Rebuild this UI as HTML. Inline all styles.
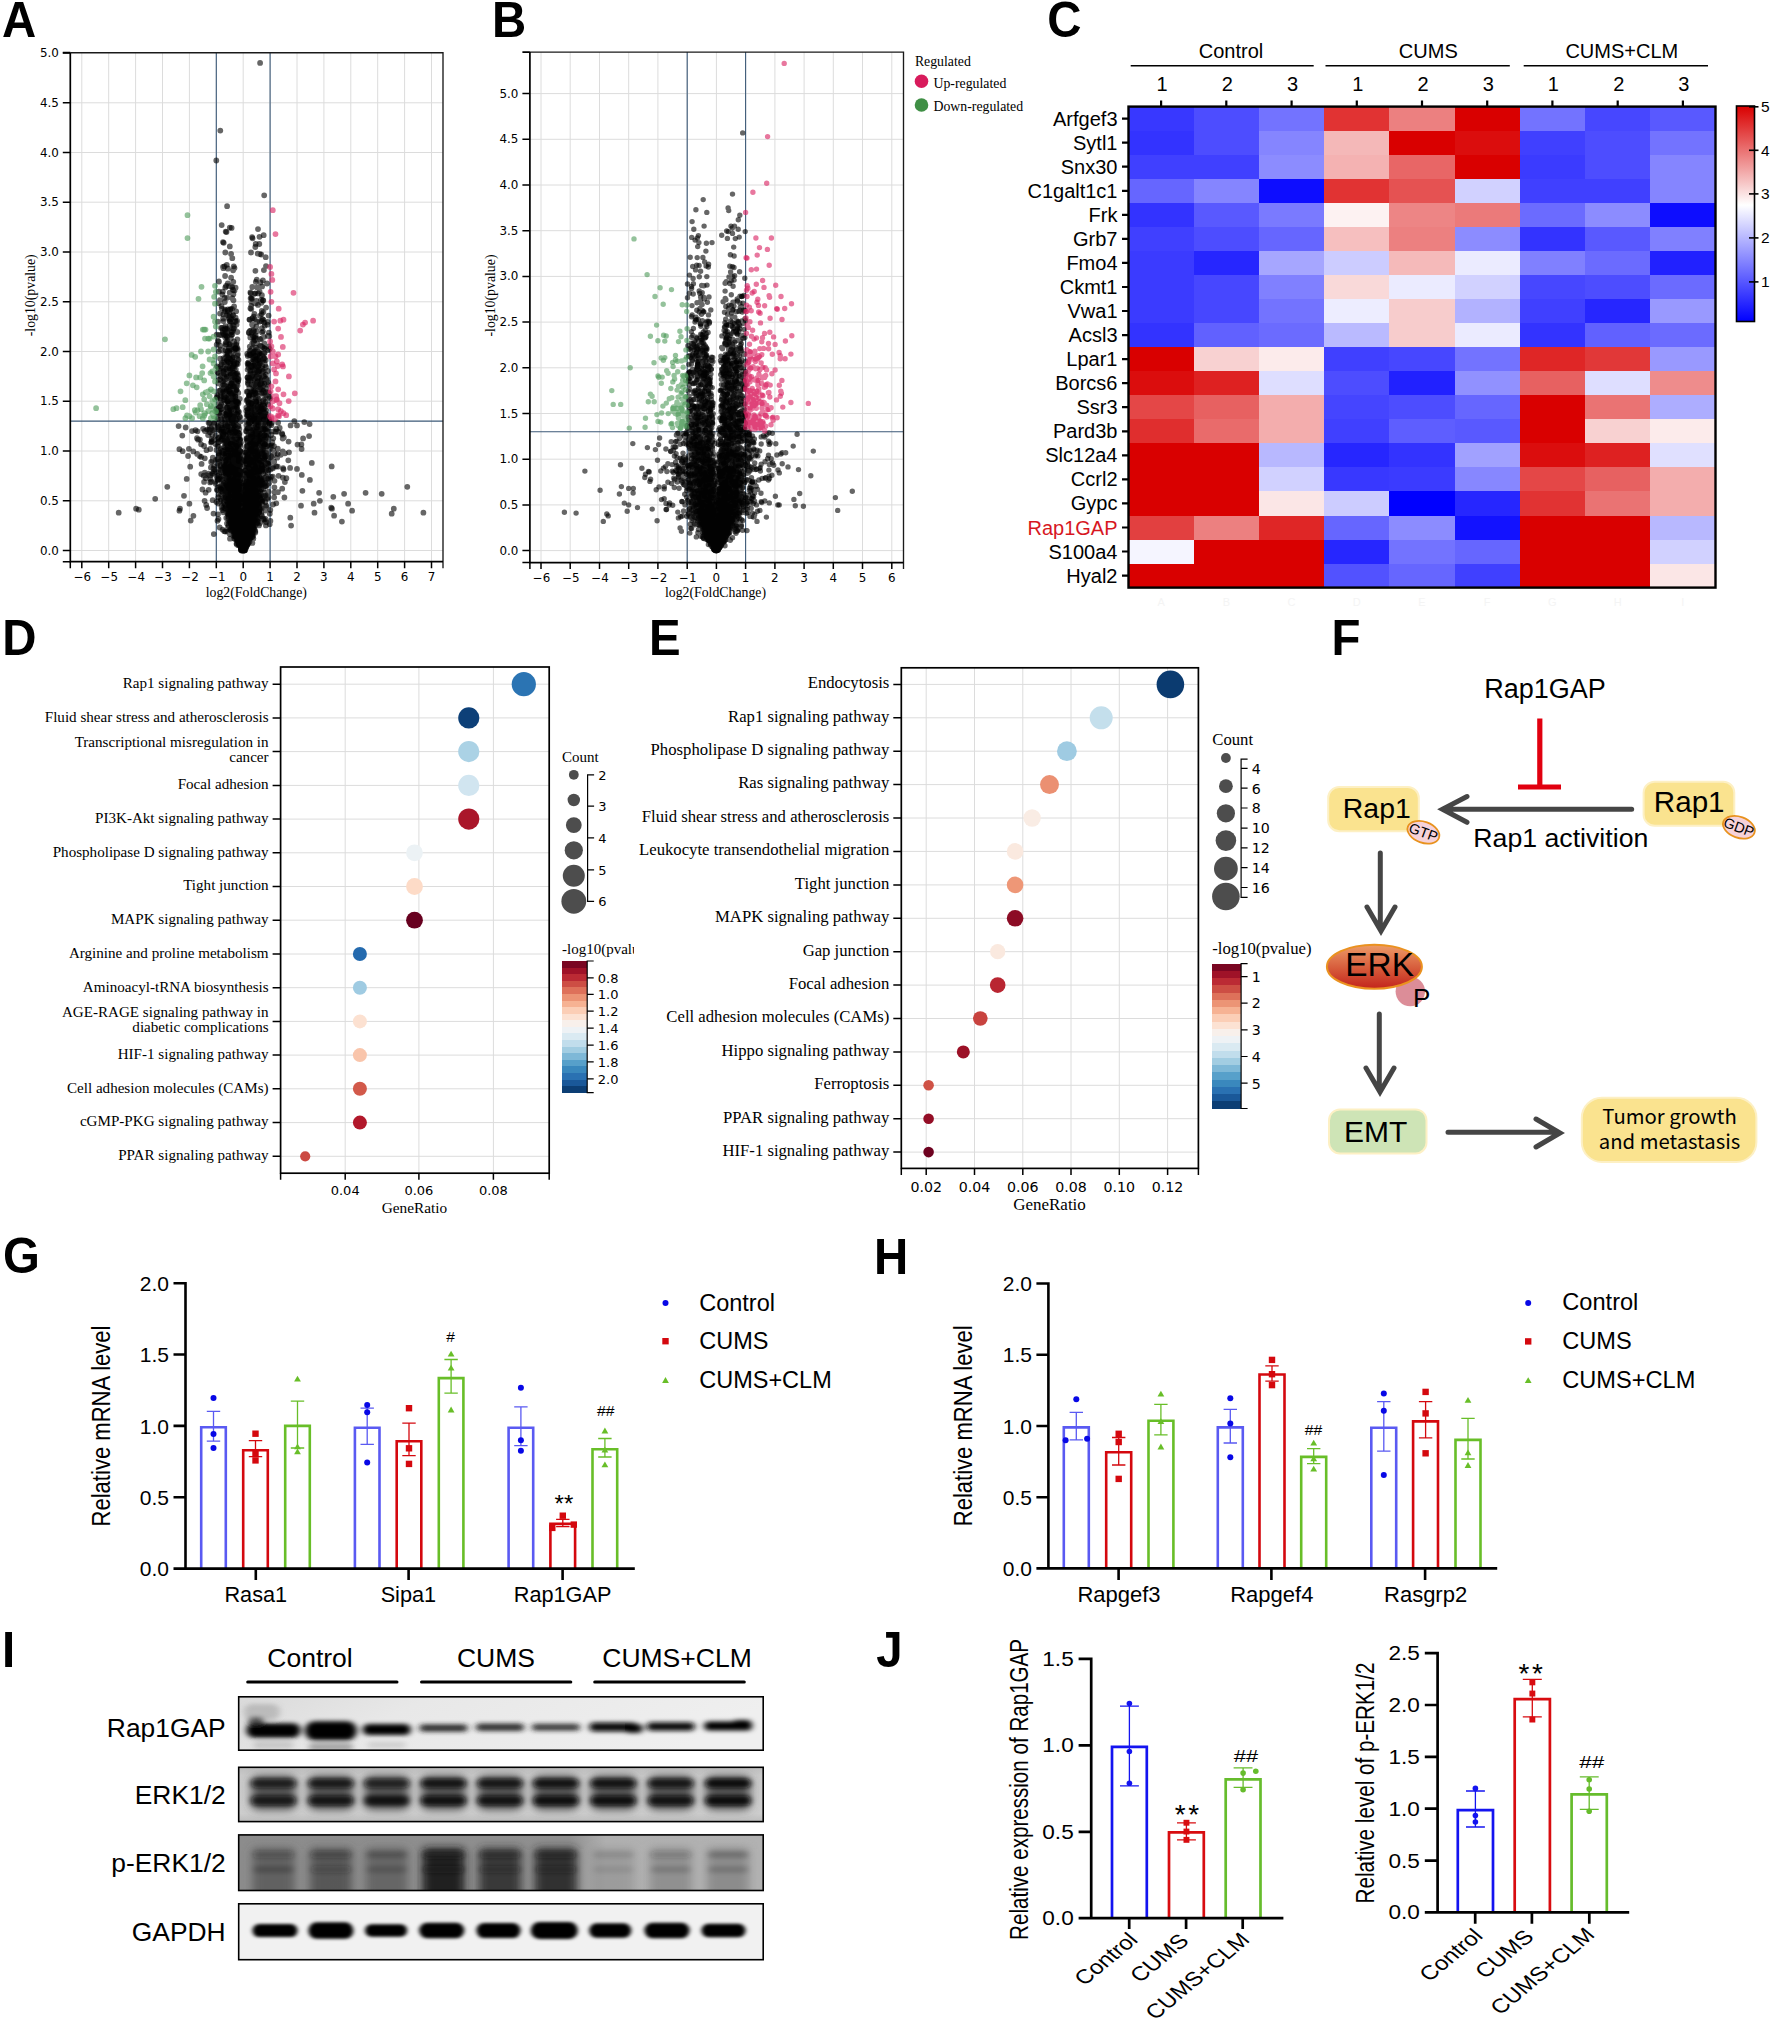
<!DOCTYPE html>
<html lang="en"><head><meta charset="utf-8"><title>Figure</title><style>html,body{margin:0;padding:0;background:#fff}svg{display:block}text{white-space:pre}.s{font-family:'Liberation Sans',Arial,sans-serif}.t{font-family:'Liberation Serif','Times New Roman',serif}.d{font-family:'DejaVu Sans','Liberation Sans',sans-serif}.y{font-family:'Noto Sans CJK SC','DejaVu Sans',sans-serif}</style></head><body>
<svg width="1772" height="2024" viewBox="0 0 1772 2024">
<rect width="1772" height="2024" fill="#fff"/>
<path d="M81.8 52.7V561.7M108.7 52.7V561.7M135.6 52.7V561.7M162.5 52.7V561.7M189.4 52.7V561.7M216.3 52.7V561.7M243.2 52.7V561.7M270.1 52.7V561.7M297 52.7V561.7M323.9 52.7V561.7M350.8 52.7V561.7M377.7 52.7V561.7M404.6 52.7V561.7M431.5 52.7V561.7M70.3 550.5H443M70.3 500.8H443M70.3 451H443M70.3 401.2H443M70.3 351.5H443M70.3 301.8H443M70.3 252H443M70.3 202.2H443M70.3 152.5H443M70.3 102.8H443" stroke="#dcdcdc" stroke-width="1" fill="none"/>
<path d="M216.3 52.7V561.7M270.1 52.7V561.7M70.3 421.1H443" stroke="#3d5a78" stroke-width="1.1" fill="none"/>
<path d="M261.6 415.3h0M244.5 547.6h0M234.2 525.6h0M224.6 422.6h0M232.9 513.6h0M182.3 435.6h0M234.9 527.4h0M232.2 514.5h0M252.5 406.7h0M261.7 381.8h0M249.9 427.5h0M253.6 336.8h0M245.5 536.9h0M246.4 438.9h0M234.4 531.2h0M232.6 473.3h0M219.9 465.5h0M236.1 476.1h0M246.4 522.6h0M248.4 501.8h0M244.4 545.7h0M223.5 378.5h0M237.3 527.2h0M250.5 503h0M262.9 455.2h0M232 489.2h0M239.2 477.2h0M234 403.8h0M249.6 487.1h0M238.5 538.6h0M235.6 529h0M227.1 412.5h0M261.4 371.8h0M266.1 382.5h0M259 483h0M252.5 507.9h0M243 550.4h0M249.8 515.9h0M248.2 452.3h0M247.4 536h0M236.7 527.5h0M247.6 517.3h0M232.3 502.6h0M247.7 531.3h0M234.6 527.9h0M247.3 471.6h0M237.7 484.5h0M245.1 542.3h0M226.1 342.2h0M278.1 431.7h0M229.8 246.4h0M232 499.5h0M254.8 523.1h0M229.6 321.3h0M234.5 381.6h0M238.5 531.5h0M240.5 533.9h0M231 500h0M237.6 385.6h0M228.2 515.5h0M250.5 516.5h0M252.1 367.2h0M243 545.9h0M251 447h0M255.7 523.4h0M249.9 490h0M218.6 341.7h0M258.7 433.6h0M224.6 493.6h0M243.4 550h0M266.4 379.7h0M233.8 528.7h0M211.8 426.9h0M250.6 495h0M264.6 428.2h0M227.9 268.7h0M246.1 540.2h0M241.2 535.3h0M238.6 433.5h0M245.5 525.4h0M237.4 355.5h0M236.4 432.4h0M252.6 374.9h0M221.4 466.2h0M241.7 533.4h0M229.1 410.9h0M245.4 527.8h0M251 463.5h0M240.6 532.4h0M232.2 298.2h0M250.6 351.2h0M250.4 441.9h0M246.1 451.6h0M244.7 486.9h0M244.2 523.6h0M246.4 543.2h0M237.3 521.6h0M255.3 415.2h0M251.5 336.7h0M235.9 493.7h0M267 283.5h0M243 548.9h0M232.9 515.5h0M243.5 549.4h0M264.4 458.3h0M246.4 540.6h0M236.2 445.9h0M263.5 390.8h0M247.1 537.4h0M266.4 436.1h0M241.5 531.5h0M236.8 363.1h0M248.9 532h0M251.1 437h0M238.2 491.8h0M251 533.8h0M236.1 508.2h0M234.7 482.7h0M259.2 402.5h0M252.1 469.5h0M244.6 541.5h0M254.9 510.9h0M234.3 344.1h0M252.3 411h0M254.5 505.2h0M248.1 492.7h0M239.6 494.6h0M282.4 434.7h0M197.2 453.9h0M242.9 549.7h0M242.7 548.1h0M232.9 491.3h0M244.2 547.7h0M236.2 507.1h0M240.1 522.3h0M261.2 420.4h0M240.9 540.6h0M253 509.9h0M241.4 535.1h0M237.4 508.5h0M240.1 501.1h0M245.1 540.5h0M236 524.1h0M227.4 463.2h0M239.1 542.3h0M251.9 353.7h0M233.3 403.2h0M234.9 506.3h0M230.8 523.4h0M252.8 484.8h0M393.8 508.7h0M219 453.4h0M225.1 329.2h0M238 531h0M263.4 473.4h0M219.3 334.9h0M238.1 439.2h0M249.7 490.9h0M236.8 407.9h0M221.9 426.3h0M248.7 528.9h0M255.9 469.8h0M265 495.9h0M240.6 543h0M231.4 419.1h0M247.2 501.4h0M244.9 537.2h0M252.9 514.3h0M248 531.5h0M256.5 300.9h0M240.9 530.3h0M236.8 454h0M241.9 548.9h0M252.5 471.4h0M231.1 254h0M241 549.4h0M243.9 547.3h0M263.9 423h0M254.5 366.9h0M253.3 508.6h0M219.7 527.5h0M227.1 297.8h0M238 514.8h0M233.4 525.5h0M227.5 490.7h0M262.3 455.4h0M219.8 486.6h0M246.2 497.8h0M242.1 548.5h0M246.6 529.9h0M218 479.2h0M263.1 449.8h0M242.2 543.1h0M227.7 450h0M250.6 498.8h0M262.9 450.5h0M239.5 439.6h0M234.5 526.3h0M257.3 407.5h0M262.2 408.7h0M248.7 498.9h0M264.9 468h0M243 547.7h0M240.1 522.1h0M221.5 363.1h0M241.5 502h0M252.9 531.2h0M276.3 466.3h0M245.6 490.2h0M232.7 471.4h0M237.2 529h0M242.8 534.8h0M228.4 516.7h0M246.2 509.1h0M235.8 532.8h0M250.8 517.3h0M242.5 538.6h0M248.1 472.8h0M259.1 458.6h0M257.2 427.8h0M232.4 381.9h0M257.4 459.9h0M243.8 520.1h0M250.5 533h0M242.6 542.2h0M220.1 366.3h0M236.8 539.7h0M254 303h0M251 515.9h0M242.8 533.3h0M253.6 523.2h0M244.2 528.5h0M232.5 502.6h0M244.7 543.4h0M232.2 521.9h0M234.7 350h0M253.8 508.3h0M244.5 517h0M252.5 427.7h0M235.9 531.5h0M252.7 532.7h0M250.5 515.8h0M178.6 426.1h0M253.1 524.6h0M239.9 540.2h0M259.7 475.1h0M238.9 515.7h0M220.1 406.4h0M240 515.5h0M240.3 539.9h0M237.5 398.7h0M248 537.2h0M245.4 542.2h0M251.6 534h0M259.9 452.8h0M236.5 389.5h0M241.1 542.1h0M247.5 541.4h0M205.6 492.7h0M302.4 490.8h0M235.8 514.9h0M232.8 357.6h0M241.5 541.9h0M240.2 480.2h0M260.3 370.7h0M234.4 452.7h0M245.9 530.7h0M254.5 496h0M243.7 543.3h0M243.2 537h0M243.7 547.6h0M246.6 530.5h0M241.3 542.5h0M278.1 422.7h0M254.4 512.6h0M231.4 477.8h0M238.8 519.3h0M249.7 465h0M243.4 549.2h0M224.1 380.8h0M251.2 475.5h0M246.2 545.1h0M271.7 445.3h0M244.6 528.3h0M230 479.8h0M257.8 479.9h0M243.5 549.6h0M242.5 549.6h0M246.2 543.4h0M253.5 472.3h0M239.4 458.6h0M236.2 495.9h0M245.8 538.5h0M242.1 547.1h0M249.3 461.2h0M246 539.4h0M235.6 528.2h0M240.1 545.4h0M221.7 507.8h0M235.2 405.8h0M243.3 530.7h0M255.2 392.7h0M239.4 540h0M243.9 543.6h0M244.7 505.7h0M248.7 490.2h0M242.8 531h0M236.9 487.4h0M238.5 532.3h0M234.2 483.7h0M244.5 546.2h0M232.8 505.6h0M257.8 352.4h0M240.2 497.9h0M236.6 517h0M251.2 301.5h0M252.1 503.1h0M248.2 527h0M251.4 527.8h0M218.4 383.4h0M249.3 531.9h0M235.2 418h0M255.1 441.4h0M232.6 367.4h0M265.6 465.3h0M251.5 508h0M247.5 523.5h0M233.2 493.2h0M256 427.7h0M246.2 543.7h0M228.9 414.5h0M248.4 506.6h0M246 540h0M233.3 517h0M246.1 493.6h0M237.1 522.2h0M238.4 516.2h0M247.8 542.2h0M246.3 446.6h0M257.4 513h0M244.7 544.5h0M233.3 502.6h0M234.4 413.4h0M231.8 485.2h0M244.8 531.9h0M226.5 232.1h0M252.7 498.4h0M229.5 521.8h0M226 455.5h0M244.5 514.8h0M261.6 314.1h0M247.4 469.6h0M230.3 346.4h0M252.2 460.9h0M248.6 503.3h0M231.2 504.3h0M255.4 432.3h0M216.6 427.3h0M238.5 456.3h0M236.5 399.6h0M242.5 537.2h0M246.2 536.8h0M243.5 545.5h0M221.8 386.2h0M232 515.8h0M245.9 528.3h0M254.8 491.4h0M256 509h0M251.9 512.2h0M232.3 526.9h0M240.6 527h0M243.9 544.3h0M252.7 472.4h0M241.2 545.9h0M138.8 509.7h0M241.2 518.1h0M234 491h0M234.9 507.7h0M228.6 466.2h0M255 481.8h0M245.3 546.8h0M256.1 448.5h0M246.9 537.7h0M251.3 451.6h0M352.1 510.7h0M253.3 506.8h0M250.7 459.7h0M255.8 444.5h0M239.9 532.5h0M247.8 527h0M240.9 544.3h0M238.9 490.3h0M242.1 547.3h0M248.4 539h0M241.5 547.3h0M233.5 468.5h0M253.3 465.4h0M230 470.1h0M241 545.1h0M248.7 526.2h0M236.9 537.4h0M245.4 470.6h0M254.2 371.5h0M246.7 535.9h0M256.4 505h0M248.1 380.5h0M231.3 451.2h0M235.6 518.6h0M230.4 414.9h0M248.7 496.3h0M219.6 463.8h0M256.6 522.9h0M242.3 542.7h0M247.2 515.8h0M243.1 547.3h0M237.9 400.8h0M253.5 522.2h0M227.1 401.1h0M341.9 521.6h0M240.3 539.1h0M249.6 478.8h0M224.1 391.5h0M245.3 507h0M238 528.5h0M240.6 540.7h0M231.5 466.8h0M220.8 374h0M243.7 550.3h0M250.9 525.6h0M238.7 520.1h0M238.6 522.3h0M222.2 436h0M240.3 540.7h0M251.2 524.7h0M218.4 373.3h0M248.8 505.6h0M235.4 534.4h0M239.3 520.3h0M230.1 512.1h0M225.2 309.7h0M272.8 476.6h0M212.9 431.2h0M252.6 518h0M235.6 529.6h0M264.3 444.1h0M219.4 412.6h0M231.4 473.5h0M255.1 466.2h0M241.4 526.5h0M246.8 535.1h0M234.7 498.4h0M226.5 500.9h0M234.4 520.2h0M226.5 385.8h0M251.8 477.8h0M227 398.9h0M263.8 370.7h0M212.4 473.4h0M244.3 540h0M254.3 525.4h0M244.6 528.4h0M290.1 467.9h0M241.1 545.3h0M246.7 536.3h0M230.6 373h0M235 522.7h0M228.6 465.4h0M246.2 504.5h0M331.7 466.4h0M239.8 536.9h0M235.3 502.6h0M223.3 314.5h0M237.8 534.4h0M274.5 480.8h0M244.1 548.5h0M246 539.5h0M232.6 475h0M228.9 484.7h0M250.1 509.1h0M262.3 516.9h0M245.8 536.9h0M223.6 485.3h0M235.5 484h0M242.5 550.2h0M236.9 480h0M240.8 542.1h0M247 545.4h0M225.4 496.5h0M244.7 516.2h0M255.6 455.2h0M234.3 515.8h0M244.6 485.4h0M231.6 528.6h0M251.2 529.4h0M247.1 540.6h0M249.3 529.5h0M254.6 467.7h0M264.4 348.3h0M259.3 359.4h0M234.1 431.6h0M245.4 532.9h0M248.3 501.3h0M236.1 526h0M244 548.4h0M247.5 512.8h0M232.4 506.4h0M255 435.8h0M240.4 528.3h0M260.1 414.6h0M238.1 535.6h0M260.1 339.2h0M234.4 518.9h0M244.1 549.4h0M248 520.9h0M257.7 253.6h0M249.3 488.8h0M234 421.3h0M229.5 484.9h0M243.2 538.5h0M231.3 420.1h0M240.7 527.7h0M250.9 512.6h0M255.3 409.7h0M212.3 434.9h0M243.7 548.4h0M247.3 467.9h0M241.8 547.3h0M237.4 347.9h0M244.5 542h0M251.2 491.6h0M248.5 538.8h0M242.7 544.5h0M230 483.8h0M251.7 515.2h0M235.8 526.3h0M259.3 508.1h0M222.7 492.2h0M244.4 533.6h0M239.2 501.7h0M238.8 518.7h0M240.5 498.2h0M232.7 393.1h0M235.9 512.9h0M243.5 549.9h0M240.3 543.6h0M255.4 467.6h0M261.4 496.1h0M226.2 460.9h0M226.5 486.1h0M241.4 471.6h0M252.9 520.4h0M251.6 300.8h0M236.6 324.5h0M249.4 518.9h0M242.8 548.7h0M223 429.5h0M249.7 450.5h0M247.6 520.6h0M244.6 546h0M250.4 515.5h0M233.8 393.9h0M254 440.2h0M250.2 534.2h0M235.6 504.4h0M245.5 506.9h0M228.2 489.4h0M301 505.7h0M229.4 383h0M244.2 545.7h0M256.3 425.1h0M268.1 478.7h0M240.1 540h0M255.6 487.1h0M243.4 538h0M246.6 541.9h0M242.9 543h0M245.1 537.5h0M257.3 395.3h0M244.4 518.9h0M242.1 544.8h0M250.6 298.3h0M240.5 517.5h0M236.4 380.6h0M234.8 508h0M223.6 428.8h0M232.3 258.2h0M244.7 536.7h0M254 451.4h0M264.5 520.3h0M239 411.8h0M241.7 519.3h0M252.1 489.7h0M233.2 342.8h0M274.4 487.3h0M218.3 437.9h0M230 502.2h0M253.9 514.3h0M265.4 501.9h0M243.7 538.4h0M250.9 466h0M241.4 545.6h0M238.7 495.3h0M244.9 536.5h0M237.7 483h0M237.4 524.4h0M232.4 469.1h0M239 533.1h0M224.7 469h0M245.2 496.7h0M242.8 542.1h0M246.8 391.7h0M234.3 513.8h0M240.8 492h0M257.2 502.7h0M235.7 454.5h0M254.2 481.6h0M244.8 529h0M255.2 499.8h0M230.6 480.2h0M224.8 302h0M240.5 530.6h0M244.5 545.5h0M246.9 518.1h0M227.8 465.1h0M244.1 542.4h0M238.1 485.7h0M234.9 495.1h0M238.2 511h0M242 548.2h0M240.1 471h0M254.7 446.9h0M237.9 522h0M247 522.7h0M236 520.1h0M239.1 532.2h0M238.1 541.2h0M244.9 546.5h0M251.1 476.1h0M246.3 537.9h0M239.2 534.9h0M240.2 530.6h0M243.5 535.2h0M245.5 532.1h0M227.6 315h0M238.1 517.2h0M225.5 488.3h0M254.2 474h0M260.1 422.6h0M223.8 396.1h0M243.5 540.1h0M257.9 511.3h0M236.3 499.2h0M255.6 427.4h0M241.3 542.1h0M257.2 440.3h0M235.8 486.6h0M239.4 474.4h0M241 546h0M242 525.8h0M245.2 531.6h0M232.9 476.6h0M262.3 452.2h0M235.2 521.1h0M218.8 351.3h0M221.6 505.4h0M252.3 449.3h0M242.3 544.1h0M258.7 500h0M242.6 522.3h0M251.8 429.4h0M232.2 475.1h0M246.6 536.9h0M244.1 542.1h0M247 472.2h0M253.9 365.5h0M234.9 382.1h0M242.9 544.7h0M237.4 373.5h0M228.4 379.9h0M267.4 384.7h0M233.2 503.7h0M262.5 483.1h0M239.1 532h0M230.6 517.7h0M236 529.3h0M240.9 537.3h0M246.1 448.4h0M219.2 461.6h0M229.1 506h0M239.7 503.7h0M247 459.7h0M241.8 544.4h0M223.2 362.4h0M274.2 431.4h0M250 508.4h0M251.7 517.3h0M230.7 361.5h0M225.5 335.3h0M254.7 445.3h0M246.3 508.2h0M236.7 538h0M249.6 443.9h0M243.4 538.5h0M226.7 423.6h0M235.6 447.6h0M246 542.5h0M259.4 510.5h0M244.1 540.8h0M238.7 541.4h0M232.9 386.2h0M231.6 482.1h0M248.6 364.1h0M243 544.8h0M249.2 492h0M237.6 474.3h0M233.1 529.1h0M236.7 470.1h0M234.4 531.9h0M245 544.4h0M248.9 530.6h0M244.9 532.4h0M247.8 486.3h0M223.6 434h0M247.7 428.3h0M234.1 341.4h0M247.5 457.3h0M245.8 532.6h0M245.1 541.7h0M241.2 521h0M240.9 495.4h0M253.3 394.8h0M242.7 549.7h0M250.7 366.5h0M225.4 453.5h0M240.3 529.6h0M255.9 458.9h0M237.1 488.9h0M257.9 467.8h0M226.4 489.2h0M242.5 549h0M259.3 352.2h0M241.6 546.5h0M242.4 545.2h0M259 525.4h0M259.5 416.7h0M236 526.7h0M228.4 393.7h0M262.2 468.7h0M249.4 319.6h0M228.1 426.8h0M256.7 504.6h0M257.7 512h0M252.4 524.9h0M261.6 379.9h0M247.4 539.8h0M249.5 525.9h0M252.5 519.4h0M239.8 398.8h0M239.4 470.7h0M255.2 512.3h0M240.5 527.9h0M240.8 545h0M239.1 511.9h0M260 470.2h0M224.9 456.2h0M242 495.3h0M254.2 515.2h0M253.5 462.9h0M243 546.7h0M250.6 495.3h0M263.5 409.5h0M252.7 463.5h0M245.3 545.9h0M248.2 535.3h0M235.2 516.7h0M234.3 449.3h0M240.9 532.6h0M259.6 434h0M248.4 437.1h0M241.9 534.9h0M265.9 438.1h0M241.3 541.1h0M233.1 481.5h0M230.4 510.2h0M230.3 349.2h0M236.9 523.5h0M266.5 467.7h0M241.6 541h0M249.3 498.7h0M237.8 478.1h0M233.1 477h0M258.1 508.3h0M245.6 533h0M250 506.2h0M246.1 544.4h0M235.2 495.4h0M245.4 538.5h0M261.9 461.1h0M261.4 484.4h0M242.5 532.4h0M251.8 451.4h0M241.5 501.3h0M252.8 525.7h0M234.6 382h0M264.3 439.2h0M246.5 539h0M240.2 497.6h0M229.5 403.7h0M227.8 460.7h0M226.1 473.5h0M228.3 498.3h0M230.8 454.9h0M251 470.7h0M258 492.2h0M230.4 503h0M234.4 487h0M246.2 510.7h0M217.1 397.8h0M223.7 429.8h0M237.8 514.7h0M239 542.6h0M248.8 523.9h0M258.3 400.7h0M237.1 320.9h0M231.4 423.3h0M237.7 501.7h0M238 537.7h0M255 453.5h0M254.2 439.4h0M242.9 548.7h0M242.1 546.9h0M256.8 499.4h0M236.4 537.8h0M243.8 545.3h0M260.4 479.3h0M240.2 542.8h0M249 540.1h0M261.6 515.2h0M240.6 526h0M257.7 398.6h0M244.1 550.4h0M247.7 526.5h0M231.3 508.9h0M252 531h0M238.7 461.1h0M238.9 544.2h0M245.5 545.5h0M247.4 529.1h0M243.5 549.1h0M231.6 497.5h0M229 463.8h0M235 516.8h0M259.6 498.2h0M239.2 542.3h0M228 494h0M245.8 532.9h0M236 502.4h0M249.9 520.3h0M251.1 524.1h0M254.1 483.1h0M242.7 548.7h0M243.4 538.1h0M248.7 513.9h0M257.9 465.6h0M240.6 515.1h0M236.2 420.2h0M243.3 547.7h0M250.3 516.1h0M254.9 402.1h0M254.9 514.8h0M303.1 438.4h0M283.1 468.2h0M255.3 479.9h0M258.1 419.4h0M238.6 523.9h0M257.9 496.9h0M243.2 547.7h0M232.9 491.3h0M256.7 506.7h0M247.6 521.6h0M237.6 519.7h0M244.4 545.8h0M229.8 407.3h0M262.1 500.1h0M241.1 534.9h0M255.3 372.1h0M238.4 525.1h0M261.7 393.8h0M301.6 449h0M247.3 531.3h0M258.2 439.6h0M253.9 479.9h0M250.3 523h0M247.5 452h0M247.7 531.2h0M244.2 527h0M246.2 540.4h0M241.8 548.7h0M240.1 535.3h0M234 490.5h0M234.6 513.4h0M258.7 369.5h0M254 461.2h0M243.2 546.4h0M238.8 536.7h0M236.8 521.9h0M237.2 531.6h0M229.9 490.8h0M247 502.8h0M230.5 443.9h0M231.6 450.1h0M262.6 499.3h0M234 342.2h0M233.9 325h0M230.9 483.9h0M239.2 476.2h0M259.2 441.4h0M245.5 514.5h0M244.2 548.9h0M230.9 513.4h0M216.3 160.5h0M227.9 268.5h0M268 463.3h0M245.8 522.3h0M248.2 533.1h0M251.7 444.6h0M244.1 550.4h0M252.5 359.2h0M239 451.2h0M251.1 419.5h0M246.6 505.6h0M250.5 336.3h0M257.1 406.6h0M241.7 528.3h0M255.9 463.1h0M255 480.1h0M232.5 513.9h0M242.3 545h0M242.3 546.9h0M257.9 360.2h0M235 535.9h0M182.6 451.2h0M238.2 509.3h0M233.8 524.2h0M234.4 413.4h0M261 484.6h0M235.7 485.2h0M228.7 404h0M243.9 550.2h0M235.7 531.1h0M234 530.2h0M238.7 533.7h0M238.2 532.7h0M247.8 519.2h0M266.2 421h0M244.2 536.1h0M249.8 518h0M258.2 495.8h0M257 359.3h0M248.5 506.3h0M232.4 371.5h0M236.8 471.1h0M233.1 315.4h0M258.2 404.6h0M234.4 382.1h0M247.8 541.8h0M247.7 538.9h0M247.8 455.4h0M277.7 454.1h0M260.1 384.5h0M235.5 525h0M264 445.2h0M242.5 549.5h0M228.3 361.9h0M235.6 519.3h0M263.4 375.5h0M266.9 430.8h0M239.5 486.1h0M252.7 498.7h0M240.7 547h0M250.7 510.8h0M239.7 510.9h0M229.2 474.4h0M245.1 544h0M226.2 464.9h0M265.3 486.1h0M226.7 387.8h0M254.8 520.7h0M224.6 331.7h0M247.7 530.5h0M236.4 534h0M238.6 498.5h0M207.2 429.6h0M233.7 521.7h0M256 496.6h0M248.7 482.4h0M243.8 538.7h0M234.2 504.8h0M250.1 530h0M251.2 525h0M224 400.3h0M235.3 502.6h0M243.2 547h0M269.7 431.4h0M234.1 406.7h0M245.9 543.4h0M243.2 549h0M238.9 544.4h0M243.2 535.9h0M233.5 346.7h0M214.1 423.6h0M257.8 460.1h0M247.9 539.6h0M229.5 432.7h0M243.3 549.6h0M256.5 473.1h0M226.1 285.9h0M228.4 458.2h0M230.3 529.7h0M259.2 461.9h0M233.8 519.1h0M251 377.9h0M232.7 444.6h0M236.3 496.3h0M253 510.8h0M249.1 396.9h0M251.1 402.9h0M247 510.7h0M250 502.8h0M250.3 536.1h0M252.7 407.9h0M244.6 546.7h0M407.3 486.8h0M239.8 490.1h0M222.8 491.5h0M250.3 337.5h0M240.4 536.6h0M238.8 458h0M246.8 541.6h0M235.2 521.8h0M247.2 353.9h0M240.4 518.5h0M249.7 528.8h0M238.6 528.1h0M254.3 504.7h0M241.8 547.7h0M234.6 520.1h0M229.5 503.9h0M255.7 429.1h0M238.5 454.6h0M244.5 526.7h0M253.7 420.7h0M226.7 470.9h0M237.4 518.8h0M251.8 504h0M238.8 533.6h0M241.1 536.9h0M252.9 506.6h0M244.8 541.7h0M239.8 540.4h0M242.4 545.2h0M266 367.1h0M257.9 454.1h0M185.7 427.5h0M237.5 525.6h0M240.7 536.9h0M237.9 539.9h0M236.4 535.6h0M240 526.3h0M239.6 535.4h0M238.2 447.5h0M241.3 512.9h0M246.1 494.9h0M238.3 534.2h0M243.5 546.7h0M238.2 521.5h0M234.8 425.8h0M241 514.8h0M230.3 309.1h0M239.1 532.9h0M245.2 539.6h0M233.4 516.8h0M240.7 515h0M250.1 512.2h0M244 545.7h0M236.9 473.3h0M246.4 531.6h0M250.4 504.3h0M255.1 351.1h0M239.9 539.7h0M249.5 530.4h0M246.5 529.4h0M245.7 526.5h0M223.7 371.3h0M255.4 491.3h0M232.2 287.1h0M240.7 510.8h0M244.8 508.4h0M247.4 399.8h0M244.4 546.7h0M246.3 493.9h0M252.5 445.2h0M260.1 356.6h0M220.8 425.1h0M235.7 529.6h0M190.7 520.6h0M238 503.2h0M251.9 392.6h0M252.5 466.6h0M245.4 461.3h0M256.3 470.9h0M253.6 475.4h0M199.6 456.1h0M239.4 540.4h0M241.3 490.7h0M246.3 533.1h0M243.7 549.2h0M245.7 530.5h0M233.5 300.3h0M238.6 518.3h0M249.1 375h0M240.4 451.2h0M246.3 537.5h0M254.7 462.6h0M227.6 472.3h0M236.9 515.2h0M243.9 542.5h0M180 508.7h0M247.8 534.7h0M256 510.5h0M250 418.2h0M244.8 492.5h0M228.8 348h0M247.4 524.3h0M263.3 300.5h0M224.4 376.8h0M238.6 501.3h0M236.4 530.7h0M251 530.9h0M246 539.5h0M247.5 528.1h0M241.7 545.2h0M224.9 457.4h0M234.7 363.9h0M247.2 509.9h0M255.9 303.3h0M234.2 487.4h0M251.6 410.5h0M247.7 412.4h0M255.8 498.4h0M218 514.3h0M253.4 479.8h0M289 452.3h0M223.9 371.6h0M219.4 452.3h0M249.7 475.2h0M236.4 503.8h0M245.4 511.7h0M235.7 484.8h0M266.1 416.2h0M243 544.1h0M238.1 506.3h0M211.2 462h0M241.1 530.8h0M264.3 322.6h0M248.7 518.8h0M245.6 542h0M242 543.8h0M247.2 513.8h0M239.5 538.6h0M244.4 543.9h0M237.2 470h0M247.8 497.4h0M242.9 550.4h0M259.7 254.1h0M247.2 452.8h0M258.8 504.9h0M236.5 482.5h0M245.5 515.8h0M249.4 460.5h0M251.2 532.2h0M238.3 534.8h0M250.1 506.2h0M246.9 498.9h0M256 491.4h0M233.1 508.5h0M240.5 539.7h0M238.4 518.6h0M244.5 549.6h0M224.3 531.2h0M242.8 537h0M238.6 540h0M238.5 540h0M229.8 381.9h0M266.4 522.2h0M235.4 488.5h0M254.7 490.6h0M253 480.2h0M235.9 499.3h0M233.3 506.7h0M259 471.4h0M226.6 490.9h0M237.9 519.9h0M241 528.2h0M231.3 509.9h0" stroke="#000" stroke-opacity="0.6" stroke-width="5.8" stroke-linecap="round" fill="none"/>
<path d="M241.1 532.7h0M242.3 548.7h0M243.1 529h0M230.2 358.9h0M249.3 526.7h0M241.6 541.2h0M229.4 474h0M233.7 522.8h0M269.7 462.6h0M237.8 533.6h0M228 509.1h0M229.4 344.2h0M254.4 426.8h0M271 477h0M238.2 523.5h0M241.6 538.6h0M248.1 516.7h0M231.3 463.8h0M237.4 526.2h0M252.6 512.9h0M244.5 537h0M236.8 425.5h0M219.2 474.1h0M232.6 524.2h0M227.9 333.7h0M243.7 549.9h0M252.4 491.9h0M237.6 537.6h0M245.2 545.3h0M253.4 512.3h0M224.5 416.6h0M253.1 451.8h0M268.2 451.4h0M333.3 496.8h0M210.4 478.8h0M240.5 521.6h0M232.6 484.4h0M250.3 491.7h0M244 545.7h0M240 537.8h0M221.1 397.4h0M229.3 391.1h0M241.4 511.7h0M232.2 453.4h0M220.1 390.7h0M251 252.5h0M229.2 386.9h0M254.7 519.4h0M246.2 515.8h0M245.5 541h0M234.6 514.4h0M255.6 499.3h0M245 535.2h0M240.1 516.6h0M252.2 514.9h0M270.3 510h0M239.9 513.3h0M241 537.6h0M238.2 541h0M241 540.1h0M242.9 546.3h0M283.8 437.4h0M248.2 517.3h0M246.8 517.3h0M237.4 481.3h0M250.1 476.6h0M241.3 549h0M242.1 545.8h0M234.6 417h0M231.5 524.8h0M241.2 536.7h0M243.1 549.5h0M262.3 355.9h0M230.8 498.6h0M239.3 517.9h0M250.8 501.4h0M262.5 319.1h0M260.1 62.9h0M219.8 440.4h0M242.3 541.2h0M232.8 490.8h0M228.1 507.9h0M229.7 461.5h0M238.7 541.4h0M251.8 530.4h0M227.7 492h0M256.9 374.5h0M252.8 325.2h0M262.4 365.8h0M248 428.4h0M237.9 531.3h0M240.3 539.8h0M242.5 541.8h0M238.3 508.1h0M235.5 528.5h0M263.5 423.5h0M250.2 532.2h0M250.4 533.1h0M228.3 474.4h0M240.8 542.1h0M256.7 279.7h0M245.1 494h0M248.3 537h0M248 530.8h0M215.3 481.8h0M231.7 422.8h0M202.4 489.5h0M247.7 480.1h0M259.3 446.6h0M235.9 432.2h0M265.9 416.4h0M240 545.9h0M235.4 518.7h0M257.1 407h0M236.2 311.3h0M232.3 417.2h0M240.7 532.7h0M240.9 523.3h0M241.7 536.1h0M237.2 512.5h0M232.3 416.6h0M235.2 510.3h0M234 445.9h0M228.9 471.5h0M233.8 487.4h0M235.1 526.7h0M243.7 543.8h0M246.8 517.5h0M261.5 376.8h0M242.5 546.2h0M234.4 506.5h0M247.5 509.8h0M247 488.5h0M243.7 535.4h0M241.1 540.3h0M235.9 387.1h0M234.2 363.8h0M244.6 545.4h0M240.6 537.4h0M254 357.6h0M235.5 460.3h0M231.5 515.8h0M254.3 508.7h0M231.6 227.9h0M235.7 527h0M251.1 532.4h0M243.1 547.9h0M265.5 471.1h0M247.8 536h0M244 547h0M241 546.1h0M248.6 528.8h0M243.1 548.8h0M239.1 545h0M224.5 385.5h0M264.3 343.5h0M249.8 417.9h0M238.4 516.2h0M251.2 525.2h0M239.8 493.6h0M247 495.2h0M267.9 335.9h0M241.4 533.6h0M237.1 533.2h0M245 539h0M240.8 535.5h0M236.1 518.1h0M243.4 550.4h0M235.7 534.6h0M258.4 434h0M260.4 437.2h0M233.6 372.9h0M236.8 508.7h0M234.6 469.3h0M248.9 454.2h0M258.9 431.7h0M252.4 443.7h0M241.6 541.3h0M237.8 527.6h0M239.1 507.8h0M255.9 493.2h0M243.6 546.9h0M245.3 531.5h0M236 449.3h0M243.6 549.1h0M239.1 517.7h0M233.4 474.1h0M241 519.3h0M246 527.5h0M238 531h0M240.5 497.3h0M243.3 549.5h0M237.1 501.7h0M231 405.1h0M253.1 428.9h0M241.9 539.5h0M244.9 548.2h0M239.3 542.6h0M245.8 531h0M248.3 523.5h0M301.4 444.4h0M249.7 512.6h0M243.7 547.9h0M224.4 266.4h0M240.8 526.9h0M219 429.7h0M236.1 519.4h0M235.5 497.7h0M254.9 508.1h0M253.9 492h0M232.6 406.8h0M240.7 515.2h0M245.5 526h0M262.6 465.3h0M247 415.8h0M264.7 435.2h0M225.4 489.4h0M237.9 503.5h0M251.9 366.4h0M237.7 382h0M244.4 546h0M233.7 473.4h0M243.4 546.6h0M237.1 459.8h0M253.2 528h0M246.9 534.4h0M244 521.6h0M245.6 520.4h0M248.2 522.4h0M250.5 477.8h0M244.2 543.9h0M238.3 532.7h0M258.5 503.5h0M229.4 477.4h0M240.8 544.1h0M258.8 358h0M247.3 520h0M231.4 501.4h0M230.7 492.7h0M233.5 523.8h0M260.1 360.9h0M240.1 517.5h0M222.3 457.9h0M233.5 518.6h0M229.2 459.2h0M235 525.5h0M282.9 477.7h0M264.1 469.9h0M227.3 408.8h0M257.9 469.1h0M243.3 549.5h0M256 347.7h0M222.5 452h0M232.1 508h0M244 526.9h0M217.2 489.6h0M227.2 337.1h0M218 321.7h0M234.4 538.7h0M245.3 538.2h0M248.5 509.5h0M255.7 479.4h0M258.5 443.1h0M248.1 474h0M244.5 549.1h0M261.8 425.8h0M233.8 529.7h0M245 547.5h0M233.9 479.5h0M223.3 449h0M257.5 464.5h0M247.3 540.4h0M240.7 533.1h0M252.2 489.7h0M231.2 468.5h0M242.4 548.2h0M250.9 535.9h0M236.1 512.7h0M227.1 356.2h0M262.3 436.8h0M248.4 454.8h0M238.6 496.6h0M252.1 492.2h0M261.4 428.8h0M246.9 534.6h0M274.2 461.7h0M234.8 490.7h0M237.6 526h0M221.1 494.3h0M235.5 530.5h0M219.2 469.2h0M254.2 518.6h0M235.2 486h0M253.5 352.9h0M254.6 496.5h0M252.4 518.9h0M244.3 543.5h0M252.6 318.3h0M248 531.5h0M241.1 541.5h0M237.8 538h0M239.8 543.9h0M223.7 483.2h0M238.5 543.7h0M249.9 515.5h0M240.4 518.7h0M231.1 511.6h0M241.3 545.9h0M242.5 528.1h0M239.7 505.2h0M235.2 391.9h0M263.2 359.9h0M248.9 528.7h0M225.8 332.3h0M266.8 458.6h0M234.7 517.2h0M245 538.9h0M239.4 514.5h0M245.9 540.2h0M240.7 523.5h0M260.9 417h0M253.3 477.3h0M257.9 474.2h0M229.5 497.4h0M269.3 336.2h0M243 547.7h0M242.9 545.9h0M246.2 525.3h0M239 542.8h0M245.5 531.1h0M256.8 452.3h0M240.1 539.7h0M232.8 482.3h0M222.5 479.4h0M228.7 442.5h0M250.2 525.3h0M247.2 474.5h0M240.4 529.2h0M226.6 455h0M245.9 486h0M231.1 491h0M242.5 549.5h0M264.3 451h0M271.1 456.1h0M253.8 485.9h0M255 500.5h0M237.4 514.9h0M234.7 497h0M237.8 466.6h0M231.4 489.1h0M229.5 410.9h0M244.3 534.2h0M250.1 533.5h0M226.4 315.6h0M269.9 449.1h0M246.5 520.7h0M254.1 461.8h0M249.9 482.9h0M236.1 521.7h0M237 526.3h0M266.2 410.3h0M242.4 548.1h0M248.1 529.4h0M247.2 521.7h0M254.5 478.3h0M246.7 502.3h0M248.5 531.8h0M247.5 460.6h0M230.7 510.8h0M234.3 473.8h0M249 536.6h0M241.7 542.2h0M248.1 531.8h0M227.9 330.1h0M265.2 456.3h0M243.3 526.9h0M270.4 521h0M258.8 475.2h0M225.4 497.8h0M233.7 407.9h0M241.4 524.9h0M246.4 528.2h0M255.3 474.6h0M231.6 436.6h0M224.1 490.4h0M243.4 549.5h0M239.2 537.1h0M226.2 487.4h0M246.2 539.4h0M239.4 538.2h0M248.9 410.4h0M253.4 394.4h0M243.4 535.9h0M241.3 530.9h0M226.7 493.3h0M248.4 465.2h0M260.5 468.9h0M237.3 461.8h0M237 520.3h0M246 461.7h0M251.5 403.5h0M228.3 419.5h0M238.3 498.6h0M231.6 506.5h0M264.4 383.9h0M216.7 476.7h0M239.3 518.5h0M243.4 542.1h0M228.7 367h0M244 549.4h0M240.8 542h0M212.7 500.2h0M233.3 513.7h0M254.2 500h0M236.3 494.9h0M243.9 550.4h0M242 539.8h0M232.8 513.3h0M226.2 464.1h0M242.5 536.5h0M258.8 462.1h0M228.9 414.3h0M288.3 460.3h0M254.9 517.9h0M243 542h0M249.9 532.2h0M234.9 451.2h0M239.2 506.6h0M255.9 505.8h0M246.2 531.4h0M231.5 402.7h0M222.8 439.6h0M263.6 358.5h0M218.2 425.4h0M241.6 487.7h0M229.1 459.4h0M245.2 536.9h0M284.9 482.1h0M233.3 491.3h0M244.2 546.5h0M221 449.2h0M228.2 465.7h0M234.6 424.8h0M224.3 399.2h0M242.6 548h0M254.8 392.9h0M247.8 382.8h0M238.4 451.4h0M238.4 455.2h0M262.2 417.1h0M235.5 523h0M235.8 442h0M234.6 406.8h0M245 542.8h0M270.7 435.4h0M243.9 541.8h0M261.8 481.1h0M227 451.7h0M238.7 506.4h0M243.2 549.7h0M221.9 308.7h0M239.5 433.4h0M251.9 479h0M267.1 468h0M259.2 470.9h0M250.2 529.1h0M247.6 528.6h0M235.6 500.1h0M244.6 542.9h0M254 481.9h0M236.4 456h0M246.6 529.4h0M260.5 461h0M229.6 500.7h0M238.5 505.1h0M233.2 491h0M259.2 472.6h0M238.7 516.4h0M250.2 493h0M242.9 545.7h0M237.8 538.7h0M239.3 514.4h0M230.9 522.9h0M238.4 474.8h0M234.2 507.4h0M249 521h0M248.4 403h0M253.3 516.9h0M245.7 516.9h0M234.7 526.8h0M243.6 544.6h0M238.5 527.6h0M243.4 529.7h0M225.6 507.3h0M230.4 386.8h0M260.3 491.7h0M234.8 504h0M248.2 411.7h0M246.6 532.4h0M251.2 507.2h0M236.2 523.6h0M243.5 545.9h0M259.3 244h0M234.6 441.3h0M231.1 499.3h0M229.9 472h0M263.8 407.6h0M240.7 536.2h0M252 477.8h0M240.9 548.2h0M250.8 497.5h0M240.8 495.7h0M234.4 529.1h0M228.9 403.3h0M249.5 472.1h0M232.8 510.2h0M219.4 413.6h0M259.6 485.5h0M236 533.7h0M250.2 378h0M231.2 528.8h0M264.9 468.5h0M242.5 548.9h0M240.7 531.5h0M238.3 438h0M309.1 436.1h0M238 418.5h0M235.2 497.2h0M247.8 517.5h0M233.6 506h0M241.9 538.1h0M254.2 489.7h0M233.1 290h0M237 493.8h0M242.1 481.8h0M247.1 537.3h0M256.8 429.7h0M249.2 532.9h0M251.8 530.3h0M244 530.2h0M252.7 519.8h0M252.1 324.4h0M245.2 545.3h0M245.1 519h0M282.7 438.6h0M235.5 526.7h0M250 499.9h0M259.6 363.5h0M248.3 534.9h0M231.4 512.4h0M253.1 506.3h0M251.5 447.9h0M233.9 514.9h0M249.8 503.5h0M254.9 378.8h0M244.8 530.5h0M242 550.4h0M240 522.3h0M244.3 509.8h0M247.6 529.2h0M241.7 535.7h0M240.3 522.7h0M235.9 507.1h0M240.2 535.4h0M243.2 536.6h0M297 468.9h0M260.8 418.2h0M240.2 533.7h0M258.8 521.8h0M231.7 446.6h0M241.4 530.1h0M244.1 544.8h0M235.8 531.8h0M243.1 541.1h0M243.2 547h0M220.7 500.6h0M244.8 528h0M304.3 422.1h0M271.3 434.6h0M227.3 513h0M248.5 481.7h0M239.7 509.6h0M230.7 501h0M221.5 485.5h0M232.4 485.8h0M245.7 536.1h0M218.3 442.2h0M232.6 511.7h0M210.9 467.5h0M251.3 526.7h0M249.8 536h0M220 313.6h0M206.5 450.2h0M240.1 525.8h0M246.4 473.1h0M231.8 509.6h0M264.3 376.3h0M238.6 529.3h0M248.9 367.8h0M203.7 475.7h0M240.6 518.5h0M258.8 491.2h0M256.4 468h0M211.1 474.9h0M249.7 533.8h0M240.4 540.3h0M235.1 421.7h0M242.3 526.9h0M248.7 379.2h0M242.8 549.6h0M226.7 435.4h0M246.7 529.9h0M255.2 507h0M256.1 522.6h0M244.2 544.3h0M228.7 415.2h0M241.2 498h0M222.4 510.2h0M244.4 544.4h0M225.1 328.1h0M235.8 471h0M251.4 473.6h0M261.4 495.2h0M249.7 528.1h0M240.2 542.1h0M252.6 519.4h0M215.1 469.5h0M252.4 537.1h0M242.3 546h0M232.2 334.4h0M247.9 409.5h0M238.9 515.8h0M238.3 529.6h0M252.6 507.2h0M238.3 533.6h0M222.6 491.1h0M245.6 499.2h0M251.7 528.1h0M246.1 538.7h0M206.2 504.9h0M234.2 517h0M225.1 358.5h0M238.3 538.3h0M232.2 518.9h0M239.3 506.7h0M250.4 531.3h0M234.2 362h0M236.4 516.1h0M254.6 418.6h0M233 510.7h0M233.6 328.6h0M252.8 515h0M246.3 539h0M236.2 531.6h0M267.7 321.9h0M238.6 435.3h0M224.6 366h0M277.8 466.7h0M228.3 316.3h0M223.6 467.2h0M237.8 451.2h0M268.7 346.3h0M245.3 528.5h0M233.6 484.6h0M234.5 523.8h0M247.1 515.1h0M239.2 486h0M250 490h0M243.1 523.5h0M240.9 532.4h0M244.3 547.4h0M236.4 523h0M269.7 524.2h0M263.1 466.5h0M257.8 456.9h0M253.8 470.1h0M263 416.1h0M232.5 528.4h0M246.7 541h0M221.1 425.2h0M259 475.8h0M246.9 527.3h0M233.7 375.7h0M250.7 484.7h0M257.4 504.6h0M231 515.4h0M247.1 507h0M246.7 542.4h0M230.3 458.2h0M249.5 442.1h0M245.6 508.1h0M240.5 542.8h0M241.6 459.3h0M243.6 546.7h0M227.3 495.5h0M245.1 542.7h0M260.5 387.6h0M256.2 418.8h0M230.6 435.8h0M230.3 476.5h0M246.1 503.4h0M244.2 546.3h0M246.7 504.4h0M263.9 429.5h0M241.1 538.5h0M225.2 457.6h0M233.4 530.9h0M247 518.2h0M232 481.1h0M264.9 483h0M240 487.2h0M252.5 513.7h0M240.9 540.7h0M226.1 369.2h0M251.3 534.3h0M226.1 448.4h0M188.1 456h0M228 430.9h0M241.3 545.4h0M246.4 544.2h0M230.5 318.9h0M235.7 464.2h0M252.6 238.3h0M242.9 546.7h0M250.7 505.4h0M256.1 467.6h0M255.2 448.1h0M242.2 549.3h0M249.2 519.2h0M253.5 519.5h0M239.6 489.5h0M222.6 432.4h0M256.3 508.8h0M236.6 406.6h0M252.8 526.1h0M243.2 550.1h0M228.4 490.7h0M243.3 549.9h0M228.3 481.9h0M276.3 503.3h0M245.4 520.4h0M236.4 496.4h0M233.7 527.8h0M237.1 527.6h0M253.8 498.1h0M240.9 543.5h0M243.5 545h0M237.5 506.9h0M251.9 513.6h0M241.9 536.9h0M254 380.5h0M236.3 513.6h0M234.3 503.6h0M241.6 537.7h0M246.2 532.1h0M265.6 469.1h0M247.1 525h0M231.7 482h0M233.8 439.2h0M237.2 531.5h0M242.1 549h0M242.3 550.3h0M225.6 470.9h0M261.6 429.1h0M229.6 417.9h0M234.8 376.4h0M245.7 535.4h0M231.9 469.1h0M233.3 516.6h0M273 468.3h0M237.2 510.1h0M238.9 497.6h0M251.7 461.4h0M243.3 547.5h0M195.5 430.2h0M257.6 496.7h0M235.8 452.4h0M242.7 550.1h0M231 501.5h0M254.2 494.1h0M247.3 529.2h0M231.3 476h0M229.5 350.4h0M256.6 520.4h0M243.5 548.5h0M259.2 404.4h0M255.9 442.5h0M262.4 501.6h0M252.2 426.7h0M242.8 538h0M256.3 511.1h0M252.2 502.1h0M224.1 412.3h0M249 518h0M241.5 517.3h0M236 451.5h0M258 505.8h0M283.5 469.5h0M242.7 549h0M222.3 431.5h0M236.3 443.5h0M231.6 521.8h0M246.2 545.5h0M256.6 517.5h0M250.9 462.2h0M252.9 434.7h0M254.2 511.4h0M228.8 389.5h0M229.9 504.7h0M241.6 492.1h0M245.3 494.2h0M271.9 422.8h0M231.9 517.7h0M244.7 522.6h0M242.7 499h0M243.5 549.9h0M254.7 484.6h0M227.7 496.7h0M235.5 497.5h0M232.2 515.6h0M264.3 385.9h0M241.9 540.7h0M242.1 547.2h0M235.1 510.5h0M245.5 535.7h0M231.4 509.1h0M243.7 549.8h0M239.1 509.6h0M254.3 427.7h0M247.1 532.4h0M260 509.5h0M218.2 503.5h0M226.3 469.1h0M230.7 498h0M248.4 492.3h0M240.6 542.9h0M257.8 371.4h0M239.7 538.8h0M229 503.9h0M237.4 492h0M260.5 409h0M233.6 476.3h0M222 420.9h0M245.1 544.6h0M268.3 423.3h0M238.4 502.3h0M245.5 540.1h0M230.7 374.6h0M246.8 538.7h0M244.7 541.2h0M220.3 398.6h0M237.7 410.3h0M242.1 539.7h0M241 535.8h0M256.6 474.3h0M227.8 351.3h0M239.4 527.3h0M227.1 407.3h0M227.6 473.6h0M244 539.2h0M260.3 437.6h0M203.1 428.8h0M247.8 507.2h0M242.8 545.3h0M264.3 483.8h0M237.8 432.5h0M255.7 335.3h0M256.2 515.1h0M235.3 348.4h0M249.4 489.5h0M250.6 529.4h0M241.1 538.3h0M245.4 504.3h0M247.7 461.3h0M236.4 508.4h0M240.9 487.9h0M233.7 419.4h0M262.8 439.3h0M258.7 398.6h0M248.2 520.7h0M229 446.7h0M243.3 550.3h0M230.5 508.3h0M253.6 492.2h0M226.1 469h0M236.4 520h0M253.7 318.2h0M239.4 495.7h0M242.5 499.1h0M252.3 514.3h0M240.9 539.5h0M236.1 503.1h0M235.8 538.7h0M235.4 523.5h0M251.9 528.4h0M261.9 295.2h0M264.8 444.5h0M240.4 520h0M236 516.7h0M248.7 534.4h0M257.4 381.5h0M225.5 473.4h0M243.7 548.9h0M246.1 542.4h0M240.6 462.6h0M239.1 514.9h0M240.2 451.1h0M238.2 464.9h0M232.3 514h0M258.6 482.4h0M206.4 475.1h0M259.1 504.8h0M236.5 385h0M228.7 484.4h0M235.2 407h0M257 321.9h0M258.1 456.6h0M245.7 545.6h0M233.4 477.7h0M244.1 547.4h0M251.2 525.5h0M227.4 448.7h0M266.1 459.5h0M251.4 519.8h0M334.1 515.7h0M245.7 535.6h0M237 500.3h0M247.9 490.5h0M253.2 498.9h0M244.7 478.1h0M247.3 414.5h0M218.9 441.6h0M230 510h0M254.8 422.2h0M237 521h0M243.2 534.8h0M239 538.2h0M244.2 526.1h0M231.8 511.2h0M253.6 316.7h0M250.6 373.2h0M241.9 547h0M235.4 457.2h0M236.2 527.2h0M257.6 497.1h0M245.3 530.4h0M231.6 456.2h0M254.8 511.6h0M241.9 539.8h0M269.9 445.8h0M250.1 469.1h0M251.9 437.9h0M248 529.8h0M261.4 462.8h0M259 422.3h0M255.9 386h0M262.1 446.3h0M251.6 510.7h0M244.8 547.4h0M256.7 433.8h0M235.7 463.3h0M246.7 481.4h0M244.5 547.3h0M236.3 514.2h0M238.4 539.2h0M245 521.4h0M234 509.8h0M241.5 526.5h0M246.7 542.8h0M245.2 515.3h0M223.1 318.7h0M249 491.9h0M229.1 462.2h0M244.7 520.4h0M249.2 366.2h0M242.6 532.4h0M225.9 492.1h0M264.2 405.3h0M247.4 530.9h0M239.2 536.2h0M256.4 504.8h0M238 537.2h0M263.1 413.5h0M269 459.5h0M241.8 544.3h0M241.2 546.1h0M244.8 495.7h0M255.5 467.6h0M246.8 545.1h0M237.4 435.6h0M242.4 524.7h0M239.7 540h0M238.4 514.4h0M229.4 437.1h0M233.5 377.7h0M235.3 394.2h0M238.1 496.3h0M223.4 492.5h0M254.4 519.4h0M223.1 389h0M244.3 544h0M254.8 490h0M242.2 535.9h0M244.4 544.3h0M245.6 542.5h0M249.1 531.2h0M239.3 480.6h0M231.4 452.8h0M229.1 318.7h0M231.5 424.5h0M232.9 514.9h0M251.8 376.1h0M243.2 536.8h0M240.3 528.3h0M257.2 516.5h0M238.6 436.9h0M249.8 510.6h0M257.4 464.5h0M230.8 386.2h0M244.7 529.5h0M245.7 545.3h0M218.9 475.3h0M254.5 458h0M250.7 293.3h0M249.3 507.2h0M247.1 542.5h0M204.1 481.9h0M233.8 478.2h0M240.9 532.6h0M255.4 495.7h0M221.7 225.1h0M260.5 439.2h0M248.2 509h0M235.7 528h0M247.6 504.3h0M255.3 496.6h0M246.2 528.7h0M259.4 359.1h0M236.9 504.4h0M255 390.5h0M236.2 403.2h0M235.4 398.3h0M255.7 459.7h0M251.9 416.5h0M251 435.9h0M228.1 487.1h0M260.5 282.5h0M217.5 487.6h0M227.1 504.4h0M245.2 503.6h0M249.4 514.2h0M254.4 337.1h0M236.5 518.7h0M244.5 542.3h0M239.5 544.3h0M231.5 528.1h0M242.2 548.2h0M258.7 429.5h0M228.1 506.4h0M234.4 514.7h0M250.1 528.6h0M240.4 541.7h0M239.4 529.5h0M231.6 476.3h0M249.6 517.2h0M243.3 547.1h0M230.3 493h0M245.1 537.5h0M227.4 512.2h0M249.3 534.6h0M228.1 416.5h0M243.3 549.9h0M246.5 541.7h0M256 506.9h0M259.1 411.3h0M234.6 523.6h0M247.7 524.4h0M238.4 541.5h0M234.9 471.4h0M240.9 520.1h0M247.3 534.4h0M243.1 548.3h0M241.6 547.3h0M248.6 536.6h0M253.7 444.5h0M229.8 500.3h0M227.7 368.2h0M248.1 510.5h0M245.6 528.7h0M222.1 328h0M244.8 541.8h0M230.3 454.4h0M226.2 478.9h0M228.5 432h0M242 545.8h0M256.2 498.5h0M249.3 395.3h0M247 456.5h0M256.9 450.6h0M229.3 417.6h0M242.1 547.8h0M258.4 407.2h0M297 425.4h0M255.8 480.5h0M216.7 344.7h0M211.7 439.1h0M238.2 538.4h0M256.8 504h0M243.7 548h0M248.7 528.8h0M269.1 422.9h0M236.8 445.3h0M256.1 464.1h0M242.7 547h0M247.6 526.4h0M242.1 542.6h0M255.5 505h0M242.8 543h0M239.8 530.4h0M225.8 443.6h0M243 542.4h0M239.3 540.6h0M224.2 362.8h0M235 321.1h0M246.9 441h0M243.3 549.2h0M247.2 494.1h0M220.6 394.2h0M243.9 545.7h0M259.4 523.4h0M241.4 529.5h0M242.4 549h0M253.3 510.4h0M245.3 537.7h0M224 483.4h0M256.1 500.5h0M245.7 466.1h0M248.1 423.6h0M236.9 514.2h0M243.2 540.3h0M239.1 536.2h0M249 405h0M244.7 544.1h0M228.4 474.4h0M257.4 457.8h0M243.8 540.3h0M261.8 479h0M250 448.8h0M229 501.6h0M241.9 544h0M271.6 460.1h0M227.7 309.4h0M250.1 440h0M232 514.7h0M247.1 440.7h0M227.2 438.5h0M235.8 504.1h0M227.8 509.6h0M198.1 439.7h0M239.4 536h0M257.2 453h0M238.7 426.3h0M265.1 419.9h0M232.6 463.2h0M233.9 499.9h0M230.3 490.4h0M251.8 491.6h0M248.8 532.3h0M233.7 429.2h0M250.4 308.3h0M239.7 538.3h0M247 537.3h0M240.2 446.1h0M238.1 533h0M244.1 545.6h0M237.9 524.3h0M255.3 513.9h0M247.5 524.8h0M220.2 379.5h0M266.2 388.7h0M253 515.4h0M222.1 450.3h0M251.1 365.3h0M246.2 545.1h0M230 497.2h0M234.7 425.4h0M235.4 521.9h0M234.3 474.1h0M232.2 381.1h0M265 346h0M251.6 529.2h0M233.7 452h0M229.1 479h0M260.1 355h0M222.2 437.8h0M243.7 545.3h0M231.4 503h0M243.1 538.3h0M251 456.9h0M236.3 527.8h0M265.5 519h0M257.9 383.3h0M244.4 547.8h0M238.2 536h0" stroke="#000" stroke-opacity="0.6" stroke-width="5.8" stroke-linecap="round" fill="none"/>
<path d="M244.1 546.1h0M256.3 502.1h0M244.6 522.4h0M237 532.3h0M227.5 531.6h0M243.3 550.2h0M241.3 527.6h0M240.3 534.2h0M221.4 419.1h0M221 328h0M240.6 518.4h0M235 514.9h0M261.6 338.6h0M282.1 433.5h0M250.5 450.1h0M213.9 471.6h0M261 389.5h0M235.4 348.2h0M224.6 478h0M225.1 508.8h0M257.5 501.5h0M225.7 447.4h0M245 540.8h0M235.6 531.6h0M251.4 527.3h0M243.7 549.8h0M228.7 480.8h0M256.1 470.2h0M271.3 425.2h0M254.8 483.6h0M253.5 516.4h0M236 475.5h0M230.9 455.1h0M246.2 506h0M244.7 550h0M257.7 512.9h0M238.8 542.2h0M246.3 539.9h0M257.7 463.9h0M245.3 545.9h0M249.5 502.7h0M245.9 547.2h0M251.7 494.3h0M261.7 383.5h0M264.1 445.2h0M255.6 488.7h0M242 536.5h0M262.2 450.2h0M233 491.4h0M237.9 522.2h0M236.2 504.7h0M270.4 442.6h0M257.2 496.1h0M249.1 500.9h0M244.5 547.5h0M227.1 489.8h0M248.1 506.2h0M256.9 452h0M242.3 539.1h0M248.5 519.5h0M381.7 493.8h0M243.6 542.3h0M237.6 540.6h0M263.7 436.6h0M227.5 474h0M235.9 509.7h0M272.3 442.2h0M238.5 526.6h0M246.2 544.9h0M245.6 483.4h0M244.1 547.5h0M231.8 467.4h0M226.6 415h0M245.1 543.5h0M245.7 542.5h0M228.3 503.9h0M247.1 541.7h0M250.4 472.1h0M239.6 442.7h0M243.5 542.8h0M228.6 444.3h0M233.9 514.7h0M237.2 468.8h0M250 534.6h0M240.3 528.3h0M251.3 305.8h0M224.5 397.1h0M254.3 505.6h0M252.2 531h0M232 286.1h0M250.2 512.4h0M232.6 508.5h0M249.2 536.6h0M241.5 499.8h0M250.4 527.9h0M249.4 507.7h0M238 465.3h0M250.6 495.7h0M220.1 358.7h0M253.4 513.8h0M224.5 488.3h0M238.8 474h0M253.4 519h0M238 516h0M245.5 542.6h0M241 511.2h0M232.5 465.2h0M246.7 529.1h0M262.8 371.4h0M239.6 524.2h0M251.6 448.5h0M246 532.7h0M240 534.8h0M236.1 463.3h0M231.1 522.4h0M229.8 534.1h0M243.4 549.2h0M249.8 521h0M239.6 462.9h0M234.2 496.3h0M240.6 500h0M238.8 529.9h0M240.9 535.1h0M226.9 376.6h0M255.9 362.7h0M255.7 243.9h0M218.9 446.9h0M246.4 535h0M236 530.3h0M248.9 530.2h0M244.2 546.2h0M261.7 484.4h0M225.3 252.5h0M238.8 502.3h0M254.8 518.1h0M263.1 455.2h0M230.9 485.6h0M251.3 504.6h0M248.8 521.5h0M240.5 536.2h0M242.7 550h0M251.6 332.7h0M238 484.8h0M246 523.2h0M231.6 449.7h0M257.7 471.9h0M221 480.5h0M240.7 543.8h0M248.9 475.5h0M230.4 480.3h0M255.7 401.5h0M233.6 325.9h0M261.7 480.8h0M243.6 541h0M250.4 537.6h0M225.3 423.9h0M224.1 465.6h0M243.4 549.8h0M242.5 529.8h0M260.1 456.6h0M242.4 528.3h0M241.4 547.2h0M245.9 542.4h0M235.5 518.3h0M258.4 387.1h0M240.3 539.5h0M242.9 538.7h0M237.1 535h0M240.3 532.1h0M239.1 533.8h0M246.6 524h0M245.7 529.9h0M260.8 432.2h0M257.2 496.4h0M258.8 509h0M238.7 544.2h0M243.5 527.3h0M246.9 536.1h0M261.7 353.6h0M247.1 533.4h0M247.1 543.9h0M246.2 489.2h0M229.5 368.4h0M263.5 319.9h0M253.4 489.2h0M247.3 537.9h0M260.6 406.4h0M241.9 546.6h0M247.9 398.9h0M244.6 541.2h0M253.7 330.2h0M246.7 504.9h0M246.5 542.3h0M242 545.3h0M241.5 546.2h0M230.4 487.1h0M241.6 547.3h0M244.3 544.3h0M237.9 523.1h0M236 503.5h0M228.5 476.2h0M255.1 355.9h0M234 516.5h0M225.9 483.8h0M232.4 483h0M238.8 532h0M233 315h0M249.6 522.4h0M245.8 545.6h0M254.6 483.7h0M246.6 544.5h0M249.2 524.9h0M238.7 540.7h0M227 328.7h0M253.4 503.1h0M243.1 541.3h0M257.3 481.5h0M250.6 498.5h0M253.8 527.3h0M234.9 470.7h0M224.8 477.4h0M237.8 523.5h0M244 548.9h0M265.8 437.1h0M258.5 498.8h0M234.6 461.9h0M259.9 470.8h0M225.6 407h0M238.9 543.3h0M255.7 450.4h0M233.7 513.2h0M256.8 469.7h0M249.6 369.6h0M263.6 454.6h0M242.1 541.3h0M241.7 545.7h0M136.1 508.7h0M240.9 539.2h0M232.8 493.4h0M242.8 549.7h0M243 541.9h0M251.1 504h0M247.8 464.4h0M230.8 430.1h0M237.3 537.3h0M242.7 549.6h0M245 520h0M257.9 366.6h0M234.1 458h0M244.7 538.2h0M256.8 363.7h0M269.4 421.3h0M231.4 334.9h0M243.4 522.8h0M227 523.5h0M226.4 446.6h0M243 549.6h0M238.2 462.4h0M253.3 482h0M225.5 461.3h0M240.9 543.7h0M251.3 527.2h0M244.4 546.9h0M242.3 539.1h0M252.4 523.9h0M228.3 493.4h0M233 418.6h0M238.1 467h0M260.2 465.3h0M234.6 478.9h0M241.3 546.2h0M227.3 508.8h0M251.9 476.5h0M245.1 521.1h0M209.1 429.9h0M236.8 495h0M246.1 511.2h0M249.1 394.5h0M219.7 345.3h0M218.3 408.2h0M241.7 531h0M253.7 517h0M250.7 534.1h0M244.5 547.5h0M241.5 537.7h0M223.1 462.7h0M228.2 518.7h0M239.6 534.3h0M254 528.4h0M254.7 433.9h0M247.3 534.8h0M244.8 534.6h0M220.4 487.6h0M237 468.4h0M256.5 467h0M252.4 490.9h0M254.7 488.4h0M234.3 511.3h0M232.2 472.4h0M259.6 447h0M259.9 363.5h0M250 500.2h0M252.1 484.5h0M226.6 458.3h0M248 520.3h0M230.3 448.3h0M257.3 476.9h0M232.7 523.9h0M254.2 475.8h0M247.8 525.4h0M240.6 520.9h0M258.5 457.1h0M250 520.2h0M245.5 534.5h0M237.4 521.3h0M245.2 498h0M253.8 401.6h0M226.6 441h0M224.6 465.6h0M248.3 513h0M255.8 484.2h0M242.6 545.6h0M241.1 531.8h0M256.4 515.1h0M228 485.3h0M230.9 497.6h0M245.8 486.5h0M237.3 532.7h0M253.4 522.7h0M231.4 520.6h0M251.6 462.4h0M243.8 547.8h0M240.8 547.1h0M238.9 537h0M234.1 526.9h0M230.7 394.7h0M233.6 489h0M238.3 541h0M256.9 489.5h0M230.3 407.2h0M266.7 456.1h0M256 447.2h0M251.5 531.1h0M240.2 461.3h0M186.7 478.9h0M244.4 503.9h0M255.8 448.9h0M220.2 345.9h0M232.7 430.1h0M254 360.8h0M244.8 545.5h0M246.2 497h0M232.1 414h0M238.8 521.7h0M226.1 391.5h0M250.3 416.1h0M225.2 507.4h0M245.5 547h0M240.2 439.5h0M235.9 522.6h0M248.5 515.5h0M201.1 444.3h0M264 336.8h0M242.8 548h0M246.3 544.2h0M242.3 543.9h0M250.1 474.7h0M225.3 337.5h0M241.7 549.6h0M244.2 542.8h0M232.7 439.5h0M246.6 514.8h0M242.6 545.7h0M254 508.2h0M254.2 456.6h0M241.9 546.9h0M229.4 468.7h0M225.7 497.5h0M239 489.2h0M242.3 532.9h0M251 530.4h0M241.5 541.6h0M259.2 495.8h0M234.6 328.9h0M239.6 536.6h0M219 454.8h0M243.7 546.8h0M232.9 523h0M239.4 501.4h0M253.9 514.6h0M245.8 537.6h0M238.1 539.1h0M251.3 496.9h0M233.9 520.2h0M247.9 536h0M262.1 453.6h0M240.2 544.9h0M288.6 441.6h0M274.6 453.2h0M265.7 510.5h0M249.3 523.6h0M248 523.8h0M268.4 438.4h0M237.2 450.4h0M236.3 466.4h0M249.1 482.4h0M229.9 408h0M251.3 384.3h0M234.3 518.6h0M275.8 431.7h0M249.8 510.6h0M230.2 466.4h0M244.7 545.6h0M249.4 459.2h0M263.7 437.5h0M235 511.6h0M258 496h0M262.7 432.2h0M242.9 550.3h0M242.8 542.8h0M243.3 544.5h0M211.2 481.7h0M238.6 520.2h0M223.3 476.4h0M228.6 495.8h0M247.4 517.5h0M244.4 535.2h0M233.8 527.8h0M239.4 531.2h0M235.3 405.9h0M244.9 516.1h0M233.8 510h0M247.2 530.2h0M257 499.1h0M218.6 494.6h0M244.8 545.7h0M241.8 542.5h0M256.4 440.1h0M245 536.2h0M241.5 516.6h0M238.9 472.7h0M246.6 484.6h0M226 454h0M242.9 543.7h0M250.6 537.8h0M242.7 546.6h0M231.5 415.4h0M237.5 532.2h0M204.8 458.3h0M235 467.5h0M237.8 364h0M247.4 517.5h0M263.7 405h0M266 436.5h0M224.7 470.6h0M233 430.2h0M245.5 544.3h0M237.8 481.1h0M262.1 332.6h0M244.1 511h0M279.7 428h0M229.8 490.7h0M290.3 517.7h0M244.8 498.8h0M240 516h0M225.1 447.4h0M232.9 516.8h0M271.2 443.6h0M240.9 545.7h0M237.8 496h0M252.4 458.2h0M229.9 515h0M250.4 493h0M262 506.3h0M257.2 445.2h0M251.7 484.7h0M251.1 462h0M223.2 436.2h0M247.1 532.1h0M225.5 431.5h0M221.5 306.1h0M242.2 546.6h0M229.6 357.8h0M243.2 549.3h0M220.3 459.2h0M247.5 377.3h0M255.3 338h0M240.4 531.4h0M269.8 513.7h0M255.2 415.1h0M235.7 534.9h0M245.3 536.4h0M231.2 515.4h0M238.8 530.6h0M239.4 487.8h0M233 528.1h0M235.6 287.7h0M241.6 536.5h0M236.7 505.5h0M219.1 420.2h0M236.3 501.8h0M229 286.1h0M224.2 488.7h0M255.3 532.5h0M266.6 392.2h0M225.3 458.4h0M243 550.3h0M247.5 516.1h0M233.7 480.5h0M236.4 401.4h0M228.1 448.8h0M253 500.3h0M245.5 524.9h0M234.1 534.2h0M235.2 480h0M253.3 450.8h0M248 365.6h0M255.6 366.2h0M260.9 500h0M249.3 533h0M230.9 417.7h0M252.7 525.6h0M245.1 522.8h0M249.3 513.7h0M252.5 442.9h0M238 532.6h0M242.8 549.6h0M230.7 368.3h0M237.1 489.6h0M254.3 412.3h0M242.5 541h0M246 530.3h0M262.2 504.5h0M239 523.2h0M227.5 480.2h0M245 548.8h0M263.9 270.1h0M236.9 506.7h0M252.1 370.2h0M247.3 524.9h0M246.1 528h0M238.5 538h0M239.9 520.7h0M240 485h0M263.7 427.7h0M226.8 487.8h0M241.9 545.2h0M259.7 453.4h0M226.7 477.7h0M238.8 515.9h0M247.6 536.3h0M243.8 521.6h0M243.5 522.9h0M229 449.2h0M245 546.9h0M243.8 550.1h0M246.3 505.2h0M250.2 528.8h0M243.3 549.8h0M253.3 513.5h0M247.8 543.7h0M235.7 379h0M220.1 368.7h0M242.6 546.7h0M241.3 528.9h0M255.5 358.7h0M234.1 368.3h0M237.1 413.8h0M228.9 511.8h0M247.2 521.9h0M231.9 420.4h0M240.9 538.6h0M247.5 408.9h0M267.7 472.8h0M247.5 541.8h0M252.6 534.2h0M264.8 522.4h0M242.6 547h0M232.8 469.6h0M251.1 474.3h0M237.2 542.3h0M245.8 528.7h0M240.6 496.7h0M238.5 538.5h0M231.4 411.3h0M250.2 443.8h0M239.2 528.1h0M240 538.7h0M225.1 276h0M249.8 496.3h0M246 541.6h0M235.6 431.7h0M286.4 478.2h0M240.3 539.2h0M249.2 490.1h0M256 506.5h0M246 509.1h0M239.2 541.2h0M242.2 536h0M265 446.6h0M235.8 506.8h0M254.6 386h0M261.1 505h0M222.6 529.6h0M224.2 503.8h0M256.4 475.5h0M232.3 494.9h0M242.2 539.7h0M245 531h0M220.7 469.9h0M254.4 314h0M244.3 544.8h0M264.7 325.7h0M235.7 457.2h0M247.8 356h0M278.6 475.8h0M234.3 525.3h0M254.5 418.1h0M261.7 466.2h0M243.8 541.3h0M218.4 409.6h0M236.6 450.8h0M235.2 502.3h0M238.7 532.8h0M237.3 504.3h0M235.3 396.6h0M258.1 508.5h0M245 535.3h0M227.6 494.2h0M242.3 543.3h0M254.7 500.6h0M235.2 488.3h0M241.3 539.3h0M245.5 543.8h0M242.2 533.5h0M237.4 467.2h0M297.5 444.6h0M226.7 472h0M226.9 400.9h0M246.8 481.6h0M231.5 526h0M252.9 477.1h0M256.4 439.2h0M229.4 352.2h0M242.9 541.1h0M243.5 545.3h0M244.2 550.3h0M243.3 549.6h0M252.2 524.2h0M236.6 487.1h0M230.5 511.4h0M247.4 482.1h0M243.8 546.8h0M248.5 531.3h0M266 506.9h0M244.3 502.4h0M245.8 494.5h0M257.4 453.4h0M233.2 481h0M241.1 543.8h0M243.9 550.2h0M231.7 492.8h0M237.1 521.5h0M241.5 544.8h0M237.4 525.4h0M247.8 513.7h0M241.6 545.8h0M250 516.8h0M254.1 516.7h0M252.5 485.5h0M252.7 401.4h0M236.3 519h0M258.1 293.4h0M247.6 369.6h0M254.2 494.9h0M234.7 514h0M256.6 453.8h0M221.8 460h0M240.2 515.6h0M239.2 536.8h0M243.9 548.2h0M259.3 439.9h0M240 542.5h0M230.1 363.4h0M213 430.1h0M236.1 480h0M256 515.1h0M245.2 541.9h0M241.7 539.8h0M243.5 549.1h0M258.3 505.2h0M259.3 512.2h0M245.8 524.5h0M243.5 544.4h0M266 266.1h0M265.9 392.4h0M243.9 546.5h0M232.4 357h0M235.2 536.2h0M254 523.3h0M247.9 535h0M260.3 447.6h0M246.9 495.5h0M253.9 480.9h0M248.8 482.8h0M217.6 475.6h0M267.4 445.6h0M231.9 308.9h0M220.8 409h0M240.5 519.3h0M252.1 343.7h0M250.5 486.7h0M249.6 522.7h0M239 541.1h0M245.4 523.1h0M250.2 518.1h0M239.8 541.5h0M244.2 539.4h0M255.6 484.1h0M240.7 535.7h0M218 426.2h0M241.8 531.8h0M249.4 515.2h0M237.1 508.1h0M243 541.2h0M230.4 497h0M239.6 525.6h0M233.9 513.3h0M264.7 455.2h0M244.8 529.8h0M232.4 406.6h0M234.8 522.7h0M251.3 420.2h0M240.2 465.1h0M231.7 457.4h0M246.9 531.1h0M242 542.3h0M240.4 525.2h0M257 461.1h0M247.8 537.8h0M242.1 530.4h0M221.3 404.4h0M240.9 451.8h0M249.3 508h0M259.5 481.8h0M242.8 548.1h0M309.9 479.9h0M233.2 452.6h0M231.9 493h0M236.6 526.2h0M232.6 399.9h0M240.7 537.7h0M259.5 408.5h0M245.7 535.7h0M225.9 486h0M238.4 536h0M258.2 460.3h0M253.4 502.1h0M226.5 425.9h0M244.3 548.8h0M252.3 461.7h0M250.4 463.7h0M222.9 291.6h0M259.5 456.5h0M238.2 517.6h0M258.4 431.2h0M244.6 545.2h0M246.9 518.9h0M225.3 426.1h0M251.1 472.1h0M235.8 472.2h0M241.3 539.1h0M246.3 514.3h0M259.4 496.1h0M247.8 391.8h0M238.8 538.6h0M242 543.8h0M244.7 539.9h0M240.9 518.4h0M246.1 463.8h0M246.8 535h0M244.1 534.7h0M208.1 435.1h0M259.1 381.6h0M243.3 547.9h0M217.9 459.2h0M233.7 496.9h0M247.2 492.3h0M246.8 487.7h0M234.3 433.1h0M232.2 525h0M269.5 396.9h0M237 378.3h0M246.7 534.5h0M235.4 535.1h0M291.1 525.6h0M230.6 505.8h0M252 455.3h0M241.7 543.9h0M231.7 503.7h0M257.7 453.2h0M252 507.4h0M253.8 487.6h0M238.9 504.3h0M246.7 462.1h0M259.5 321.7h0M230 440.3h0M259.1 503.6h0M215.7 483.8h0M232.3 503.3h0M242 531.1h0M234.9 534.7h0M242.9 545.9h0M236.8 519h0M237.1 491.5h0M236.3 464.4h0M255.1 504.3h0M261 464.6h0M234 377.2h0M249.5 533.2h0M238.8 536.7h0M243.7 545.9h0M237.2 454.4h0M253.7 473.9h0M217.6 372.3h0M254.9 487.9h0M239.7 544.1h0M237.1 486.4h0M240.6 514.3h0M242.2 547.9h0M238.6 489.7h0M263.7 357.6h0M253.6 391.1h0M243.5 546.6h0M238.3 526.8h0M263.9 353.3h0M221 499.5h0M245.6 541.7h0M313.7 503.7h0M253.4 505.8h0M155.2 498.8h0M258.1 425.2h0M255.2 494.2h0M239.8 510h0M265.4 424.1h0M245.3 470.4h0M243.2 545.7h0M238.6 464.4h0M242.4 539.2h0M238.7 519.3h0M234.7 530.3h0M234.6 527.9h0M260.8 429.9h0M239.7 461.1h0M263.6 419.3h0M245.3 547.3h0M244.9 541.4h0M241.4 519.5h0M250 530.6h0M243.1 549.3h0M251.1 507.2h0M248.9 473.4h0M235.9 527.4h0M229.7 400.5h0M248 526.8h0M242.8 544h0M239.2 528h0M246 527.2h0M227.1 442.5h0M238.7 517.4h0M246.9 503.7h0M244.8 502.5h0M246.4 541.5h0M237.1 491.7h0M234.9 501.4h0M258.2 507.2h0M262.7 468.4h0M231.8 401.8h0M226.1 471.2h0M243.4 536h0M243.3 546.3h0M266.9 428.9h0M246.3 530.5h0M233.1 328.8h0M246.4 407.6h0M262.6 359.4h0M236.1 524.8h0M246.4 544.5h0M248.4 403.9h0M236.9 498.2h0M227.8 498.8h0M244.8 543.6h0M238.4 521.1h0M267.8 371h0M234.8 491.1h0M249.5 499.9h0M260 453.8h0M228.9 473.1h0M225.6 459.6h0M238.5 524.2h0M254 407.5h0M242.4 548.5h0M228.6 438.4h0M241.1 471.3h0M237.6 446.3h0M254.4 511.2h0M236.8 379.6h0M249.8 497.9h0M234 415.8h0M246.4 533.1h0M246.4 540.3h0M249.8 346.6h0M258.1 502.4h0M235.6 533.3h0M248.7 532h0M251.9 517.5h0M282.2 488.7h0M236.3 373.8h0M246.1 431h0M249.2 499.2h0M241.9 544.6h0M234.8 528.3h0M229.6 471.3h0M258.6 499.9h0M234.9 489.9h0M252.7 465.8h0M232.2 510.2h0M254.8 319.1h0M238.2 467.5h0M254.6 362.9h0M236.2 528.7h0M265.9 525.4h0M258.1 454h0M258.7 436.6h0M237.6 504.8h0M248.3 474.3h0M234.7 502.2h0M239.7 533.1h0M319.9 500.8h0M251.6 421.3h0M246.7 522.5h0M262.2 458.4h0M234.2 507h0M231.3 485.7h0M248.1 517.9h0M233.3 528h0M244.4 518.7h0M234.5 523.4h0M258.5 450.8h0M272.8 455.4h0M238.3 536h0M264.7 408.1h0M270.2 457.6h0M215.9 435.7h0M233.3 281.8h0M236.5 492.6h0M247.9 539.3h0M255 479.3h0M261.2 489.4h0M241.8 546.5h0M260 315.8h0M246.9 536.3h0M234.1 490.6h0M241.4 541.5h0M247.7 532.7h0M250.9 519.7h0M241.7 526h0M232.5 326h0M234.8 483.8h0M242.4 549.2h0M234.5 523.3h0M242.9 549.6h0M230.7 389.5h0M247.4 500.1h0M235.2 526.2h0M246.2 520.1h0M211.7 441.2h0M251 534.5h0M221 431.7h0M257.9 381.2h0M250.4 517.1h0M254.4 511.4h0M229.9 504.2h0M248.3 505h0M256.4 447.1h0M238.5 449.3h0M232.6 462.3h0M240.7 546.4h0M249.8 520.9h0M239.3 536.5h0M240.4 537h0M228.7 516.5h0M244.2 539.1h0M239.3 495.4h0M237.6 495.4h0M243.1 540.4h0M223.8 433.9h0M245.5 546.1h0M252.9 458.9h0M257.5 521.7h0M255.5 489.2h0M248.4 364.1h0M231.5 442h0M242.7 540.2h0M233.4 521.8h0M273 450.1h0M250 530.7h0M248 528.4h0M241.8 539.4h0M246.2 537.8h0M254.1 341.1h0M263.7 454.3h0M242.6 547.6h0M236.2 349.1h0M226.9 359.8h0M260.6 508h0M230.5 430h0M237.3 332h0M256.4 490.9h0M256 478.7h0M247.2 534.1h0M239.6 534.1h0M255.2 481.5h0M237.8 457.6h0M245.6 519.5h0M241.9 522.4h0M241 541h0M249.6 534.5h0M231.9 383.1h0M245.2 543.5h0M258.9 471.8h0M274.2 497.3h0M237.7 402.8h0M265.7 360.2h0M218.5 519.1h0M249.6 456.8h0M261.3 464.8h0M239.6 499.2h0M243.1 545.4h0M245 508.4h0M247.7 535h0M237.4 498h0M244.4 548.3h0M239.7 526.4h0M254 440.2h0M246.2 518.2h0M248.8 494h0M247 543.6h0M242.6 548.5h0M236.4 487.5h0M235.6 317.6h0M239.7 535.2h0M252.1 237.1h0M229.7 531.5h0M262.8 469.5h0M237.9 460.8h0M262.7 454.8h0M237.6 505.8h0M242.9 543.8h0M246.8 527.4h0M224.5 336.2h0M251.3 494.8h0M230.1 485h0M241.8 537h0M248.4 525.8h0M240.9 545h0M252.7 513.6h0M258.1 455.1h0M255.8 524.6h0M243.4 535.4h0M246 493.1h0M261.1 409.8h0M246.6 539.5h0M242.1 548.4h0M238.7 505.1h0M241.1 542.1h0M263.6 400.1h0M241.2 545.9h0M243.3 549.2h0M253.4 487h0M234.4 386.5h0M257.7 443.7h0M233.1 500.8h0M256.5 486.9h0M235.6 460h0M240.7 538h0M244.5 545.6h0M252.3 520.9h0M245.6 503.2h0M238 532.7h0M263.4 455.7h0M242.3 545.2h0M253.3 462h0M242 515.7h0M217 429.5h0M229.9 494.4h0M224.8 311.1h0M207.1 508h0M237.3 526.2h0M249.3 423.4h0M258 229.1h0M233.6 536.1h0M228.5 398.3h0M238.6 523.9h0M232.7 525.6h0M254.4 528.4h0M248.8 416.8h0M247.3 531.3h0M222.9 332.7h0M249 491.6h0M255.5 519.4h0M248 543.4h0M246.8 458.2h0M224.8 469.2h0M241.2 546.3h0M234.5 290.4h0M241.9 544.8h0M249.6 523.2h0M231.6 495.9h0M245.6 535.9h0M256.8 382.5h0M240 538.3h0M252.8 448h0M233.1 471.3h0M247.8 514.5h0M244.4 540.3h0M256.5 486h0M226.2 354.3h0M238.1 507.6h0M245.1 544.4h0M252.3 521.3h0M238 517.7h0M224.4 447.2h0M244.6 515.7h0M222 439.5h0M240.2 537.1h0M256.4 326.6h0M253.8 469.9h0M250.2 507.5h0M241 533.1h0M244 547.7h0M251.3 504.4h0M256.6 508.4h0M245.2 526.5h0M236.6 543.5h0M241.3 540.8h0M238 445.7h0M251.3 308.9h0M255.9 431.5h0M237.3 535h0M236.1 442.6h0M245.7 510.5h0M241.6 539.1h0M243.8 539h0M218.6 380h0M239 512.3h0M241.7 547.8h0M237.8 538.7h0M225.2 491.1h0M240.4 475.4h0M252 525.3h0M242.2 545.6h0M235.2 520.8h0M247.1 540.4h0M246.9 541.8h0M250.6 434.7h0M239.8 522.6h0M255 497.3h0M241.2 525h0M252.9 444.8h0M223 381.2h0M246.6 509.8h0M257.9 513.6h0M240.7 534.1h0M249.7 354.3h0M253.2 479.3h0M225.4 471.3h0M241.7 548.2h0M246.8 537.7h0M251.9 298.8h0M231.9 497.4h0M235.5 516.1h0M259.1 412h0M233.3 425.3h0M253.6 500.3h0M243.1 544.3h0M254.7 411.6h0M245.6 452.7h0M217 366.3h0M248 524.7h0M256.9 509.9h0M235.1 526.5h0M266.7 443.2h0M236.3 505.1h0M242.1 548.5h0M231.6 506.5h0M260.5 449.4h0M244.3 542.6h0M262.7 434.4h0M235.9 444.5h0M234.4 490.5h0M262.8 300.3h0M232 286.9h0M241.1 539.2h0" stroke="#000" stroke-opacity="0.6" stroke-width="5.8" stroke-linecap="round" fill="none"/>
<path d="M247 522.6h0M319.1 492.8h0M246 532.7h0M247.6 528.1h0M229.6 473h0M253.8 498.7h0M239.5 457.4h0M243.5 547.3h0M234.4 435.7h0M256.9 485.9h0M231.4 479.5h0M250.3 371h0M232 394.5h0M230 327.8h0M234.3 523.6h0M228.6 463.2h0M222.4 435.3h0M237.4 463.2h0M242.8 541.4h0M222.6 396.6h0M234.3 482.2h0M268.5 470.1h0M255.2 461.3h0M246.8 438h0M268.6 491.6h0M261.5 513.7h0M235.3 503.1h0M249.7 331.1h0M224 483.2h0M262.7 443.1h0M246.4 524.1h0M233.3 393.8h0M233.9 519h0M262.7 368.9h0M223.1 371h0M261.4 415.3h0M239.4 530.1h0M248.2 524.3h0M258 480.1h0M251.5 449.1h0M241.7 549.5h0M254.7 484.5h0M260.9 481.1h0M259 497.7h0M239.5 470.5h0M249.9 489.8h0M251.5 355.1h0M243.6 546.9h0M247 490.7h0M256.5 338.4h0M241 544.7h0M253.5 457.7h0M241 546.4h0M239.7 537.4h0M241.9 546.7h0M230.5 507.8h0M249.5 514.5h0M262.2 456.6h0M240.9 470.9h0M250 531.2h0M245.4 544.4h0M232.1 508.2h0M249.8 525.3h0M255.6 507.2h0M230.7 332.8h0M246.9 428h0M256.4 402.9h0M256.3 424.8h0M266.3 505.6h0M236.4 536.5h0M237.2 474.8h0M234.2 535.5h0M231.7 446h0M244 547.5h0M248.8 527.5h0M197 438.2h0M265.8 480.1h0M243.1 548.6h0M236.6 521.7h0M229.3 508.7h0M237.4 525.5h0M204.1 446h0M239.2 537.6h0M220.9 489h0M250 516.2h0M253.6 485.3h0M232.3 514.9h0M251 432.4h0M294.3 421.1h0M209.8 432.3h0M214.1 466.1h0M252.1 509.3h0M225.5 349.9h0M245.2 489.8h0M245.4 547.1h0M230.2 513.5h0M245.5 534.2h0M242.1 546.8h0M232.3 445.4h0M241.6 499.7h0M243.4 550.2h0M255.2 472.1h0M239.2 500.1h0M252.2 373.8h0M236.3 430.7h0M240 530.9h0M253.3 518.5h0M254.8 518.4h0M247.9 529.2h0M256.9 520.2h0M253.3 524h0M246.8 517.5h0M226.2 483.5h0M237.9 426.1h0M244.2 546h0M226.9 367.7h0M237.7 509.8h0M254 461.5h0M244.1 545.4h0M247 482h0M251.1 421.3h0M214.3 422.7h0M241.8 548.2h0M263.3 443.6h0M248.4 432.9h0M228.2 498.2h0M256.8 366.3h0M233 517.7h0M237.6 536.8h0M237.6 531.6h0M240.5 542.2h0M245 538.2h0M247.2 446.2h0M251.9 491.2h0M234.4 507.5h0M250.9 479.3h0M263.4 312.1h0M245.6 542.3h0M250.8 509.4h0M243 524.5h0M255.3 484.2h0M252.9 464.9h0M225.4 504.9h0M239.2 528.3h0M224 373.4h0M256.5 421.9h0M237.9 354.1h0M233.5 510.4h0M267.7 495.5h0M259.2 383.7h0M237.3 520.5h0M258.3 489.4h0M244.1 549.1h0M243.7 542.7h0M242.4 546.4h0M237.5 478.7h0M256.8 390.3h0M262.8 479h0M241.7 543.6h0M241.7 545.1h0M243.6 546.6h0M248.5 451.7h0M255.9 425.6h0M246.3 535.1h0M217 396.2h0M257.5 488h0M251.4 523h0M246 463.1h0M199.9 439.6h0M248.8 454.9h0M258.1 514.9h0M228.9 474.4h0M244.7 548.2h0M243.3 515.9h0M250.3 537.1h0M250 481h0M253.2 458.2h0M245.3 536.3h0M235.8 451.6h0M252.1 348.4h0M250 526.5h0M259.5 236.8h0M255.1 488.7h0M266.1 307.6h0M243.2 549.1h0M232.5 523.7h0M218.2 497.3h0M247.6 526.2h0M233.6 534.9h0M236.9 529.7h0M231.7 349.2h0M243.5 541.4h0M240.6 509.8h0M247.3 532.7h0M245.1 526.9h0M257.6 366.4h0M256.7 456.2h0M226.8 264.8h0M246.3 519.1h0M265.9 455.2h0M244.7 546.2h0M254.8 512.7h0M248.4 489.3h0M250.5 530.9h0M254.2 488.1h0M228.4 388.3h0M248.8 526.6h0M245 550.2h0M240.2 543.6h0M236.8 496.2h0M238.5 526.8h0M247.8 506.6h0M243.7 547.3h0M265.7 439.9h0M253.8 487.3h0M251.5 450.7h0M231.7 523.7h0M235.2 525h0M235.6 521.7h0M238.6 532.1h0M226.8 506.9h0M231.5 521.4h0M249.7 498.4h0M218.8 303.2h0M251.9 463.8h0M239 503.2h0M246.6 517.1h0M234.1 483.6h0M255.3 416.8h0M227.4 485.6h0M247.4 494.3h0M208.3 473.6h0M243.9 544.8h0M238.3 393h0M259.3 419.5h0M246.7 537.7h0M252.2 436.1h0M248.9 515.3h0M242.9 548.7h0M234.1 437h0M239.5 532.6h0M244.7 525.6h0M229.4 358.3h0M230.3 522.3h0M240.4 421.4h0M246.5 531.7h0M226.7 472.3h0M232.3 399.4h0M249.7 514.8h0M217.6 419h0M232.3 527h0M249.6 515.5h0M245.8 544.5h0M254.3 506.5h0M241.4 533.2h0M249.4 520.6h0M259.5 463h0M245.3 513.8h0M240.1 540.2h0M240.6 528.7h0M260.3 486.3h0M253.7 468.1h0M221 471.9h0M245.9 534h0M253.7 409.7h0M241.5 542.8h0M248.8 525.5h0M242.6 524h0M252 435.6h0M248.6 468h0M242.3 544.8h0M232.3 486.6h0M262.2 500.7h0M235.8 369.3h0M247.2 530.9h0M243.8 548.4h0M227.7 353.7h0M249.8 420.7h0M244.5 515h0M240.6 543.5h0M237.8 524h0M234.1 436.9h0M236.1 364.6h0M239.1 532.7h0M255.1 487.6h0M226.6 331.3h0M228 527h0M232.9 361.8h0M235.1 520.2h0M267 496.4h0M227.7 445.1h0M247.2 536.8h0M246.3 497.8h0M240.5 505.8h0M232.7 376.7h0M258.2 512.4h0M244 536.5h0M217.2 395.1h0M242.4 545.2h0M243.9 540.8h0M179.4 510.7h0M259.3 377.1h0M240 458.5h0M226.9 412.7h0M253.9 508.4h0M242.7 539.1h0M241 543.9h0M250.1 530.2h0M249.3 463.6h0M239 488.1h0M227.8 448h0M236.5 506.2h0M221.4 452.2h0M243.4 549.1h0M251.5 508.6h0M229 506.9h0M235.8 528h0M254.8 384.6h0M204.6 500.8h0M225.9 449.3h0M252.4 530.6h0M248.8 523.2h0M245.2 544.6h0M242.5 536.9h0M230.6 487h0M224.4 483.1h0M236.8 444.2h0M243.7 515h0M257.1 378.5h0M224.8 443.6h0M223.5 502.3h0M230.2 321h0M238.5 528.3h0M262.4 390h0M246.1 420.7h0M250.7 517.5h0M247.4 529h0M209.6 429.2h0M240.5 510.5h0M258.2 369.4h0M242.8 541.3h0M251 517.2h0M246.2 541.8h0M244.4 536.9h0M231.9 489.5h0M243.4 537.2h0M229.1 479.2h0M238.6 505.5h0M250 485.5h0M255.1 506.9h0M247.6 462.3h0M254.3 519.4h0M253.9 529.7h0M230.9 491.4h0M251.6 490.1h0M235.3 463.6h0M252.1 495.4h0M190.2 466.7h0M243.2 547.3h0M244.7 494.9h0M245.8 510.2h0M243 549.6h0M249.5 532.3h0M235.8 507.4h0M253.2 386.5h0M237.5 523.2h0M234.5 508.3h0M241.4 483h0M254.3 478.3h0M245.9 546.4h0M229.9 333.7h0M228.4 488.3h0M238.4 492.1h0M222.1 471.9h0M243.2 536.1h0M233.6 516.7h0M215.5 444h0M250 525.9h0M235.3 524.5h0M244.1 544.3h0M262.9 386.5h0M210.2 475.5h0M221.8 438.8h0M211.1 442.6h0M240.3 525.9h0M245.3 546.5h0M247.2 491.3h0M290.6 425.4h0M225.5 345.5h0M243.7 535.6h0M268.5 497.4h0M245.7 542.8h0M246.9 541h0M244.2 543.4h0M238.8 495.9h0M227.2 440.3h0M235.9 504.2h0M246.5 541.7h0M231.1 277.7h0M244.7 542.9h0M249.2 512.6h0M239.3 533.2h0M240.7 534.7h0M246.4 536.3h0M235.7 481.2h0M242 545.2h0M233 523.2h0M243.6 549.6h0M261.1 409.1h0M243.4 539.6h0M258.6 471.3h0M231.8 494.1h0M238.2 466.6h0M242.1 522.5h0M247.5 486.7h0M229.9 488.8h0M260 497.9h0M243 544.2h0M247.9 537.4h0M228.3 342.7h0M218.5 442h0M245.1 521.5h0M245 544.3h0M240.1 495h0M231.2 527.1h0M232 502.7h0M255.2 293.3h0M247.1 527.5h0M256.3 479.4h0M233.7 524.9h0M235.1 501.4h0M243.8 455.8h0M248.7 510.1h0M232.4 518.1h0M261.1 299.8h0M240.1 530.3h0M250.4 407.6h0M234.3 502.1h0M237.7 536.3h0M255.1 332.2h0M211.1 428.4h0M229.6 314.2h0M236.4 446.2h0M258.1 462.7h0M256.2 521.1h0M243.8 546.3h0M229.8 227.6h0M238.9 521h0M232.1 515.6h0M252.6 445.1h0M227.4 401.7h0M242.4 547.5h0M230.3 493.5h0M226.2 438.8h0M213 457.8h0M252.7 509.5h0M247.6 363.4h0M245.8 517.9h0M261.2 486.2h0M241.4 503.3h0M222.8 330h0M249.4 456.1h0M234.5 268.1h0M244.6 521.9h0M391.7 513.7h0M249.7 380.7h0M237.2 536.3h0M240.4 543.9h0M252.5 533.3h0M248.1 503.4h0M246.9 495.4h0M241.8 541.8h0M210.3 449h0M229.7 414.6h0M255.2 522.4h0M246 539.4h0M249 531.1h0M249.2 408.8h0M240.7 515.4h0M243.3 539.3h0M231 491.8h0M234.7 462.9h0M257 464.7h0M227 466.3h0M227.6 352.8h0M244.1 544.8h0M249.7 495.3h0M230.9 338.5h0M231.2 508.8h0M241.7 546.4h0M242.1 547.8h0M244.2 549.5h0M241.7 521.1h0M259.1 363.9h0M241.4 515.9h0M265.9 435.8h0M260.3 489.9h0M238 437.6h0M227.7 365.6h0M241.7 544.2h0M245.9 535.2h0M244.7 545.7h0M252 527.8h0M241.7 545.4h0M241.9 542.8h0M228.4 498.8h0M261.6 451.7h0M244 541.6h0M255.7 443.9h0M244.7 542.8h0M248.3 455.5h0M246.2 458h0M238 425.6h0M267.9 404.3h0M254.2 503.7h0M241.3 544.5h0M245 536.3h0M232.9 514.1h0M250.4 414.6h0M246 511.6h0M242.6 549.4h0M239.4 518.5h0M257.7 478.3h0M228.3 466.9h0M234.3 459h0M260.7 407h0M238.8 531.4h0M244.1 546.9h0M231.2 478.5h0M236.1 470.2h0M241.8 542.7h0M223.9 450.4h0M237.7 519.6h0M234.8 427.7h0M245.7 535.6h0M246.3 542.9h0M251.9 508.2h0M236.8 427.1h0M223.7 438.1h0M245.4 508.8h0M240 523.2h0M243.9 550.3h0M249.1 395.3h0M246.6 503.7h0M227.4 459.1h0M249.2 532.6h0M255.2 454.2h0M240.4 543.4h0M235.2 472.3h0M261.7 508.5h0M248.7 522.5h0M228.5 358.6h0M249.3 532.3h0M234.3 522.4h0M231.9 476.5h0M242.6 525h0M241.1 520h0M251.7 517.8h0M254.3 464.1h0M266.7 485h0M248.6 537.2h0M243.6 539.7h0M238.1 379.5h0M251 510.6h0M231.4 367.2h0M231.5 383.3h0M244.8 510.2h0M239 511.4h0M231 515.9h0M238.2 478.5h0M227.8 418.1h0M251.4 438.2h0M243.6 511.4h0M240.9 513.3h0M255.4 486.8h0M253 508.3h0M248.2 424.7h0M243.6 548.7h0M245.9 546.8h0M250.8 355.2h0M248.3 384.2h0M245.2 525.9h0M263.4 488.9h0M255.9 374.6h0M241.3 508.2h0M265.4 457.1h0M228.5 409.9h0M249.8 533.6h0M234.5 442.8h0M242.9 528.9h0M242.5 546.9h0M251.1 443.7h0M260.7 484.4h0M246.3 460.1h0M230.6 473.5h0M252.2 432.7h0M242.7 534.8h0M244.2 532.2h0M239.8 508.2h0M248.8 526.5h0M244.3 544h0M248.8 419.7h0M238.4 501.1h0M247.5 505.6h0M245.4 543.1h0M231 467.7h0M234.7 452.8h0M246.8 423.9h0M244.2 547.8h0M235.4 366.4h0M240 530h0M263.4 465.7h0M255 479.8h0M247.2 415h0M240.5 546h0M251.8 524.8h0M257.1 492.6h0M233.4 351.3h0M258.6 441.1h0M244.8 547.5h0M257 331.3h0M253.4 538.5h0M231.4 511.2h0M256.4 515.3h0M235.5 472.8h0M228.6 508h0M208.7 489.8h0M245.9 529.2h0M237 407.2h0M255.6 478.8h0M246.9 539.9h0M263 436.9h0M254 483.3h0M263.3 411.3h0M252.4 542.9h0M244.9 548.9h0M242.9 546.9h0M243 550.2h0M255.4 270.8h0M238.7 453.1h0M227 361.1h0M229.2 462.8h0M245.2 545.3h0M234.2 513.2h0M244.2 544.8h0M218.9 291.7h0M233.7 502.7h0M240.8 526.6h0M249 536.7h0M233.3 495h0M256.6 499.2h0M242.3 550.5h0M248.9 512h0M270 398.6h0M256.6 355.2h0M228.6 502.6h0M236.3 514.1h0M253.4 359.3h0M242.7 544h0M225.4 469h0M251.2 434.3h0M251.7 512.2h0M256.9 471.7h0M242.4 549h0M243.6 536.6h0M236.3 489.4h0M257.3 451.1h0M236.4 344.9h0M248.1 525.2h0M256.1 406.4h0M238.7 501.5h0M246.6 520.1h0M266.6 478.9h0M241.2 543.8h0M314.5 512.7h0M235.7 474.7h0M265 477.8h0M257.9 453.1h0M249.8 429.3h0M252.7 441.1h0M265.4 444.1h0M248.4 453h0M230.2 443.6h0M245.3 544.7h0M244 541.9h0M259.3 439.7h0M251.3 450.6h0M224.7 453.5h0M231.8 495.2h0M234.7 456.6h0M233.1 330.6h0M246.1 474.2h0M227.1 206.2h0M240.5 536.5h0M221.8 409h0M236.6 518.1h0M241.2 541.2h0M235.8 489.7h0M259.6 352.9h0M232.6 512.4h0M249.6 538.4h0M249.6 530.8h0M255.7 373.8h0M252.8 459.3h0M241.3 537.9h0M242.4 550.3h0M251.8 469.1h0M246 516.8h0M255.3 360.6h0M243.7 546.6h0M238.3 498.4h0M263 331.3h0M243.6 549.3h0M252.3 417h0M237.8 539.2h0M232.7 488.9h0M226.1 374.4h0M238.1 516.7h0M251.3 439.6h0M266.9 462.7h0M249.1 536.1h0M242.3 548.8h0M242.9 546.7h0M245 527.6h0M244.6 547.4h0M239.9 528.5h0M265.9 374.6h0M242.7 535.8h0M236.9 537.5h0M253.9 488.8h0M237.6 514.8h0M276.2 429h0M239.9 515.3h0M234.9 536.5h0M254.9 497.9h0M250.8 494.5h0M228.6 499.7h0M243.3 543.4h0M247.4 526.5h0M253.1 500.1h0M242.2 540.9h0M242 492.8h0M226 347h0M242.9 548.2h0M258.4 372.4h0M249.5 351h0M234.5 508.6h0M240.9 531h0M242.5 539.1h0M245.5 499.4h0M227.8 283.3h0M251.1 451.3h0M264.4 438.6h0M227.1 407.4h0M250.7 534.7h0M238 412.3h0M230.6 444.6h0M223 331h0M253.3 440.8h0M239.1 482.4h0M265.7 257.2h0M256.5 507.8h0M232.4 433.6h0M236.1 506.5h0M238.9 537.2h0M238.5 360h0M249 512h0M247.6 543.4h0M248.2 532.2h0M246 477.1h0M240.2 467.3h0M240 417.2h0M241.5 535.2h0M242.9 538.8h0M246 484.5h0M235.2 519.8h0M238.3 538.5h0M260.2 435.5h0M246.8 518.2h0M248.5 524.7h0M249.4 533h0M234.2 529.7h0M258.8 470h0M256.1 522.9h0M238.3 456h0M252.2 375.9h0M251.6 391.5h0M247.5 528h0M233.1 506.2h0M236.4 497h0M245.5 525h0M225.3 287.4h0M246.1 537.4h0M226.6 506.7h0M252.8 521h0M253.7 365.1h0M246.1 526.5h0M246.6 500.7h0M255.4 499.3h0M261.8 469.6h0M227 484.4h0M238 545.2h0M255.8 398.8h0M257.7 522.4h0M254.9 497.5h0M237.7 500.2h0M248.3 501.3h0M228 514.3h0M243.8 549h0M223 391.4h0M260 346.1h0M331.2 507.7h0M249.2 333h0M253.6 524.4h0M232.5 512.5h0M227.6 426.1h0M254.5 471.9h0M255.3 247h0M224.7 462.5h0M230.6 431.1h0M251.9 484.6h0M233.3 363.4h0M248.9 531.9h0M241.5 543.3h0M238 493h0M247.3 513.3h0M239.2 528h0M246.1 547.6h0M230.6 508.6h0M246.4 520h0M229.7 503.9h0M238 375.5h0M247.2 543.9h0M256.3 418h0M240.2 534.8h0M255.2 411.2h0M236.6 391.6h0M244.8 541.6h0M261.8 321h0M217.1 490.1h0M262.4 455.5h0M240.9 549.8h0M252.2 514.8h0M238.1 538.9h0M250.3 504.7h0M250.6 473.1h0M234.8 523.9h0M245 527.5h0M220.8 465h0M237 422.8h0M245.2 543.7h0M241 505.3h0M241.6 542.1h0M239.8 444.3h0M266.8 497.8h0M225.8 435h0M241.4 520.4h0M236.7 539.8h0M255.3 360.4h0M241.9 544.4h0M238.1 479.8h0M234.8 533.3h0M261.5 384h0M221.6 471.6h0M243.8 550.2h0M234.6 375.7h0M235.7 500.4h0M251.7 487.2h0M249.4 530.5h0M237.7 431.9h0M238.4 520.4h0M254.9 340h0M242.8 525.6h0M244.1 547.4h0M265.2 398h0M230.8 507.5h0M209.8 425.5h0M265.3 412.9h0M240.3 533.2h0M230.5 466.1h0M239.5 542.4h0M249.1 478h0M246.7 536.7h0M244 549.8h0M247.8 535.3h0M249.2 540.3h0M242.1 542.9h0M423.4 512.7h0M237.6 517.3h0M264.2 465.2h0M242 542.1h0M261.5 302.8h0M262.5 347.1h0M239.3 465.3h0M255.7 441.7h0M235.7 531.2h0M238.9 485.6h0M235.3 449.1h0M245.6 543.4h0M233 514.8h0M246.4 505.8h0M266.1 452.9h0M260.3 380h0M256.6 491.3h0M213.6 460.1h0M241 526.3h0M226.9 511.8h0M225.6 397.5h0M260.7 469.1h0M251 382.1h0M244.9 547.4h0M258 504.6h0M235 528.3h0M249.5 503.2h0M255.7 460.5h0M239 535.2h0M257.9 517.8h0M240.8 523.7h0M249.2 525.2h0M254.3 508.3h0M248.1 460.3h0M255.9 490.1h0M265.7 428.7h0M241.9 532.4h0M258.1 503.9h0M228.1 505h0M252.1 533.8h0M239 521.7h0M232.9 502.4h0M241.4 544.3h0M252.8 407.9h0M248.7 531.6h0M229.1 318.5h0M251.5 539.2h0M236.2 499.1h0M240.1 541.5h0M264.6 416.9h0M188.9 448.8h0M240.9 541.6h0M224.6 297.9h0M241.7 539.8h0M243.4 550.3h0M244.2 549.2h0M248.3 534.4h0M260.7 516.4h0M242.5 547.3h0M253.1 461h0M252.9 501.7h0M247.7 480h0M258.4 411.8h0M241 539.8h0M249 436.6h0M248.2 457.5h0M249.1 437.8h0M252.5 485.6h0M253.2 496.1h0M259.5 467h0M242.1 533.2h0M231.6 505.6h0M260.2 388.4h0M242.5 536h0M225.7 231.6h0M241.1 546.4h0M233.2 468.4h0M228.3 471.5h0M240.7 543.1h0M232.1 373.6h0M234 461.8h0M249.5 529.4h0M250.9 530.3h0M235.1 482.8h0M260.1 367.6h0M237 527.8h0M245.6 488.9h0M252.7 497.3h0M243.3 532.1h0M250.6 482.5h0M258.7 498.9h0M258.6 378.6h0M242.9 543h0M234 371.1h0M257.3 349.5h0M230.3 488h0M245.7 534.7h0M255.7 438.4h0M260.2 509h0M245.5 534.8h0M242.5 547.6h0M246.3 542.5h0M260.7 480.4h0M238 537.6h0M277.8 448.7h0M239.5 469.2h0M216.4 409h0M239.9 514.2h0M239.5 542h0M244.8 543h0M217.5 520.8h0M236.7 507.6h0M246.7 522.3h0M240.7 544.7h0M240.1 540.9h0M243.6 548h0M264.1 393h0M246.9 543.9h0M251 510.1h0M344.1 493.8h0M252.3 349.1h0M249.2 524.6h0M236.7 544.2h0M256.4 455.3h0M251.9 475.3h0M232.5 449.3h0M240.4 523.4h0M235.9 521.8h0M233.4 512.9h0M235.1 467.8h0M228.5 358.9h0M204.7 472.6h0M256.3 427.3h0M246.1 481.3h0M233.1 270.3h0M268.9 332.6h0M244.3 519.1h0M239.8 527.9h0M230.7 384.5h0M243.7 546.3h0M230.6 515.6h0M253.5 471.3h0M248.9 532.3h0M254.4 453.1h0M262.3 434.2h0M248 537.8h0M244.9 544.9h0M237.4 513.6h0M234.6 498.9h0M243.7 549.5h0M239.9 513.7h0M241.8 545.9h0M229.9 325.4h0M269.5 419.6h0M269.6 423.2h0M249.5 526.7h0M252.6 488.4h0M251.4 406.6h0M259.1 467.8h0M236.3 506.5h0M232.4 519.7h0M240.4 540.3h0M230 538.7h0M256.8 457h0M246.8 538.3h0M248.4 401.9h0M258.5 360.4h0M223.2 434.1h0M242.8 543.5h0M234.2 529.3h0M254.6 506h0M243.4 545.2h0M239.5 529.6h0M255.6 393.6h0M232.5 370.8h0M239.5 507.9h0M262.9 401.5h0M246.6 527.5h0M253.2 351.2h0M250.2 422.2h0M204.9 431h0M239.9 512.9h0M246.7 539h0M244.6 541.5h0M221.2 441h0M248.3 534h0M246.2 454.9h0M243.1 503.6h0M244.4 546.9h0M259.5 498.2h0M248.5 539.2h0M240.6 538.8h0M250.3 485.3h0M233.3 501.6h0M228.5 450.8h0M228.6 339.7h0M236.8 528h0M246.5 425.1h0M261.2 254.5h0M242.8 548.2h0M236.5 401.9h0M228.6 344.2h0M249.9 528.4h0M241.4 500.6h0M257.8 480.5h0M243.1 549.6h0M238 508.4h0M244.8 535.9h0M239.4 542.5h0M235 527.6h0M242.7 550.3h0M250.6 430.2h0M247.6 527.9h0M231.4 494.7h0M222.3 427.9h0M260.4 413.1h0M237.8 402h0M240 516h0M232.7 470h0M239.8 418.5h0M223.3 512.3h0M238.9 491.9h0M240.3 474.6h0M221.3 431h0M246.6 400.5h0M212.8 457.7h0M244.6 542.6h0M264.5 358.3h0M229.6 459.1h0M242.1 531.2h0M253.1 407.3h0M249 496.9h0M267.2 494.9h0M247.2 509.3h0M233.2 476.9h0M239.7 543.4h0M234.6 538.4h0M252.4 415.4h0M242.1 539h0M248 538.8h0M236.3 523.8h0M252.8 504h0M231.6 318.1h0M228.2 499.4h0M242.7 525.9h0M254.3 458.8h0M230.8 482h0M262.2 433.1h0M240.3 537.6h0M245 545h0M232 479.3h0M239.5 527h0M244.2 545.8h0M243.2 544.3h0M220.8 466.2h0M249.1 525.8h0M237.7 349.6h0M238.7 473.4h0M208.6 422.8h0M237.6 538.5h0M219.9 300.2h0M219.6 479h0M244.4 539.9h0M225.4 531.6h0M239 525.2h0M252.6 335.3h0M254.8 451.6h0M237.7 535.2h0M247.4 516.9h0M237.8 504.5h0M250.9 473.7h0M212.5 460.7h0M224.2 334.5h0M247.2 539.2h0M244.7 546.1h0M252.6 464.6h0M244.4 538.8h0M242.6 544.1h0M268.2 350.2h0M241.1 544.1h0M251.4 505.4h0M239 526h0M226.7 506.4h0M229.1 500.9h0M245.2 539.6h0M223 242.1h0M248.8 530.6h0M238.5 468.4h0M247.4 538.1h0M243.6 550.3h0M269.7 424.8h0M237.7 486.2h0M238.6 522.5h0M238.6 533.5h0M231.4 462.4h0M244.8 541.9h0M230.4 455.8h0M237.9 539h0M237.6 536.7h0M240.9 506.8h0M239.2 514.1h0M235.8 523h0M229.6 351.2h0M231 519.1h0M249.3 521.6h0M232.3 511h0M246.3 525.4h0M201.2 474.1h0M229.3 391.9h0M230.2 483.3h0M233.9 471.6h0M223.4 321.1h0M238.7 532.5h0M226.2 415.7h0M252.9 510.9h0M256.8 356.1h0M237.3 501.9h0" stroke="#000" stroke-opacity="0.6" stroke-width="5.8" stroke-linecap="round" fill="none"/>
<path d="M256.1 505.6h0M230.5 502.3h0M232.7 415.9h0M232.7 521.3h0M235.5 495.6h0M257 514.3h0M246.7 543h0M247.9 544h0M235.3 516.1h0M243 549.3h0M248.8 510.4h0M234.1 306.5h0M243.3 546.4h0M233.9 530.3h0M228.8 525.8h0M239.9 544.2h0M243.3 546.9h0M238 517.5h0M216.5 449.9h0M249.5 534h0M233 478.3h0M233.9 345.4h0M241 519.4h0M236.4 507.1h0M253.3 429.8h0M264.2 195.3h0M239 516.2h0M226.8 486.5h0M252.9 397.1h0M251.1 531.4h0M244.7 548.8h0M250.2 521.9h0M226.9 473.7h0M244.1 548.5h0M243.7 549.4h0M249 524.5h0M232.9 489.4h0M237 535.8h0M249.6 519.1h0M248.8 332.4h0M235.3 461.2h0M227.3 478.5h0M239.9 479.1h0M262.9 280.3h0M259.6 291.6h0M257.4 427.6h0M236.3 512.9h0M255.8 478.8h0M284.4 497.5h0M245.7 510.4h0M240.9 535h0M247.2 498.2h0M249.4 529.5h0M236.7 506.9h0M243.1 546.4h0M253.3 535.5h0M250.1 501.2h0M256.6 490.6h0M242.8 549.5h0M249.7 463.1h0M247.8 496.5h0M221.8 364.2h0M239.7 529.4h0M239.3 538.1h0M251.7 421.8h0M255 482.8h0M223.5 358.2h0M245.4 470.6h0M234.7 492.2h0M237.5 358.9h0M232.3 514.6h0M242.4 549.6h0M229.3 417.6h0M249.4 467.9h0M236.8 525.6h0M242.4 547.7h0M246.3 534.2h0M253 393.3h0M252.5 525.6h0M257.7 517.5h0M247 522.9h0M239.1 457.4h0M256.6 401.8h0M216.4 501.9h0M244.8 544.8h0M245.4 498.9h0M192.1 431.1h0M238.9 534.3h0M236.7 390.1h0M244.2 546.3h0M242.8 549.6h0M238.2 456h0M233.9 366.1h0M244.8 540.9h0M235.4 530h0M254.2 496.7h0M251.1 407.9h0M244.1 525.1h0M247.6 377.6h0M250.3 463.1h0M246 539.4h0M238.2 475.5h0M249.5 527.5h0M225.2 495.9h0M255.4 478.5h0M235.2 525.4h0M253.1 508.5h0M261.5 392.8h0M257.6 343.6h0M245.6 536.5h0M246.4 539.9h0M258.9 495.3h0M246 543h0M233.4 294.2h0M227.2 356.7h0M243.8 548.2h0M245.1 532.1h0M252.5 530.5h0M243.5 535.5h0M240.1 457h0M248 415.2h0M251.6 490.4h0M243.5 549.1h0M248.1 531.2h0M240.5 541.8h0M236.9 505.8h0M227.7 447.9h0M235.7 502.4h0M245.4 544.3h0M236.1 414h0M247.4 525.4h0M234.2 510.6h0M240.4 535.3h0M239.9 544.2h0M243.9 535.3h0M251.4 484.8h0M254.6 498.6h0M246.2 539.1h0M239.3 501.7h0M244.9 547.6h0M236.2 532.9h0M230.5 369.8h0M239.5 417h0M258 304.9h0M239 538h0M235.5 531.4h0M256.4 495.6h0M268.6 315.6h0M245.4 528.1h0M235.5 504.8h0M233 485.7h0M226.3 459.8h0M230.7 444.6h0M217.8 480.1h0M246.2 452.6h0M253 496.1h0M236.6 531.1h0M239.7 543h0M244.3 548.7h0M258.5 353.8h0M225.4 369h0M238.4 520.1h0M245.5 529.9h0M241.5 547.8h0M221.8 375.1h0M254.8 498.3h0M243.7 548.5h0M238.7 502.7h0M233.6 436h0M249.8 319.6h0M244.2 549.9h0M241.9 549.8h0M238.8 540.1h0M209.6 422.8h0M242.6 544.6h0M244.9 543.2h0M242.3 514.1h0M233.8 520.5h0M236.1 530.4h0M261.8 311h0M252.4 492.1h0M245.8 486.5h0M259.6 428.9h0M232.4 478.2h0M248.6 501.2h0M259.8 495.8h0M237.8 535.8h0M230.2 502.9h0M232.2 394.7h0M240 518.1h0M250.7 537.9h0M242.9 532.5h0M258.3 377.1h0M256.5 505.8h0M251.9 455.5h0M228 377.9h0M249 478.5h0M239.1 538.5h0M232.5 505.1h0M241.5 516.6h0M242.2 543.2h0M251.1 455h0M246.8 506.9h0M261.9 328.1h0M247.4 537.6h0M231.7 447.4h0M235.3 504.7h0M236.4 530.3h0M235.5 476.3h0M229.4 429.5h0M348.1 503.7h0M232.8 522.7h0M249.3 523.8h0M251.7 467.1h0M259 511.8h0M264 455.3h0M274 446.1h0M270.5 469.4h0M241.8 534.3h0M243.3 549.1h0M254.6 530.1h0M229.6 486.6h0M232.2 469.5h0M260.9 345.8h0M249.7 517.2h0M179.4 449.2h0M243.2 536.1h0M245.6 548.1h0M239.9 495.5h0M232.7 507.3h0M228.3 361.6h0M255.4 495.8h0M239.2 502.7h0M251 521.8h0M238.7 528.1h0M248.2 521.2h0M242.1 546.9h0M249.4 527.4h0M228.5 395.7h0M217.6 439.6h0M266.5 395.6h0M243.7 547.7h0M238 537.2h0M197.5 431.3h0M235.4 374.5h0M252.3 287h0M239.9 542.5h0M229 502.3h0M245 533.9h0M241 529.9h0M227.8 449.2h0M238.8 527h0M227.7 447.7h0M235.6 358.2h0M251.8 433.6h0M247.6 500.7h0M230.8 459.8h0M238 540.5h0M235.7 452.1h0M243.8 539.1h0M234.4 468.4h0M256.3 370.4h0M247.4 539.3h0M247.3 505h0M249.7 537.8h0M223.4 453.5h0M239.7 537.8h0M266.9 379h0M226.3 369.7h0M231.7 507.1h0M242.3 530.2h0M238.8 499.2h0M248.3 537.5h0M247.8 477.8h0M239.2 540.1h0M230 529.8h0M244.4 548.7h0M251.7 465.7h0M246 499.8h0M241.9 546.2h0M239.2 507.6h0M248.5 362.4h0M246.2 531.4h0M247.6 540.1h0M248.2 531.1h0M213.8 534.1h0M226.1 468.5h0M231.6 520h0M254 415.1h0M249.5 526.1h0M252.9 509.5h0M240 463.5h0M226.5 508.6h0M239.7 503.7h0M235.5 534.2h0M231.5 497h0M264.1 485.7h0M244.5 549.9h0M250.4 392.1h0M242.8 543.1h0M233.1 461.9h0M234.6 487.1h0M258.5 437.5h0M235.4 508.5h0M264.7 403.3h0M231.2 461.6h0M240.9 543.8h0M229.4 515.7h0M245.3 543.3h0M244.3 544.8h0M251.2 389.3h0M249.9 476h0M244.3 537.2h0M245.1 531.7h0M253.4 419.3h0M233.7 519.1h0M245.3 516.6h0M238.4 533.4h0M235.9 401.7h0M241 537h0M248 529h0M264.4 494.3h0M261.9 443h0M234.4 469.4h0M230.6 504.8h0M266 478.4h0M253.8 463.9h0M241.8 536.3h0M246.3 410.7h0M236.6 446.9h0M246.7 490.4h0M240.1 530.1h0M193.3 451.4h0M253 466.6h0M239.2 521.3h0M240.5 494.7h0M258 422.2h0M240.5 526.7h0M254.4 446h0M251 507.5h0M246.3 479.8h0M245.9 538.3h0M266.6 446.5h0M261.5 471.7h0M249.3 534.3h0M231.6 396.5h0M252 521h0M246.2 468h0M244.6 460.6h0M234 482.6h0M257 510.9h0M229.5 498.4h0M236.9 513.8h0M241.6 534.1h0M240.4 540.7h0M238.9 532.6h0M257.8 427.1h0M242.2 549.2h0M250.6 506.4h0M236.7 530.3h0M241.5 548h0M201.6 463.9h0M237.4 339.3h0M241.1 534.6h0M236.1 531.3h0M249.9 474.8h0M239.1 504.5h0M230 373.4h0M233.2 523.6h0M242.5 533.8h0M242.7 543.7h0M244.1 488.3h0M251 518.9h0M237.4 494.7h0M262.4 493.2h0M258.5 501.1h0M227.9 376h0M229.7 292.7h0M260.7 477.9h0M242.2 538.4h0M217.4 463.8h0M227.6 502.6h0M250.2 505.1h0M243.2 550.3h0M205.8 478.2h0M238 478.4h0M243.1 550.2h0M239.5 531.8h0M213.5 440.3h0M257.4 416.1h0M251.5 471h0M246.3 509.8h0M249.2 498.4h0M258.5 365.4h0M248.6 527.5h0M246.4 538.1h0M259.7 460.5h0M246.9 520.9h0M240.3 512.4h0M232.6 526.1h0M277.9 492.2h0M253.4 502.4h0M220.3 376h0M223.1 384.6h0M252.2 477.2h0M232.6 415.6h0M240.8 545.4h0M242.8 550.4h0M253.1 531.7h0M225.3 426.6h0M244 537.9h0M242.5 550.4h0M243.1 549.6h0M243.3 550.1h0M240.4 545.4h0M241.1 541.9h0M260.4 411.7h0M256.4 488.8h0M245.5 530.6h0M254.4 509.4h0M227.6 311h0M264.2 362.3h0M249.1 484.2h0M247.2 503.7h0M265.6 402h0M238.4 530.3h0M228.8 473h0M241.6 546.7h0M240.2 541h0M246.1 534.3h0M219.1 391h0M184 495.8h0M259.2 371.1h0M234 418.8h0M245.6 519.6h0M243.2 548.5h0M238.7 517.1h0M243.5 544.8h0M240.1 532h0M243.7 536.5h0M248.6 531.2h0M231.6 483.7h0M248.3 503.1h0M238.9 517h0M230.3 410.5h0M259.5 438.1h0M230.2 310h0M280.8 454.8h0M237.9 428.4h0M231.2 515.2h0M241.5 521.5h0M250.1 494.1h0M257.1 432.9h0M223.3 507.4h0M234.2 474h0M245.2 537.3h0M245.4 547.7h0M239.1 488h0M245.5 515.9h0M240.1 535.3h0M239.3 505.3h0M245.4 485.5h0M269.1 422.7h0M245.9 527.9h0M250.6 536.9h0M257.7 436h0M244.7 536.7h0M224.5 440.8h0M228.4 481.4h0M217.5 446.2h0M243.6 547.4h0M235.6 347.9h0M239.8 473.7h0M237.8 540.5h0M249.1 534.2h0M237.4 512.8h0M232.1 467.8h0M213.5 513.6h0M259.9 485.7h0M246.3 531.8h0M239.1 528.4h0M233.3 517.4h0M220 458.7h0M221.4 429.8h0M251.3 521.5h0M248.9 470.2h0M261.7 408.1h0M247.2 505.8h0M233.1 522.7h0M240.9 548.5h0M285 453.3h0M253.4 340.4h0M247.7 527.6h0M241.1 538.4h0M235.9 467.8h0M226.6 492.8h0M235 535h0M234.4 470h0M255.8 416.9h0M241.4 539.3h0M245.5 546.4h0M217.2 501.2h0M239.8 482.2h0M234 347.5h0M246.5 504.2h0M229.5 500.5h0M231.3 507.7h0M261.4 445.4h0M253.9 453.2h0M274.4 492.3h0M252 353.5h0M228.8 510.3h0M230.2 415.3h0M226.1 496.4h0M226.2 467.7h0M235.8 487.9h0M243.3 538.6h0M244.9 536.8h0M240.8 544.4h0M234.6 510.2h0M257.6 355.5h0M243.7 550.4h0M244.8 550.3h0M242.1 547h0M251.2 463.2h0M238.6 403.2h0M238.3 491h0M246.1 499.9h0M238 541.8h0M219.8 437.1h0M239.4 509.7h0M242.4 550.2h0M251.5 297.8h0M232.7 501.8h0M241.2 521.1h0M225 466.8h0M240.1 501.2h0M243.1 534.6h0M240 535.3h0M225 379.5h0M254.8 515.7h0M261.6 478.3h0M253.1 528.8h0M217.9 340.6h0M230.9 488.5h0M311.8 462.9h0M332 508.7h0M244.5 541.9h0M225.3 343.8h0M226 463.9h0M250.8 456.6h0M243.9 547.6h0M237.4 530.9h0M252.8 524.1h0M222.5 450.9h0M220.7 489.5h0M245.7 514.3h0M243.2 542.8h0M267.3 498.8h0M264.3 348.3h0M242.8 548h0M253.9 513.8h0M254.1 528.2h0M223 266.9h0M240.3 537.7h0M252.5 522.5h0M241 514.2h0M255 444.6h0M263 482.6h0M235.3 512.3h0M247.5 506.5h0M235.7 477.8h0M218.8 455.3h0M236.3 433.4h0M264.6 352.9h0M227 462.8h0M240.1 542.9h0M241.4 541.9h0M226.3 518h0M228.3 455.4h0M233.3 429.1h0M245.1 540.7h0M235.1 446.1h0M240.3 479.9h0M233.2 362.6h0M226.2 478.7h0M240.6 488.9h0M236.3 488.5h0M251.4 519.1h0M250.7 475.7h0M243.7 544.3h0M248.2 412.2h0M236.9 509.1h0M230.2 517h0M240.2 540.3h0M243.6 545.6h0M238.5 528h0M260.8 428.4h0M245.5 519.5h0M252.5 521.2h0M230.8 466.3h0M269 392.9h0M253.7 343.7h0M220.2 415.7h0M237.4 428.3h0M249.8 524.4h0M229.2 517.6h0M232.5 423.1h0M231.8 518.4h0M242.3 550.1h0M243.2 549.4h0M240.4 478h0M243.3 548.5h0M252.6 486.5h0M223.3 374h0M261.6 518.6h0M252 489.5h0M241.7 520.7h0M254 430.9h0M233.1 520.7h0M239.4 541.8h0M255.1 361.7h0M245.6 543.6h0M227.4 480.8h0M249.1 503.8h0M240.7 542.8h0M236.8 501.3h0M245.1 504h0M254.2 293.8h0M248.8 533.5h0M193.4 515.8h0M237.9 495.6h0M245.6 546.3h0M239.3 506.4h0M258.8 503.2h0M243.2 550.1h0M244 548.5h0M243.8 536.5h0M225 419.2h0M245.5 543.8h0M244.6 500.4h0M240.5 528.1h0M244.3 545h0M235.9 321.3h0M234.1 433.1h0M237.1 474.8h0M235.4 442.6h0M238.9 535.7h0M249.3 506h0M231.3 420.7h0M257.8 501.6h0M230.5 389.2h0M252.3 519.6h0M230.6 485.8h0M219 410.7h0M233.3 505.3h0M229.7 448.7h0M249.7 405.6h0M266.6 414.5h0M238.1 481.3h0M217.5 439.5h0M255.9 470.1h0M256.7 458.8h0M228.3 494.6h0M239.3 466.9h0M239.9 527.8h0M248.6 531.3h0M242.2 547.6h0M227.1 425.2h0M232.4 500.2h0M243.1 542.3h0M242.7 550.2h0M255.5 506.9h0M235.5 530.9h0M244 536.9h0M247.3 541.2h0M245.9 545.6h0M233.1 397.7h0M225.4 326.1h0M234.3 530.5h0M237.2 528.4h0M251.3 509.2h0M263.7 416h0M244.3 548.2h0M249.9 492.7h0M239.8 540.3h0M250.7 513.7h0M244.1 542.7h0M247.6 536.3h0M243.7 548.5h0M246.1 474.1h0M245.6 541.4h0M235.2 377.5h0M251.4 535.6h0M226.2 344.2h0M243.3 545.6h0M253.7 500.2h0M224 370.8h0M238.3 435.2h0M246.4 451.9h0M232.7 516.4h0M243.3 545.5h0M244.8 548.2h0M247.9 438.3h0M309.6 424.1h0M247 485h0M252.1 500.9h0M247.6 538.4h0M248.1 521.7h0M243.9 544.9h0M238.3 474.7h0M231.2 452.7h0M233.6 511.9h0M233.1 464.5h0M254.9 519.9h0M245.2 495.5h0M237.8 470.5h0M250.5 431.7h0M265.9 495.2h0M240 457.3h0M243.3 546.2h0M227.8 399.7h0M251.8 480.9h0M238.5 532.7h0M228.3 500h0M239.2 486h0M229.9 390h0M241.9 535h0M235.9 532.2h0M249.5 530.3h0M242.3 550.1h0M251.6 523.6h0M255.6 515.5h0M251.1 527.1h0M237.9 529h0M249.4 355.2h0M238.1 541.6h0M257 512.9h0M233.2 386.5h0M213.5 468.7h0M254.8 352.2h0M233.4 510.9h0M262.2 471h0M240.5 538.2h0M231.6 518.3h0M226.7 336.2h0M265.1 365.1h0M251.3 411.3h0M253.4 366.2h0M251.9 501.2h0M216 459.9h0M230.8 453h0M239.5 535.8h0M229 505.9h0M223.4 268.2h0M236.1 526.4h0M254.8 379.1h0M243.6 549h0M240.4 534.7h0M230 513.4h0M260.6 481.4h0M262.7 404.7h0M235.8 510.4h0M247 524.4h0M247.5 533.1h0M269.1 483.3h0M238.1 505.8h0M238.4 537.9h0M246.3 516.3h0M234.4 418h0M249.3 479.4h0M252.4 493.4h0M258.4 473.4h0M246.8 513.7h0M118.7 512.7h0M226.3 487.9h0M239.8 517.7h0M235.9 499.3h0M233.1 521.1h0M236.6 477.1h0M247.7 538.5h0M248.7 538.1h0M261.4 461.5h0M245.3 544.5h0M230 440.5h0M233.6 470.7h0M213.9 469.6h0M243.1 542.2h0M218.8 368.5h0M231.8 530.8h0M237 514.5h0M236.5 508.9h0M236.5 465.3h0M248.9 422h0M242.3 549.3h0M234.8 408.5h0M250 538h0M258.1 483h0M240.1 497.8h0M241.6 533.6h0M210.1 482.4h0M244.5 544.2h0M263.6 519h0M246.7 530.8h0M242.3 547.8h0M250.3 509.7h0M211.7 441.8h0M243.4 548.5h0M235.2 322.1h0M232.1 457.8h0M233.8 266.3h0M250.8 467.9h0M257.2 287.4h0M234.6 433.5h0M246.7 528.4h0M249.6 533.4h0M219.1 403.7h0M252.4 458.5h0M241.4 527.5h0M244.2 509.9h0M240.6 506.3h0M243.3 536.9h0M230 459h0M244.9 532.2h0M236.3 515.6h0M244.9 544.4h0M232.7 482.8h0M235.6 532.9h0M238.6 516.1h0M226.6 414.9h0M248.2 490.5h0M239.3 435.5h0M250.4 292.3h0M240.8 545h0M250.5 440.9h0M256.7 376.1h0M243.2 544h0M242.9 543.7h0M233.4 473.6h0M238.2 532.4h0M238.1 512.8h0M238.1 516.5h0M241.5 536.4h0M242.5 547.6h0M235.5 527.2h0M243.8 548.6h0M241.2 487.7h0M242.9 550h0M239.1 415.9h0M216.7 334.6h0M238.2 521.6h0M239.5 540.7h0M251.2 505.5h0M250.7 330.7h0M257.4 455.5h0M249.2 377.7h0M247.4 444.1h0M250.4 527.1h0M237.4 475.1h0M257.7 471.6h0M228.2 460.6h0M245.2 523.1h0M248.1 457.1h0M229.2 437.4h0M221.9 491h0M249.5 363.5h0M251.5 534.7h0M239.2 501.2h0M236 478.2h0M244.8 532.1h0M253.9 331h0M224.6 431.8h0M241.3 550.4h0M239 534.2h0M232.8 409.2h0M268.1 463.9h0M249.8 538.6h0M247 534h0M252.2 521.6h0M267.4 324.7h0M224.1 474.4h0M239.4 516.4h0M242.9 548.8h0M244.9 543.5h0M254.3 351.7h0M261.7 453.3h0M235.3 476.4h0M249.8 529.3h0M237 538h0M273 467.1h0M253.8 498.9h0M242.2 548.9h0M233.9 447.1h0M243.8 544h0M224.4 472.4h0M239.4 454.8h0M263.7 235.2h0M262.1 286.4h0M234.7 489.1h0M253.8 483.1h0M227.3 494.8h0M201.1 456.9h0M264.1 412.6h0M247.9 518.8h0M228.7 491.8h0M227.8 420.4h0M257.3 496.3h0M249.5 541.7h0M238.4 523.9h0M234.2 487.2h0M246 543.8h0M240.6 536.8h0M244.6 546h0M245.8 514.9h0M252.1 519.6h0M243.2 549h0M244.8 512.8h0M247.8 440.5h0M231.1 521.1h0M238.6 378.9h0M238.3 484.9h0M244.9 544.3h0M241.9 526.4h0M251.9 452.8h0M240.3 464.1h0M238.2 534.1h0M217.3 397.1h0M243.5 549.8h0M240 507.5h0M244 546.5h0M269.6 349h0M263.9 429.2h0M238.3 516.9h0M249 508.3h0M247.3 530.9h0M249 536.8h0M251.8 524.7h0M232.3 461h0M247.4 540.8h0M231.9 528.1h0M262.2 499h0M254.4 479.2h0M223.5 497.7h0M254 477.3h0M246.3 542.6h0M243.6 544.2h0M250.6 495.2h0M227.8 386.5h0M220.3 130.6h0M239.5 531.1h0M227 443.8h0M244.1 550.5h0M242.4 542.2h0M245.7 545.9h0M277.2 457.7h0M228.8 507.4h0M243.5 491.9h0M248.4 505.7h0M238 536h0M282.8 451.3h0M247.5 500h0M233.7 521.1h0M228.8 523.2h0M227.8 470.9h0M237.9 380.3h0M238.2 381.1h0M237 475.3h0M243.6 532.4h0M249.2 448.5h0M228.4 513.1h0M259 501.6h0M252.3 457h0M246.8 534.2h0M252.4 528.9h0M220.2 391.7h0M250 442h0M231 387.6h0M257.4 472h0M237.6 540.9h0M254.2 415h0M238.6 544.1h0M252.1 318.5h0M245.6 515.1h0M242.7 489h0M257 393.1h0M235.6 531.6h0M251.5 469.8h0M259.6 443.2h0M245.9 522.5h0M235.9 499.2h0M253.2 436.9h0M233.7 497.5h0M251.4 532.3h0M233.1 479.8h0M251.2 514.7h0M266.3 498.6h0M254.1 509.7h0M255.1 466.6h0M233.3 498.6h0M253.4 448.8h0M255.3 530.9h0M234.2 441.8h0M252.3 393.9h0M254.8 485.1h0M235.2 535.7h0M239.8 518.4h0M247.5 447.3h0M252.2 513.7h0M250.1 414.2h0M238.4 540.3h0M242.4 550.1h0M252.9 519.3h0M254.1 488.7h0M238.2 538.9h0M261.7 466.5h0M225.5 413.9h0M236 531.9h0M257 360h0M239.8 471.6h0M263.6 445.9h0M273.3 438.3h0M243.8 547.9h0M255.6 436.6h0M220.7 476.7h0M221.1 335.1h0M226.5 378.3h0M253.8 444.3h0M241.5 519.2h0M238.1 522.4h0M238.3 460.7h0M257.4 456.4h0M227.3 482.9h0M241 538h0M230.1 497.7h0M234 461.8h0M189.4 503.7h0M245.7 511.7h0M236.5 460.2h0M257.8 377.5h0M236.6 416h0M240.1 536h0M236.3 522.1h0M256.9 511.3h0M252 527.4h0M227.3 484.2h0M240.5 514.3h0M246.8 480.8h0M246.5 511.9h0M229.2 432.2h0M229.4 496.5h0M301.8 474.9h0M229.8 471.5h0M266.1 486.2h0M250.5 420.9h0M241.3 542.1h0M245.2 525h0M270 479.3h0M257.1 485.2h0M242.8 543.3h0M268.4 382.7h0M241.6 495.2h0M244.5 525.7h0M233.6 448.9h0M238.6 466.1h0M243.3 549.7h0M238.1 538.9h0M245.6 527.7h0M167.3 486.8h0M240.9 442.6h0M243 545.9h0M249.3 493h0M240 440.5h0M226.7 474.7h0M236.8 535.7h0M255.8 281.8h0M241.8 518.6h0M253.4 512.6h0M240.7 539.3h0M242.7 547.1h0M252.3 503h0M243.7 549.8h0M220.6 400.1h0M230.9 319.7h0M237 499.4h0M249.8 537.7h0M240.3 526h0M262.7 483.1h0M235.2 455.2h0M231.3 462.2h0M245.1 546.1h0M244.8 540.3h0M219 281.5h0M259.6 487.8h0M244.1 543.3h0M245.1 475.9h0M241.2 489.7h0M227.3 351.2h0M240 542.2h0M243 550.1h0M238.5 536.7h0M241 539.3h0M263.7 492.4h0M217.3 412.5h0M252.6 532.8h0M253.2 531.2h0M239.3 429.1h0M248 539.7h0M227.9 401.2h0M226.7 389.8h0M260.5 417.1h0M244.2 526.2h0M248.3 538.1h0M253.6 464.8h0M264.3 435.4h0M246 542.5h0M222.4 294.6h0M251.9 517.9h0M221.8 403h0M256.7 357.3h0M243.9 544.4h0M238.5 515h0M251.6 366.9h0M256.6 505.1h0M237.1 503.2h0M215.8 471.9h0M233.1 417.8h0M251 526.1h0M221.2 392.4h0M233.1 356.2h0M246.7 431.7h0M223.7 242.8h0M240 540h0M238.4 480.2h0M220.3 349.4h0M246.4 538.1h0M265.2 379.2h0M251.5 403.2h0M230.7 439.4h0M365.6 492.8h0M249.5 463.2h0M248.2 538.2h0M246 493h0M239 525.5h0M227.5 341.1h0M225.2 471.8h0M231.3 321.4h0M239.7 530.3h0M255.2 446.2h0M237.7 485.6h0M244.9 511.6h0M242.3 548.1h0M257.6 500.2h0M231.9 332.1h0M266 476.6h0M250.4 515.3h0M245.1 541.5h0M244.6 546.6h0M245 511h0M236.7 342.8h0M251 522.6h0M242.4 549.1h0M248.3 534.6h0M241.3 521.2h0M229.4 455.5h0M219 477.4h0M237.6 523.4h0M248.2 512.6h0M242.5 546.3h0M239.1 540.1h0M250.3 495.8h0M240.7 539h0M255.7 451.9h0M240 465.5h0M267.2 431.1h0M244.3 516.9h0M241.4 539.5h0M248.5 530.8h0M254.1 475.6h0M249.3 387.9h0M230.3 440.1h0M258.4 470.3h0M240.5 529.1h0M237.5 521.1h0M258.1 486.7h0M235.3 529.6h0M237.4 536.9h0M238.8 527.4h0M249.3 473.7h0M235.6 532.6h0M273.1 504.5h0M251.7 529.1h0M264.1 459.9h0M244.3 546.9h0M239 481.1h0M249 541.5h0M241.4 532.7h0M242 540.2h0M242.8 548.5h0M236 479.3h0M253.5 495.2h0M250.7 463.6h0M222.5 350.5h0M235.3 476.5h0M242.9 548.5h0" stroke="#000" stroke-opacity="0.6" stroke-width="5.8" stroke-linecap="round" fill="none"/>
<path d="M165 339.3h0M215.7 368.4h0M195.8 412.5h0M202.6 366.3h0M205.1 413.4h0M205.7 392.3h0M191.7 354.9h0M202.2 373.1h0M212.7 359.9h0M187.5 215.2h0M201.5 286.8h0M215 285.8h0M214.1 296.8h0M213.6 316.7h0M215.8 326.6h0M204.2 329.6h0M205 338.6h0M209.6 338.6h0M201 351.5h0M213.6 349.5h0M209.6 359.5h0M189.4 375.4h0M200.2 377.4h0M212.3 371.4h0M215 381.4h0M192.9 385.3h0M180.5 391.3h0M208.2 391.3h0M213.6 391.3h0M204.2 399.3h0M215 399.3h0M210.9 406.2h0M173.3 409.2h0M182.7 407.2h0M197.5 410.2h0M204.2 413.2h0M185.4 418.2h0M192.1 418.2h0M202.8 418.2h0M213.6 416.2h0M212.3 413.2h0M215.8 411.2h0" stroke="#4d9a58" stroke-opacity="0.6" stroke-width="5.8" stroke-linecap="round" fill="none"/>
<path d="M210.5 373.1h0M195.2 356.8h0M185.3 400.2h0M210.6 408.3h0M187 415.3h0M204.2 415.7h0M213.2 409.8h0M215.9 411.7h0M96.1 408.2h0M187.5 238.1h0M198.5 298.8h0M215.8 291.8h0M215 303.7h0M215 321.6h0M202.8 329.6h0M205.5 329.6h0M208.2 338.6h0M213.6 336.6h0M208.2 351.5h0M215 356.5h0M213.6 363.4h0M196.1 377.4h0M204.2 380.4h0M213.6 376.4h0M186.7 383.3h0M196.7 387.3h0M202.8 394.3h0M210.9 389.3h0M209.6 396.3h0M212.3 401.2h0M206.9 404.2h0M213.6 409.2h0M176.5 408.2h0M194.8 410.2h0M201 409.2h0M208.2 411.2h0M189.4 416.2h0M199.6 416.2h0M210.9 418.2h0M215 418.2h0M200.2 405.2h0M214.1 404.2h0" stroke="#4d9a58" stroke-opacity="0.6" stroke-width="5.8" stroke-linecap="round" fill="none"/>
<path d="M277.8 366h0M271.7 416.8h0M275.5 418.2h0M274.7 419h0M281 336.9h0M272.8 210.2h0M293.5 292.8h0M305.1 322.6h0M300.2 330.6h0M283.5 319.7h0M274.1 321.6h0M270.1 266.9h0M272.3 279.9h0M271.4 301.8h0M271.4 346.5h0M270.6 356.5h0M275.5 356.5h0M272.8 363.4h0M283 366.4h0M276 373.4h0M275.5 381.4h0M271.4 386.3h0M283.5 394.3h0M276.8 399.3h0M272.8 401.2h0M270.6 406.2h0M280.9 411.2h0M286.2 415.2h0M270.1 416.2h0M279 416.2h0" stroke="#da2462" stroke-opacity="0.62" stroke-width="5.8" stroke-linecap="round" fill="none"/>
<path d="M272.7 408.5h0M276.6 400.2h0M282.8 346.9h0M276.1 396.2h0M288.7 401.1h0M275.5 234.1h0M313.1 320.7h0M302.9 324.6h0M278.7 308.7h0M280.3 320.7h0M278.2 328.6h0M271.4 273.9h0M270.6 291.8h0M270.1 341.5h0M272.8 351.5h0M278.2 354.5h0M276.8 361.5h0M282.2 364.4h0M274.1 369.4h0M288.9 376.4h0M278.2 389.3h0M294.8 393.3h0M274.1 396.3h0M270.6 391.3h0M279.5 403.2h0M278.2 409.2h0M283.5 413.2h0M278.2 415.2h0M271.4 418.2h0" stroke="#da2462" stroke-opacity="0.62" stroke-width="5.8" stroke-linecap="round" fill="none"/>
<path d="M70.3 52.7H443V568.2" stroke="#1a1a1a" stroke-width="1.35" fill="none"/>
<path d="M62.8 52.7H70.3M70.3 52.7V561.7H443" stroke="#000" stroke-width="1.7" fill="none"/>
<path d="M81.8 561.7v6.5M108.7 561.7v6.5M135.6 561.7v6.5M162.5 561.7v6.5M189.4 561.7v6.5M216.3 561.7v6.5M243.2 561.7v6.5M270.1 561.7v6.5M297 561.7v6.5M323.9 561.7v6.5M350.8 561.7v6.5M377.7 561.7v6.5M404.6 561.7v6.5M431.5 561.7v6.5M70.3 561.7v6.5M70.3 550.5h-7.5M70.3 500.8h-7.5M70.3 451h-7.5M70.3 401.2h-7.5M70.3 351.5h-7.5M70.3 301.8h-7.5M70.3 252h-7.5M70.3 202.2h-7.5M70.3 152.5h-7.5M70.3 102.8h-7.5M70.3 53h-7.5M70.3 561.7h-7.5" stroke="#000" stroke-width="1.5" fill="none"/>
<text class="d" x="82.4" y="580.7" font-size="11.9" text-anchor="middle">−6</text>
<text class="d" x="109.3" y="580.7" font-size="11.9" text-anchor="middle">−5</text>
<text class="d" x="136.2" y="580.7" font-size="11.9" text-anchor="middle">−4</text>
<text class="d" x="163.1" y="580.7" font-size="11.9" text-anchor="middle">−3</text>
<text class="d" x="190" y="580.7" font-size="11.9" text-anchor="middle">−2</text>
<text class="d" x="216.9" y="580.7" font-size="11.9" text-anchor="middle">−1</text>
<text class="d" x="243.2" y="580.7" font-size="11.9" text-anchor="middle">0</text>
<text class="d" x="270.1" y="580.7" font-size="11.9" text-anchor="middle">1</text>
<text class="d" x="297" y="580.7" font-size="11.9" text-anchor="middle">2</text>
<text class="d" x="323.9" y="580.7" font-size="11.9" text-anchor="middle">3</text>
<text class="d" x="350.8" y="580.7" font-size="11.9" text-anchor="middle">4</text>
<text class="d" x="377.7" y="580.7" font-size="11.9" text-anchor="middle">5</text>
<text class="d" x="404.6" y="580.7" font-size="11.9" text-anchor="middle">6</text>
<text class="d" x="431.5" y="580.7" font-size="11.9" text-anchor="middle">7</text>
<text class="d" x="58.8" y="554.5" font-size="11.9" text-anchor="end">0.0</text>
<text class="d" x="58.8" y="504.8" font-size="11.9" text-anchor="end">0.5</text>
<text class="d" x="58.8" y="455" font-size="11.9" text-anchor="end">1.0</text>
<text class="d" x="58.8" y="405.2" font-size="11.9" text-anchor="end">1.5</text>
<text class="d" x="58.8" y="355.5" font-size="11.9" text-anchor="end">2.0</text>
<text class="d" x="58.8" y="305.8" font-size="11.9" text-anchor="end">2.5</text>
<text class="d" x="58.8" y="256" font-size="11.9" text-anchor="end">3.0</text>
<text class="d" x="58.8" y="206.2" font-size="11.9" text-anchor="end">3.5</text>
<text class="d" x="58.8" y="156.5" font-size="11.9" text-anchor="end">4.0</text>
<text class="d" x="58.8" y="106.8" font-size="11.9" text-anchor="end">4.5</text>
<text class="d" x="58.8" y="57" font-size="11.9" text-anchor="end">5.0</text>
<text class="t" x="256.3" y="597" font-size="13.8" text-anchor="middle">log2(FoldChange)</text>
<text class="t" x="34.8" y="295.3" font-size="13.8" text-anchor="middle" transform="rotate(-90 34.8 295.3)">-log10(pvalue)</text>
<path d="M541 52.1V562.6M570.2 52.1V562.6M599.5 52.1V562.6M628.7 52.1V562.6M657.9 52.1V562.6M687.2 52.1V562.6M716.4 52.1V562.6M745.6 52.1V562.6M774.9 52.1V562.6M804.1 52.1V562.6M833.3 52.1V562.6M862.5 52.1V562.6M891.8 52.1V562.6M529.9 550.6H903.5M529.9 504.9H903.5M529.9 459.2H903.5M529.9 413.5H903.5M529.9 367.8H903.5M529.9 322.1H903.5M529.9 276.4H903.5M529.9 230.7H903.5M529.9 185H903.5M529.9 139.3H903.5M529.9 93.6H903.5" stroke="#dcdcdc" stroke-width="1" fill="none"/>
<path d="M687.2 52.1V562.6M745.6 52.1V562.6M529.9 431.7H903.5" stroke="#3d5a78" stroke-width="1.1" fill="none"/>
<path d="M710.1 532.8h0M709.9 432.9h0M714.5 480.4h0M715.7 547.6h0M719.1 545.6h0M732.5 499.6h0M701.2 421.1h0M700.5 517.9h0M697 399.4h0M725.2 516.8h0M711.2 482.3h0M716.6 531.6h0M723.6 537.6h0M677.2 468.2h0M749.2 432h0M723.2 504.4h0M706.9 516h0M722.8 526.6h0M705.7 484.1h0M723.6 538.4h0M709.8 479h0M709.9 516.3h0M697.5 363.7h0M717.3 532.5h0M719.8 522.6h0M731.7 418.4h0M730.1 424.4h0M740 471.6h0M694.8 445.5h0M712.7 531.4h0M726.8 529.1h0M709.5 532.1h0M716.7 547.7h0M709.6 498.5h0M707.1 533.9h0M701.7 376.6h0M714.2 461.7h0M726.6 531.1h0M707.1 513.7h0M707.5 530h0M714.6 507h0M735.2 471.9h0M711 521.4h0M698.8 522.6h0M695 356h0M718.5 520.5h0M717.6 549.4h0M717.3 547.6h0M725.1 520.4h0M793.9 499.4h0M702.8 522.2h0M725.8 306.5h0M734.6 394.1h0M706.7 488.7h0M697.1 505.5h0M713.5 534.7h0M729.8 495h0M712.5 520.8h0M736.9 372.3h0M760.2 467.6h0M712.3 542.8h0M711.1 543.3h0M727.9 427.4h0M717.8 542.8h0M712 543.2h0M708.2 530.9h0M732.3 464.1h0M754.2 449.9h0M761.7 502.6h0M727 527.2h0M699.1 370.1h0M722 450.9h0M736.2 496.6h0M699.2 512.7h0M721.5 526.4h0M769 432.8h0M717.3 550.1h0M705.9 375.3h0M710.3 473.8h0M720.2 520h0M717.5 548.2h0M685.5 436.9h0M718.5 535.3h0M719.7 525.6h0M737.2 494h0M727.5 527.8h0M706.9 489.7h0M698.8 516.4h0M702.1 518.5h0M724.8 447.7h0M721.5 482.8h0M721.9 372.6h0M703.4 513.1h0M708.1 519.5h0M725.1 489.9h0M712.2 469.2h0M713.5 527.6h0M693 411.6h0M719 473.8h0M707.3 524h0M702 522.5h0M718.2 539.5h0M733.6 438.6h0M701.9 520.9h0M721.1 542.4h0M731 524.2h0M723.2 528.4h0M752.4 481.8h0M703.4 519.4h0M722.1 479.2h0M713.4 493.6h0M721.4 544.8h0M716.8 549h0M704.2 504.5h0M704.4 476.3h0M716.8 543.8h0M708.3 410.5h0M718.6 441.7h0M704.8 526.2h0M732.5 494.1h0M728.7 349.8h0M700 475.1h0M718.6 519.9h0M717 547.1h0M719.7 534.3h0M739.2 421h0M650.6 479.3h0M735.8 406.9h0M718.7 537.9h0M725.4 497.6h0M706 508.8h0M731.4 466.8h0M730.5 513h0M707.8 513.6h0M713.2 546h0M717 542.2h0M719.1 504.5h0M726 489.5h0M699.6 500.7h0M726.1 448.4h0M732.1 493.7h0M701.7 343.9h0M661.5 499.6h0M695.6 421.3h0M735.6 486.9h0M741.7 441.7h0M697.1 415.9h0M726.1 530h0M696.7 349.3h0M728.2 524.8h0M711.2 517h0M712.5 491.5h0M696.7 456.9h0M718.6 546.7h0M733.3 467.3h0M700.3 323.8h0M703 510.1h0M714.2 544.9h0M727.4 497.4h0M717.1 541.7h0M688.9 364.5h0M722.6 533.9h0M723.1 496h0M724.5 327.2h0M723.2 391.2h0M715.8 544.1h0M725.6 537h0M695.1 524.7h0M688.4 443.6h0M728.4 435.4h0M688.9 419.9h0M715.3 514.7h0M712.3 496.3h0M734.4 428.4h0M719.4 541.3h0M697.8 365.6h0M723.8 435.5h0M745.3 464.5h0M729.3 514.8h0M726.4 521.7h0M728.3 231.6h0M737.7 423.3h0M729.2 342h0M729.4 502.6h0M710 529.7h0M720.5 524.8h0M723.3 496.5h0M744.8 278.2h0M696.7 337.3h0M705.3 515h0M726.8 458.6h0M732.5 326.9h0M716.7 548.2h0M700.4 468.3h0M696.3 320h0M726.6 521.7h0M722.2 535.7h0M701.2 486.9h0M701.5 508.1h0M742.7 132.9h0M713.4 453.8h0M721.1 514.4h0M712.1 530h0M714.5 543.1h0M719.6 540.2h0M753.4 503.4h0M709.5 409.9h0M721.1 473.8h0M719.9 527.7h0M724.9 493.3h0M724.7 487.9h0M732.8 471.3h0M727.9 520.1h0M710.2 521.9h0M744.2 386.9h0M711.8 528.7h0M703.5 452.2h0M724.1 480.5h0M733.8 504.3h0M725.5 342.9h0M718.9 544.5h0M719.4 500.2h0M710.2 535.1h0M721.4 400.1h0M718.6 546h0M713.4 545.3h0M717.4 540.5h0M704.4 383.6h0M713.6 512.5h0M714.3 529.2h0M716.9 550.5h0M729.9 389.1h0M736.6 347.7h0M692.2 449.3h0M712.8 451.2h0M700.3 373.9h0M703.4 511.2h0M723.8 498.9h0M747 458h0M709.9 493.9h0M692.9 335.4h0M700.7 334.2h0M727.4 508.4h0M713.7 547.3h0M717.2 548.9h0M725.5 370.1h0M741.4 525.2h0M712.5 514.2h0M714.2 540h0M709.6 439.4h0M705.4 519.1h0M705 372.1h0M712.2 539.5h0M719.8 541.3h0M722.8 522.8h0M718.9 536.7h0M718.4 545.8h0M709 511.6h0M731.8 488.3h0M721.2 543.4h0M726.3 512.8h0M718.8 544.6h0M710.8 536.4h0M712.1 506.7h0M691.9 358.2h0M719.2 534.8h0M714.2 534.7h0M716.2 515.7h0M730 408.2h0M712 449.1h0M719.4 544.2h0M730.3 431.2h0M718.8 533.7h0M731.6 517.4h0M709.4 537.9h0M707.6 478.6h0M683.6 511h0M726.9 358.3h0M734.5 349.8h0M719.1 531.1h0M693.7 433.1h0M718.8 541.8h0M707.2 321.2h0M720.2 537h0M733.3 449.8h0M717.5 528.9h0M697.9 494.9h0M718 549.7h0M718.5 491.6h0M739.2 375.4h0M715.5 539.1h0M689.9 444.2h0M743.4 474.6h0M713.2 537.8h0M732.2 388h0M706 473.6h0M726.1 467.8h0M721.2 529.7h0M697.9 532.8h0M712 489.3h0M707.1 524.8h0M729.2 445.1h0M730.9 477.5h0M709 297h0M700.9 498h0M710 527.7h0M704.3 497h0M730.2 507.4h0M718.9 548.1h0M700.5 512h0M729 374.5h0M709.9 513.7h0M707.8 529.5h0M709 514.6h0M706.5 531.6h0M722.1 482.3h0M714.5 487.3h0M793.2 446.1h0M723.6 513.5h0M689.6 509.2h0M734.8 342.3h0M706.2 356.4h0M721.3 539.5h0M727.6 343.9h0M729.3 470.1h0M695 416.7h0M729.6 519.9h0M713.7 546h0M707.2 448.6h0M711.6 533.7h0M708.5 513.4h0M725.8 527.8h0M741.3 350.9h0M714.3 539.7h0M695.4 479.6h0M721.8 537.9h0M703.9 384.7h0M726 468h0M701 324h0M709.7 529.8h0M688.7 473h0M744.7 403.9h0M704.1 498.6h0M723.3 470.9h0M724.9 420.4h0M720.7 543.5h0M716.5 542.9h0M713.6 542.9h0M732.5 453.8h0M725.7 522.5h0M723.8 530.3h0M730 471.3h0M706.9 500h0M729.6 375.1h0M738.9 351h0M733.7 508.1h0M711 517.8h0M709.6 503.3h0M726.7 460.3h0M711.9 519h0M718.6 535.2h0M731.6 503.4h0M733 344h0M739 427h0M694.6 476.2h0M708.3 390.6h0M710.7 485.4h0M704.8 483.5h0M689.7 483.9h0M715.5 549.5h0M709.5 460.3h0M730.5 511.7h0M708.6 516.7h0M724.8 485.5h0M691.3 473.4h0M712.9 492.9h0M750.2 491.9h0M702.4 477.2h0M724.2 429.5h0M728.6 513.8h0M693.2 497.9h0M693.6 344.5h0M713.9 537.6h0M714.3 532.4h0M751.5 477.8h0M724.3 507.7h0M712.9 539.6h0M704.9 504.7h0M713.5 544.6h0M708.2 529.6h0M709.2 440.8h0M692.2 360.5h0M738 429h0M694.8 409.6h0M723.6 478.8h0M721.2 538.4h0M698.5 445.4h0M710.4 512.5h0M717.1 535h0M737.9 425.3h0M719.9 418.1h0M688.1 381h0M710 520.9h0M715.4 541.8h0M734.1 430.3h0M700.5 393.1h0M720.3 540.5h0M708.4 531.5h0M725.6 329.5h0M682.6 471.5h0M735.8 488.7h0M726.8 502.1h0M726.3 495.7h0M723.6 517.3h0M740.7 430.1h0M719.2 535.2h0M698.4 467.7h0M717.8 547.8h0M692.7 466.3h0M727.3 525.7h0M702.5 509.3h0M725.3 490.2h0M706.9 487.7h0M692.4 420.8h0M704.3 526.9h0M734.2 443h0M728.5 506.7h0M739.8 504.4h0M727.7 524.1h0M733.9 502.4h0M716.9 547.8h0M718.9 547.6h0M748.6 434.8h0M722.4 531.9h0M704.8 521.9h0M721.5 384.6h0M726.1 461.1h0M730 342.6h0M728.2 354h0M741.3 343.7h0M720 500.4h0M722.8 432.1h0M694.7 452.2h0M703.3 510.6h0M734.6 502.1h0M719.3 530.2h0M731.9 494h0M718.5 444.4h0M739.6 506.3h0M718.7 540.4h0M732.3 505.5h0M719.5 536.7h0M700.8 442.5h0M720.3 541.1h0M721.7 505.3h0M692.5 495.2h0M718 546.3h0M695.8 406.4h0M706.5 347.8h0M734 486.7h0M705.3 421.3h0M718.8 548.4h0M714.4 545.7h0M725.7 521h0M742.4 371.3h0M706.4 536.7h0M697.8 414.1h0M695.1 476.9h0M707 508.6h0M727.8 363.3h0M729.1 491h0M726.8 444.8h0M712.4 510.4h0M708.8 504.1h0M709.1 534.9h0M688.2 400.5h0M735.7 481.4h0M711.1 475.3h0M725.2 397.1h0M696.3 482.8h0M724.8 506.2h0M717.3 542.3h0M718.2 511.4h0M726 532.5h0M666 503.4h0M703.9 525.2h0M712.1 541.5h0M691.5 377.1h0M715.9 546.6h0M715 546.8h0M717.6 521h0M722.4 539h0M718.7 548.3h0M729.6 488.3h0M691 506.3h0M701 468.3h0M707.7 525.4h0M702.5 450.6h0M737.2 531h0M704.7 417.9h0M719.3 535.8h0M738.2 512.9h0M715.3 532.7h0M713.9 541.7h0M727.5 513.4h0M707.9 507.5h0M729.4 510.9h0M717.9 547.1h0M701.3 453.1h0M715.9 550.2h0M723.8 532.8h0M695.9 464.6h0M692.8 518.8h0M702.5 520.8h0M729.9 510.1h0M732.7 467h0M719.7 534.4h0M722 503h0M731 470h0M722.7 442.3h0M713.1 527h0M708.6 442.3h0M715.5 550.6h0M672.7 505.2h0M691.6 528.5h0M711 492.8h0M729 490h0M775.8 443.7h0M703 443.8h0M697.7 246.6h0M751.2 508.2h0M717.5 546.9h0M742.5 530.3h0M695.1 431h0M746.7 466.5h0M718.7 518.4h0M711 463.1h0M716.8 531.9h0M702.4 320.7h0M722.3 536.1h0M723.9 464.2h0M717.3 538h0M715.4 543.4h0M721.7 482.2h0M702.3 428.7h0M717.5 546.6h0M741.4 423.4h0M702.4 373.8h0M718.6 504.1h0M715.6 548.4h0M721.9 487.6h0M700.1 513.2h0M714 549.2h0M692.6 446.2h0M702.7 432.9h0M721.2 441.3h0M730.3 490.9h0M721.1 492.4h0M695 322h0M708.6 516.9h0M730.5 521.1h0M718.6 514.9h0M715.2 548.8h0M718.7 540.9h0M703.5 312.1h0M725.1 531.3h0M712.8 539.4h0M702.1 480.7h0M720.6 521.2h0M715.7 547.5h0M702.1 489.1h0M691.7 237.4h0M695.2 470.6h0M717.4 541.5h0M717.6 547h0M733.8 382.7h0M734.3 498h0M696.4 395.9h0M734 267.5h0M720.2 526.3h0M711.7 516.4h0M702.3 459.6h0M709.1 521.9h0M719.5 471.4h0M721.4 533.5h0M732 460.6h0M736.3 456h0M725.4 495.6h0M709.8 518.6h0M676.4 465.6h0M708 534.5h0M722.3 531.5h0M696.8 406.2h0M729.9 512.9h0M700.8 341.1h0M701.4 508.3h0M708.8 532.7h0M735.6 488.7h0M706.3 474.9h0M710.4 477.7h0M708.4 531.1h0M725 401.5h0M727.5 382.5h0M728.4 435.5h0M720.2 523.7h0M734.5 529.6h0M690.4 375.9h0M705.1 490.2h0M722.7 534h0M712.5 480.6h0M709.1 537h0M730.8 365.3h0M716.7 548.5h0M725.2 419.3h0M714.6 549h0M709.8 476.2h0M714.3 546.4h0M731.3 412.6h0M701.3 506.7h0M711.8 525.5h0M713.2 544.1h0M711.1 533.8h0M700.8 536.2h0M714 548h0M704.9 463.2h0M723.8 522.9h0M714.7 548.6h0M695.6 481.1h0M723 499.4h0M730 493.3h0M692.9 447.2h0M718 548.7h0M715 550.1h0M698.6 410.3h0M732.8 415.1h0M727.5 454.5h0M712.5 448h0M715.2 542h0M706.9 537.7h0M728.3 420.8h0M713.1 440.1h0M719.2 543h0M731.7 481.5h0M711 529.9h0M699.9 420.5h0M725.4 464.5h0M740.4 459.1h0M715.6 541.6h0M659 486.9h0M691.4 459h0M725.3 365.5h0M731.1 523.1h0M723.7 428h0M699.5 478.3h0M715.5 549.4h0M720.2 536.4h0M714.8 543.3h0M709.9 525h0M728.9 499.6h0M725.3 525.5h0M747.6 440.4h0M692.9 518.8h0M715.1 536.6h0M712.1 436.1h0M718.2 547.7h0M714.1 546.5h0M712.5 520.7h0M720.6 523.3h0M721 524.1h0M701.6 492.4h0M724.4 472.2h0M732.9 483.8h0M726 491.5h0M699.9 511.2h0M698.3 429.6h0M730.9 427.4h0M698.6 493.4h0M724.6 526.2h0M738.6 476.7h0M684.3 435.7h0M711.5 536.1h0M719.9 536h0M727.4 445h0M680.3 444.3h0M725.8 498.1h0M726 524.8h0M738.3 425.3h0M728.1 502.1h0M709.8 541h0M714.4 545.9h0M719.8 500.4h0M694 492.1h0M731.9 474.5h0M734.8 488.7h0M705.8 518.7h0M728.7 210.6h0M730.4 399.7h0M692.2 410.4h0M720.2 472.1h0M715.3 549.8h0M715.4 548.1h0M699.9 525.1h0M723 428.2h0M721.5 507h0M737.2 477.8h0M729.9 513.2h0M696.2 444.4h0M726.7 506h0M714.2 547.4h0M699.9 412.6h0M709.6 383.9h0M689.3 372.1h0M733.2 474.4h0M727.8 410.3h0M730.4 431.9h0M714.1 537.6h0M723.5 522.2h0M720.2 504.3h0M715.3 547.3h0M705.8 514.6h0M697.2 471.1h0M740.7 347.9h0M724.1 476.6h0M603.3 521.4h0M704.6 509.2h0M730.7 321.2h0M721.1 522.5h0M727.8 529h0M711.6 526.8h0M708.2 518.9h0M719 540h0M696.8 310.3h0M714.4 546.7h0M719 479.4h0M719.7 532.8h0M728.6 523.1h0M716.9 544.9h0M700.3 356.1h0M716.7 539.1h0M721.6 454.7h0M696.7 355.3h0M716 547.2h0M693.4 283.7h0M712.3 542.3h0M724.9 380h0M738.9 436.5h0M708.8 460.8h0M705.6 337.6h0M735.9 421.8h0M711.8 515.8h0M711.3 524.6h0M707.8 531.4h0M697.1 368.6h0M718.2 537.1h0M736.8 427.7h0M708.6 490.2h0M721.5 514.6h0M721.3 420.4h0M749.2 466.3h0M711.1 444h0M699 474.9h0M709.8 491.8h0M694.1 383.5h0M733.8 452.5h0M717 547.7h0M728.9 513.2h0M698.2 361.1h0M731.5 469.6h0M699.5 496.5h0M723.9 517.5h0M718.9 547.3h0M707.8 515.4h0M693.3 399.6h0M732.2 519.3h0M712.9 535.2h0M732.9 465.3h0M720.9 517.8h0M703.7 375h0M705.4 461.6h0M711.6 493.7h0M715 545.7h0M754.3 467.3h0M726.7 401.2h0M715 543.6h0M736.7 361.8h0M724.2 434.2h0M701 450.4h0M714.7 542.3h0M702.3 384.3h0M727.4 424.7h0M717.2 547.1h0M716 550.4h0M719.9 544h0M702.4 510.5h0M718.7 538.3h0M715.1 535.7h0M706.3 528.2h0M714.1 512.6h0M723.6 480.6h0M728.5 492.2h0M718.5 542.1h0M717.2 548.5h0M719.5 509.5h0M711.1 487.6h0M726.8 518.7h0M703.7 524.9h0M727.8 346.5h0M703.5 398.6h0M718.1 505.1h0M714.1 524h0M714.5 541h0M717.1 547.3h0M720.3 527.8h0M693.9 392.5h0M693.7 437.9h0M702.9 257.5h0M723.4 536.8h0M738.6 442.3h0M713.6 545.1h0M719.5 534.8h0M730.3 514.4h0M701.5 357.7h0M713.7 510.5h0M702.9 381.8h0M708.1 332.5h0M703.5 448h0M711.6 536.1h0M697.9 468.3h0M727.8 459.9h0M728.1 485.4h0M728.7 403.4h0M725.4 527.5h0M718.5 542.5h0M702.6 474.3h0M726.6 509.1h0M723.1 512.7h0M723.5 495.1h0M711 406.3h0M706.2 530.4h0M704.9 425.3h0M706.3 530.8h0M723.4 415.7h0M707.7 529.1h0M730.3 489.5h0M730.5 348.8h0M711.1 534.1h0M715 544h0M732 380.6h0M727 363.9h0M718 506.5h0M686.7 490.8h0M739.7 456h0M719 547.7h0M735.2 423h0M731.1 369h0M685.5 459.8h0M701.2 442h0M725.3 510.2h0M698.2 389.9h0M742.6 429.6h0M700.7 487.4h0M720.6 526.4h0M719.7 523.9h0M725.6 383.9h0M714.1 512.6h0M698.9 446.7h0M704.8 472.1h0M698.4 340.1h0M693.8 438.9h0M705.6 388h0M711.1 496.1h0M718.5 539.2h0M703.3 457.2h0M726.1 455.7h0M676.1 453.6h0M725.5 494.6h0M705 484.7h0M718.3 512.7h0M697.5 453h0M717.2 547.7h0M726.2 281.7h0M714.5 504.1h0M702.9 453.4h0M691.1 343.1h0M696.3 352.9h0M720.5 431.7h0M719.9 442.2h0M771.2 458.7h0M705.7 481.3h0M738.5 522.6h0M705.2 519.6h0M708.6 538.3h0M731.1 383.2h0M703.2 497.5h0M742.4 396h0M699.5 445.8h0M715.5 490.9h0M726 501.9h0M711.8 416.7h0M722.7 400.6h0M729.8 516.7h0M713.9 488h0M730.9 502.4h0M696.7 507.3h0M722 506.8h0M720.7 545.4h0M739.8 328.9h0M738.3 484.4h0M718.6 538h0M710.1 519.4h0M608.2 515.9h0M707.8 435h0M720.2 537.1h0M715.6 537.4h0M727.1 472.6h0M724.5 360.8h0M713.7 542h0M722.1 509.8h0M740.9 468h0M730.5 509.1h0M716.2 539.5h0M720.6 512.4h0M749.2 437.8h0M689.3 349h0M708.4 464.2h0M798.5 469.6h0M715.3 545.6h0M722.4 515.7h0M710.1 468.9h0M751.5 516.4h0M685.6 435.3h0M723.5 499.8h0M694.9 438.6h0M717.8 540.8h0M708.6 502.3h0M690.7 487.4h0M693.8 229.3h0M675.8 446.9h0M702.6 468.8h0M716.2 550.4h0M718.2 501h0M713.1 402.9h0M718.9 521.7h0M731.5 507.1h0M712.4 536.8h0M728.2 533.1h0M739.9 467.6h0M715.7 548.9h0M729 528.1h0M724.4 410.1h0M734 398.2h0M739.4 501.5h0M715.1 547.7h0M735.8 492h0M707.6 501.1h0M723.4 491.6h0M729.3 437.7h0M711 521.7h0M739.5 349h0M750 516.4h0M689.2 465.8h0M721.1 543.7h0M715.3 541.3h0M728.7 508.1h0M727.3 534.9h0M716.7 549.6h0M728.6 502.4h0M705.3 405.2h0M718.4 538.1h0M734.8 505h0M719 545.5h0M698.6 524.3h0M709.9 379.7h0M701.4 518.9h0M732.9 431.2h0M722.1 494.3h0M711.7 541.9h0M704.5 493.5h0M703.1 517h0M731.9 430.2h0M732.9 418.9h0M722.4 529.7h0M690.8 464.9h0M737.7 360.5h0M720.5 516.9h0M740.8 483h0M718.9 532.4h0M721.8 478.4h0M727.2 471.6h0M721.1 529.1h0M735.3 470.4h0M692.3 469.9h0M714.9 539.1h0M690 516.3h0M752.6 495.7h0M736.9 467.2h0M723.9 522.2h0M698 466.4h0M720.7 538.4h0M721.7 535.6h0M730.2 401.9h0M700.8 505.4h0M729.8 485.4h0M705.8 534.7h0M708.5 484h0M690.6 486.6h0M728.3 363.5h0M708 525.1h0M721.9 456.6h0M713.7 543.9h0M720.6 545h0M731 503.5h0M712.6 419.3h0M704.8 395.1h0M709.2 534.8h0M724.2 489.8h0M697.8 469.5h0M673.2 446.9h0M722.9 508.4h0M708.5 534.3h0M714.5 520.5h0M725 399.2h0M722.4 524.7h0M707.1 376.5h0M705 521.5h0M743.6 310.3h0M745.4 423.2h0M706.6 509.3h0M712.8 540.1h0M728 502.5h0M719.2 544.5h0M724.6 426.3h0M711.8 540.8h0M716.6 548.4h0M717.7 549.1h0M716.7 549.6h0M723.2 516.9h0M725.5 480.5h0M700.5 501.6h0M709 520.7h0M744.4 426.7h0M700.8 350.7h0M736.6 525h0M737 397h0M709 518.7h0M722.7 519.7h0M782.2 452.8h0M724 536.4h0M708.2 529.3h0M711.7 469h0M718.1 532.3h0M720.7 441.7h0M730.5 529.1h0M710 531.6h0M722.6 523.8h0M752.5 513.1h0M729.4 476.9h0M722.9 490.1h0M721.1 490.7h0M715.7 516.1h0M706.4 243.2h0M723.5 509.3h0M717.1 539.7h0M716 547.3h0M732.2 381.2h0M704.5 477h0M706.8 500.8h0M713.3 534.7h0M711.6 537.7h0M703.1 503.9h0M728.1 513.3h0M785.7 452.8h0M723 449.1h0M705.7 513.3h0M723.5 535.6h0M717.9 535.5h0M705.4 528.4h0M740.5 521.1h0M735.1 447h0M722.3 490.8h0M713.8 497.9h0M716.5 548.6h0M704.2 347.3h0M722.9 502.7h0M732 508.7h0M725.1 291.1h0M723.4 463.6h0M736.2 381.2h0M722 517.1h0M705.6 527.7h0M729.5 453.1h0M699.4 351.7h0M720.4 506h0M731.4 441.5h0M719.3 548h0M741.3 519.5h0M716.3 548.6h0M712.3 535.9h0M702.4 502.8h0M708.3 402.9h0M732.6 502.6h0M717.3 537.9h0M712.4 506.1h0M720.3 517.4h0M707.3 477h0M723 496h0M688.3 391.1h0M722.3 509.4h0M713.7 544.9h0M712.6 507.8h0M715.2 545.2h0M721.1 493.3h0M733.7 515.2h0M712.5 528.9h0M700.8 469.4h0M722.6 406.1h0M728.1 207.9h0M718.8 526.3h0M718.4 476.9h0M723.7 428.3h0M698.1 481.2h0M712.6 424h0M732.6 490.1h0M707.5 530.7h0M694.5 493.6h0M704.1 381.9h0M737.3 334.2h0M724 532.1h0M742.1 459.7h0M679.1 488.3h0M702.4 433.8h0M713.3 538h0M713.7 541.8h0M738.9 425.9h0M703.5 337.8h0M711.6 530.8h0M700.4 478.9h0M745.2 415.2h0M713.2 527.9h0M720.3 508.1h0M728.4 505.5h0M726.5 517h0M696.7 265.3h0M730.9 518.5h0M724.5 524.6h0M711 537.3h0M740.6 499.1h0M732.2 482.2h0M699 493.2h0M720.3 523.3h0M701.5 485h0M712.6 537.3h0M710.1 516.6h0M733 490h0M735.3 467h0M726.7 337.2h0M714.6 539.6h0M729 446.2h0M710.9 443.7h0M725.7 535.9h0M715.5 550.3h0M725.1 283.2h0M727.6 525.1h0M704.5 516.3h0M713.9 537.3h0M717.5 549.8h0M738.1 413h0M714.6 531.6h0M723.4 483.9h0M732.5 397h0M713.7 487.5h0M723.5 525.2h0M724.5 536.4h0M737.2 467.2h0M694.8 425.7h0M714.1 482.9h0M719.2 544.2h0M714.5 518.3h0M721.6 535.2h0M720.2 526.6h0M743.8 295.4h0M749.4 490.5h0M700.6 271.3h0M714.4 532.8h0M723.2 541.9h0M707.1 459.5h0M722.7 522.3h0M723.5 376.6h0M717.7 475.8h0M734.7 410.8h0M645.5 474.3h0M692 458.3h0M722 529.4h0M708.2 539.9h0M705.9 418.8h0M739.9 498.6h0M722.7 495.5h0M733.5 427.8h0M716.7 548.4h0M702.5 412.3h0M710.2 482.1h0M720.8 501.9h0M726.3 395h0M813.3 451.1h0M728.1 370.2h0M718.2 541.2h0M734 446.3h0M724.4 376.1h0M717.3 542.9h0M717.4 543.4h0M709.6 523.9h0M708.3 525h0M744.7 454.3h0M726.1 482.6h0M702 522.5h0M697.5 458.1h0M711.3 513.9h0M726.4 488.1h0M732.2 448.6h0M698.8 411.3h0M727.3 506.5h0M699.3 345.2h0M724.1 330.5h0M714.5 512.7h0M729.7 499.9h0M713.2 530h0M707.3 506.3h0M689.1 396.1h0M733 500.8h0M716.8 542.2h0M718.5 525.2h0M733.3 513.9h0M737.5 482.3h0M724.7 525.9h0M707.9 523.4h0M725.7 319.3h0M697.2 472.1h0M721.8 504.5h0M714.5 542.2h0M720.5 360.4h0M719.6 477.2h0M697.9 521.6h0M733.7 354.1h0M723.2 454h0M729.7 496.3h0M709.2 475.4h0M721.2 540.2h0M725.9 426.5h0M739.1 360h0M721.2 538.3h0M725.9 532.9h0M719.9 532.9h0M620.5 464.7h0M697.7 430.8h0M735.4 416.6h0M701.2 495.7h0M682.3 515.9h0M708.6 264.2h0M701.5 314.2h0M725.7 496h0M726.9 505h0M696.5 425.1h0M724.3 489.1h0M717.4 549.4h0M708.9 533.6h0M714.3 539h0M716.8 548.5h0M716.5 549.8h0M713.1 496.1h0M690.2 414.2h0M693.7 393.8h0M711.6 531.3h0M712.8 537.4h0M708.9 476.2h0M721 539.3h0M740.8 459.5h0M705.9 480.8h0M715.1 541.3h0M676.9 471.5h0M709.3 490.5h0M739.8 215.2h0M749.5 457.4h0M724.2 530.1h0M719.6 523h0M713.2 523.9h0M676.8 441.2h0M719.4 495h0M712.4 519.6h0M706.6 522h0M697.1 497.9h0M717.7 546h0M686.6 497.1h0" stroke="#000" stroke-opacity="0.6" stroke-width="5.4" stroke-linecap="round" fill="none"/>
<path d="M734.2 430.5h0M723.3 505.4h0M719.1 543.9h0M709.9 517.8h0M725.8 516.7h0M715.5 545.5h0M731.3 523.9h0M716.7 546.8h0M715.7 540h0M713.2 534.8h0M675.6 462.2h0M723.2 401.6h0M706.5 526.1h0M730.6 418.2h0M741.4 361.4h0M712.5 498.7h0M704.4 418.5h0M727.9 530.1h0M761.2 444h0M733.2 405.7h0M708.8 519.9h0M699.5 528h0M728.4 440.4h0M722.1 537.3h0M713.1 473.9h0M718.3 547.5h0M710.9 541.6h0M690.2 257.2h0M710.2 470.5h0M714.4 544.8h0M724.5 534.8h0M703.5 474h0M732.7 493.1h0M733.5 497.9h0M727.1 448.8h0M711.5 520.3h0M707.6 512h0M734 516.8h0M719.6 542.5h0M721.3 540.5h0M735.3 238.6h0M754.6 501.2h0M736.8 361.1h0M717.5 541.3h0M696.2 512.1h0M788 466.9h0M691.8 455h0M731.2 517.9h0M695.1 382.8h0M698.3 460.3h0M712.3 422.6h0M702.6 339.3h0M727.7 512.5h0M706.8 417.4h0M712.6 465.6h0M730.6 506.2h0M709.9 517.6h0M752.8 499h0M714.8 531.8h0M719.3 524h0M707.7 533.4h0M712.6 522.3h0M722.4 517.6h0M702.4 495.6h0M695.8 444.4h0M717.8 538.5h0M713.8 547h0M744.9 310.1h0M709.4 509.7h0M717.2 536.4h0M707.2 525.2h0M725.1 493h0M719.1 544.1h0M719.8 544.9h0M737.4 300.9h0M727.6 386.1h0M727.9 496.7h0M714.6 540.6h0M736.2 516.2h0M718.3 541.1h0M713.1 538.6h0M715.3 522.7h0M717.7 545.8h0M716.4 546.9h0M715.4 541h0M707.5 366.7h0M727.8 438.7h0M724.6 512.6h0M698 365.4h0M681.8 501.4h0M710.9 506.2h0M696.5 436.2h0M722.2 461.1h0M732.6 491.3h0M705.5 480.8h0M748.8 434.9h0M725.4 489h0M725.4 529.5h0M713.8 466h0M730.6 272h0M737 493.3h0M728.7 508h0M709.5 532.8h0M723 543.4h0M735.6 385.9h0M713.4 543.9h0M718.9 543.4h0M732.5 369.2h0M712.5 543.4h0M725.4 488.5h0M726.7 529.3h0M699.8 501.9h0M733.2 482.1h0M716.6 546.7h0M702.2 523.2h0M690.8 528.3h0M714.6 545.9h0M716.6 548.6h0M717.6 535.8h0M699 490h0M688.2 416.9h0M716.3 547.6h0M706.3 528.9h0M719.2 545.6h0M727 456.4h0M732.6 356.8h0M718.5 542.9h0M740.4 495.4h0M713.3 486.8h0M742.4 502.4h0M718.8 429.9h0M717 548h0M710 499.4h0M719.1 508.2h0M717.3 545.4h0M724.7 518.2h0M708.3 481.6h0M719.7 544.1h0M726.4 526.6h0M720.7 374.6h0M692.8 354.2h0M683.1 433.8h0M710.7 534.6h0M728.7 526.7h0M734.4 505.4h0M721.6 515.3h0M720.1 452.5h0M724.4 508.5h0M717.2 548.5h0M714.2 547.5h0M723.8 462.8h0M709.8 539.9h0M743.6 475.4h0M715.9 529.4h0M713 546.7h0M773.7 465.3h0M725.6 532.1h0M720.3 542.5h0M705.8 528.3h0M731.9 396h0M753.3 517h0M745 318.6h0M732.1 450.2h0M690.9 371.4h0M682.5 462.8h0M698.2 319.4h0M720.9 494.5h0M708.2 496.5h0M734.7 437.2h0M696.1 359h0M728.4 487.5h0M699.4 437.6h0M718.5 521.4h0M713 544.5h0M729.4 428.7h0M711.1 497.4h0M690 426.4h0M702.7 536.9h0M738.6 500.5h0M700.9 506h0M759.4 468.6h0M717.4 509.6h0M710.5 544h0M741.6 401.4h0M738.1 397.8h0M739 477.9h0M687.5 284h0M734.3 395.4h0M698.9 494h0M724.8 481.6h0M717.3 515.1h0M704.6 485.1h0M709.8 529.8h0M716.7 549.1h0M727.4 398.8h0M724.6 359.5h0M724.5 530.9h0M718 461.7h0M728.1 487.9h0M711.2 532.6h0M717.4 529.1h0M743.4 456.8h0M700.9 445.1h0M711.2 441.5h0M722.2 519.3h0M707 420.7h0M709.8 540.3h0M720.2 537.5h0M725.8 507.9h0M716.9 542.2h0M722 482.1h0M688.2 429.5h0M712.4 541.6h0M712.2 526.7h0M711 516.3h0M715.6 550.1h0M708.8 466.7h0M733.1 286.2h0M719.6 545.7h0M707.1 538.1h0M707.6 534.7h0M715.8 549.4h0M710.8 409.3h0M721.7 506.8h0M703.4 466.1h0M714.2 530.9h0M698.2 492.4h0M722.7 533.8h0M721.8 538.7h0M713.2 511.3h0M749.1 454.9h0M717.7 544.3h0M724.4 539h0M735.1 464.8h0M696.6 500.1h0M769.3 464.6h0M724.8 435.5h0M728.5 489.6h0M708.1 532.7h0M711.8 427.8h0M698.2 376.9h0M718.4 538.2h0M733.8 328.3h0M720.7 526.5h0M718.5 526.9h0M712.5 522.3h0M706.9 326.6h0M710.5 536.5h0M649.2 472h0M723.4 523.2h0M727.2 371.2h0M718.9 542.6h0M718.1 526.5h0M717 546.1h0M719.7 546.8h0M713 527h0M735.6 466h0M716.6 537h0M723 496h0M739 331.3h0M729.8 516.8h0M714.7 543.6h0M717.6 543.7h0M722.3 422.8h0M772.3 433.3h0M724.9 432.5h0M702.8 499.2h0M702 334.6h0M726.8 357.2h0M698.4 388.2h0M723.5 526.4h0M717.2 547.9h0M728.6 476.3h0M699 449.3h0M727.3 530.5h0M714.4 532.5h0M754.7 514.6h0M722 505.5h0M704.4 352.8h0M717 548.6h0M725.7 331.9h0M705.1 409.1h0M714.8 540.4h0M743.2 503.4h0M704.9 529.6h0M703 452.5h0M702.5 514.2h0M712.9 526.9h0M728.8 377.9h0M737.7 395.7h0M698.9 417.2h0M734.9 488.1h0M695.8 353.1h0M691.6 288.5h0M710.8 491.5h0M725.2 492.6h0M694.6 467.3h0M709.3 486.9h0M741 435.7h0M691.2 443.5h0M736.8 473.9h0M708.8 371.3h0M719.8 547.1h0M731.1 368.8h0M706 333.6h0M705.2 385.8h0M690.3 381.5h0M708.2 463.6h0M731.7 474.6h0M720.5 544.5h0M710.2 488.8h0M696.4 466.5h0M723.1 443.7h0M725.7 483.3h0M719 524.2h0M710.9 530.1h0M709.3 527.4h0M691.3 473.5h0M721.5 519.8h0M692.9 432h0M723.4 421.4h0M727.3 516.3h0M708.8 495.9h0M701.8 495.9h0M720.6 536.9h0M698.2 379.5h0M691.7 407.1h0M713.3 507.5h0M703.7 522.9h0M719.6 533.8h0M697.7 448.7h0M720 539.8h0M712 527.7h0M745.2 231.6h0M737.2 472.3h0M715.8 547.9h0M724.4 520.9h0M721.1 510.3h0M738.2 424.8h0M709.6 366.6h0M703.8 407.4h0M713.6 547.7h0M727.8 488.1h0M716.8 547.2h0M718.4 468.5h0M717.3 549.4h0M705.8 374h0M694 406.3h0M705.6 365.4h0M717.1 547.9h0M666.5 509.5h0M729.2 448.1h0M715.3 548.8h0M729.4 375.8h0M713 501.4h0M721 531.8h0M714.5 491.2h0M701.4 509.1h0M725.4 525.7h0M714.6 544.9h0M725.1 484.6h0M747.2 451.2h0M714.2 541.8h0M735.1 485.3h0M740 391.7h0M705.9 496.8h0M740.5 429.6h0M719.5 476.3h0M736.5 465.4h0M719 474.6h0M710.6 396.5h0M726.3 530.1h0M731.2 405.8h0M751.5 487.6h0M709.5 530.9h0M712.4 505.8h0M700.6 490.5h0M714 515h0M720.7 539.3h0M695.4 465.7h0M715.7 548.7h0M723.1 537.1h0M729.8 510h0M708.2 478.1h0M725.4 509.8h0M716.7 526.1h0M698.4 529.6h0M727.7 379.1h0M717.4 545.3h0M718 538h0M729.2 338.4h0M737.3 326.3h0M706.1 462.8h0M704 521.3h0M732.1 520.3h0M712.3 474.2h0M711.8 538.4h0M718.6 517.9h0M694 375.3h0M715.2 545.1h0M718.9 543.7h0M731.9 485.6h0M736.3 349.8h0M747.4 462.1h0M712.1 529.4h0M723 494.1h0M724.3 541h0M708.5 526.6h0M726.4 498.2h0M723.3 509.9h0M714.3 497.6h0M723.5 519.7h0M705.2 490.6h0M724.9 512.4h0M739.4 485.6h0M699.8 293.2h0M707.2 529.2h0M717.1 514.8h0M713.4 514.4h0M706.4 511.5h0M723.8 367.8h0M721.5 478.7h0M714.3 543.6h0M711.6 480.7h0M715.7 549.6h0M733.7 500.8h0M709.2 511.5h0M706 520.9h0M743.8 501.4h0M707.7 521.3h0M714.2 549.4h0M728.4 468.5h0M713.9 531.1h0M725.8 508.8h0M717.8 548.2h0M692.6 438.1h0M703.3 462h0M690.2 436.2h0M706.6 532.6h0M710.9 535.7h0M703.3 444.9h0M726.8 443h0M705.2 403.3h0M720.5 522.7h0M688.6 356.3h0M733.7 247.1h0M714 523.9h0M721.2 535.9h0M694.8 474.7h0M732 469.9h0M709.6 383.5h0M731.9 377.3h0M714.2 540.2h0M692.5 369.2h0M721.6 405.9h0M720.5 545.3h0M723.2 524.1h0M699.2 500.7h0M726.3 518h0M713.4 543.5h0M694.9 506.9h0M712.7 540.5h0M722.4 509.9h0M743.7 507.2h0M718.7 533.7h0M711.7 523.8h0M742.5 512.5h0M704.5 523.3h0M746.4 513.2h0M726 524.2h0M719.9 535.9h0M726.8 525.4h0M722.9 489.7h0M727.2 523.1h0M714.3 538.3h0M720.4 534.8h0M706.5 473.6h0M724.2 367h0M732.7 487h0M718.9 541.4h0M725.8 417.5h0M724 507.9h0M709.6 518.2h0M713.7 546.7h0M706.1 475.2h0M737 367.2h0M705.2 521.8h0M732.5 537.7h0M679.9 472.7h0M707.6 456.1h0M711.8 472.7h0M722.1 473.7h0M698.9 382.5h0M719.1 536.9h0M709 465.8h0M702.3 513.3h0M664.3 486.7h0M708.3 510.4h0M717.2 548.2h0M719.9 525h0M736.3 383.9h0M721.7 389.5h0M745.6 453.7h0M724.7 538.6h0M711 535.6h0M740 496.9h0M701.6 474.1h0M732.8 525.6h0M718.9 528.8h0M714.6 484.2h0M696.4 346.7h0M699.5 460.1h0M713 462.5h0M702.5 486.9h0M707.5 446.4h0M728.6 498.2h0M717.8 520.6h0M722 524.3h0M717.4 544.2h0M730.5 505.1h0M703.2 488.2h0M722.9 535.5h0M696.3 536.9h0M716.7 550.3h0M705.3 537.8h0M743.3 505.2h0M725.2 532.7h0M719.5 456.3h0M728.6 442.3h0M686.3 474.3h0M709.5 496.9h0M714.3 508.5h0M726.2 512.1h0M723.3 528h0M727 366h0M705.5 484.7h0M707.2 420.3h0M732.7 392.7h0M719.8 544.5h0M711.9 539.8h0M742.9 457.9h0M721.4 498.2h0M714.9 541.5h0M706.7 504.3h0M719.9 541.2h0M714.2 542.2h0M703.2 408.4h0M751.9 498.6h0M683 453.1h0M721.2 541.1h0M699.8 518.9h0M723.2 524.2h0M715.5 547.9h0M713.1 507.9h0M711.8 531.1h0M723.1 539.5h0M721.1 535h0M712.9 520.5h0M723.5 414.8h0M710.6 529.6h0M754.1 516.9h0M710.7 534.9h0M734.2 504.1h0M713 518.7h0M719.1 488.9h0M691.5 316.8h0M718 545.9h0M730.2 377.3h0M698 349.3h0M714.4 508.3h0M711.4 542.7h0M733.1 486.8h0M726.7 522.7h0M702.8 494.4h0M712.3 511.4h0M704.2 532.7h0M703.1 510.5h0M703.5 408.3h0M704.9 499.1h0M694.9 393h0M710 519.6h0M720.3 528.1h0M712.1 505.2h0M713.9 540.2h0M742.8 520.6h0M768.4 480h0M714.5 510.5h0M715.8 490.8h0M706.2 495.8h0M721.5 450.2h0M730.2 479.4h0M710.7 513h0M731.7 453.9h0M698.3 517.8h0M723.6 385h0M723.8 530h0M717.5 550h0M708.8 522.2h0M698 364.2h0M703.6 451.2h0M721.3 513.7h0M732.3 489.5h0M737.3 421.2h0M718.8 495.2h0M704.2 516.2h0M731.2 525.2h0M720.4 506.5h0M717.1 548h0M738.2 495.9h0M716 546h0M698.9 242.6h0M703.4 416h0M691.5 404.9h0M684.7 494.2h0M725.7 536.9h0M739.6 420.3h0M686.6 432.1h0M718.1 546.2h0M717.3 539.6h0M738 510h0M722.8 413.2h0M729.9 417h0M703.5 500.3h0M737.3 458.7h0M719.3 532.1h0M696.6 374.3h0M698.7 452.4h0M727.9 387h0M723.8 502.8h0M702 416h0M716.6 550.2h0M754.4 438.9h0M726.4 324.6h0M725 457.5h0M732.8 276.6h0M712.9 471.6h0M725.4 522.4h0M713.3 545.9h0M720.8 542.1h0M714.4 542.6h0M717 549.4h0M721.1 526.6h0M709 519h0M727 514h0M709.8 530.4h0M732.7 511.7h0M711.1 538h0M720.5 538.2h0M713.8 546.1h0M720.7 500h0M711.7 415.2h0M707.1 472.8h0M700.5 323.9h0M734.7 500.1h0M695.7 464.3h0M723.9 510.2h0M700 338h0M717.5 527h0M739.7 473.9h0M709.5 496.9h0M715.7 549.5h0M688.3 439.8h0M722.7 417.7h0M712.4 536.6h0M725 451.9h0M731.3 490.3h0M710.3 499.4h0M711.3 533.5h0M726.3 498.4h0M744.7 456.4h0M705.2 494.3h0M707 495.2h0M716.6 550.4h0M711.4 503.9h0M712.7 477.6h0M726.6 439.9h0M728.5 507.3h0M693.7 415.8h0M705.8 376.6h0M728.5 410.1h0M731.6 312.9h0M731.6 443.8h0M780.9 454h0M752.4 484.1h0M721.7 528.6h0M709.9 425.6h0M706.3 454.1h0M715.4 548.8h0M712.2 484.3h0M718.8 540.5h0M699.1 265.5h0M711.4 532.2h0M706.2 526.7h0M715.6 541.1h0M729.4 522.4h0M712.5 530.9h0M702.4 375.6h0M717.7 543.1h0M711.5 528.7h0M706.1 455.4h0M703.8 371.2h0M731.7 436.3h0M719.1 547.4h0M719.8 543.9h0M714.2 532.6h0M691.9 491.1h0M697.4 366h0M712.3 534.7h0M705.7 459h0M712.5 441.9h0M731.8 480.7h0M707.1 459.1h0M722.7 510h0M681.4 461h0M706.1 442.3h0M713.5 536.6h0M700.8 496.4h0M741.9 503.6h0M731.3 393.3h0M719.9 543.3h0M731.9 494.3h0M705.4 418.1h0M734.6 355.2h0M745.6 371.5h0M715 543.6h0M712.7 471h0M704.9 338h0M744.7 469.8h0M719.8 493.7h0M712.5 539.6h0M695.1 496.7h0M715.6 541.5h0M713.5 535.1h0M701.5 368.7h0M726.7 520.2h0M690.9 477.3h0M696.9 498.2h0M705.4 466.3h0M737.1 485.8h0M716.7 549.3h0M715.7 540h0M702.4 528.4h0M713.9 531.2h0M706.5 522.3h0M718.3 544.9h0M722.9 538.1h0M705.9 516h0M695.5 417.4h0M768.9 476.2h0M737.3 361.8h0M717.3 546.2h0M699.4 429.7h0M733.1 488h0M713 507.4h0M723.4 537.1h0M719.1 518.7h0M698.7 510.8h0M714.8 548h0M721.6 509.9h0M704.8 484.6h0M730.9 495.7h0M704.1 226.1h0M698 378.3h0M707.5 419.9h0M702.3 515.9h0M713.4 542.6h0M660.8 471h0M720.5 443.6h0M704.9 403.4h0M713.9 508.5h0M715.2 536.1h0M726.3 481h0M722.5 519.4h0M770.6 463.6h0M730.1 471.8h0M706.2 334h0M711.3 532.5h0M727.4 522.8h0M703.2 480h0M693.5 372.4h0M722.1 506.2h0M703.6 346.9h0M713.3 500.6h0M692.6 471.7h0M701.4 430h0M691.2 502h0M720.3 538.2h0M714.8 541.5h0M725.2 503h0M698.2 425.6h0M716.4 544.3h0M719 544.6h0M669.2 505h0M704.7 490.9h0M759.7 450.9h0M720.5 510.1h0M725.8 374h0M696.2 503.7h0M724.8 422.5h0M716.9 544.6h0M748 505.2h0M719.1 539.7h0M716.2 537.5h0M710.3 422h0M720.8 525.4h0M752.2 441.4h0M737.3 370.6h0M699.3 486.5h0M695.2 489.6h0M721.5 520.1h0M697.4 424.9h0M711.5 514h0M708.8 521.3h0M717 546.5h0M705.2 484.3h0M705.8 499.1h0M724.8 525h0M707.9 448.6h0M749.2 453.9h0M701.8 483.5h0M700 482.9h0M708.9 478.2h0M693.6 460.3h0M714.7 542.8h0M710.8 516h0M726.6 426.2h0M707.3 507.3h0M717.7 544.6h0M702.6 481h0M708.5 535.9h0M728 515.7h0M706.6 532.8h0M713.4 545.6h0M739.6 510.7h0M733 484.9h0M708.8 493.9h0M737 519h0M720.3 531.9h0M727.4 514.1h0M729.1 391.1h0M734.5 482.2h0M711.5 477.1h0M721 511.6h0M729.1 399.7h0M729.8 520.8h0M733.7 434.5h0M704.5 512.8h0M694.2 407.1h0M717.1 548h0M700.4 441.5h0M702.8 521.2h0M715.6 548h0M697.8 481h0M725.5 364.9h0M729 523.6h0M723.1 473.3h0M707.6 475.1h0M714.3 544.8h0M690.5 483.2h0M728.9 364.5h0M726.4 495.6h0M710.2 537.8h0M707.5 399.6h0M719.2 525.5h0M713.9 500.7h0M729 471.4h0M703.6 495.2h0M707.4 507.7h0M728.9 476.6h0M714.3 503.7h0M705.5 380.9h0M718.3 496.6h0M738.3 492.2h0M678.5 477h0M731.4 377.4h0M707.1 454.8h0M750.5 485.6h0M721.3 488.1h0M709.9 534h0M697.3 520.6h0M697.5 471.2h0M718.7 495.4h0M693.8 445.6h0M728.2 521.1h0M722.1 429.9h0M740.8 348.3h0M704.2 514.6h0M682.1 482.2h0M721.9 508h0M718 545.5h0M718.6 513.2h0M705.3 474.2h0M704.6 422h0M722.8 478.9h0M739.3 436.8h0M697.4 238h0M707.2 424.7h0M707.2 492.2h0M729 517.5h0M714.1 542.1h0M733.3 427.1h0M724.5 357.4h0M720.9 542h0M718.5 518.4h0M738.9 482.9h0M734.4 455.6h0M707.3 458.7h0M700.5 432.4h0M721.4 530.1h0M735.5 460.5h0M711.5 395.8h0M711.9 512.6h0M743.6 493.4h0M704.9 442.1h0M710.3 378h0M734.5 323.8h0M723.5 509.3h0M712.2 482.8h0M706.1 265.9h0M711.8 521.1h0M733.7 468.9h0M693.6 507.7h0M709.2 486.7h0M724.6 499.3h0M708.9 540.8h0M708.8 503.3h0M741.9 503.7h0M733 309.8h0M706.9 512.1h0M724.3 516.9h0M701.8 424.5h0M743.9 480.2h0M727.8 506.3h0M721 524h0M712.7 501.8h0M711.3 540.7h0M704 517.9h0M719.6 482.9h0M713.8 529.6h0M703.6 497.5h0M727.2 512.3h0M700.4 438.3h0M723 540.8h0M664.2 498.8h0M742.9 303.1h0M738.7 496.9h0M722.8 541.6h0M694.9 505.1h0M730 407.7h0M736.1 362.1h0M713.4 539.9h0M723.8 486.5h0M700.7 445.2h0M700.5 513h0M732.1 433.7h0M703.9 487.8h0M734.7 493.7h0M706.1 532.6h0M713.9 534.4h0M696.8 499.3h0M765.2 478h0M699.8 499.5h0M715.7 538.3h0M697.1 487.1h0M719.3 539.8h0M718 496.1h0M715.6 523.7h0M715.9 550.6h0M715.6 545.3h0M703.2 379.9h0M718.3 531.5h0M724.3 537.4h0M733.8 512.4h0M701.7 416.3h0M726.6 532.9h0M717.8 502.5h0M698.2 366.1h0M733 514.6h0M719.9 495.9h0M702.2 390.8h0M717.6 549.5h0M702.5 517.7h0M736.1 505.4h0M717.7 545h0M723.1 537.3h0M722.4 539.6h0M708.7 538.4h0M744.5 435.1h0M724 510.2h0M719.9 539.1h0M723.8 508.9h0M701.3 385.3h0M632.8 443.6h0M707.6 458.2h0M716.4 547.9h0M713.7 525.5h0M707.1 438h0M702.5 518.6h0M719.2 517h0M741.8 360h0M708.8 523.3h0M729 480.1h0M724.4 469.8h0M712.4 512.4h0M728.8 528.5h0M719.9 471.3h0M742.6 418.6h0M693.5 467.4h0M665.9 449h0M713 475h0M696.6 487.7h0M722.2 536.7h0M657.1 520.8h0M725.3 489.2h0M729.1 516.3h0M715.1 540.9h0M716.4 547h0M700.9 393.7h0M714 541.7h0M703.9 285.7h0M719.5 516.5h0M724.6 502.6h0M675.5 441.6h0M755.3 455.9h0M736.4 494h0M724.1 507.9h0M689.1 429.5h0M743 389.2h0M718.2 547h0M739.5 494.5h0M717.6 529.2h0M715.9 537h0M707 349h0M713.4 532h0M705 506.5h0M721.5 542.2h0M732.3 482.7h0M705.6 529.8h0M717.7 482.3h0M742.8 377.6h0M714.6 539h0M726.4 523.4h0M708.8 512.2h0M722.1 502.3h0M728.5 528.9h0M706.4 373.7h0M742.6 504.2h0M714.8 502.3h0M719.9 502.8h0M715.1 546.1h0M700.9 511.4h0M741.3 359.7h0M835.4 497.6h0M717.5 545.9h0M730.8 428.2h0M678.8 469.8h0M715.9 544.6h0M708.8 459.3h0M705.3 511.9h0M736.5 459.9h0M739.7 499.7h0M719 547.9h0M718 533.5h0M735.9 528.4h0M729 276.9h0M736 486.9h0M724.9 539h0M716.7 540.9h0M706.5 492.2h0M723.4 511.4h0M716.7 543.5h0M711.1 509.2h0M688.7 467.8h0M740.9 441.1h0M689.6 426.9h0M724.9 418.6h0M717.7 549.3h0M720.5 491.2h0M725.1 366.5h0M712.2 512.4h0M711.4 533.7h0M753.2 442.7h0M697.5 504h0M704.5 501.4h0M731.1 506.5h0M714.6 535h0M712.2 544.8h0M717.4 550.3h0M732.8 470.1h0M720 536.6h0M725.4 516.9h0M739.6 271.7h0M705.5 480.3h0M718.8 535.1h0M741.8 376.9h0M720.8 533.5h0M719.6 474.4h0M755.6 469.6h0M688.5 444.2h0M726.3 524.4h0M709.7 541.7h0M709.5 440.3h0M736.5 520.3h0M716.6 520.3h0M710.7 538.9h0M717.9 537h0M718.7 544.7h0M718 541h0M728.9 489.6h0M726.7 513.9h0M724 519.5h0M717.6 522.8h0M691.6 401h0M751.1 467.3h0M721.5 505.1h0M730 416.4h0M706.1 527.4h0M706.8 470.3h0M706.1 507h0M715.6 522.3h0M711.1 538.1h0M712.3 521.6h0M717 549.4h0M728.8 373h0M724.3 394.7h0M727.2 412h0M737.6 391.2h0M706 531.1h0M721.3 409.3h0M739.8 465.9h0M693.5 424.3h0M721.2 522.1h0M709.3 513h0M702.4 506.2h0M716.7 544.7h0M726.3 452.7h0M718.5 533.9h0M743 481h0M718.7 543.3h0M736.7 481.6h0M700.1 435.9h0M722.2 496.7h0M763.5 435.7h0M721.4 527.8h0M720.1 529.6h0M731.3 520.3h0M740.4 417.6h0M705.4 345.9h0M715 544.5h0M739.7 421.1h0M742 496.4h0M728.6 381h0M736.5 513.9h0M732 489.4h0M726.7 231h0M733.2 353.5h0M741.3 491.8h0M725.8 485.3h0M710.3 536.2h0M704.8 478h0M699 517.5h0M715.8 549.9h0M737.9 448.6h0M714 541.1h0M710 469h0M730.5 369.3h0M726.9 446.1h0M712.6 486.3h0M745.6 458.5h0M705.9 453.6h0M702.9 528.6h0M706.5 517.6h0M705.2 465.2h0M736.1 490.2h0M737.3 455.5h0M724.5 494.1h0M689.4 489.2h0M728.4 526.3h0M775.4 496.3h0M703.9 500.4h0M726.4 361.7h0M723.3 512.4h0M738.2 229.2h0M725.6 494h0M715.9 536.2h0M703.4 418.8h0M716.8 548h0M690.3 430.3h0M720.2 454.1h0M698.2 380.2h0M726 374.2h0M709.7 460.5h0M726.9 510.6h0M722.1 484.9h0M721.6 528.3h0M716.8 549.6h0M723.6 523.4h0M737 382.2h0M720.2 502.5h0M721.6 535.1h0M701.7 285.5h0M717.4 526.2h0M731.2 476.6h0M709.6 526.8h0M708 473.6h0M742.5 421.1h0M699.6 469.6h0M767.6 458.8h0M726.5 528.2h0M694 391.4h0M715.6 525.9h0M716.5 549.9h0M711 528.5h0M725.1 486.5h0M729.1 357.8h0M731.3 280.8h0M724.9 503.8h0M728.9 505.4h0M693.4 399.8h0M703.1 500.2h0M696.9 369.3h0M713.5 530.9h0M714.6 547.8h0M756.2 486.2h0M716.1 540.4h0M718.9 535.2h0M692 495h0M692.6 355.9h0M711.6 514.6h0M718.4 540.6h0M737 449.1h0M702.9 446.1h0M699.3 434.3h0M751.1 442.3h0M716.7 544.3h0M718.5 529.5h0M718 542h0M710 535.1h0M696.2 502.4h0M707.4 478h0M692.7 266.5h0M729 507h0M727.4 361.6h0M712.6 509.5h0M715.6 505.9h0M704.1 495.1h0M708.9 519.7h0M712.6 537.9h0M707.2 486h0M732.8 510.9h0M691.7 464.7h0M701.8 504.7h0M725.1 533.6h0M770.2 442.9h0M744.9 414.9h0M730.9 454.9h0M730.9 503.8h0M725 545.7h0M728.1 507.7h0M725.9 521.7h0M727.1 532.3h0M715.4 537.2h0M717.8 544h0M715.4 538.5h0M704.7 261.9h0M704.7 524.6h0M717.2 547.4h0M729.8 266.3h0M724.7 375.8h0M725.7 523.8h0M723.2 534.2h0M722.3 432.9h0M700.2 514.9h0M715 546.5h0M713.9 548.6h0M717.7 549.9h0M731 371.3h0M718 493.1h0M710.7 528.2h0M733.3 496h0M717 550.6h0M689.4 408h0M719.6 473.7h0M691 495.6h0M735.6 513.9h0M705.6 430.3h0M739.3 376.3h0M707.6 523.5h0M717.8 522.9h0M753.8 469.2h0M727.5 467.6h0M719.5 534.9h0" stroke="#000" stroke-opacity="0.6" stroke-width="5.4" stroke-linecap="round" fill="none"/>
<path d="M727.7 414.1h0M749.1 458.7h0M694.8 406.4h0M728.7 501h0M738.5 497.1h0M736.1 363.8h0M704 496.7h0M738.3 219.7h0M736 533.2h0M734.7 501.9h0M716.1 546.4h0M736.6 454.9h0M713.9 507.9h0M713.9 532.5h0M725 492.9h0M709.7 538.6h0M708.5 520.6h0M721.4 533.2h0M722.5 536h0M713.9 475.5h0M708.3 459.5h0M720.7 520h0M720.1 536.4h0M702.6 532.5h0M726.3 493.8h0M731.2 524.9h0M715.7 545.8h0M727.7 532h0M720.5 529.3h0M727.8 504.2h0M708.4 500.1h0M726.1 532h0M716.7 550.2h0M698.3 490.6h0M714.7 529.6h0M725.9 426.4h0M708.3 531.4h0M718 548.4h0M733 388.6h0M726.1 499.6h0M714.4 521.6h0M704.2 507.7h0M700.6 297h0M715.6 542.1h0M736.3 311.5h0M710.5 522.4h0M730.1 335.4h0M706.6 537.1h0M734 436.1h0M726 404.1h0M726.7 502.8h0M717.9 548.8h0M706.7 528.6h0M703.9 518.8h0M726.1 498.1h0M674.4 456h0M724.6 482.6h0M709 379.6h0M716.8 543.5h0M735.2 388.2h0M700.5 301.1h0M722.8 515.3h0M739.8 325.8h0M753.7 448.8h0M719.8 518.7h0M724.3 500.8h0M718.1 529h0M716.8 545.9h0M719.3 490.2h0M712.6 537.9h0M715.5 538.8h0M715.8 548.4h0M731.2 493.5h0M702.5 460h0M701.9 469.3h0M712.5 514.6h0M731.5 325.7h0M712.1 475.9h0M716.2 546.7h0M741.5 399.8h0M709 526.6h0M718.8 513.6h0M705.8 460.3h0M743.6 335.1h0M699.6 476.7h0M714.6 538.6h0M713.4 531.6h0M733 302.2h0M723 526.4h0M727.9 453.5h0M743.4 435.3h0M714.1 544.7h0M703.5 504.9h0M754.6 492.9h0M716.8 543.5h0M729.1 422.9h0M723.2 514.5h0M725.1 420.9h0M727.1 520.7h0M715.7 541.3h0M715.1 528.1h0M704.9 506.8h0M727.5 529.9h0M725.4 496.5h0M713.2 521.6h0M704.1 506.5h0M727.4 238.4h0M721.7 544.1h0M721.5 514.3h0M717.4 518.5h0M713.4 495.5h0M737.8 485.3h0M679.8 468.8h0M717.9 527.3h0M713 512.2h0M734.1 494.6h0M698.5 492.5h0M710.1 382.3h0M706.4 533.8h0M711.2 364.4h0M730.7 409.1h0M719.9 541.2h0M721.2 539.4h0M713.7 539.8h0M705.9 473.3h0M732.2 503h0M723.5 534.8h0M721.7 541.4h0M733.3 503.2h0M701.8 507.3h0M715.3 549.7h0M727.6 403.9h0M711.3 490.4h0M703.2 510.8h0M724.7 520.1h0M710 473.3h0M707.5 500.5h0M708.7 370.1h0M730 515h0M699.2 484.9h0M727.4 386.5h0M725.6 539.9h0M739.8 346.7h0M700.5 502.1h0M702.9 361.2h0M689.7 448.4h0M739 517.7h0M715.1 548.8h0M717.5 537.9h0M720.3 527.6h0M699.3 276.8h0M726.7 526.2h0M723.8 516.1h0M689 345.8h0M727.3 473.4h0M707.8 476.4h0M721.2 501.5h0M717.2 542.8h0M724.4 522.4h0M709.9 507.5h0M729.1 513.3h0M720 543.3h0M729.6 516.5h0M712.4 516.2h0M710.5 501.2h0M714.4 507.3h0M726.2 441.1h0M725.2 499.1h0M706.2 380.3h0M741.4 465.3h0M710.7 522.8h0M691.8 491.5h0M726.5 404h0M771.9 475.2h0M695.7 491.4h0M712.6 422.7h0M723.9 536.1h0M708.7 527.2h0M726 519.8h0M712.8 538.8h0M711.9 477.1h0M721 539.8h0M722.4 486h0M697.4 362.3h0M707.5 508.6h0M713.6 538.3h0M701.2 463h0M705.9 472.6h0M717.1 547.4h0M718.1 547.6h0M708.8 426.6h0M711 432.8h0M723 512.8h0M709.7 533.9h0M702.8 469.5h0M719.8 542.9h0M719.8 534.8h0M700.7 403.7h0M724.4 472.9h0M715.4 534.5h0M745.7 465.4h0M728.4 442.8h0M692.7 448h0M759.9 510.4h0M719.4 547.5h0M693.2 438.7h0M741.2 427.5h0M694.7 342.9h0M713.5 538.4h0M719.4 508.6h0M732 362.8h0M727.5 497.3h0M701.2 406.2h0M700.3 506.3h0M718.2 535.3h0M714.1 543.3h0M721 505.1h0M723.9 517.9h0M742.2 416.8h0M713.7 529.7h0M710 514.9h0M727.2 402.4h0M702.7 395.5h0M711 402.3h0M746.8 503h0M703 365.7h0M719.7 534.2h0M751.6 498.7h0M712.2 530.9h0M720.3 544.1h0M735.6 508.7h0M701.7 304.3h0M710.4 538.6h0M715.4 544.8h0M727.2 504.3h0M701.1 462.6h0M713.1 538.9h0M705.8 538.2h0M710 517.4h0M743.6 454.8h0M710.1 527.5h0M738 459.8h0M729.5 489.9h0M721 531.6h0M711.9 538.4h0M711.6 495.1h0M715.4 538.6h0M721.1 541.8h0M734.1 302.1h0M718 549h0M708.5 538.9h0M690.7 493.6h0M717.7 549.1h0M721.5 455.7h0M713.6 523h0M719.4 501.7h0M700.5 443.2h0M712.7 533.8h0M733 485.1h0M710.7 520.4h0M719.5 434.4h0M737.1 383.2h0M713 538.8h0M701.9 522.1h0M734.1 432.5h0M726.1 507.5h0M711.2 504.4h0M719.4 545.1h0M712.8 545.5h0M733.2 360h0M736.4 492.2h0M714.4 508.7h0M726.5 497.6h0M674.3 487.5h0M733.7 479.8h0M721.7 347.4h0M695.8 320h0M765.7 477.9h0M726.2 511.7h0M727.2 523.6h0M730 499.2h0M707.4 522.5h0M705.8 434.8h0M706.6 517.3h0M682.5 460.2h0M741.6 496.4h0M701.6 462.9h0M708.1 518h0M707.6 455.1h0M722.9 531.5h0M698.3 457.8h0M708.8 393.5h0M726.1 525.4h0M727.2 428.7h0M702.7 475h0M733.9 406.3h0M723.2 538.7h0M730.9 515.7h0M723.1 469.9h0M717.6 549.8h0M719.6 542.8h0M699 405.8h0M738.3 363.8h0M720.6 488.3h0M719.5 542.5h0M714.2 545h0M740 447.4h0M718.5 537.3h0M726.5 373.8h0M726.3 522.9h0M712.9 535.6h0M719.1 534.2h0M714.6 475.8h0M732.8 513.5h0M765 461.7h0M720.6 439.2h0M736.4 388.6h0M736.7 434h0M741.8 499.5h0M729.8 448.6h0M721.7 543.9h0M721.7 369.1h0M724.5 421.2h0M720.3 514.3h0M722.6 357.5h0M721.6 542.9h0M695.8 493.4h0M742.7 438.4h0M726 470.3h0M723.1 538.3h0M693 420.9h0M730.2 451.5h0M716.1 550h0M694.9 447.7h0M705.9 428.7h0M719.9 546.6h0M723.5 359.9h0M709 440.7h0M730 409h0M716.9 547.2h0M702.6 512h0M715.7 548.3h0M710.6 544.8h0M700.7 468h0M706.8 406.4h0M703.4 538.3h0M729.5 518.4h0M718.4 523.9h0M719.1 528.1h0M729.5 505.5h0M721.8 540.7h0M729.1 514.1h0M720.8 543.2h0M735.8 482.6h0M712.7 504.3h0M717.2 546.4h0M724.9 513.5h0M715.6 549.4h0M721 534.3h0M716.3 549.3h0M737.3 328.1h0M713.4 474.3h0M708.5 411.3h0M721.9 484.5h0M688.4 479.7h0M584.9 471.1h0M735.3 482.6h0M712 506.3h0M734.2 504.4h0M693.3 483.4h0M739.8 473.7h0M713.3 539.7h0M727.1 455.6h0M716.8 511.2h0M735.1 366.7h0M716.8 548.9h0M731.2 481.9h0M731.5 457.6h0M727.8 532.5h0M747 530.6h0M741.9 384.6h0M720.2 537.4h0M703 524.4h0M731 469.9h0M715.5 550.5h0M707.8 456.6h0M709.3 520.6h0M710.5 521.9h0M711.6 493.4h0M716.2 539.5h0M720.4 539.5h0M711.5 492.4h0M704.3 512.7h0M737.1 499.5h0M710.7 536.3h0M726.2 369.4h0M703.3 375.5h0M716 549.8h0M730.2 496.9h0M724.4 514.8h0M708.9 460h0M707.6 522.9h0M706.4 324.8h0M705.2 530.3h0M710.8 543.3h0M690.3 410.9h0M697.1 345.3h0M717.2 543.4h0M700.6 493.4h0M810.8 475.7h0M687.7 465.4h0M753.5 489.9h0M711.8 543h0M705.6 506.3h0M713.7 545.5h0M727.5 388.9h0M743.8 427.4h0M697.6 511h0M724.2 435.1h0M713.4 513.4h0M699.1 479.2h0M699.5 496.7h0M732.3 500.1h0M745.2 385h0M698.2 495.9h0M714.2 540.7h0M717.3 547.7h0M744.6 482.6h0M733.6 353h0M713.8 545h0M725 334.1h0M731.7 524.9h0M753.9 443h0M716.4 550.4h0M695.9 457.6h0M733.9 423.1h0M691.9 501h0M720.7 541.6h0M727.1 498.2h0M728.7 456.3h0M721.3 362.6h0M731.8 477.1h0M695.5 497.5h0M720.7 519.2h0M712.5 407.9h0M719.6 489.1h0M725.3 518.1h0M721.2 529.6h0M708.6 410h0M717.3 550h0M717 548.5h0M733.4 331.6h0M736.1 439.6h0M757 521.4h0M727.7 435h0M751.2 456.6h0M717.5 528.7h0M724 498.4h0M704.4 454.3h0M713.9 537.3h0M727.7 513.4h0M721.1 529.8h0M694.5 513.8h0M736.4 311.7h0M719.8 535.3h0M726.4 439h0M720.1 537.6h0M718.3 547.9h0M692.8 383.6h0M700.3 482.6h0M713.8 541.8h0M718.5 536.6h0M761 493.2h0M682.3 501.8h0M717.6 546.4h0M737.4 477.2h0M725.8 373.9h0M696.1 473.6h0M736.2 498.9h0M720 525.7h0M716.9 550.3h0M715.1 541.8h0M740.2 404.6h0M711.3 520.6h0M727.7 521.5h0M719.7 538h0M740.1 310.2h0M704.6 507.7h0M725.2 459.3h0M698 355.2h0M728.9 423.6h0M717 529.2h0M717.2 528.9h0M704.2 499.5h0M719.1 544.8h0M719.5 500.3h0M704.3 469.1h0M727.8 460.6h0M729.5 334.8h0M729.7 514.5h0M719.6 473.3h0M712 531.4h0M726.3 344.8h0M711.2 537.2h0M741.2 526.5h0M710.2 538.7h0M724.8 522.2h0M723.5 526.1h0M717.3 549.9h0M724.9 490.4h0M712.7 357.4h0M718.8 546.7h0M725.8 503.6h0M735.6 506.3h0M703.9 491h0M730.1 472.3h0M720.5 543.2h0M659.6 438h0M712.6 503h0M711.6 529.1h0M737.5 505.5h0M707.3 532.3h0M715.6 550.2h0M700.7 450.3h0M728.8 464.2h0M726 530.8h0M740.3 455.4h0M696.6 423.7h0M718.3 523.7h0M728.3 515.9h0M713.7 543h0M698.1 453.6h0M716.8 544.6h0M726.2 474.9h0M723.8 397.1h0M721.4 503.9h0M637.5 507.6h0M728.3 483.1h0M726.9 406.9h0M717.5 547.6h0M714.3 478.1h0M733 522.4h0M707.3 475.5h0M723.5 364.3h0M705 498.7h0M724.3 507.2h0M740.1 455.1h0M716 546.2h0M724.7 462.3h0M705.8 322.8h0M720.1 524.4h0M730.3 436.1h0M731.6 519.1h0M692.9 506.5h0M729.7 485.7h0M727.7 467.9h0M723.9 496.6h0M706.8 509.7h0M720 530.8h0M728.8 427.4h0M701.1 522.8h0M694.2 481.7h0M717.8 527.8h0M718 537.6h0M700.3 511.8h0M709.8 436.9h0M702.7 496.4h0M702.4 422.4h0M709 494.9h0M709.4 506.3h0M740.4 345.5h0M723.6 414.5h0M733.1 482.7h0M735.5 500.4h0M705.9 514.1h0M708.7 510.7h0M736.5 504h0M706.2 508.1h0M667.9 482.2h0M710.3 500.8h0M726.3 338.2h0M699.8 475.4h0M720.2 490.3h0M728.8 445.1h0M691.1 441.8h0M722.2 534.5h0M725.4 466.3h0M704.3 513.7h0M696.8 338.3h0M727 460.3h0M721.9 532.1h0M714.8 547.9h0M718.7 468.4h0M707.8 521.5h0M704.4 376h0M710.7 467.4h0M723.2 360.6h0M730.1 454.3h0M728.2 360.4h0M741.8 485.3h0M682.3 458.8h0M707.5 384.9h0M716.5 549h0M720.1 543.7h0M746.5 530.6h0M716.3 550.6h0M701.5 522.7h0M714.1 546.8h0M732.8 387.6h0M718.6 544.5h0M714.7 543.5h0M714.7 543.8h0M725.8 452.3h0M721.2 529.9h0M754.8 481.9h0M727.7 427.4h0M691.4 331.8h0M697.5 367h0M702.1 304.6h0M751.9 482.1h0M728 472h0M725.4 526.6h0M709.1 536.8h0M723.1 534.9h0M731.8 482.5h0M734.2 502h0M720 515.4h0M695.9 209.7h0M703.5 524.8h0M703.7 408.6h0M729.4 466.5h0M709.7 494h0M704 529.8h0M721.9 396.4h0M709.1 534.5h0M736.2 425.3h0M714.6 546h0M689.6 372h0M658.6 444.6h0M737.8 451.2h0M718.2 544.9h0M742.7 503h0M715.5 550h0M716 548.4h0M742.1 413.1h0M721.8 524.4h0M730.8 417.7h0M729.1 525.7h0M691.2 475.2h0M721.8 542.9h0M710.9 543h0M693.3 512.8h0M720.9 538.2h0M716.5 548.3h0M712.9 361.5h0M712 537.5h0M695.2 448.8h0M729.7 429.4h0M720 542.4h0M701 354.8h0M741.4 418.4h0M714.1 540.9h0M740.6 335.7h0M728.7 496.2h0M708.3 539.7h0M679.6 438.5h0M716.6 546.5h0M719.9 527.9h0M766.4 517.1h0M707.6 421.5h0M702.3 456.5h0M716.6 548.7h0M732.8 484.5h0M719.7 476.8h0M738.4 466.1h0M722.1 445.8h0M727.7 394.2h0M731.3 492.7h0M657.5 460.3h0M713.2 520.6h0M694.7 500.9h0M652.2 509.1h0M723.6 459.9h0M701.9 399.6h0M727.2 473.7h0M703.6 525h0M720.7 524.7h0M699.2 498.5h0M688.8 378.4h0M717.2 530.9h0M725.6 511.7h0M715.9 544h0M712.7 542.2h0M723.2 517.8h0M734.9 506.3h0M707.3 497.3h0M692.3 439.2h0M729.4 525.6h0M724 377h0M564.4 512.2h0M730.1 490.6h0M712.2 467h0M700.3 463.4h0M715.2 517.1h0M730.7 521.5h0M739.8 452.8h0M705.8 485.9h0M716.2 548.9h0M705 456h0M712.7 467.5h0M663.4 468.1h0M703.9 530h0M713 541.1h0M731.6 494.3h0M712.2 515.5h0M718 543.7h0M704.8 495h0M700.6 518.9h0M731 226.1h0M724.7 528.4h0M713.1 530.4h0M711.8 528.6h0M742.3 312h0M698.9 437.5h0M701.9 490.1h0M719.2 521.8h0M724.4 368.4h0M734 452.9h0M710.9 374.1h0M720.5 492.7h0M723.3 534.3h0M729.5 521.2h0M714.7 550.1h0M713.6 518.6h0M722.5 348.7h0M720.7 541.5h0M708.2 506.7h0M721.8 514.4h0M757.6 489.4h0M633.3 488.5h0M711.4 399.4h0M727.3 488.1h0M721.5 538.3h0M719.3 493.2h0M704.5 355.6h0M711.5 527h0M710.7 460.1h0M752.5 435.9h0M724.5 516.2h0M740.9 350.3h0M711.4 523.1h0M706.5 529.9h0M736.9 412h0M725.7 525h0M720.3 537.9h0M714.9 548h0M713.5 538.6h0M697.2 419.2h0M704.4 528.9h0M721.3 536.8h0M714.8 543.8h0M703.8 447.1h0M724.9 468.8h0M695.1 240.1h0M666.1 509.5h0M705.1 530.6h0M722.3 536.9h0M726.4 475.3h0M715.2 550.2h0M721 465.1h0M725.8 508.1h0M690.3 517.6h0M712.6 502.3h0M716.6 548.8h0M726.8 522.7h0M716.7 550.2h0M702 468.8h0M722 531h0M719.3 474.7h0M703.6 476.7h0M714.6 524.4h0M730.4 498.8h0M699.2 402.4h0M718.7 542.8h0M691.2 425.1h0M736 511.4h0M709.7 360.9h0M718 515.8h0M715.5 548.2h0M675.7 470.6h0M724.5 312.3h0M731.1 502.6h0M692.5 467.1h0M692.8 496.9h0M649.9 481.4h0M712.9 543h0M732.8 502.5h0M719.5 516.6h0M730.2 518.3h0M732.3 460.3h0M733.3 395.3h0M735.6 478.6h0M730.2 508.3h0M714.5 515h0M725.6 516.7h0M713.6 526.3h0M714.8 546.3h0M706.3 530.2h0M717.8 499.3h0M709.7 417.2h0M711.3 481h0M731.5 440.1h0M708.4 449.7h0M712.5 547.2h0M756.4 469.2h0M728 483.9h0M693.2 494.2h0M715 537h0M712.6 542.8h0M715.2 548.2h0M735.5 368.6h0M731.9 518.8h0M714.8 529.8h0M729.6 485.7h0M741.4 404.1h0M722 542.3h0M716.9 547.7h0M722.3 526.8h0M718.4 548.3h0M721.1 464.5h0M740.8 398.6h0M723.9 393.8h0M713.6 485.2h0M723.3 534.1h0M717.4 549.2h0M721.4 534.2h0M742.5 504.6h0M727.6 415.8h0M717.6 548.5h0M726.2 431.7h0M715 514.5h0M720.8 533.5h0M706 528.8h0M714.5 543.4h0M727.2 384.9h0M720.3 500.7h0M701.3 449.4h0M718.7 547.5h0M731.1 496.1h0M715.9 541.9h0M726.8 527.3h0M707.5 471.8h0M719.8 524.1h0M712 532.9h0M719.5 492.8h0M737.7 478.2h0M708 410.9h0M713.3 524.5h0M716.7 548.8h0M717.8 547.7h0M734.1 407.6h0M702.2 494h0M725 442.5h0M732.5 503.8h0M693.1 500.9h0M691.9 520.6h0M721.1 524.2h0M715.3 540.3h0M676.4 435h0M725.7 502.6h0M714.6 538.6h0M710.1 503.5h0M708.3 267h0M707.5 537.2h0M707.5 520.8h0M719.4 537.8h0M731.9 384.9h0M712 358.8h0M698.5 395.7h0M719.2 518.4h0M703 524.2h0M733.6 481.3h0M720.2 515.3h0M723.4 491h0M715 542h0M710.7 445.3h0M717.4 547.9h0M729.4 407.1h0M713.7 528.7h0M707.2 522.4h0M721.7 538.7h0M712 540.4h0M711.3 369.1h0M737.3 405.5h0M713.3 546.8h0M706.1 515.9h0M709.4 367.5h0M721.6 525.4h0M720 534.3h0M735.6 403.7h0M702.6 438.8h0M732.9 410.6h0M717.2 549.4h0M724.7 474.3h0M720.5 500.5h0M699.9 503.8h0M716.6 532.4h0M719 527.5h0M710.6 524.2h0M700.1 505.2h0M725.9 401.8h0M745.6 361.3h0M733.8 514.4h0M706.7 493.7h0M726.7 438h0M734.2 360.1h0M721.5 420.4h0M715.7 547h0M702.9 350.9h0M723.9 459.9h0M736.6 486.3h0M718.5 537.5h0M712.8 546.8h0M740.3 462.4h0M712.7 477.7h0M691.1 401.1h0M721.2 521.9h0M716.5 547.6h0M713.4 526.9h0M712.9 433.2h0M715.8 544.7h0M709.6 529.1h0M720.3 505.2h0M702.1 462h0M717.9 530.9h0M717.8 501.1h0M710.4 386.8h0M690.1 475.1h0M719 543.8h0M699.1 470.9h0M705 371.3h0M696.3 408.8h0M701.8 499.9h0M710.7 529.8h0M735.3 477.5h0M728.3 517.1h0M701.9 340.3h0M726.3 482.7h0M714.9 546.3h0M739.3 364.9h0M684.9 471.6h0M709.8 502.3h0M725.5 354.3h0M695.1 390.4h0M719.6 504.4h0M716.9 533.8h0M729.4 488.4h0M707.3 528.8h0M741.8 479.6h0M716.4 549.2h0M692.6 473.9h0M746.7 441.2h0M731.7 363.7h0M714.5 548.9h0M709.4 536.5h0M712.7 494.3h0M708.1 536.3h0M694.1 372.1h0M707.2 498.9h0M716.7 548.6h0M705.5 515.4h0M705.5 490.8h0M710.7 534h0M714.3 541h0M736.8 459.3h0M740.4 459.2h0M680.7 516.7h0M696.2 380.5h0M710 508.1h0M697.5 472.1h0M729.3 452.9h0M716.5 539.6h0M719.5 539.9h0M707.3 521.8h0M733.7 471h0M717.1 545.8h0M692.1 314.9h0M711.8 541h0M722.1 415.7h0M710.4 410.6h0M697 302.7h0M693.1 418.7h0M708.2 515.9h0M727.3 520.2h0M700 457.7h0M727.2 498.8h0M704.6 390.7h0M707 528.2h0M738.9 416.2h0M733.2 398.8h0M725.2 489.1h0M725.3 420.7h0M725.3 408h0M721.2 529.8h0M725.8 521h0M731.7 468.5h0M715.1 550.5h0M694.6 461.3h0M718.3 547.7h0M738 427.7h0M742.2 296.4h0M735.2 503.8h0M708.4 532.8h0M705 357.8h0M726.9 518.1h0M695.1 436.5h0M710.8 527.9h0M698.4 429.5h0M713.5 521.5h0M718.4 549.9h0M717.5 547.1h0M648.5 471.5h0M713 537.3h0M727.9 510.3h0M736 374.2h0M717.6 545.2h0M714.7 540.3h0M729.9 352.9h0M728.1 518.4h0M716 550.4h0M727.6 476.9h0M720.4 521.2h0M724.2 500.5h0M724.7 486.7h0M705.3 442.7h0M714.4 533.7h0M714.5 536.8h0M722.6 521.8h0M719 545.6h0M724.6 526.3h0M707.7 509h0M712.1 433.4h0M705.4 510.2h0M712 485.4h0M726.2 526.5h0M712.9 520.7h0M723.3 514.2h0M722.2 472.1h0M710.3 500.5h0M712.6 544h0M702.9 396.1h0M715.2 541.7h0M731.3 498.1h0M711.1 522.6h0M711.6 535.6h0M724 450.6h0M722.1 419.3h0M714.5 544.5h0M717.6 548.2h0M704.9 532.6h0M715.8 546.9h0M712.8 543.1h0M754.7 462.9h0M700.8 515.8h0M721.1 516h0M716.1 550.3h0M687.9 345.8h0M727.9 509.6h0M705.4 509.1h0M695.1 502.1h0M710 405h0M721.5 441.7h0M722.9 517h0M723.3 500.2h0M739.3 419.3h0M727.3 517.2h0M722.8 540.9h0M711.9 530.8h0M721.6 455.4h0M702 498.5h0M724 527.1h0M718.1 530.9h0M711 525.5h0M706.6 476.8h0M720.9 356.2h0M708.7 539.4h0M699.6 349.9h0M720.8 523.6h0M680.3 437.2h0M726.3 461.9h0M690.1 404.8h0M724.4 482.5h0M741.1 433.7h0M744.5 462.4h0M707.3 534.2h0M779.3 472.9h0M711.8 519.1h0M727.9 533.6h0M743.7 436.9h0M755.5 489.7h0M708.6 494.2h0M707.9 492.4h0M731.8 440h0M712.3 537.8h0M714.7 504.5h0M725.2 489.3h0M694.3 349.6h0M708 482.8h0M715.5 549.3h0M730.9 517.1h0M690.1 399.8h0M715.9 512.4h0M714.6 545.3h0M712.4 520.4h0M728.9 376.7h0M707 484.8h0M737.3 508h0M698.5 412.3h0M711.3 529.7h0M722.4 530.8h0M730.7 438.3h0M715.8 546.9h0M721.8 533.3h0M677.8 512.1h0M745.6 432.9h0M707.6 524.7h0M701.2 463.6h0M731.1 411.2h0M746.5 497.7h0M698.7 414.8h0M717.9 547.5h0M722 370.5h0M712.5 525.5h0M708.7 447.5h0M731.4 413.1h0M721.4 492.2h0M711.6 512.1h0M736.1 455.2h0M709.2 456.6h0M735.1 375.3h0M704.1 480.9h0M721.6 471.8h0M721.4 379.2h0M715.1 549.8h0M718.1 511h0M696.9 443h0M711.1 540.7h0M716.2 548.5h0M726.4 518.5h0M717.9 531.2h0M731.2 513h0M713.7 518h0M716.9 547.8h0M721 534.1h0M736.5 332.4h0M715.3 527.7h0M719.6 546.5h0M700.3 508.9h0M734.3 459.8h0M690.2 421.2h0M726.8 417.6h0M725.1 370h0M715.5 549.1h0M722.7 476h0M714.5 538.9h0M725.5 487.6h0M706.2 511.1h0M721.3 536.2h0M706.6 441.9h0M730.9 413.8h0M700.8 499.4h0M698 449.3h0M738 457.5h0M731.8 510.7h0M677.4 433.4h0M724.4 468.9h0M703 342.4h0M729.5 370.7h0M720.3 524.3h0M716.7 550h0M723.6 535.5h0M719.1 535.4h0M721.9 539.8h0M720.8 535.7h0M732.3 439.8h0M734.6 381.6h0M710.9 541.4h0M720.1 543.9h0M713.6 523.1h0M714.7 546.4h0M743.1 487.6h0M725.9 368.1h0M720.3 538.7h0M736.2 380.2h0M721.7 514.5h0M694.3 504.1h0M739.3 500.7h0M715.5 547.2h0M716.5 539.8h0M713.3 513.5h0M706.5 401.9h0M709.1 477h0M707.3 492.4h0M720 541.8h0M723.9 428.5h0M715 544.4h0M718.4 544.5h0M717.1 549.1h0M731.8 514.4h0M721 538.1h0M749.5 444.5h0M720.7 491.4h0M721.7 459.2h0M719.1 537.4h0M709.3 429.3h0M697.5 504.1h0M712.1 538.8h0M727.9 521.2h0M710.5 435.7h0M728.2 325h0M719 534.7h0M722.9 395.6h0M733.2 516.4h0M724.6 414.5h0M707.5 525.7h0M711.6 519.5h0M738.6 427.1h0M707.3 368h0M712.8 506.4h0M718.3 525h0M695.4 459.2h0M711.6 533.4h0M714.7 546.3h0M730.6 481.2h0M721.6 475.4h0M717.1 540.5h0M699.9 308.5h0M705.9 354.7h0M709.9 465.9h0M714.1 545.6h0M719.3 542.6h0M722.1 521.3h0M724.7 343.3h0M726.9 526.2h0M706.3 523.9h0M702.4 310.4h0M720.3 540.9h0M717.5 533.6h0M717.2 548.9h0M718.7 547.9h0M732.9 390.1h0M715 550.5h0M708.6 482.1h0M727.5 480.3h0M739.3 518.6h0M730 435h0M722.7 510.5h0M696.9 468.8h0M699.8 496h0M710.2 539.6h0M724.8 533.2h0M720 542.4h0M739.9 363.8h0M720.2 459.9h0M705.4 497.6h0M699.1 494.4h0M712 507.3h0M738 530.3h0M711.7 470.8h0M716.3 547.7h0M738.2 322.7h0M734 306.1h0M730.8 526.8h0M720.7 506.1h0M711.7 495.3h0M713.8 537.1h0M717.4 542.5h0M712.3 509.3h0M724.2 531.6h0M713.5 545.1h0M733.6 495.1h0M707.5 540h0M709.9 539.2h0M709.6 482.4h0M717.9 548.9h0M708.8 477.8h0M709.1 532.6h0M689.8 533.1h0M714.2 467.5h0M707.9 474.3h0M737.4 516.4h0M720.9 406h0" stroke="#000" stroke-opacity="0.6" stroke-width="5.4" stroke-linecap="round" fill="none"/>
<path d="M710.7 472.4h0M700 394.7h0M720.2 541.4h0M746.5 479.7h0M740.9 394.6h0M722.8 536.2h0M707.2 366.1h0M714.2 547.5h0M700.5 500.4h0M693.6 480.1h0M686.6 433.9h0M727.3 518.6h0M731.3 305.7h0M712.5 533.7h0M690.2 502.1h0M712.8 544.2h0M713.9 465.7h0M726.9 398.5h0M710.1 506h0M757.5 511.2h0M710.4 536.7h0M706 350.4h0M704.2 515.2h0M724.6 480.9h0M732.4 520.7h0M723.9 538.8h0M709.5 518.1h0M705.3 522.9h0M730.7 350.3h0M706.9 510.4h0M714.5 548.4h0M727.3 483.4h0M712.9 542.6h0M691.3 510.8h0M713.2 535.4h0M752.2 481.9h0M735.8 331.4h0M720.1 539.5h0M712.3 537.9h0M710.3 517.7h0M727.6 335.1h0M720.3 457.2h0M703.2 199.6h0M713.4 544.9h0M719 545.3h0M723.1 486.5h0M738.1 441.2h0M714.3 544.5h0M726.5 402.4h0M708.3 467.6h0M743.7 420.4h0M696.3 395.6h0M696.1 504.7h0M726.6 474.7h0M700.7 493.2h0M712.3 531.3h0M717 547.7h0M716.9 550.4h0M705.8 387.4h0M683.4 474.1h0M745.6 497.9h0M703.3 514.4h0M714.4 529h0M751.1 501.9h0M698.4 420.1h0M713.9 528.8h0M717.3 521.4h0M666.9 471.5h0M711.5 532.5h0M724.8 484h0M707.8 434.1h0M710.2 540.5h0M744.2 329.5h0M720.4 460h0M723.6 529h0M718 549.1h0M714.7 548.8h0M723.2 494.1h0M707.6 507.5h0M725.6 517.9h0M738.5 500.1h0M715 548.4h0M708.9 507.4h0M710.4 527.6h0M710.6 497.1h0M737.5 430.5h0M706.6 355.2h0M728.8 409.8h0M717.3 548h0M722.1 486.3h0M717.3 550.4h0M712.1 523.1h0M685 504.9h0M719.1 506.7h0M712.5 531.8h0M716.6 549.6h0M700.6 511.1h0M722.1 486.1h0M711.8 436.7h0M723.6 445.1h0M712.1 539.3h0M713.4 529.1h0M709.1 485.3h0M732.4 461.7h0M727.8 495.7h0M717.6 481.4h0M738.2 406h0M697.2 491.2h0M723.2 532.6h0M730 525.6h0M730.3 507.9h0M718.4 546.1h0M732.5 479.3h0M727.8 411.9h0M697.1 465.5h0M720.5 534.4h0M729.2 365.9h0M724.8 520.9h0M735.6 371h0M702 451.8h0M725.6 510.1h0M678.4 473.7h0M715.3 526.7h0M706.8 515.4h0M724.7 491.3h0M731.7 390.3h0M737.4 486.8h0M706.2 520.7h0M718.7 500h0M735.5 441.3h0M734.9 510.8h0M692.8 405.7h0M633.1 493h0M695.9 482.9h0M689.2 482.3h0M732.1 522.1h0M706.6 525.5h0M715 534h0M732 349.6h0M707.1 445.9h0M709.8 539.2h0M703.6 423h0M716.9 548.2h0M706.8 518.7h0M734.9 484.9h0M701.8 483h0M706 361.3h0M723.7 489.3h0M714.6 464.3h0M729.5 506.2h0M724.2 403.3h0M722.6 540h0M723.9 535.5h0M718.3 469.2h0M723.6 482.7h0M709.3 514.1h0M711.8 534.5h0M701.2 468.1h0M711.9 405.3h0M732.2 510.6h0M721.3 537.7h0M747.6 501.4h0M701.1 509.8h0M716.6 550.3h0M711.7 524.2h0M721.1 411.6h0M739.8 302.9h0M719.9 545.4h0M716.9 547h0M698.4 444.7h0M709.4 520.5h0M693.3 499.8h0M690.8 347.7h0M701.8 480h0M709.6 529.6h0M719.7 495.6h0M704.5 457.3h0M719.9 543.7h0M736.2 461.2h0M726.9 534.8h0M737.7 402.5h0M712.7 545.3h0M715.5 533.8h0M736.2 497.4h0M709.5 322.1h0M712.4 513.1h0M704 538.5h0M721.1 534.9h0M695.5 465.6h0M708.4 522.1h0M718 526.5h0M738.6 435h0M707.4 477.2h0M722.6 502.1h0M710 537.5h0M704.3 472.6h0M706.8 480h0M717.8 540.4h0M715.9 548.8h0M720.8 495h0M730.9 436h0M715.7 544.2h0M711.1 539.7h0M723.6 486.3h0M709 365.9h0M728.4 468.8h0M710.1 526.4h0M718.8 546.7h0M736.6 518.4h0M728 487.5h0M730 508.7h0M729.6 499h0M690.7 451.9h0M777.8 504.9h0M696.5 454.3h0M707.3 497.8h0M689.3 477.6h0M709.6 470.6h0M696.4 462.6h0M725.1 414.9h0M724 453.2h0M709.3 539.4h0M698.8 511.4h0M730.8 459.2h0M677.7 477.8h0M709.7 519.5h0M718.7 468h0M711.8 535.7h0M711.7 544.6h0M722.1 369.6h0M718.4 544.4h0M695.9 462.8h0M712.7 541.5h0M718.5 524.2h0M700.3 512.8h0M716.2 550.1h0M716.9 520.8h0M698.6 436.4h0M719 522.1h0M732.7 339.1h0M716.6 549h0M724 462.8h0M710.6 453.6h0M693.5 408.3h0M720.8 492.2h0M721.7 538.7h0M735.1 484.3h0M723.4 515.6h0M730.3 467.8h0M711.1 505.8h0M769.3 502.9h0M696.5 471.3h0M727.2 414.2h0M709 381.2h0M697.1 379.6h0M706.9 462.9h0M740.5 414.1h0M721.2 539.5h0M712.2 529.8h0M714.3 544.5h0M722.8 523.5h0M707.7 533.4h0M726.4 486.2h0M706.3 418.3h0M728.2 523.6h0M736.1 331.4h0M718.4 548.7h0M710.6 479.5h0M732.6 481.8h0M746.1 509.2h0M702.2 395.7h0M739.3 491.2h0M709.7 540.2h0M697.2 518.4h0M699.8 447.5h0M705.9 425.2h0M694 456h0M709.9 531.5h0M685.1 441.3h0M701.9 514.5h0M730.8 498.4h0M708.4 461h0M728.7 523h0M698.7 495.3h0M741.8 320.9h0M727.4 456.4h0M696.5 482.8h0M761.2 464.3h0M716.3 548.3h0M736.8 477h0M721.1 522h0M720.6 514.6h0M772.5 462.9h0M711.3 495.4h0M720.3 477.9h0M698.6 496.5h0M720.7 439.3h0M730.9 429.7h0M722.1 458.4h0M717.3 548.1h0M724.1 515.5h0M738.4 459.1h0M719.9 533.6h0M709.1 514.5h0M707.2 512.7h0M708.4 540h0M695.6 430.3h0M702.5 510.6h0M702.9 337.2h0M690.8 357.6h0M704.9 487.4h0M729.8 462.5h0M692.7 443h0M735.8 492.1h0M719.9 530.8h0M722.7 506h0M600.1 490.3h0M703.7 486.3h0M711.8 546.4h0M708.3 449.4h0M715.3 547.1h0M716.2 544.6h0M757 450.3h0M753.6 496.8h0M698.3 496h0M717.9 544.2h0M732.9 406.4h0M713.4 515.9h0M708.5 314.9h0M718.4 547.1h0M735 531.6h0M722.3 494.6h0M687.4 375.7h0M700.8 480.2h0M736.7 498.3h0M726.4 489.6h0M738.2 379.4h0M719.2 541.2h0M731 493h0M744.5 409.5h0M704.4 408.8h0M713.4 540.7h0M713.2 535.9h0M692 305.6h0M729.1 428.1h0M729.7 455.9h0M724.5 499.6h0M712.4 542.9h0M709.1 497.1h0M730.7 483.6h0M731.2 522.2h0M714.2 546h0M736.7 470.8h0M719.9 528.1h0M687.9 500.1h0M731.7 433h0M729 533.2h0M702.9 482.3h0M735 365.5h0M713.9 493.2h0M719.1 462.2h0M735.7 438.1h0M731.3 492.9h0M733.6 415.6h0M704 516.3h0M724.2 526.6h0M741 490.9h0M691.7 347.3h0M701.1 502.5h0M703.6 522.5h0M707.4 505.7h0M717.9 535.9h0M726.5 338h0M757.9 455.9h0M703.4 491.9h0M724.3 493h0M718.8 509.9h0M720 540.9h0M677.1 457.8h0M716.4 549.1h0M709.6 533.7h0M727.5 377.5h0M706.6 450h0M738.2 481.8h0M715.6 542.2h0M722.6 512.5h0M729.5 490.1h0M723.8 475.8h0M707.6 456.6h0M734 505.5h0M704 405.4h0M718.6 539.1h0M717.4 530.3h0M714.3 541.1h0M732.8 512.4h0M725.1 513.4h0M690 411.6h0M712.1 533.7h0M733.5 462h0M696.7 414.9h0M731.9 388.5h0M735.5 512.2h0M718.8 535.5h0M734.6 408.7h0M712 242.6h0M708.1 516.5h0M724.6 454.6h0M725.3 450.8h0M739.9 412h0M708 378.6h0M724.2 453.1h0M711.8 517.3h0M725.9 531.2h0M682.4 466.6h0M744.6 388.8h0M717.7 544.7h0M742.9 398.2h0M720.6 535.5h0M713.7 539.2h0M731.9 468.1h0M708.2 427h0M706.8 212.4h0M730.6 365.1h0M768.5 455.2h0M700.5 511.1h0M732.3 435.4h0M724.6 470.5h0M687.5 297.8h0M704.4 473.7h0M722.8 473h0M707.7 537.1h0M729.4 310h0M710 471.3h0M726 530h0M732.9 431.3h0M722.4 418.8h0M716.4 546.4h0M709.5 534.6h0M724.6 523.9h0M701.6 416.5h0M710.6 412.2h0M733.7 373.9h0M699.2 290.9h0M703 497.7h0M718 548.3h0M724.5 523.4h0M719 528.8h0M694 516.7h0M737.2 517.4h0M736.2 426.6h0M706 437.9h0M735 503.1h0M724.7 418.7h0M713.9 534.5h0M748.1 446.8h0M708.5 515.8h0M736 516.1h0M726.7 503.3h0M702.6 423.5h0M687.5 474.7h0M722.1 512.5h0M714.9 538.3h0M710.3 522.9h0M715.5 548.4h0M747.4 470.8h0M707.8 526.3h0M705.7 486.5h0M733.7 431.5h0M713.6 531.4h0M735.2 513.8h0M732.3 442.9h0M723.8 479.7h0M742 411.2h0M721.9 506.6h0M742 471.5h0M728.5 496.5h0M733.5 418h0M709.6 535.5h0M715.7 526.8h0M732.6 382.4h0M718.5 545h0M730.4 425.3h0M682.9 466.7h0M720 536.2h0M703.6 522.9h0M700.6 373.1h0M703.1 511.1h0M721.9 511.9h0M724.1 537.5h0M699.7 445.2h0M713.1 521.9h0M720.8 540.3h0M714.1 536.2h0M699.6 479.5h0M699.7 484.7h0M727.6 523.1h0M718.7 545.3h0M712.4 533.7h0M726.9 436.9h0M720.4 469.2h0M685.5 458.1h0M711.1 498.6h0M726.6 527h0M735 512.7h0M711.8 541h0M711.2 369.5h0M710.9 537.5h0M704.7 538.8h0M705.6 477h0M704.9 464.3h0M722.6 427.7h0M709.4 506.9h0M725.5 515.4h0M727.9 516h0M723.5 516h0M741.4 460.6h0M713.1 513.9h0M726.8 355.5h0M691.4 424.7h0M723.8 373.7h0M710 524.9h0M716.1 546h0M741.1 367.8h0M693.5 501.8h0M717.4 515.4h0M723.2 523.6h0M734.3 458.1h0M721.7 541.1h0M710.1 430h0M701.9 397h0M711.1 525.8h0M717.5 533.1h0M721.6 505.4h0M731.5 411.4h0M725.6 449.6h0M709.8 434h0M715.3 546.9h0M711.4 531h0M734.9 499.4h0M737.4 530.1h0M712.3 476.6h0M721.2 534.6h0M712.1 538h0M737.2 477h0M731.7 485.7h0M724.6 375.2h0M742.5 379.9h0M740.5 431.7h0M725.2 492.9h0M735.2 481.3h0M723.1 512.5h0M707.4 516.7h0M727.5 356.2h0M727.5 512h0M700.9 372.2h0M703.1 394.3h0M714.3 542.5h0M715.4 549.2h0M717.7 518.4h0M733.9 486.6h0M728.5 518.9h0M734.8 455.9h0M703.2 473.2h0M724 499.6h0M711.5 466.4h0M703.4 512.9h0M725.2 453.6h0M728.9 339.2h0M709.6 432.8h0M713.5 523.3h0M707.1 516.2h0M708 402.3h0M711.7 523.4h0M769.5 478.4h0M720.6 462.9h0M726.4 381.3h0M726.2 526.6h0M733.7 388h0M724.1 487.7h0M717 536.7h0M726.6 535.6h0M714.6 548.1h0M725 327.2h0M717.1 533h0M715.2 548.9h0M688.2 485.5h0M744.9 337.6h0M732.3 228h0M713.9 528.7h0M717.6 545.6h0M686.1 444h0M706.9 496.2h0M740.7 380.3h0M714.8 539.1h0M719.1 544.7h0M710.6 520.5h0M715.8 548.3h0M705.1 516h0M716 535.7h0M718.5 543.5h0M708.6 510h0M733 526.4h0M678.1 466h0M722.7 523.3h0M688.7 468.1h0M711.8 516.3h0M722.2 533h0M713.5 534.5h0M698.2 513.2h0M703.8 449.2h0M730.5 496.1h0M734.1 459.4h0M736.1 356.4h0M706.4 373.2h0M731.9 521.9h0M727.6 501h0M736.4 471.7h0M736.1 509.7h0M714.4 542.8h0M734.3 492.5h0M712.2 508.6h0M719.3 543.1h0M628.7 488.4h0M699.2 311.9h0M696.9 515.4h0M710.1 509.9h0M697.7 498.1h0M722.2 411h0M740.5 341h0M729.5 496.5h0M725.2 530.3h0M726.4 482.9h0M720.1 539.2h0M769.2 444.4h0M718.4 540.2h0M716.7 532h0M710.4 531.5h0M693.9 407.2h0M706.5 415h0M726.1 370.6h0M725.6 489.4h0M708.1 406h0M717.9 541.9h0M724.8 525.5h0M737.7 453.9h0M723.3 509.9h0M723.8 495.4h0M705.9 476.2h0M716.2 548.1h0M693.1 278.4h0M715.1 544.2h0M718.8 541.8h0M749.4 434.4h0M734.5 506.7h0M727 505.6h0M701.9 479.3h0M707.2 522.8h0M726.2 525.1h0M723.5 540.9h0M689.5 384.8h0M713.2 529.2h0M702.6 472.3h0M695.9 448.6h0M707.1 523.1h0M709.3 506.2h0M727 479.2h0M736.7 493h0M734.6 366.9h0M708.6 391.8h0M704.1 452.4h0M716.8 536.3h0M709.9 536.5h0M705.8 418.2h0M711.5 543.4h0M692.1 221.6h0M756.5 504.9h0M708.3 511.6h0M696 475.5h0M737.9 354.4h0M720.9 390.7h0M711.6 541.8h0M704 535.8h0M716.6 550.5h0M732.1 317h0M693 485.4h0M743.5 354.7h0M716.3 502h0M726.9 527.5h0M708.4 544.5h0M724.7 530.6h0M729.9 523.8h0M725.6 467.8h0M692 489.7h0M720.2 456.5h0M730.7 521.9h0M705.7 387.8h0M719.1 488.8h0M729.4 415.1h0M717.9 549h0M726.4 518.5h0M707.2 535.1h0M713.1 489.8h0M701.5 471.8h0M710.4 537.6h0M714.7 510.6h0M698.5 368.7h0M647.4 447.6h0M736.5 452.3h0M711.1 541.9h0M729.9 484.6h0M708.4 385.6h0M744.8 414.7h0M722.8 508h0M717.3 544.8h0M684.2 479.3h0M698.5 481.6h0M697.1 454.1h0M701.6 414.2h0M708.2 534.8h0M710.6 527.1h0M741.7 454.2h0M717.9 508.9h0M711.1 535.8h0M721.5 529.8h0M716.5 548.6h0M714.8 534.1h0M730.4 353h0M712.2 519.6h0M715 521h0M727.3 481.5h0M730.4 497h0M731.8 510.8h0M696.6 369.4h0M709.8 518.5h0M733.1 522.2h0M699.3 453.8h0M683.6 484.4h0M729.5 459.2h0M730.9 454.7h0M692.1 484.6h0M761.2 501.6h0M673.8 478.2h0M705.1 501.9h0M723.8 491.5h0M711.1 531.3h0M692.4 486.2h0M714.6 547.4h0M700.7 513.7h0M730.4 469.5h0M742 462.4h0M724.2 467.3h0M722.8 481h0M742.3 487.5h0M714.5 541h0M718.4 542.5h0M720.2 506.6h0M738.9 383.8h0M712.8 532.8h0M712.2 522.4h0M714.9 545.6h0M715.5 498h0M721.2 450.1h0M721.8 518.1h0M712.4 492.3h0M735.2 499.1h0M724.6 526.2h0M726.8 528.6h0M732 424.8h0M716.2 538.4h0M713.2 544.6h0M725.9 494.4h0M704.9 529.3h0M683.6 457.3h0M726.7 325.7h0M720.8 429.4h0M706.8 504.5h0M728 493.8h0M711.6 542.1h0M718.2 549h0M717.6 525.5h0M720.5 541.1h0M718.7 454.5h0M725.5 413h0M720.7 540.2h0M709.6 527.4h0M721.7 235.3h0M696.9 466.3h0M722 525.5h0M709.9 529.5h0M729.7 462.1h0M722.9 508.2h0M713.6 537.7h0M722 533.8h0M722.5 496h0M723.6 536.7h0M735.6 465.2h0M713.7 543.4h0M699.5 519.8h0M712 527.7h0M722.3 525.3h0M729 497.4h0M712.9 536.3h0M719 543.8h0M723.2 360.7h0M708.5 499.1h0M723.1 429.3h0M719.5 546.3h0M714.4 538.1h0M709.4 417.1h0M718.2 543.7h0M718 470.3h0M704.8 432.3h0M745.3 435.6h0M706 336.4h0M693.7 448.1h0M685.2 484.9h0M700.8 497.4h0M722.5 536.7h0M724.2 518.4h0M696.1 393.3h0M712.3 446.3h0M732.1 471h0M730.2 477.7h0M725.7 412.6h0M721.6 539.5h0M723 525.7h0M713.8 535.8h0M671.6 483.5h0M723.4 527.6h0M669.6 503h0M713.9 517.9h0M719.3 539.8h0M619.4 494h0M727.9 523.2h0M708.5 530.4h0M704.9 491h0M734.7 498.3h0M737.2 299h0M714.4 546.3h0M708.5 516.5h0M677.3 482h0M712.9 534.4h0M723 510.3h0M740.6 464.3h0M719.1 542.2h0M720.9 530h0M703.7 492.8h0M721 461.5h0M728.9 437.2h0M740 296.2h0M734.1 256h0M740.8 482.6h0M736.1 477.3h0M724 504.1h0M723.7 416.6h0M733.1 403.1h0M691.5 286.4h0M732.5 233.4h0M723.7 366.4h0M701.4 414.9h0M718.5 536.6h0M736.6 475.2h0M733.7 456.8h0M733.4 486.3h0M730.6 495.5h0M711.3 542h0M724.7 535.2h0M717 548.6h0M737.5 340.2h0M698 470.7h0M718.4 523.8h0M726.1 358.9h0M735.2 441.7h0M718.6 547.9h0M727.2 364.7h0M710 511.4h0M740.9 472.9h0M698.8 514.5h0M708.7 536.4h0M714.8 532.2h0M726 506.7h0M732.5 309.9h0M714.2 537.3h0M707.8 490.8h0M702.2 292.7h0M728.4 513.8h0M720.9 531.3h0M719.8 544.5h0M707.5 511.6h0M699.8 443.8h0M741.9 405.3h0M711.6 534.7h0M720.5 537.8h0M710.7 531.5h0M731.1 518.2h0M728.4 517.6h0M739.4 456.7h0M716.5 549.9h0M705.6 500.7h0M709.7 533.6h0M701.6 423.3h0M708.5 523.4h0M713.5 536.2h0M728.4 308.6h0M698.4 235.6h0M730.1 512.3h0M709.2 530.6h0M715.1 542.3h0M710.5 428.4h0M704.7 531.4h0M718.8 530.1h0M716.7 538.9h0M698.8 512.7h0M716.7 547.7h0M694.9 441.1h0M702.1 514.7h0M725 520.7h0M729.3 427.5h0M705 531.4h0M739.4 488.7h0M731.6 473h0M736.3 362.6h0M743.4 323.2h0M719.4 546.5h0M719.4 524.8h0M690.3 524.2h0M689.2 482h0M720.9 499h0M720.8 534.7h0M731.9 498.8h0M727.5 393.6h0M712.1 542h0M712.7 471.6h0M702.9 527.1h0M720.3 510.5h0M711.5 534.7h0M704.8 520.3h0M734.6 519.3h0M733.5 500.7h0M719.9 546.4h0M721.9 538.6h0M726.8 411.6h0M716.2 546.2h0M722.4 502.6h0M701.3 496.5h0M702.2 450.8h0M724.4 490.4h0M734.6 275.8h0M716.3 534.2h0M707.4 302.3h0M727.8 524h0M714.6 550.1h0M713.9 547.7h0M719.2 539.4h0M710.4 531.2h0M725.2 516.6h0M713 535.9h0M737.2 462.6h0M735 340.7h0M734.7 468.5h0M726.3 458h0M722.2 404.6h0M716.8 548.7h0M723.5 408.5h0M719 537.5h0M721.4 494.2h0M716.2 545.2h0M725.6 494.5h0M736.9 526.4h0M698 469.3h0M717.5 535.3h0M722.6 510.2h0M716.5 525.4h0M714.7 548.1h0M731.2 525.3h0M698 357.8h0M705.6 373.4h0M715.5 548.7h0M705.3 375.6h0M701.5 366.9h0M704.7 439.7h0M670.7 451.5h0M729.1 479.7h0M719.2 528.6h0M687.5 486.9h0M713.3 456.8h0M710.2 533.7h0M734.5 226.1h0M671.2 441.7h0M740.8 415.1h0M750.9 490.7h0M727.6 314.2h0M698.1 460h0M715.5 548.6h0M719.1 542.6h0M722.9 509.5h0M711.4 531.3h0M720.9 520.6h0M711 529.4h0M698.3 364.5h0M762.1 478.4h0M707.1 466.8h0M721.4 518.4h0M729.1 343.1h0M709.5 540.7h0M744.8 353.8h0M719.4 519.5h0M707.3 397.7h0M673.5 450.2h0M726.9 471.7h0M699.8 523.3h0M717.9 547.3h0M717.7 541.8h0M728.2 444.6h0M721 542.6h0M724 527.6h0M695.2 515.5h0M734.9 488.4h0M711.9 533.6h0M732.6 472.6h0M721.5 539.8h0M743.5 510.3h0M706.2 529.8h0M711.9 506h0M719.3 473.2h0M722.4 533.3h0M717.2 548h0M749 449.1h0M713.8 540.2h0M718.2 537.4h0M715 545.5h0M704.3 499.1h0M701.7 400.7h0M724.2 527.6h0M718.8 544.6h0M686.1 485.8h0M720.8 509.7h0M718.5 528h0M713.7 542.3h0M734.8 317.1h0M715 541h0M690.6 449.4h0M752.9 441.7h0M711.5 541.1h0M721.3 524.8h0M703.1 486.4h0M710.2 478.5h0M739.9 438.4h0M711.7 534.9h0M715.8 550.2h0M729.9 495.3h0M711.8 519.5h0M710.9 422.7h0M729.8 451.3h0M720 508.4h0M719.4 536.4h0M717.2 549.4h0M705.8 519.4h0M716.3 546.6h0M715.5 543.3h0M721.4 534h0M689.8 355.7h0M692.2 427.5h0M718.5 540.4h0M735.3 475h0M695.2 444.2h0M716.8 547.3h0M723.8 508.4h0M721.3 532.5h0M717.6 543.1h0M681.2 477.4h0M712.9 516.7h0M722.4 532.5h0M697.9 426.1h0M716.5 550.4h0M700.9 326.3h0M702.4 518.5h0M742.1 503h0M717 548.2h0M720.8 533.5h0M749.8 450h0M718 546.1h0M706.3 528.4h0M733.2 508.1h0M672.3 471.1h0M709.2 402.3h0M719.7 509.2h0M710.2 538.8h0M720.5 504.8h0M697.4 369.1h0M736.9 321h0M739.5 513h0M721.4 475.5h0M728 501.3h0M732.3 452.7h0M707.3 495h0M717.7 550.1h0M718.9 536.4h0M719.4 543.3h0M720.2 494.7h0M716.7 550.2h0M717.9 529.6h0M694.9 451.9h0M714.2 544.3h0M708.8 507.6h0M737.4 414.4h0M710.4 517h0M721.2 511.8h0M764.9 437.1h0M698 427.6h0M714.9 443.5h0M718.2 542.6h0M723.9 514.2h0M702.3 506.1h0M717.4 535.7h0M725.9 531.4h0M714 529.5h0M713.3 543.3h0M712.5 523.3h0M720.3 463.1h0M712.3 475.2h0M713 466.5h0M716.8 542.9h0M702.7 510.9h0M718.6 548.1h0M720.4 470.8h0M720.2 543.8h0M707.9 524.2h0M708.5 519.8h0M706.3 438.8h0M711.6 533.7h0M714.3 514.1h0M723.1 428.9h0M720 535.5h0M717 541.5h0M714.7 535.1h0M712.1 508.2h0M714.2 543h0M703.4 332h0M724.2 494.5h0M732.7 363.4h0M701.3 522.2h0M733.7 425.7h0M734 469h0M703.9 501.2h0M721.5 472.7h0M714.4 547.1h0M695.5 511.6h0M716.9 549.1h0M719.9 494.4h0M718 547.4h0M718 543.5h0M710.7 531.2h0M735.5 503.6h0M695.6 434h0M699.2 475.5h0M737.2 366h0M699.2 371.5h0M738.5 457h0M693.7 496.9h0M723 487.1h0M703.8 520.3h0M730.3 382.6h0M718.7 498.3h0M716.3 549.5h0M718.4 548.6h0M727.1 530.2h0M720.6 482.4h0M724 457h0M732.2 410.9h0M725.9 514.4h0M716.4 550.3h0M702.8 521.5h0M711.5 540.9h0M709.3 539h0M724.9 468.2h0M713.9 543.8h0M702.5 461.5h0M724.8 532h0M736 421.2h0M724.9 520.6h0M722.8 483.4h0M703.4 489h0M714.3 526.9h0M720.5 524.9h0M703.8 501.6h0M739 421h0M705.4 475.5h0M723.2 491.4h0M721.9 482.6h0M705.2 530.8h0M714.7 529.9h0M702.6 439.1h0M684.8 463.5h0M737.8 484.7h0M713.6 517.7h0M696 353.9h0M709.8 437.8h0M711.1 540.9h0M733.7 481.6h0M724.8 485.8h0M718.2 494.1h0M733.5 412.6h0M712.9 474.7h0M718 541.3h0M720.5 457.4h0M708.5 439.8h0M727 527.9h0M730 462.6h0M727.2 524.8h0M720.3 520.5h0M711.3 539.1h0M712 495h0M709.7 501.1h0M734.3 518.7h0M722.5 531.2h0M695.4 477.5h0M701.8 456h0M744.9 428.8h0M705.6 521.9h0M697.5 438.6h0M689.4 293.3h0M744.8 440.5h0M719.9 542.6h0M716 549.6h0M702.9 497.9h0M707.6 538.1h0M716.6 542.7h0M709.8 536.7h0M705.4 517h0M723.9 361.2h0M697.3 366.2h0M728.7 438.4h0M745.1 448.6h0M739.2 237.1h0M719.7 462.1h0M694.2 474h0M749.9 470.9h0M690.8 464.5h0M726.4 485.7h0M736.5 436h0M750.9 488.2h0M702.5 524.4h0M721 537.1h0M709.8 408.2h0M736.7 495.9h0M710.8 522.2h0M711.5 357.3h0M732.9 486.1h0M732.5 508.3h0M736.5 454.9h0M696.5 352.2h0M732.2 527.9h0M725.6 463.4h0M728.5 500.2h0M725.5 511.4h0M719 548.3h0M628.7 504.9h0M627.2 511.3h0M724.5 374.7h0M705.2 430.2h0M732.4 376.5h0M733.6 438.5h0M732.1 410.3h0M730.4 435.6h0M688.1 514h0M703.7 495.3h0M741 473.5h0M715.4 546.8h0M719.1 540.8h0M719.9 541.8h0M716.6 549h0M722 520.3h0M725.7 357h0M724.9 424.5h0M712.1 513.4h0M702.3 395.9h0M723.8 492h0M745.1 373.7h0M723 539.2h0M719.5 468h0M700.9 384.8h0M721.8 511.6h0M703.2 498.6h0M726.7 387.9h0M700 407.2h0M725.6 473.4h0M714.2 535.7h0M761.2 436.9h0M697.7 515.3h0M711.9 529.1h0" stroke="#000" stroke-opacity="0.6" stroke-width="5.4" stroke-linecap="round" fill="none"/>
<path d="M732.5 453.8h0M717.4 548.5h0M697.5 430.4h0M694.2 493.9h0M716.5 548.3h0M711.6 524.2h0M722.4 509.3h0M708.6 535h0M709.8 536.8h0M737.3 509.8h0M731.6 521.7h0M729.3 530.7h0M756.3 454.8h0M719.9 456.2h0M702.5 473.8h0M715 483.4h0M722.7 539.3h0M695.6 269.9h0M712.5 520.7h0M722.7 459.2h0M728 431h0M722.2 525.3h0M717.1 539.4h0M702.7 529.4h0M733.7 512.1h0M694.4 346.6h0M734 464.5h0M735 470.4h0M721.6 544.9h0M713.6 524.7h0M739.4 478.8h0M737.5 444.1h0M779.2 504.9h0M726.2 518.9h0M733.7 331.8h0M705.8 401.2h0M729.7 401.3h0M720 528.1h0M747.5 465.9h0M727.7 511.2h0M730.1 455.3h0M734.3 510.6h0M706 536.6h0M723.4 533.8h0M699.7 484.9h0M702.2 525h0M701.9 447.9h0M710.8 411.8h0M720.6 535.4h0M705 464.6h0M718.5 536.1h0M718.2 525.2h0M715.7 546.8h0M716.3 550.1h0M712.1 499.1h0M722.2 527.3h0M731.6 333.6h0M705.4 479.2h0M704.1 495.6h0M745.5 498.9h0M689.5 275.1h0M665.4 466.6h0M687.5 500.9h0M740.3 486.9h0M718.2 526.1h0M720.3 445.2h0M713.7 530h0M720.1 534.2h0M688.6 502.7h0M732.1 500.1h0M712.3 541.3h0M710.7 523.2h0M741.8 450.7h0M736.1 402.2h0M718.9 539.3h0M712.5 542.5h0M736.7 371.6h0M719.2 457.1h0M702.4 479h0M726.7 324.2h0M720.2 541.3h0M725.7 520.8h0M739.5 472.2h0M713.6 537.4h0M728.9 343.3h0M732.9 519.3h0M741.7 383.1h0M697 478h0M715.9 550.1h0M712.8 405.6h0M732 474.2h0M732.9 477h0M720.6 543h0M721.7 498h0M699.4 399.1h0M729.4 521.5h0M717.5 545.8h0M724.2 523.4h0M716.5 531.5h0M728.5 476.6h0M711.6 360.4h0M692.3 432.4h0M715.2 546.3h0M713.8 530.9h0M721.4 464.1h0M728.8 373.3h0M712.6 526.3h0M714.2 548.1h0M712.1 535.6h0M706.5 518.4h0M710.8 488.1h0M708.3 537.2h0M712.5 472.9h0M712.2 532h0M742.1 450.5h0M723.1 534.9h0M724.1 529h0M700.2 508.2h0M715 548.4h0M795.3 505.8h0M718.3 543.6h0M721.1 535.6h0M734.6 510.1h0M719.2 471.4h0M721.1 507h0M715.3 548.3h0M726.5 497.8h0M715.3 544.4h0M721.5 492.7h0M717.6 548.8h0M710.2 488.5h0M710.9 521.6h0M724.2 536.4h0M710.4 521.5h0M709.6 540.1h0M721.2 432h0M730 521.2h0M743.4 501.7h0M736.5 435.6h0M704.2 518.3h0M741.3 502.6h0M719 514.4h0M732.5 344.3h0M837.7 510.4h0M724 398.9h0M718.4 520.4h0M731.7 521.1h0M716.7 516.8h0M678.1 433.2h0M709.8 502.4h0M696.5 475.9h0M728.3 420.4h0M720.1 543h0M727.8 496.9h0M730.3 429h0M730.5 518.3h0M718.1 503.4h0M713.5 504h0M722.4 520.4h0M719.2 530.5h0M705.4 430.4h0M672.1 464.6h0M702.3 406.2h0M689.7 389.2h0M694.7 463.3h0M722.2 505.7h0M734.4 446h0M717 548.4h0M724.9 423.2h0M624.3 503.1h0M714.8 516.4h0M745 507h0M720.7 509.3h0M707.5 527.3h0M725.4 531.8h0M712.9 530.1h0M737.9 469.7h0M723.1 301.8h0M714.7 536.6h0M747.2 509.1h0M727.2 344.5h0M712.3 515.6h0M726.8 537.5h0M713.1 543.8h0M698 421.4h0M731.1 502h0M706.7 493.2h0M718.4 524.6h0M714.3 546.4h0M738.9 433.5h0M729.4 519.9h0M742.4 385.5h0M674.9 446.9h0M708.8 539.9h0M723.6 533.5h0M735.7 379h0M606.8 514h0M699 525h0M725.9 441.3h0M715.3 546.6h0M747.4 473.3h0M699.6 392.6h0M720.7 469.6h0M716.2 542.7h0M712 537.4h0M708.6 525.9h0M712.2 402.7h0M727.5 474.3h0M725.3 514.7h0M727.2 495.8h0M693.3 482.3h0M707 285.1h0M728.8 500.3h0M716.2 550.3h0M697 485.5h0M720.3 541.7h0M708.9 512.7h0M725.6 339.3h0M695 459.9h0M713.7 545.3h0M740.5 390.1h0M713.8 531.2h0M724.8 537.2h0M704.4 512.3h0M732.8 479.4h0M714.7 530.9h0M727.1 480.2h0M684.1 468.2h0M719.2 545.5h0M723.4 507.4h0M705.8 479.2h0M709.3 531.9h0M706.5 357.6h0M726 511.1h0M576.1 513.1h0M731.3 492.2h0M716 549.5h0M737.6 425.2h0M746.3 503.7h0M741.3 411.2h0M704 468.4h0M721.1 499.6h0M692.4 373h0M713.3 488.6h0M716.4 539.7h0M720 534.6h0M749.6 480.7h0M719.9 545.7h0M723.6 507h0M721.7 503.2h0M719.6 506h0M713 517.9h0M708.7 537.9h0M718.6 518.5h0M712.1 527.2h0M698.7 362.8h0M716 534.5h0M740.9 448h0M718.8 540.9h0M687 488.2h0M722.2 519h0M695.2 318.8h0M729.4 504.6h0M736.5 480.8h0M748.8 449.7h0M743.1 464.8h0M702.1 507.2h0M707.1 467h0M720.5 541.1h0M717.5 546.4h0M713.8 524.6h0M695.8 484.3h0M709.6 516.9h0M717.9 549h0M692.5 475.1h0M736.6 333.6h0M718.4 543.6h0M728.4 524.9h0M689.1 482.5h0M707.1 480.1h0M740.9 437.1h0M725 501.2h0M720.3 535.5h0M731.3 294.8h0M691.5 337.3h0M705.4 494h0M734 408.8h0M724 528.5h0M688.7 446.1h0M723.4 372.9h0M797.1 434.2h0M733.8 508.9h0M695.1 457.1h0M738.4 478h0M688.5 456h0M717.3 532.5h0M723.8 373.2h0M689.5 475.5h0M719.9 541.4h0M697.6 376.4h0M740.5 454.8h0M729.6 532.7h0M720.8 542.5h0M699.4 454.6h0M722.5 534.2h0M723.2 511.9h0M719.8 501.6h0M664.2 488.9h0M711.9 540h0M712.4 500.4h0M715.7 549.1h0M720.8 538.3h0M706.3 529.8h0M740.8 429.9h0M721.5 474.2h0M735.8 492.9h0M714.7 520.5h0M725.3 443.2h0M694.3 443.1h0M740.6 386.8h0M692.6 355.3h0M713.1 513.8h0M725.6 525.7h0M715.3 548.2h0M714.7 550.1h0M728.5 456h0M719.8 540.1h0M725.5 526.7h0M705.2 357.7h0M727.1 394.1h0M725.6 511.5h0M748.5 469.5h0M708 522.6h0M725.3 388h0M712.3 538.2h0M740.2 362h0M696.5 456.5h0M711.4 498.5h0M708.1 529h0M724.8 492.2h0M738.3 321.4h0M700.6 348.8h0M731.8 400.3h0M731.3 347.1h0M716.7 549.9h0M703.5 465.5h0M739 324.6h0M709.2 455.8h0M713.2 544.5h0M733.4 323.5h0M705.1 369.5h0M718.1 545h0M735.5 362.1h0M690.2 439.4h0M733.7 512.1h0M712.9 512.6h0M710.2 506.4h0M710.7 484.3h0M768.9 470.1h0M714.1 540.8h0M708.5 468h0M711.1 535.8h0M746.8 445.1h0M734.7 387h0M727.4 495h0M715 545.8h0M713.7 544.3h0M718.5 535.3h0M738.6 435.1h0M710.8 534.9h0M696.6 503.4h0M720.6 546.6h0M706.4 503.9h0M713.7 534.7h0M695.3 437.5h0M721.3 489.3h0M702.7 529.3h0M724.3 489.3h0M708.2 391h0M689.5 508.6h0M713.7 539h0M729.1 482.2h0M724.5 477h0M689.5 436.4h0M730.8 468.8h0M690.4 464.7h0M715.5 536.5h0M716.6 549.8h0M731.2 501.2h0M714.1 543.5h0M776.9 455h0M739 414.7h0M720.1 528h0M716.6 549.9h0M724.6 506.3h0M744.8 482.6h0M708.6 510.1h0M698.4 385.1h0M736 491.7h0M702.7 502.8h0M730 507.1h0M726.1 504.5h0M711 540.8h0M725.6 539.1h0M694.1 482.8h0M710.4 497.2h0M736.2 525.7h0M737.1 449.7h0M738.3 470.3h0M728.5 523.1h0M733.4 472.7h0M715.4 549.3h0M710.4 529h0M738.2 404.5h0M708.8 525.1h0M726.3 507.9h0M716.2 547.3h0M717.2 530.7h0M700 512.8h0M725 322.8h0M727.5 460.5h0M709.9 507.3h0M728.2 491.7h0M730.8 385.1h0M722.2 533.9h0M698.5 489.3h0M718.5 541.1h0M719 544.8h0M726 471.2h0M724.7 462.3h0M710.8 310h0M852.3 491.2h0M715.4 547.2h0M758.9 480h0M725.8 508.3h0M737.5 422h0M736.9 398.3h0M714.1 547.8h0M714.1 536.8h0M713.8 462.8h0M697.1 446.4h0M732.2 416.2h0M722 514.9h0M713.2 534.2h0M717.1 549.2h0M727.4 331.8h0M743.1 367.3h0M719.9 534.7h0M727.6 482h0M730 516.1h0M727.4 426h0M695.5 507.5h0M735.9 483.8h0M733.2 503.5h0M686.8 516.2h0M782.2 463.8h0M719.1 534h0M714.2 544.4h0M699.9 515.7h0M716.8 547.2h0M740 508.1h0M716.9 549.1h0M708.8 531.9h0M706.4 523.8h0M730.9 501.6h0M722.3 521h0M722 506.1h0M731.7 505.6h0M702.3 486.7h0M739.6 355.6h0M711.9 512.1h0M718.4 544.5h0M705 526.7h0M720.8 543.1h0M710.6 529.8h0M715.3 516.4h0M725.3 497.2h0M701.5 361.4h0M724.2 529.6h0M708.4 511.1h0M710.1 468.9h0M681.4 480.2h0M741.7 477h0M713.5 508.3h0M722 535.1h0M704.1 362.5h0M724.4 501.5h0M720.2 535.5h0M734.8 379.7h0M708.9 518h0M738.3 443.1h0M695.9 317.3h0M713 508.2h0M730.2 438.3h0M749 495.1h0M723.1 471.9h0M718.3 537.3h0M729.7 283.5h0M695.3 504h0M714.2 528.9h0M731.6 419.7h0M747.7 512.5h0M715.6 550.1h0M735.5 454.3h0M735.5 494.4h0M719.8 545h0M731.8 518.8h0M721.1 538.5h0M722.2 542.1h0M716.5 548.2h0M705.3 516.9h0M720.9 533.7h0M694.2 523.7h0M699 481.7h0M718.4 541.5h0M716.8 542.2h0M693.4 328.4h0M701.7 515.8h0M740.2 307.4h0M706.4 519.7h0M723.5 538.9h0M718.4 543.7h0M731.5 452h0M723.5 499.6h0M697.5 490.3h0M712.7 542.6h0M720.7 479.1h0M718.6 546.6h0M717.9 543.5h0M723.1 493.6h0M716.3 550.4h0M724 541.9h0M714.5 533.9h0M709.2 468.8h0M674.6 479.7h0M732.9 515.3h0M729.8 517.4h0M728.8 470.4h0M711.8 493.5h0M732.9 513.7h0M733.4 451.8h0M711.1 467.6h0M709.1 518.1h0M710.8 432.8h0M705.2 450.9h0M714.2 545.6h0M710.7 539.2h0M717.8 547.8h0M709.7 540.4h0M717.2 548.7h0M723.8 495.4h0M706.5 496.3h0M721 539.3h0M729.8 402.6h0M731.6 408.8h0M744.4 494.5h0M710.6 453.4h0M726.9 528.4h0M733 506.4h0M720.8 521.7h0M713.9 531.7h0M716.9 550.3h0M735.4 485h0M693.2 294h0M706.4 492.1h0M721.6 429.4h0M728.9 475.1h0M705.6 530.1h0M748.5 438.3h0M731.1 435.6h0M743.4 366.2h0M705.5 488.5h0M713.7 549.4h0M721 516.3h0M717.3 544.7h0M706.2 504.6h0M733.1 495.6h0M708.4 490.7h0M720.8 480.3h0M732.5 387.1h0M722.6 539.3h0M716.9 544.3h0M719.8 543h0M716.6 549.1h0M723.8 537.3h0M704.8 445.9h0M736.1 471.5h0M720.9 429.1h0M708.3 476.7h0M733.8 469.1h0M717.4 545.9h0M739.5 432.1h0M697.2 257.6h0M718.2 547.1h0M716.4 548.8h0M744 429.8h0M722.9 429.4h0M715.5 550.3h0M723.2 530.9h0M707 473.4h0M720.1 524.2h0M731.7 520.4h0M723.6 482.6h0M728.9 305.1h0M709 463.6h0M744.3 380.9h0M741.3 493.8h0M708.6 464.8h0M690.8 488.3h0M699.6 397.3h0M700.2 471.8h0M714.2 547.7h0M725.6 505.3h0M705.6 348.7h0M732.3 516.3h0M724.1 488.6h0M688.2 373.4h0M721.2 526.4h0M713.8 533.5h0M728.4 452h0M736.5 490.3h0M737.3 329.2h0M717.8 543.5h0M704.5 525.4h0M621.4 486.6h0M705.3 521.1h0M702.1 476.2h0M708 442.1h0M717.4 548.4h0M729.1 488.3h0M724.4 471.6h0M710.9 535.9h0M738.3 501.7h0M713.6 535.2h0M729.6 517.3h0M738.4 507.5h0M690.6 372.5h0M714.1 518.9h0M715 544.2h0M696.9 449h0M723.9 458.5h0M697.1 430.8h0M731.5 511.7h0M721.2 507.9h0M711.1 517.8h0M705.7 480.6h0M725.1 446.5h0M678.2 474.1h0M724.3 464.1h0M706.1 504.8h0M706.3 513.8h0M735.9 425.3h0M712.7 541.1h0M750.3 438.3h0M696.4 453.7h0M735 381.5h0M695.6 487.1h0M719.6 537.8h0M717.8 548.4h0M710.1 534.4h0M708.1 483.6h0M721.5 541.8h0M719.7 427.7h0M778 469.9h0M710 513.8h0M734.1 280.1h0M736.5 375.9h0M715.6 549.9h0M732.3 455.8h0M718.5 544.2h0M709.9 473.3h0M717.5 529.6h0M718.1 547.2h0M711.3 479.9h0M696.1 481.5h0M719.8 518h0M695.5 517.6h0M712.4 532.4h0M711.9 514.8h0M723 539.8h0M720.2 501.2h0M728.1 529.7h0M729.7 515.1h0M698.8 497.4h0M718 528h0M709.6 476.1h0M715.3 547.6h0M716.9 550h0M709.8 502.8h0M722.9 527.4h0M702.1 525.1h0M710.3 536.2h0M721 541.8h0M716.6 547.9h0M714.4 544.8h0M725.9 503.9h0M716.5 550.4h0M697.2 373.8h0M733.9 420.5h0M739.8 511.7h0M731.3 512.8h0M726.1 464.6h0M702 467.3h0M711.6 491h0M734.9 509.6h0M711.3 481.3h0M721.3 530.7h0M680.1 458.1h0M706.2 504.1h0M728.4 519.5h0M699.8 501.6h0M720.7 509.8h0M700.7 482.4h0M704 343.9h0M739.2 472.1h0M736.9 465.2h0M735.7 368.4h0M720.1 541.1h0M696 510.7h0M704 452.8h0M693.3 343h0M724.6 487.2h0M713.9 532.8h0M724.7 485.1h0M718.8 545.4h0M728.1 477.4h0M730.9 507.8h0M739 515.3h0M704.4 299.1h0M725.8 361.8h0M727.9 359.6h0M725.5 534.4h0M716.7 547.5h0M705.1 502.6h0M729.2 513.9h0M728.2 504.7h0M726.7 443.3h0M717.4 542.2h0M702.5 493h0M717.6 543.8h0M728.9 539.3h0M719.5 537.3h0M715.5 549.6h0M723 541.8h0M728.8 506.4h0M709.3 323.3h0M723.2 538.2h0M726.5 488.1h0M701.7 467h0M747.1 449h0M701.4 477h0M734.2 414.2h0M745.6 464.9h0M726 509.3h0M713.8 541.7h0M704.8 528.2h0M713.5 472.6h0M725.9 521.8h0M719.1 509h0M741.6 296.5h0M722.9 420.5h0M738.7 424h0M702.4 513.7h0M719.1 546.7h0M732.7 348h0M703.8 504.2h0M696 485.5h0M712.1 536.3h0M714.2 546.1h0M721.9 335.9h0M720.3 542.3h0M705.2 330h0M706.1 487.6h0M692.6 443h0M723.2 507.5h0M723.4 533.1h0M720.9 542.4h0M717.9 548.6h0M707.5 479.8h0M721.4 533.6h0M732.5 494h0M704.3 480.6h0M695 341h0M689.3 378.9h0M716.6 549.9h0M723 476.8h0M701.5 457.1h0M721.9 508h0M715.1 526.5h0M709.8 408.1h0M720.6 529.1h0M712 540.6h0M707.1 455.4h0M715.1 548.6h0M736.7 507h0M718.4 495.3h0M702 371.3h0M764.8 501h0M736 377.7h0M697.7 511.7h0M727.2 489.2h0M720.6 544.4h0M683.1 470.5h0M722.9 529.5h0M700 391.3h0M714.7 484.5h0M719.8 535h0M702 403.8h0M722.5 455h0M681.4 531.2h0M709.4 506.9h0M709.8 538.3h0M722.4 531.5h0M710.3 536.4h0M715.3 549.4h0M721.9 485.2h0M717.2 550.5h0M707 454.9h0M725.2 498.2h0M732.3 354.1h0M718.1 506.1h0M711.8 532.2h0M716.5 538.1h0M710.8 471h0M742.4 410.1h0M726.2 519.4h0M724 510.4h0M716.7 549.7h0M727.6 539.3h0M710.7 533.6h0M698.9 459.9h0M710 394.3h0M700.3 374.9h0M701.4 513.3h0M735.7 486.6h0M709.9 510.4h0M716.8 544.6h0M707.4 521.1h0M678.7 467.8h0M731.5 374.2h0M724.1 419.3h0M718.2 547.2h0M717.2 549.1h0M720.6 539.9h0M716.7 548.6h0M714 545.6h0M703.8 311.8h0M707.9 526.8h0M706.8 528.1h0M719.2 546.2h0M707.6 510h0M708.1 494.5h0M714.6 544.4h0M737.9 367.4h0M736.9 501.9h0M713.5 540.3h0M728.6 468.9h0M689 509.5h0M692.3 360.6h0M803.4 506.2h0M715.7 543.6h0M713.2 534.9h0M721.3 502h0M708.7 453h0M710.3 538.5h0M700.8 417.2h0M683.3 443.5h0M732.4 266.8h0M719.4 541.1h0M706.8 516.7h0M716.2 550.6h0M710.9 531.6h0M707.4 448.7h0M723.9 496.6h0M699.3 406.4h0M714.1 535.9h0M717.5 504.1h0M697.9 510.4h0M710.8 541.1h0M707.1 505.5h0M724.2 357.6h0M728.6 457.6h0M709.5 432.8h0M709.8 518.5h0M722.5 540.2h0M707.5 449.3h0M713.9 542h0M714.6 547.7h0M715.6 548.4h0M711.7 540.8h0M711 491.6h0M706.3 464h0M702.7 518.5h0M697.5 435.1h0M718.4 541h0M687.5 459.7h0M705.9 251.1h0M741.3 480.5h0M678.4 517.9h0M719.8 517.2h0M701.9 510.6h0M720.4 530.9h0M708.9 500.5h0M697.9 481.8h0M707.5 486h0M743 338.4h0M749.6 487.9h0M742.1 374.7h0M760.4 471h0M714.3 532.9h0M704.9 532h0M712.2 387.6h0M716.5 531.2h0M724.2 535.7h0M726.3 467.8h0M687.5 483.1h0M701.6 492.9h0M702.9 404.2h0M667.9 463.8h0M705.5 482.8h0M731 413.1h0M706 496.6h0M732.3 509.7h0M705.3 524.2h0M681.6 461.2h0M687.2 425.4h0M704.6 461.2h0M709.9 503.8h0M719.4 496.5h0M687.9 466h0M708.7 535.9h0M732.4 454.3h0M728.1 529.1h0M712 474h0M732.9 520.3h0M730.2 410.6h0M723.5 491.8h0M713.7 512.1h0M740.7 432.1h0M730.9 478.5h0M704.5 375.7h0M700.1 480.4h0M724.4 502.4h0M735.5 488.3h0M687.6 460h0M708 472.8h0M656.2 489.7h0M705.8 496.9h0M723.8 528.7h0M707.3 468.1h0M714.7 518.9h0M693.2 513.4h0M716.1 547.7h0M710.2 477.7h0M712.4 525h0M697.4 419.8h0M714.7 534.4h0M720.4 520.9h0M703 527.4h0M728.3 519.2h0M725.7 435.3h0M799.7 493.5h0M716.2 549h0M705.5 449.3h0M714.7 524.4h0M705.4 505.7h0M713.8 542h0M724.7 472h0M709.6 519.9h0M726.6 516.2h0M725.2 343.9h0M694.3 455.8h0M714.1 532.1h0M719.1 500h0M709.4 414.8h0M729 417.6h0M744.9 455.9h0M724.8 527.2h0M715.7 548.4h0M713.2 413.8h0M719.1 527.3h0M684 462.4h0M714 507.1h0M741 362.6h0M727.3 471.9h0M715.3 535.2h0M719.6 539.4h0M721.6 459.2h0M734.8 358.4h0M708.2 358.5h0M723 472.9h0M727.3 520.2h0M700.4 512.2h0M704.3 391.8h0M704.4 496.3h0M719.5 492.9h0M690.9 373.2h0M748.2 473h0M716.9 548.9h0M724 533.7h0M715 542.2h0M721.3 539.7h0M704.5 524.5h0M690.5 440.3h0M710.3 526h0M699.4 372.9h0M734.7 504.2h0M708.7 321.3h0M704.1 509.6h0M706.8 276.6h0M719 486.8h0M684.4 484.9h0M702.6 510.1h0M714.3 544.4h0M723.8 516.6h0M726.9 529.2h0M735.4 496.4h0M702 463.8h0M670.8 451.1h0M703.5 485.5h0M703.1 352h0M734.3 510.9h0M719.9 477.1h0M721.7 399.1h0M705.1 461.2h0M713.9 537.1h0M641.9 468.3h0M739.8 480.2h0M726.7 525.2h0M706.3 502.3h0M725.4 515h0M721.9 496.1h0M695.2 347.6h0M716.9 518.1h0M702.1 518.7h0M726.4 477.1h0M714.4 541.9h0M751.7 451.7h0M720.9 539.1h0M735.4 515.4h0M728.4 528h0M725 480.2h0M720.9 505.6h0M717.4 536.2h0M716 539.8h0M719.6 519.5h0M688.7 405.4h0M712.7 460.5h0M717.8 548.1h0M673.3 472.5h0M715.5 545.2h0M722.7 466.9h0M727.7 527.9h0M749.8 501h0M741.7 420.2h0M700.1 504.6h0M692.8 428.2h0M712.2 535h0M726.2 493.6h0M715.1 546.2h0M719.5 466.7h0M691.6 442.5h0M728.3 508.6h0M655.4 449.6h0M710.5 509.6h0M712.4 506.4h0M707.9 365.1h0M720.9 520.5h0M718.1 532.5h0M712.6 417.8h0M688.6 472.6h0M716.6 546.8h0M710.3 490.6h0M697.2 482.3h0M738.3 460.5h0M712.4 519.3h0M750.9 459.1h0M719 526.8h0M698.2 442.4h0M721.5 539.1h0M718.8 538.3h0M722.7 393.5h0M704.6 464.3h0M717.1 539h0M688.4 427.9h0M726.8 512.2h0M715.9 549.1h0M737.3 391.1h0M711 453.3h0M705.4 470.8h0M694 454.2h0M716.1 550.6h0M723.5 506.5h0M714.9 530.2h0M739.2 429h0M731.4 363.3h0M716.9 548.3h0M703.9 297.4h0M698 467.1h0M689.5 462.2h0M704 378.4h0M717.3 532.1h0M737.6 492.6h0M644.8 477.5h0M725.2 404h0M705.5 504.1h0M748.6 432.6h0M721.8 539.7h0M747.8 479.9h0M734.7 517.2h0M708.8 424.7h0M727.7 383.1h0M719 503.7h0M731.9 499.1h0M720 535.1h0M691.4 364.1h0M712.1 537.5h0M714.6 538.5h0M708.9 462.1h0M727.1 529.7h0M708.2 487.4h0M738 427.6h0M727.2 514.2h0M705.1 373.6h0M710.6 525.6h0M713.4 490.4h0M726 517.6h0M740 423.7h0M739 311.4h0M696.5 480.7h0M734 484.7h0M714.5 544.3h0M709.1 524.1h0M768.5 441.3h0M723.2 513.4h0M720.3 390.4h0M720.6 532.3h0M721.6 534.6h0M709.7 459.6h0M714.5 519.6h0M734.8 490.2h0M680.1 527.9h0M701.7 342.6h0M732.5 194.1h0M722 418.4h0M718.6 537.9h0M717.9 548.6h0M705.2 368.2h0M704.8 510h0M742 464.3h0M717.2 548.3h0M722.7 510.3h0M711.9 486.8h0M723.3 503.7h0M721 534.6h0M745.6 320.7h0M710.8 515.7h0M724.7 404.8h0M693.6 456.6h0M705.7 486h0M705.7 502.6h0M691 350h0M697 466.7h0M705 513.5h0M729.2 482.3h0M722.5 500h0M704.3 518.6h0M722.8 481.5h0M727.7 494.4h0M712 523.6h0M700.7 513.2h0M712.4 514.1h0M706.1 360.1h0M718.5 538.8h0M708.5 369.8h0M715.2 548.8h0M695.3 511.3h0M721.7 513.8h0M715.3 545.5h0M730.3 540.2h0M688.6 513.2h0M749 441.1h0M724.5 456.2h0M685.8 433.6h0M729.7 516.3h0M725.9 299.8h0M710.9 393.4h0M710.4 536.2h0M710.6 534h0M722.9 506.5h0M734.6 491.1h0M741.8 306.7h0M706.8 507h0M709.6 476.3h0M727 498.7h0M745.6 415.7h0M731.5 507h0M718.3 541.2h0M707.1 420.9h0M716.3 550.4h0M698.3 447.6h0M716.5 548.1h0M733.1 418.4h0M719.4 546.3h0M738.4 414.2h0M729.1 458.5h0M697.7 409.3h0M730.4 254.7h0M709 468.2h0M728.1 525.6h0M718.4 519.3h0M719.6 487.5h0M699.9 442.6h0M719.1 536.4h0M702.8 335.1h0M694.4 407.1h0M750.1 469.5h0M716 550.2h0M727.6 483.1h0M738.8 451.8h0M713.2 528.4h0M709.9 392.6h0M695.9 413.8h0M748.3 444.2h0M706.5 503.5h0M718.5 507.5h0M730 501.7h0M729.2 514h0M730.9 468.8h0M720.8 525.2h0M720.8 535.7h0M695.3 438.9h0M720 518.2h0M718.3 528.7h0M738.5 425.8h0M732.2 322.5h0M726.6 477.1h0M716.4 549.8h0M719.2 539.5h0M704.2 532.1h0M724 464.6h0M741.4 367.4h0M729.8 501.7h0M717.2 541.4h0M710.5 493.1h0M726 426.7h0M721 536.8h0M725.5 537.6h0M725.2 298.5h0M687.6 428.4h0M721.7 499.3h0M720.7 508.6h0M767 434.2h0M722.1 542h0M698.7 430.2h0M710.9 450.8h0M702.2 523.8h0M725.2 519.8h0M726.2 407.2h0M725 518h0M720.5 430h0M746.2 433.8h0M722.3 542.9h0M727 501.8h0M713.1 544.5h0M733.7 456h0M716.8 528.6h0M694.6 487.5h0M730.6 423.6h0M715.6 549.5h0M705.9 488.1h0M705.5 468.9h0M695.3 424.5h0M712.2 507.6h0M711.9 497.9h0M720.1 525.8h0M715.6 532.7h0M717.3 540.5h0M747.4 463.5h0M715.9 548.9h0M708.3 500.8h0M684.8 481.7h0M719.4 500.4h0M706.2 444.2h0M703.2 476.6h0M722.6 524.5h0M718 546.6h0M726.6 448.8h0M720.9 529.3h0M701.6 396.5h0M718.9 546.1h0" stroke="#000" stroke-opacity="0.6" stroke-width="5.4" stroke-linecap="round" fill="none"/>
<path d="M682.5 375.5h0M686.9 340.4h0M677.7 371.7h0M678.2 414.3h0M686.9 411.9h0M682.7 380.2h0M687.1 328.8h0M686.7 427.1h0M661.6 413h0M686.6 357.1h0M682.2 421.1h0M668.1 373.3h0M648.3 401.7h0M684.9 404.3h0M650.4 394.1h0M678.5 418.1h0M634 238.9h0M655 296.5h0M611.8 390.6h0M629.3 428.1h0M677.1 390.1h0M675.8 408.4h0M674.6 379h0M678.4 386.5h0M685.4 375.2h0M652.1 396.3h0M677 408.6h0M672.7 408.5h0M682.3 424.2h0M678 425.6h0M682.4 410.6h0M682 408.4h0M666.7 370.8h0M666.2 336h0M654 362.8h0M658 421.4h0M683.2 367.3h0M681.5 384.4h0M686.3 404.8h0M656.9 414.6h0M680.6 428.4h0M671.9 423.5h0M685.3 396.6h0M676.4 408.1h0M678.1 397.1h0M681 336.7h0M645.1 427.2h0M654.2 401.7h0M685.3 383.7h0M687.1 405.3h0M656.6 325.1h0M679.9 331.3h0M677.6 423.3h0M678.5 341.6h0M674.1 375.5h0M685.5 389.7h0M680.8 408.1h0M681.2 393.6h0M650.4 336.3h0M678.7 386.8h0M673.1 366.6h0M685.8 424h0M663.4 360.3h0M675.5 360h0M663.2 304.3h0M658.8 377.3h0" stroke="#4d9a58" stroke-opacity="0.6" stroke-width="5.4" stroke-linecap="round" fill="none"/>
<path d="M680.6 413.5h0M681.5 360.9h0M686.7 311.5h0M669.3 398.7h0M658 375.9h0M662.9 406.1h0M677 402.3h0M686.9 413.4h0M685.8 417.9h0M685.9 376.7h0M672.9 411.3h0M661.3 383.3h0M686.9 420.2h0M676.8 414.3h0M684.5 425.9h0M620.7 404.4h0M647.1 274.6h0M630.2 367.8h0M613.2 404.4h0M645.5 418.2h0M671 424.2h0M671.5 289.6h0M680.2 428.1h0M666.3 403.1h0M681.8 408.9h0M681.9 422.3h0M663.6 335.2h0M682.6 413.6h0M668.2 413.6h0M685.6 416.8h0M682 399.1h0M686.9 304.9h0M685.9 397h0M664.8 357.6h0M683.9 402.6h0M678.2 412.3h0M685.9 349.9h0M682.1 421.4h0M662.2 377.1h0M673.4 407h0M661.2 357.9h0M677.5 361.3h0M660.7 422.1h0M671.8 397.8h0M683 387.3h0M682.9 399.2h0M672.8 381.9h0M683.4 415.7h0M676.6 404.8h0M675.2 413.4h0M683.8 376.2h0M682 392.1h0M684.9 359.7h0M680.9 407.6h0M657.9 340.7h0M685.6 380.6h0M672.5 427.5h0M672.6 362.4h0M660.1 287.8h0M664.8 341.1h0M670.8 388.5h0M680.9 404.9h0M674 408.9h0M681.6 424.9h0M675.5 355.5h0M682.2 304.8h0" stroke="#4d9a58" stroke-opacity="0.6" stroke-width="5.4" stroke-linecap="round" fill="none"/>
<path d="M748.8 411.8h0M747.6 414.7h0M752.2 388.5h0M759.5 356.6h0M747.6 384.6h0M750 381.7h0M772.3 354.2h0M808.3 403.4h0M771.9 373.8h0M746.7 422.5h0M746.3 424.6h0M751.1 392.9h0M750.7 368.3h0M746.1 375.2h0M749.2 409.3h0M747.1 408.1h0M748.1 424h0M746.9 381.6h0M750.6 400.1h0M767.4 384h0M747 296.5h0M746 411.7h0M784.2 63.4h0M766.7 183.2h0M745.6 212.4h0M771.4 238h0M791.8 335.8h0M785.1 358.7h0M764.6 305.8h0M781.9 380.4h0M753.7 419.7h0M748 362.8h0M746.6 305.1h0M751.8 428.9h0M756.5 269.1h0M785.4 341h0M756.3 394.2h0M749.2 401.2h0M769.8 397h0M753.3 399.6h0M750.9 427.2h0M776.7 308.6h0M761.4 425.3h0M782 319.5h0M762 395h0M749.9 321.8h0M758 355.7h0M776.5 399.9h0M754.8 416.5h0M759.8 369.8h0M752.2 293h0M764 287.4h0M750.2 351.7h0M759.1 416.5h0M762.6 280.5h0M748.3 327.5h0M747.4 416.7h0M760.2 421.8h0M752.1 394.2h0M749.5 344.3h0M762 403.4h0M748.7 402h0M762.8 367.5h0M769.6 297.2h0M768.6 348.8h0M775.7 285.3h0M747.9 288.3h0M752.6 330.2h0M755.4 361.5h0M760.1 313.3h0M765.1 415.5h0M754.1 339.1h0M749.1 409.1h0M748.5 413.5h0M749.7 391.9h0M759.5 247.6h0M745.7 388h0M765.7 426.2h0M750.3 396.8h0M765.4 386.8h0M766.9 417.1h0M755.1 429h0M758.7 417.3h0M770.2 385.1h0M780.2 358.7h0M764.3 387.3h0M764.2 402.8h0M761.8 383.5h0M751.6 428h0M751.2 310.7h0M754.9 402.1h0M757.1 357.1h0M753.7 401.3h0M748.7 370.4h0M749 359.6h0M761 427.9h0M764.5 333.4h0M780.8 391.2h0M752 401.7h0M773.6 336.9h0M772.9 417.1h0M748.4 397.8h0M763.2 423.5h0M775.1 344.4h0M750.5 409.8h0M777.1 417.8h0M780.3 355.8h0M750.5 425.6h0M755.5 424.4h0M757.7 417.8h0M751.4 376.8h0M751.5 336.2h0M766.7 405.3h0M746.3 372.5h0M747.1 325.3h0M751 422.1h0M752.6 359h0M758.8 398.7h0M771 424.8h0M768.8 409.4h0M769.1 295.6h0M756.3 408.2h0M756.9 391.2h0M757 302.2h0M757.2 359.3h0M746.6 421.1h0M747 258.1h0M745.7 379.7h0M758.1 380.4h0M751 392.6h0M752.4 406.3h0M752.6 408.2h0M781.4 393.3h0M763.3 402.3h0M746.9 411.6h0M746.4 389.2h0M756.1 403.2h0M771.1 407.7h0M779.3 385.3h0M745.9 311.7h0M760.4 421.4h0M756.7 424.7h0M750.8 424.2h0M762.1 424.9h0" stroke="#da2462" stroke-opacity="0.62" stroke-width="5.4" stroke-linecap="round" fill="none"/>
<path d="M746.8 364.9h0M746 426.9h0M760.1 421h0M748.6 351.4h0M746.9 349.8h0M748.8 362h0M764.7 431h0M750.2 396.6h0M746.5 290.3h0M747 354.6h0M766.6 369.9h0M747.6 393.8h0M747.4 415.7h0M750.3 418.7h0M753.7 423.4h0M746.6 422.8h0M746.7 384h0M746.8 413.9h0M746.5 333.5h0M749.7 352h0M762.8 421.8h0M749.1 375.8h0M767.6 136.6h0M752.9 192.3h0M755.9 238h0M791.5 303.8h0M790.9 354.1h0M790.9 402.5h0M747.9 426.8h0M767.4 249.4h0M757.5 368.1h0M756.8 403.6h0M755.1 417.4h0M751.3 269.7h0M755.7 368.8h0M756.4 337.9h0M754 414.9h0M750.3 357.2h0M746.1 400.2h0M762.4 378.1h0M745.7 427.6h0M759.7 428.3h0M762.5 412h0M780.3 396.2h0M773.1 420.2h0M754.9 426.1h0M765.2 367.8h0M749.7 422.7h0M765.9 415.4h0M755.5 359h0M761.8 424.6h0M749.5 418.2h0M784.7 308.5h0M756.3 284.3h0M763.1 377h0M758.8 388.9h0M779.1 352.4h0M745.7 404.3h0M777.3 309.2h0M770.1 318.3h0M764.6 377.4h0M758.1 428.1h0M745.7 380.7h0M762.9 395.8h0M747.9 395.6h0M765.2 414.9h0M762.5 337.7h0M746.8 311.3h0M754.1 353.1h0M762.4 426.9h0M767.3 409.8h0M748.8 379.5h0M753.7 399.4h0M747.1 380.4h0M762 407.9h0M762 403.7h0M768.4 392.7h0M751.1 367.8h0M781 296.5h0M754.5 393.2h0M757.2 255.1h0M761.8 354.8h0M768.9 392.4h0M758.8 391.9h0M754.2 405.7h0M747.9 399.2h0M747.5 378.7h0M761.2 402.1h0M775.1 370h0M782.8 407.1h0M759.8 348.6h0M746 318h0M759.9 401.7h0M760.5 322.9h0M757.6 381.8h0M758.7 312h0M754.9 351.3h0M749.7 390.4h0M754.2 291.4h0M758 385h0M765.7 375.5h0M757.8 299.3h0M749.4 307.1h0M747.2 285.7h0M769.8 332.2h0M755.1 416.4h0M753.8 353.4h0M757.8 423.2h0M769.2 265.3h0M758.3 357.8h0M760 424.6h0M758.9 374.3h0M753.2 366.7h0M772.4 417.9h0M761 413.7h0M768.5 343.4h0M750.1 407.9h0M758.5 305.4h0M750.4 416.3h0M752.8 419.5h0M749.7 417.3h0M756.2 397.5h0M755.4 417.6h0M765.9 384.9h0M761.2 362.9h0M761.7 426.4h0M750 378.1h0M746.1 257.7h0M757.2 420.9h0M753.4 391.2h0M751.9 403.8h0M756.9 377.9h0M754.8 379.5h0M761.8 341.8h0M755.1 427.1h0M754.8 380h0M748.5 415.2h0M763.6 348.4h0M747.4 424.2h0M749.7 367.3h0M747.4 423.3h0M745.8 389.7h0M746.2 400.7h0" stroke="#da2462" stroke-opacity="0.62" stroke-width="5.4" stroke-linecap="round" fill="none"/>
<path d="M529.9 52.1H903.5V569.1" stroke="#1a1a1a" stroke-width="1.35" fill="none"/>
<path d="M522.4 52.1H529.9M529.9 52.1V562.6H903.5" stroke="#000" stroke-width="1.7" fill="none"/>
<path d="M541 562.6v6.5M570.2 562.6v6.5M599.5 562.6v6.5M628.7 562.6v6.5M657.9 562.6v6.5M687.2 562.6v6.5M716.4 562.6v6.5M745.6 562.6v6.5M774.9 562.6v6.5M804.1 562.6v6.5M833.3 562.6v6.5M862.5 562.6v6.5M891.8 562.6v6.5M529.9 562.6v6.5M529.9 550.6h-7.5M529.9 504.9h-7.5M529.9 459.2h-7.5M529.9 413.5h-7.5M529.9 367.8h-7.5M529.9 322.1h-7.5M529.9 276.4h-7.5M529.9 230.7h-7.5M529.9 185h-7.5M529.9 139.3h-7.5M529.9 93.6h-7.5M529.9 562.6h-7.5" stroke="#000" stroke-width="1.5" fill="none"/>
<text class="d" x="541.6" y="581.6" font-size="11.9" text-anchor="middle">−6</text>
<text class="d" x="570.9" y="581.6" font-size="11.9" text-anchor="middle">−5</text>
<text class="d" x="600.1" y="581.6" font-size="11.9" text-anchor="middle">−4</text>
<text class="d" x="629.3" y="581.6" font-size="11.9" text-anchor="middle">−3</text>
<text class="d" x="658.5" y="581.6" font-size="11.9" text-anchor="middle">−2</text>
<text class="d" x="687.8" y="581.6" font-size="11.9" text-anchor="middle">−1</text>
<text class="d" x="716.4" y="581.6" font-size="11.9" text-anchor="middle">0</text>
<text class="d" x="745.6" y="581.6" font-size="11.9" text-anchor="middle">1</text>
<text class="d" x="774.9" y="581.6" font-size="11.9" text-anchor="middle">2</text>
<text class="d" x="804.1" y="581.6" font-size="11.9" text-anchor="middle">3</text>
<text class="d" x="833.3" y="581.6" font-size="11.9" text-anchor="middle">4</text>
<text class="d" x="862.5" y="581.6" font-size="11.9" text-anchor="middle">5</text>
<text class="d" x="891.8" y="581.6" font-size="11.9" text-anchor="middle">6</text>
<text class="d" x="518.4" y="554.6" font-size="11.9" text-anchor="end">0.0</text>
<text class="d" x="518.4" y="508.9" font-size="11.9" text-anchor="end">0.5</text>
<text class="d" x="518.4" y="463.2" font-size="11.9" text-anchor="end">1.0</text>
<text class="d" x="518.4" y="417.5" font-size="11.9" text-anchor="end">1.5</text>
<text class="d" x="518.4" y="371.8" font-size="11.9" text-anchor="end">2.0</text>
<text class="d" x="518.4" y="326.1" font-size="11.9" text-anchor="end">2.5</text>
<text class="d" x="518.4" y="280.4" font-size="11.9" text-anchor="end">3.0</text>
<text class="d" x="518.4" y="234.7" font-size="11.9" text-anchor="end">3.5</text>
<text class="d" x="518.4" y="189" font-size="11.9" text-anchor="end">4.0</text>
<text class="d" x="518.4" y="143.3" font-size="11.9" text-anchor="end">4.5</text>
<text class="d" x="518.4" y="97.6" font-size="11.9" text-anchor="end">5.0</text>
<text class="t" x="715.5" y="597.3" font-size="13.8" text-anchor="middle">log2(FoldChange)</text>
<text class="t" x="494.5" y="295.5" font-size="13.8" text-anchor="middle" transform="rotate(-90 494.5 295.5)">-log10(pvalue)</text>
<text class="t" x="914.9" y="65.7" font-size="13.8">Regulated</text>
<circle cx="921.5" cy="81.2" r="6.8" fill="#d81b5c"/>
<text class="t" x="933.5" y="87.5" font-size="13.8">Up-regulated</text>
<circle cx="921.5" cy="105" r="6.8" fill="#3f8f45"/>
<text class="t" x="933.5" y="111.3" font-size="13.8">Down-regulated</text>
<g shape-rendering="crispEdges">
<rect x="1128.5" y="106.6" width="65.8" height="24.7" fill="#3838ff"/>
<rect x="1193.7" y="106.6" width="65.8" height="24.7" fill="#4d4dff"/>
<rect x="1258.9" y="106.6" width="65.8" height="24.7" fill="#7373ff"/>
<rect x="1324.2" y="106.6" width="65.8" height="24.7" fill="#e13333"/>
<rect x="1389.4" y="106.6" width="65.8" height="24.7" fill="#ec8080"/>
<rect x="1454.6" y="106.6" width="65.8" height="24.7" fill="#d90000"/>
<rect x="1519.8" y="106.6" width="65.8" height="24.7" fill="#7373ff"/>
<rect x="1585.1" y="106.6" width="65.8" height="24.7" fill="#4747ff"/>
<rect x="1650.3" y="106.6" width="65.8" height="24.7" fill="#5959ff"/>
<rect x="1128.5" y="130.7" width="65.8" height="24.7" fill="#3333ff"/>
<rect x="1193.7" y="130.7" width="65.8" height="24.7" fill="#4d4dff"/>
<rect x="1258.9" y="130.7" width="65.8" height="24.7" fill="#8585ff"/>
<rect x="1324.2" y="130.7" width="65.8" height="24.7" fill="#f4b8b8"/>
<rect x="1389.4" y="130.7" width="65.8" height="24.7" fill="#d90000"/>
<rect x="1454.6" y="130.7" width="65.8" height="24.7" fill="#db0d0d"/>
<rect x="1519.8" y="130.7" width="65.8" height="24.7" fill="#4040ff"/>
<rect x="1585.1" y="130.7" width="65.8" height="24.7" fill="#4d4dff"/>
<rect x="1650.3" y="130.7" width="65.8" height="24.7" fill="#7373ff"/>
<rect x="1128.5" y="154.7" width="65.8" height="24.7" fill="#4040ff"/>
<rect x="1193.7" y="154.7" width="65.8" height="24.7" fill="#4040ff"/>
<rect x="1258.9" y="154.7" width="65.8" height="24.7" fill="#8c8cff"/>
<rect x="1324.2" y="154.7" width="65.8" height="24.7" fill="#f4b2b2"/>
<rect x="1389.4" y="154.7" width="65.8" height="24.7" fill="#e86666"/>
<rect x="1454.6" y="154.7" width="65.8" height="24.7" fill="#d90000"/>
<rect x="1519.8" y="154.7" width="65.8" height="24.7" fill="#3b3bff"/>
<rect x="1585.1" y="154.7" width="65.8" height="24.7" fill="#4d4dff"/>
<rect x="1650.3" y="154.7" width="65.8" height="24.7" fill="#8585ff"/>
<rect x="1128.5" y="178.8" width="65.8" height="24.7" fill="#6666ff"/>
<rect x="1193.7" y="178.8" width="65.8" height="24.7" fill="#8585ff"/>
<rect x="1258.9" y="178.8" width="65.8" height="24.7" fill="#0d0dff"/>
<rect x="1324.2" y="178.8" width="65.8" height="24.7" fill="#e13333"/>
<rect x="1389.4" y="178.8" width="65.8" height="24.7" fill="#e55252"/>
<rect x="1454.6" y="178.8" width="65.8" height="24.7" fill="#d1d1ff"/>
<rect x="1519.8" y="178.8" width="65.8" height="24.7" fill="#4040ff"/>
<rect x="1585.1" y="178.8" width="65.8" height="24.7" fill="#4040ff"/>
<rect x="1650.3" y="178.8" width="65.8" height="24.7" fill="#8585ff"/>
<rect x="1128.5" y="202.8" width="65.8" height="24.7" fill="#3333ff"/>
<rect x="1193.7" y="202.8" width="65.8" height="24.7" fill="#5959ff"/>
<rect x="1258.9" y="202.8" width="65.8" height="24.7" fill="#7a7aff"/>
<rect x="1324.2" y="202.8" width="65.8" height="24.7" fill="#fdf2f2"/>
<rect x="1389.4" y="202.8" width="65.8" height="24.7" fill="#ed8585"/>
<rect x="1454.6" y="202.8" width="65.8" height="24.7" fill="#eb7a7a"/>
<rect x="1519.8" y="202.8" width="65.8" height="24.7" fill="#6b6bff"/>
<rect x="1585.1" y="202.8" width="65.8" height="24.7" fill="#8c8cff"/>
<rect x="1650.3" y="202.8" width="65.8" height="24.7" fill="#0d0dff"/>
<rect x="1128.5" y="226.8" width="65.8" height="24.7" fill="#4040ff"/>
<rect x="1193.7" y="226.8" width="65.8" height="24.7" fill="#4d4dff"/>
<rect x="1258.9" y="226.8" width="65.8" height="24.7" fill="#6666ff"/>
<rect x="1324.2" y="226.8" width="65.8" height="24.7" fill="#f6bfbf"/>
<rect x="1389.4" y="226.8" width="65.8" height="24.7" fill="#ec8080"/>
<rect x="1454.6" y="226.8" width="65.8" height="24.7" fill="#8c8cff"/>
<rect x="1519.8" y="226.8" width="65.8" height="24.7" fill="#3333ff"/>
<rect x="1585.1" y="226.8" width="65.8" height="24.7" fill="#5959ff"/>
<rect x="1650.3" y="226.8" width="65.8" height="24.7" fill="#8080ff"/>
<rect x="1128.5" y="250.9" width="65.8" height="24.7" fill="#3b3bff"/>
<rect x="1193.7" y="250.9" width="65.8" height="24.7" fill="#2626ff"/>
<rect x="1258.9" y="250.9" width="65.8" height="24.7" fill="#a6a6ff"/>
<rect x="1324.2" y="250.9" width="65.8" height="24.7" fill="#ccccff"/>
<rect x="1389.4" y="250.9" width="65.8" height="24.7" fill="#f5baba"/>
<rect x="1454.6" y="250.9" width="65.8" height="24.7" fill="#ebebff"/>
<rect x="1519.8" y="250.9" width="65.8" height="24.7" fill="#8080ff"/>
<rect x="1585.1" y="250.9" width="65.8" height="24.7" fill="#6b6bff"/>
<rect x="1650.3" y="250.9" width="65.8" height="24.7" fill="#2121ff"/>
<rect x="1128.5" y="274.9" width="65.8" height="24.7" fill="#3b3bff"/>
<rect x="1193.7" y="274.9" width="65.8" height="24.7" fill="#4747ff"/>
<rect x="1258.9" y="274.9" width="65.8" height="24.7" fill="#8080ff"/>
<rect x="1324.2" y="274.9" width="65.8" height="24.7" fill="#f9d9d9"/>
<rect x="1389.4" y="274.9" width="65.8" height="24.7" fill="#ebebff"/>
<rect x="1454.6" y="274.9" width="65.8" height="24.7" fill="#d1d1ff"/>
<rect x="1519.8" y="274.9" width="65.8" height="24.7" fill="#4747ff"/>
<rect x="1585.1" y="274.9" width="65.8" height="24.7" fill="#4d4dff"/>
<rect x="1650.3" y="274.9" width="65.8" height="24.7" fill="#6b6bff"/>
<rect x="1128.5" y="299" width="65.8" height="24.7" fill="#3b3bff"/>
<rect x="1193.7" y="299" width="65.8" height="24.7" fill="#4747ff"/>
<rect x="1258.9" y="299" width="65.8" height="24.7" fill="#7373ff"/>
<rect x="1324.2" y="299" width="65.8" height="24.7" fill="#ededff"/>
<rect x="1389.4" y="299" width="65.8" height="24.7" fill="#f7cccc"/>
<rect x="1454.6" y="299" width="65.8" height="24.7" fill="#b2b2ff"/>
<rect x="1519.8" y="299" width="65.8" height="24.7" fill="#4040ff"/>
<rect x="1585.1" y="299" width="65.8" height="24.7" fill="#2626ff"/>
<rect x="1650.3" y="299" width="65.8" height="24.7" fill="#9999ff"/>
<rect x="1128.5" y="323.1" width="65.8" height="24.7" fill="#3333ff"/>
<rect x="1193.7" y="323.1" width="65.8" height="24.7" fill="#6161ff"/>
<rect x="1258.9" y="323.1" width="65.8" height="24.7" fill="#6b6bff"/>
<rect x="1324.2" y="323.1" width="65.8" height="24.7" fill="#babaff"/>
<rect x="1389.4" y="323.1" width="65.8" height="24.7" fill="#f7cccc"/>
<rect x="1454.6" y="323.1" width="65.8" height="24.7" fill="#ebebff"/>
<rect x="1519.8" y="323.1" width="65.8" height="24.7" fill="#3333ff"/>
<rect x="1585.1" y="323.1" width="65.8" height="24.7" fill="#6161ff"/>
<rect x="1650.3" y="323.1" width="65.8" height="24.7" fill="#6b6bff"/>
<rect x="1128.5" y="347.1" width="65.8" height="24.7" fill="#d90000"/>
<rect x="1193.7" y="347.1" width="65.8" height="24.7" fill="#f8d1d1"/>
<rect x="1258.9" y="347.1" width="65.8" height="24.7" fill="#fcebeb"/>
<rect x="1324.2" y="347.1" width="65.8" height="24.7" fill="#4040ff"/>
<rect x="1389.4" y="347.1" width="65.8" height="24.7" fill="#4747ff"/>
<rect x="1454.6" y="347.1" width="65.8" height="24.7" fill="#7373ff"/>
<rect x="1519.8" y="347.1" width="65.8" height="24.7" fill="#df2626"/>
<rect x="1585.1" y="347.1" width="65.8" height="24.7" fill="#e13838"/>
<rect x="1650.3" y="347.1" width="65.8" height="24.7" fill="#9999ff"/>
<rect x="1128.5" y="371.1" width="65.8" height="24.7" fill="#db0d0d"/>
<rect x="1193.7" y="371.1" width="65.8" height="24.7" fill="#de2121"/>
<rect x="1258.9" y="371.1" width="65.8" height="24.7" fill="#dedeff"/>
<rect x="1324.2" y="371.1" width="65.8" height="24.7" fill="#4d4dff"/>
<rect x="1389.4" y="371.1" width="65.8" height="24.7" fill="#2121ff"/>
<rect x="1454.6" y="371.1" width="65.8" height="24.7" fill="#9191ff"/>
<rect x="1519.8" y="371.1" width="65.8" height="24.7" fill="#e76161"/>
<rect x="1585.1" y="371.1" width="65.8" height="24.7" fill="#dedeff"/>
<rect x="1650.3" y="371.1" width="65.8" height="24.7" fill="#ee8c8c"/>
<rect x="1128.5" y="395.2" width="65.8" height="24.7" fill="#e44747"/>
<rect x="1193.7" y="395.2" width="65.8" height="24.7" fill="#e76161"/>
<rect x="1258.9" y="395.2" width="65.8" height="24.7" fill="#f3adad"/>
<rect x="1324.2" y="395.2" width="65.8" height="24.7" fill="#4545ff"/>
<rect x="1389.4" y="395.2" width="65.8" height="24.7" fill="#4d4dff"/>
<rect x="1454.6" y="395.2" width="65.8" height="24.7" fill="#6666ff"/>
<rect x="1519.8" y="395.2" width="65.8" height="24.7" fill="#d90000"/>
<rect x="1585.1" y="395.2" width="65.8" height="24.7" fill="#ea7373"/>
<rect x="1650.3" y="395.2" width="65.8" height="24.7" fill="#adadff"/>
<rect x="1128.5" y="419.2" width="65.8" height="24.7" fill="#e02e2e"/>
<rect x="1193.7" y="419.2" width="65.8" height="24.7" fill="#e96b6b"/>
<rect x="1258.9" y="419.2" width="65.8" height="24.7" fill="#f3adad"/>
<rect x="1324.2" y="419.2" width="65.8" height="24.7" fill="#4040ff"/>
<rect x="1389.4" y="419.2" width="65.8" height="24.7" fill="#5e5eff"/>
<rect x="1454.6" y="419.2" width="65.8" height="24.7" fill="#5959ff"/>
<rect x="1519.8" y="419.2" width="65.8" height="24.7" fill="#d90000"/>
<rect x="1585.1" y="419.2" width="65.8" height="24.7" fill="#f8d1d1"/>
<rect x="1650.3" y="419.2" width="65.8" height="24.7" fill="#fcebeb"/>
<rect x="1128.5" y="443.3" width="65.8" height="24.7" fill="#d90000"/>
<rect x="1193.7" y="443.3" width="65.8" height="24.7" fill="#d90000"/>
<rect x="1258.9" y="443.3" width="65.8" height="24.7" fill="#b8b8ff"/>
<rect x="1324.2" y="443.3" width="65.8" height="24.7" fill="#2626ff"/>
<rect x="1389.4" y="443.3" width="65.8" height="24.7" fill="#3333ff"/>
<rect x="1454.6" y="443.3" width="65.8" height="24.7" fill="#a1a1ff"/>
<rect x="1519.8" y="443.3" width="65.8" height="24.7" fill="#db0d0d"/>
<rect x="1585.1" y="443.3" width="65.8" height="24.7" fill="#de2121"/>
<rect x="1650.3" y="443.3" width="65.8" height="24.7" fill="#e0e0ff"/>
<rect x="1128.5" y="467.4" width="65.8" height="24.7" fill="#d90000"/>
<rect x="1193.7" y="467.4" width="65.8" height="24.7" fill="#d90000"/>
<rect x="1258.9" y="467.4" width="65.8" height="24.7" fill="#d1d1ff"/>
<rect x="1324.2" y="467.4" width="65.8" height="24.7" fill="#3838ff"/>
<rect x="1389.4" y="467.4" width="65.8" height="24.7" fill="#3b3bff"/>
<rect x="1454.6" y="467.4" width="65.8" height="24.7" fill="#8787ff"/>
<rect x="1519.8" y="467.4" width="65.8" height="24.7" fill="#e44747"/>
<rect x="1585.1" y="467.4" width="65.8" height="24.7" fill="#e76161"/>
<rect x="1650.3" y="467.4" width="65.8" height="24.7" fill="#f3adad"/>
<rect x="1128.5" y="491.4" width="65.8" height="24.7" fill="#d90000"/>
<rect x="1193.7" y="491.4" width="65.8" height="24.7" fill="#d90000"/>
<rect x="1258.9" y="491.4" width="65.8" height="24.7" fill="#fbe6e6"/>
<rect x="1324.2" y="491.4" width="65.8" height="24.7" fill="#ccccff"/>
<rect x="1389.4" y="491.4" width="65.8" height="24.7" fill="#0000ff"/>
<rect x="1454.6" y="491.4" width="65.8" height="24.7" fill="#2626ff"/>
<rect x="1519.8" y="491.4" width="65.8" height="24.7" fill="#e13333"/>
<rect x="1585.1" y="491.4" width="65.8" height="24.7" fill="#ea7373"/>
<rect x="1650.3" y="491.4" width="65.8" height="24.7" fill="#f3adad"/>
<rect x="1128.5" y="515.5" width="65.8" height="24.7" fill="#e24040"/>
<rect x="1193.7" y="515.5" width="65.8" height="24.7" fill="#ec8080"/>
<rect x="1258.9" y="515.5" width="65.8" height="24.7" fill="#df2626"/>
<rect x="1324.2" y="515.5" width="65.8" height="24.7" fill="#6666ff"/>
<rect x="1389.4" y="515.5" width="65.8" height="24.7" fill="#8c8cff"/>
<rect x="1454.6" y="515.5" width="65.8" height="24.7" fill="#1212ff"/>
<rect x="1519.8" y="515.5" width="65.8" height="24.7" fill="#d90000"/>
<rect x="1585.1" y="515.5" width="65.8" height="24.7" fill="#d90000"/>
<rect x="1650.3" y="515.5" width="65.8" height="24.7" fill="#b8b8ff"/>
<rect x="1128.5" y="539.5" width="65.8" height="24.7" fill="#f5f5ff"/>
<rect x="1193.7" y="539.5" width="65.8" height="24.7" fill="#d90000"/>
<rect x="1258.9" y="539.5" width="65.8" height="24.7" fill="#d90000"/>
<rect x="1324.2" y="539.5" width="65.8" height="24.7" fill="#2626ff"/>
<rect x="1389.4" y="539.5" width="65.8" height="24.7" fill="#7373ff"/>
<rect x="1454.6" y="539.5" width="65.8" height="24.7" fill="#6666ff"/>
<rect x="1519.8" y="539.5" width="65.8" height="24.7" fill="#d90000"/>
<rect x="1585.1" y="539.5" width="65.8" height="24.7" fill="#d90000"/>
<rect x="1650.3" y="539.5" width="65.8" height="24.7" fill="#d1d1ff"/>
<rect x="1128.5" y="563.5" width="65.8" height="24.7" fill="#d90000"/>
<rect x="1193.7" y="563.5" width="65.8" height="24.7" fill="#d90000"/>
<rect x="1258.9" y="563.5" width="65.8" height="24.7" fill="#d90000"/>
<rect x="1324.2" y="563.5" width="65.8" height="24.7" fill="#5252ff"/>
<rect x="1389.4" y="563.5" width="65.8" height="24.7" fill="#6666ff"/>
<rect x="1454.6" y="563.5" width="65.8" height="24.7" fill="#4040ff"/>
<rect x="1519.8" y="563.5" width="65.8" height="24.7" fill="#d90000"/>
<rect x="1585.1" y="563.5" width="65.8" height="24.7" fill="#d90000"/>
<rect x="1650.3" y="563.5" width="65.8" height="24.7" fill="#fbe6e6"/>
</g>
<rect x="1128.5" y="106.6" width="587" height="481" fill="none" stroke="#000" stroke-width="2.4"/>
<path d="M1128.5 118.6h-6.5M1128.5 142.7h-6.5M1128.5 166.7h-6.5M1128.5 190.8h-6.5M1128.5 214.8h-6.5M1128.5 238.9h-6.5M1128.5 262.9h-6.5M1128.5 287h-6.5M1128.5 311h-6.5M1128.5 335.1h-6.5M1128.5 359.1h-6.5M1128.5 383.2h-6.5M1128.5 407.2h-6.5M1128.5 431.3h-6.5M1128.5 455.3h-6.5M1128.5 479.4h-6.5M1128.5 503.4h-6.5M1128.5 527.5h-6.5M1128.5 551.5h-6.5M1128.5 575.6h-6.5M1161.1 106.6v-6M1226.3 106.6v-6M1291.6 106.6v-6M1356.8 106.6v-6M1422 106.6v-6M1487.2 106.6v-6M1552.4 106.6v-6M1617.7 106.6v-6M1682.9 106.6v-6" stroke="#000" stroke-width="2.2" fill="none"/>
<text class="s" x="1117.5" y="125.6" font-size="20" text-anchor="end">Arfgef3</text>
<text class="s" x="1117.5" y="149.7" font-size="20" text-anchor="end">Sytl1</text>
<text class="s" x="1117.5" y="173.7" font-size="20" text-anchor="end">Snx30</text>
<text class="s" x="1117.5" y="197.8" font-size="20" text-anchor="end">C1galt1c1</text>
<text class="s" x="1117.5" y="221.8" font-size="20" text-anchor="end">Frk</text>
<text class="s" x="1117.5" y="245.9" font-size="20" text-anchor="end">Grb7</text>
<text class="s" x="1117.5" y="269.9" font-size="20" text-anchor="end">Fmo4</text>
<text class="s" x="1117.5" y="294" font-size="20" text-anchor="end">Ckmt1</text>
<text class="s" x="1117.5" y="318" font-size="20" text-anchor="end">Vwa1</text>
<text class="s" x="1117.5" y="342.1" font-size="20" text-anchor="end">Acsl3</text>
<text class="s" x="1117.5" y="366.1" font-size="20" text-anchor="end">Lpar1</text>
<text class="s" x="1117.5" y="390.2" font-size="20" text-anchor="end">Borcs6</text>
<text class="s" x="1117.5" y="414.2" font-size="20" text-anchor="end">Ssr3</text>
<text class="s" x="1117.5" y="438.3" font-size="20" text-anchor="end">Pard3b</text>
<text class="s" x="1117.5" y="462.3" font-size="20" text-anchor="end">Slc12a4</text>
<text class="s" x="1117.5" y="486.4" font-size="20" text-anchor="end">Ccrl2</text>
<text class="s" x="1117.5" y="510.4" font-size="20" text-anchor="end">Gypc</text>
<text class="s" x="1117.5" y="534.5" font-size="20" text-anchor="end" fill="#d7171f">Rap1GAP</text>
<text class="s" x="1117.5" y="558.5" font-size="20" text-anchor="end">S100a4</text>
<text class="s" x="1117.5" y="582.6" font-size="20" text-anchor="end">Hyal2</text>
<text class="s" x="1162.1" y="90.5" font-size="20" text-anchor="middle">1</text>
<text class="s" x="1227.3" y="90.5" font-size="20" text-anchor="middle">2</text>
<text class="s" x="1292.6" y="90.5" font-size="20" text-anchor="middle">3</text>
<text class="s" x="1357.8" y="90.5" font-size="20" text-anchor="middle">1</text>
<text class="s" x="1423" y="90.5" font-size="20" text-anchor="middle">2</text>
<text class="s" x="1488.2" y="90.5" font-size="20" text-anchor="middle">3</text>
<text class="s" x="1553.4" y="90.5" font-size="20" text-anchor="middle">1</text>
<text class="s" x="1618.7" y="90.5" font-size="20" text-anchor="middle">2</text>
<text class="s" x="1683.9" y="90.5" font-size="20" text-anchor="middle">3</text>
<text class="s" x="1231" y="57.5" font-size="20" text-anchor="middle">Control</text>
<line x1="1130.7" y1="65.8" x2="1313.7" y2="65.8" stroke="#000" stroke-width="1.6"/>
<text class="s" x="1428.3" y="57.5" font-size="20" text-anchor="middle">CUMS</text>
<line x1="1325.5" y1="65.8" x2="1509.8" y2="65.8" stroke="#000" stroke-width="1.6"/>
<text class="s" x="1621.8" y="57.5" font-size="20" text-anchor="middle">CUMS+CLM</text>
<line x1="1523.7" y1="65.8" x2="1708" y2="65.8" stroke="#000" stroke-width="1.6"/>
<text class="s" x="1161.1" y="606" font-size="11" text-anchor="middle" fill="#f4f4f4">A</text>
<text class="s" x="1226.3" y="606" font-size="11" text-anchor="middle" fill="#f4f4f4">B</text>
<text class="s" x="1291.6" y="606" font-size="11" text-anchor="middle" fill="#f4f4f4">C</text>
<text class="s" x="1356.8" y="606" font-size="11" text-anchor="middle" fill="#f4f4f4">D</text>
<text class="s" x="1422" y="606" font-size="11" text-anchor="middle" fill="#f4f4f4">E</text>
<text class="s" x="1487.2" y="606" font-size="11" text-anchor="middle" fill="#f4f4f4">F</text>
<text class="s" x="1552.4" y="606" font-size="11" text-anchor="middle" fill="#f4f4f4">G</text>
<text class="s" x="1617.7" y="606" font-size="11" text-anchor="middle" fill="#f4f4f4">H</text>
<text class="s" x="1682.9" y="606" font-size="11" text-anchor="middle" fill="#f4f4f4">I</text>
<defs><linearGradient id="hcb" x1="0" y1="0" x2="0" y2="1"><stop offset="0" stop-color="#d90000"/><stop offset="0.46" stop-color="#fff"/><stop offset="1" stop-color="#0000ff"/></linearGradient></defs>
<rect x="1736.5" y="106" width="18" height="215.5" fill="url(#hcb)" stroke="#000" stroke-width="1.6"/>
<line x1="1749" y1="106.8" x2="1758.5" y2="106.8" stroke="#000" stroke-width="1.6"/>
<text class="s" x="1761" y="112.3" font-size="15.5">5</text>
<line x1="1749" y1="150.3" x2="1758.5" y2="150.3" stroke="#000" stroke-width="1.6"/>
<text class="s" x="1761" y="155.8" font-size="15.5">4</text>
<line x1="1749" y1="193.9" x2="1758.5" y2="193.9" stroke="#000" stroke-width="1.6"/>
<text class="s" x="1761" y="199.4" font-size="15.5">3</text>
<line x1="1749" y1="237.9" x2="1758.5" y2="237.9" stroke="#000" stroke-width="1.6"/>
<text class="s" x="1761" y="243.4" font-size="15.5">2</text>
<line x1="1749" y1="281.9" x2="1758.5" y2="281.9" stroke="#000" stroke-width="1.6"/>
<text class="s" x="1761" y="287.4" font-size="15.5">1</text>
<defs><clipPath id="dclip"><rect x="0" y="620" width="634" height="620"/></clipPath></defs><g clip-path="url(#dclip)"><path d="M345.2 667V1173.2M418.9 667V1173.2M493.4 667V1173.2M280.6 684.2H549.2M280.6 717.9H549.2M280.6 751.6H549.2M280.6 785.4H549.2M280.6 819.1H549.2M280.6 852.8H549.2M280.6 886.5H549.2M280.6 920.2H549.2M280.6 954H549.2M280.6 987.7H549.2M280.6 1021.4H549.2M280.6 1055.1H549.2M280.6 1088.8H549.2M280.6 1122.6H549.2M280.6 1156.3H549.2" stroke="#dcdcdc" stroke-width="1" fill="none"/>
<circle cx="523.8" cy="684.2" r="12.1" fill="#2b74b3"/>
<circle cx="468.8" cy="717.9" r="10.6" fill="#0d4078"/>
<circle cx="468.8" cy="751.6" r="10.6" fill="#abd2e5"/>
<circle cx="468.8" cy="785.4" r="10.6" fill="#d1e5f0"/>
<circle cx="468.8" cy="819.1" r="10.6" fill="#aa162a"/>
<circle cx="414.5" cy="852.8" r="8.4" fill="#ecf2f5"/>
<circle cx="414.5" cy="886.5" r="8.4" fill="#fddbc7"/>
<circle cx="414.5" cy="920.2" r="8.4" fill="#67001f"/>
<circle cx="359.9" cy="954" r="7" fill="#246aae"/>
<circle cx="359.9" cy="987.7" r="7" fill="#9fcbe2"/>
<circle cx="359.9" cy="1021.4" r="7" fill="#fce1d1"/>
<circle cx="359.9" cy="1055.1" r="7" fill="#f9c5ab"/>
<circle cx="359.9" cy="1088.8" r="7" fill="#d2594a"/>
<circle cx="359.9" cy="1122.6" r="7" fill="#b2182b"/>
<circle cx="305.2" cy="1156.3" r="5.1" fill="#cb4a43"/>
<rect x="280.6" y="667" width="268.6" height="506.2" fill="none" stroke="#000" stroke-width="1.7"/>
<path d="M280.6 684.2h-8M280.6 717.9h-8M280.6 751.6h-8M280.6 785.4h-8M280.6 819.1h-8M280.6 852.8h-8M280.6 886.5h-8M280.6 920.2h-8M280.6 954h-8M280.6 987.7h-8M280.6 1021.4h-8M280.6 1055.1h-8M280.6 1088.8h-8M280.6 1122.6h-8M280.6 1156.3h-8M345.2 1173.2v6.5M418.9 1173.2v6.5M493.4 1173.2v6.5M280.6 1173.2v6.5M549.2 1173.2v6.5" stroke="#000" stroke-width="1.5" fill="none"/>
<text class="d" x="345.2" y="1195.2" font-size="13" text-anchor="middle">0.04</text>
<text class="d" x="418.9" y="1195.2" font-size="13" text-anchor="middle">0.06</text>
<text class="d" x="493.4" y="1195.2" font-size="13" text-anchor="middle">0.08</text>
<text class="t" x="414.5" y="1213" font-size="15.3" text-anchor="middle">GeneRatio</text>
<text class="t" x="268.6" y="688" font-size="15.1" text-anchor="end">Rap1 signaling pathway</text>
<text class="t" x="268.6" y="721.7" font-size="15.1" text-anchor="end">Fluid shear stress and atherosclerosis</text>
<text class="t" x="268.6" y="747.1" font-size="15.1" text-anchor="end">Transcriptional misregulation in</text>
<text class="t" x="268.6" y="762.1" font-size="15.1" text-anchor="end">cancer</text>
<text class="t" x="268.6" y="789.2" font-size="15.1" text-anchor="end">Focal adhesion</text>
<text class="t" x="268.6" y="822.9" font-size="15.1" text-anchor="end">PI3K-Akt signaling pathway</text>
<text class="t" x="268.6" y="856.6" font-size="15.1" text-anchor="end">Phospholipase D signaling pathway</text>
<text class="t" x="268.6" y="890.3" font-size="15.1" text-anchor="end">Tight junction</text>
<text class="t" x="268.6" y="924" font-size="15.1" text-anchor="end">MAPK signaling pathway</text>
<text class="t" x="268.6" y="957.8" font-size="15.1" text-anchor="end">Arginine and proline metabolism</text>
<text class="t" x="268.6" y="991.5" font-size="15.1" text-anchor="end">Aminoacyl-tRNA biosynthesis</text>
<text class="t" x="268.6" y="1016.9" font-size="15.1" text-anchor="end">AGE-RAGE signaling pathway in</text>
<text class="t" x="268.6" y="1031.9" font-size="15.1" text-anchor="end">diabetic complications</text>
<text class="t" x="268.6" y="1058.9" font-size="15.1" text-anchor="end">HIF-1 signaling pathway</text>
<text class="t" x="268.6" y="1092.6" font-size="15.1" text-anchor="end">Cell adhesion molecules (CAMs)</text>
<text class="t" x="268.6" y="1126.4" font-size="15.1" text-anchor="end">cGMP-PKG signaling pathway</text>
<text class="t" x="268.6" y="1160.1" font-size="15.1" text-anchor="end">PPAR signaling pathway</text>
<text class="t" x="562" y="762.3" font-size="15">Count</text>
<circle cx="573.8" cy="774.8" r="4.9" fill="#4d4d4d"/>
<circle cx="573.8" cy="800" r="6.2" fill="#4d4d4d"/>
<circle cx="573.8" cy="825.1" r="7.9" fill="#4d4d4d"/>
<circle cx="573.8" cy="850.3" r="9.1" fill="#4d4d4d"/>
<circle cx="573.8" cy="875.7" r="11" fill="#4d4d4d"/>
<circle cx="573.8" cy="901.3" r="12.4" fill="#4d4d4d"/>
<text class="d" x="598.2" y="811" font-size="13">3</text>
<text class="d" x="598.2" y="842.7" font-size="13">4</text>
<text class="d" x="598.2" y="874.7" font-size="13">5</text>
<text class="d" x="598.2" y="779.6" font-size="13">2</text>
<text class="d" x="598.2" y="906.1" font-size="13">6</text>
<path d="M594.1 774.8h-6.5V901.3h6.5M587.6 806.2h6.5M587.6 837.9h6.5M587.6 869.9h6.5" stroke="#000" stroke-width="1.2" fill="none"/>
<text class="t" x="562" y="953.5" font-size="15">-log10(pvalue)</text>
<g shape-rendering="crispEdges">
<rect x="562" y="961" width="25.2" height="7.1" fill="#7a0622"/>
<rect x="562" y="967.6" width="25.2" height="7.1" fill="#9f1228"/>
<rect x="562" y="974.2" width="25.2" height="7.1" fill="#bb2a34"/>
<rect x="562" y="980.8" width="25.2" height="7.1" fill="#cd4e44"/>
<rect x="562" y="987.3" width="25.2" height="7.1" fill="#de715a"/>
<rect x="562" y="993.9" width="25.2" height="7.1" fill="#ec9475"/>
<rect x="562" y="1000.5" width="25.2" height="7.1" fill="#f6b293"/>
<rect x="562" y="1007.1" width="25.2" height="7.1" fill="#fbceb6"/>
<rect x="562" y="1013.7" width="25.2" height="7.1" fill="#fce2d3"/>
<rect x="562" y="1020.3" width="25.2" height="7.1" fill="#f8f0eb"/>
<rect x="562" y="1026.8" width="25.2" height="7.1" fill="#eef2f5"/>
<rect x="562" y="1033.4" width="25.2" height="7.1" fill="#daeaf2"/>
<rect x="562" y="1040" width="25.2" height="7.1" fill="#c1ddec"/>
<rect x="562" y="1046.6" width="25.2" height="7.1" fill="#a2cde2"/>
<rect x="562" y="1053.2" width="25.2" height="7.1" fill="#7eb8d7"/>
<rect x="562" y="1059.8" width="25.2" height="7.1" fill="#57a0ca"/>
<rect x="562" y="1066.4" width="25.2" height="7.1" fill="#3a88bd"/>
<rect x="562" y="1072.9" width="25.2" height="7.1" fill="#2a71b2"/>
<rect x="562" y="1079.5" width="25.2" height="7.1" fill="#1a5899"/>
<rect x="562" y="1086.1" width="25.2" height="7.1" fill="#0c3e74"/>
</g>
<text class="d" x="597.8" y="982.6" font-size="13">0.8</text>
<text class="d" x="597.8" y="999.1" font-size="13">1.0</text>
<text class="d" x="597.8" y="1015.9" font-size="13">1.2</text>
<text class="d" x="597.8" y="1032.9" font-size="13">1.4</text>
<text class="d" x="597.8" y="1049.9" font-size="13">1.6</text>
<text class="d" x="597.8" y="1066.7" font-size="13">1.8</text>
<text class="d" x="597.8" y="1083.6" font-size="13">2.0</text>
<path d="M593.7 961h-6.5V1092.7h6.5M587.2 977.8h6.5M587.2 994.3h6.5M587.2 1011.1h6.5M587.2 1028.1h6.5M587.2 1045.1h6.5M587.2 1061.9h6.5M587.2 1078.8h6.5" stroke="#000" stroke-width="1.2" fill="none"/></g>
<path d="M926.2 667.8V1168.4M974.5 667.8V1168.4M1022.8 667.8V1168.4M1071 667.8V1168.4M1119.3 667.8V1168.4M1167.6 667.8V1168.4M901.3 684.4H1198.4M901.3 717.8H1198.4M901.3 751.2H1198.4M901.3 784.6H1198.4M901.3 818H1198.4M901.3 851.4H1198.4M901.3 884.9H1198.4M901.3 918.3H1198.4M901.3 951.7H1198.4M901.3 985.1H1198.4M901.3 1018.5H1198.4M901.3 1051.9H1198.4M901.3 1085.3H1198.4M901.3 1118.7H1198.4M901.3 1152.1H1198.4" stroke="#dcdcdc" stroke-width="1" fill="none"/>
<circle cx="1170.4" cy="684.4" r="13.8" fill="#0b3b70"/>
<circle cx="1101.2" cy="717.8" r="11.5" fill="#c4dfec"/>
<circle cx="1066.9" cy="751.2" r="9.9" fill="#9fcbe2"/>
<circle cx="1049.5" cy="784.6" r="9.5" fill="#eb9072"/>
<circle cx="1032.1" cy="818" r="8.7" fill="#f9ece4"/>
<circle cx="1015.1" cy="851.4" r="8.3" fill="#fae9df"/>
<circle cx="1015.1" cy="884.9" r="8.3" fill="#ee9777"/>
<circle cx="1015.1" cy="918.3" r="8.3" fill="#8c0c25"/>
<circle cx="997.7" cy="951.7" r="7.6" fill="#fae9df"/>
<circle cx="997.7" cy="985.1" r="7.8" fill="#b92632"/>
<circle cx="980.3" cy="1018.5" r="7.3" fill="#c8433f"/>
<circle cx="963.3" cy="1051.9" r="6.5" fill="#9c1127"/>
<circle cx="928.6" cy="1085.3" r="5.3" fill="#cf5246"/>
<circle cx="928.6" cy="1118.7" r="5.3" fill="#940e26"/>
<circle cx="928.6" cy="1152.1" r="5.3" fill="#6e0220"/>
<rect x="901.3" y="667.8" width="297.1" height="500.6" fill="none" stroke="#000" stroke-width="1.7"/>
<path d="M901.3 684.4h-8M901.3 717.8h-8M901.3 751.2h-8M901.3 784.6h-8M901.3 818h-8M901.3 851.4h-8M901.3 884.9h-8M901.3 918.3h-8M901.3 951.7h-8M901.3 985.1h-8M901.3 1018.5h-8M901.3 1051.9h-8M901.3 1085.3h-8M901.3 1118.7h-8M901.3 1152.1h-8M926.2 1168.4v6.5M974.5 1168.4v6.5M1022.8 1168.4v6.5M1071 1168.4v6.5M1119.3 1168.4v6.5M1167.6 1168.4v6.5M901.3 1168.4v6.5M1198.4 1168.4v6.5" stroke="#000" stroke-width="1.5" fill="none"/>
<text class="d" x="926.2" y="1191.9" font-size="14.2" text-anchor="middle">0.02</text>
<text class="d" x="974.5" y="1191.9" font-size="14.2" text-anchor="middle">0.04</text>
<text class="d" x="1022.8" y="1191.9" font-size="14.2" text-anchor="middle">0.06</text>
<text class="d" x="1071" y="1191.9" font-size="14.2" text-anchor="middle">0.08</text>
<text class="d" x="1119.3" y="1191.9" font-size="14.2" text-anchor="middle">0.10</text>
<text class="d" x="1167.6" y="1191.9" font-size="14.2" text-anchor="middle">0.12</text>
<text class="t" x="1049.5" y="1210" font-size="17.0" text-anchor="middle">GeneRatio</text>
<text class="t" x="889.3" y="688.2" font-size="16.7" text-anchor="end">Endocytosis</text>
<text class="t" x="889.3" y="721.6" font-size="16.7" text-anchor="end">Rap1 signaling pathway</text>
<text class="t" x="889.3" y="755" font-size="16.7" text-anchor="end">Phospholipase D signaling pathway</text>
<text class="t" x="889.3" y="788.4" font-size="16.7" text-anchor="end">Ras signaling pathway</text>
<text class="t" x="889.3" y="821.8" font-size="16.7" text-anchor="end">Fluid shear stress and atherosclerosis</text>
<text class="t" x="889.3" y="855.2" font-size="16.7" text-anchor="end">Leukocyte transendothelial migration</text>
<text class="t" x="889.3" y="888.7" font-size="16.7" text-anchor="end">Tight junction</text>
<text class="t" x="889.3" y="922.1" font-size="16.7" text-anchor="end">MAPK signaling pathway</text>
<text class="t" x="889.3" y="955.5" font-size="16.7" text-anchor="end">Gap junction</text>
<text class="t" x="889.3" y="988.9" font-size="16.7" text-anchor="end">Focal adhesion</text>
<text class="t" x="889.3" y="1022.3" font-size="16.7" text-anchor="end">Cell adhesion molecules (CAMs)</text>
<text class="t" x="889.3" y="1055.7" font-size="16.7" text-anchor="end">Hippo signaling pathway</text>
<text class="t" x="889.3" y="1089.1" font-size="16.7" text-anchor="end">Ferroptosis</text>
<text class="t" x="889.3" y="1122.5" font-size="16.7" text-anchor="end">PPAR signaling pathway</text>
<text class="t" x="889.3" y="1155.9" font-size="16.7" text-anchor="end">HIF-1 signaling pathway</text>
<text class="t" x="1212.3" y="744.7" font-size="16.7">Count</text>
<circle cx="1225.9" cy="758" r="4.9" fill="#4d4d4d"/>
<circle cx="1225.9" cy="786.2" r="6.9" fill="#4d4d4d"/>
<circle cx="1225.9" cy="813.3" r="9.1" fill="#4d4d4d"/>
<circle cx="1225.9" cy="840.6" r="10.3" fill="#4d4d4d"/>
<circle cx="1225.9" cy="868.7" r="11.9" fill="#4d4d4d"/>
<circle cx="1225.9" cy="896.5" r="13.8" fill="#4d4d4d"/>
<text class="d" x="1251.7" y="773.7" font-size="14.2">4</text>
<text class="d" x="1251.7" y="793.5" font-size="14.2">6</text>
<text class="d" x="1251.7" y="813.3" font-size="14.2">8</text>
<text class="d" x="1251.7" y="833.4" font-size="14.2">10</text>
<text class="d" x="1251.7" y="853.2" font-size="14.2">12</text>
<text class="d" x="1251.7" y="873" font-size="14.2">14</text>
<text class="d" x="1251.7" y="892.8" font-size="14.2">16</text>
<path d="M1247.6 759.1h-6.5V897.3h6.5M1241.1 768.4h6.5M1241.1 788.2h6.5M1241.1 808h6.5M1241.1 828.1h6.5M1241.1 847.9h6.5M1241.1 867.7h6.5M1241.1 887.5h6.5" stroke="#000" stroke-width="1.2" fill="none"/>
<text class="t" x="1212.3" y="954.3" font-size="16.7">-log10(pvalue)</text>
<g shape-rendering="crispEdges">
<rect x="1212.3" y="963.6" width="28.8" height="7.7" fill="#7a0622"/>
<rect x="1212.3" y="970.8" width="28.8" height="7.7" fill="#9f1228"/>
<rect x="1212.3" y="978.1" width="28.8" height="7.7" fill="#bb2a34"/>
<rect x="1212.3" y="985.3" width="28.8" height="7.7" fill="#cd4e44"/>
<rect x="1212.3" y="992.6" width="28.8" height="7.7" fill="#de715a"/>
<rect x="1212.3" y="999.8" width="28.8" height="7.7" fill="#ec9475"/>
<rect x="1212.3" y="1007.1" width="28.8" height="7.7" fill="#f6b293"/>
<rect x="1212.3" y="1014.3" width="28.8" height="7.7" fill="#fbceb6"/>
<rect x="1212.3" y="1021.6" width="28.8" height="7.7" fill="#fce2d3"/>
<rect x="1212.3" y="1028.8" width="28.8" height="7.7" fill="#f8f0eb"/>
<rect x="1212.3" y="1036" width="28.8" height="7.7" fill="#eef2f5"/>
<rect x="1212.3" y="1043.3" width="28.8" height="7.7" fill="#daeaf2"/>
<rect x="1212.3" y="1050.5" width="28.8" height="7.7" fill="#c1ddec"/>
<rect x="1212.3" y="1057.8" width="28.8" height="7.7" fill="#a2cde2"/>
<rect x="1212.3" y="1065" width="28.8" height="7.7" fill="#7eb8d7"/>
<rect x="1212.3" y="1072.3" width="28.8" height="7.7" fill="#57a0ca"/>
<rect x="1212.3" y="1079.5" width="28.8" height="7.7" fill="#3a88bd"/>
<rect x="1212.3" y="1086.8" width="28.8" height="7.7" fill="#2a71b2"/>
<rect x="1212.3" y="1094" width="28.8" height="7.7" fill="#1a5899"/>
<rect x="1212.3" y="1101.3" width="28.8" height="7.7" fill="#0c3e74"/>
</g>
<text class="d" x="1251.7" y="981.9" font-size="14.2">1</text>
<text class="d" x="1251.7" y="1008.4" font-size="14.2">2</text>
<text class="d" x="1251.7" y="1035.1" font-size="14.2">3</text>
<text class="d" x="1251.7" y="1061.8" font-size="14.2">4</text>
<text class="d" x="1251.7" y="1088.5" font-size="14.2">5</text>
<path d="M1247.6 963.6h-6.5V1108.5h6.5M1241.1 976.6h6.5M1241.1 1003.1h6.5M1241.1 1029.8h6.5M1241.1 1056.5h6.5M1241.1 1083.2h6.5" stroke="#000" stroke-width="1.2" fill="none"/>
<defs>
<linearGradient id="erkg" x1="0" y1="0" x2="0" y2="1"><stop offset="0" stop-color="#ec9c68"/><stop offset="0.55" stop-color="#d65a3a"/><stop offset="1" stop-color="#c3241c"/></linearGradient>
<filter id="soft" x="-10%" y="-10%" width="120%" height="120%"><feGaussianBlur stdDeviation="0.7"/></filter>
</defs>
<text class="s" x="1545" y="698" font-size="27" text-anchor="middle">Rap1GAP</text>
<path d="M1539.8 718.6V787M1518 787H1561" stroke="#e1000f" stroke-width="5.2" fill="none"/>
<rect x="1328.2" y="787" width="90.6" height="44.3" rx="11" fill="#fae38f" stroke="#fdf0c4" stroke-width="2"/>
<text class="s" x="1376.8" y="817.8" font-size="28.4" text-anchor="middle">Rap1</text>
<g transform="rotate(20 1423.4 832.3)"><ellipse cx="1423.4" cy="832.3" rx="16.5" ry="10.5" fill="#f6d2d9" stroke="#e8921e" stroke-width="1.8"/><text class="s" x="1423.4" y="837.3" font-size="14.5" text-anchor="middle">GTP</text></g>
<path d="M1631.7 809.3H1444M1467 796.5L1442.5 809.3L1467 822.3" stroke="#454545" stroke-width="5" fill="none" stroke-linejoin="miter" stroke-linecap="round"/>
<text class="s" x="1560.8" y="847.3" font-size="26.7" text-anchor="middle">Rap1 activition</text>
<rect x="1643.6" y="781.7" width="90.7" height="44.1" rx="11" fill="#fae38f" stroke="#fdf0c4" stroke-width="2"/>
<text class="s" x="1689.2" y="812.2" font-size="29.6" text-anchor="middle">Rap1</text>
<g transform="rotate(20 1738.9 827.3)"><ellipse cx="1738.9" cy="827.3" rx="16.5" ry="10.5" fill="#f6d2d9" stroke="#e8921e" stroke-width="1.8"/><text class="s" x="1738.9" y="832.3" font-size="14.5" text-anchor="middle">GDP</text></g>
<path d="M1380.3 853V929M1367 907L1381 931L1395 907" stroke="#454545" stroke-width="5" fill="none" stroke-linecap="round"/>
<circle cx="1410.3" cy="991.5" r="14.7" fill="#dc8d98"/>
<ellipse cx="1374.4" cy="966.7" rx="47.5" ry="22" fill="url(#erkg)" stroke="#ea9220" stroke-width="2"/>
<path d="M1396 986.3A14.7 14.7 0 0 1 1421 982" fill="none"/>
<text class="s" x="1379.6" y="975.6" font-size="33.4" text-anchor="middle">ERK</text>
<text class="s" x="1413" y="1007.4" font-size="26">P</text>
<path d="M1379.3 1014V1090M1366 1068L1380 1092L1394 1068" stroke="#454545" stroke-width="5" fill="none" stroke-linecap="round"/>
<rect x="1329" y="1109.4" width="97.5" height="44.1" rx="11" fill="#cee4b6" stroke="#fdf0c4" stroke-width="2"/>
<text class="s" x="1375.7" y="1142.4" font-size="30" text-anchor="middle">EMT</text>
<path d="M1448 1132.3H1558M1536 1119L1560 1133L1536 1147" stroke="#454545" stroke-width="5" fill="none" stroke-linecap="round"/>
<rect x="1581.8" y="1097.8" width="174.6" height="64.2" rx="20" fill="#fae38f" stroke="#fdf0c4" stroke-width="2"/>
<text class="y" x="1669.5" y="1123.8" font-size="20.3" text-anchor="middle" font-weight="400">Tumor growth</text>
<text class="y" x="1669.5" y="1148.5" font-size="20.3" text-anchor="middle" font-weight="400">and metastasis</text>
<path d="M201.2 1568.6V1427.3H225.8V1568.6" stroke="#5a5af2" stroke-width="2.6" fill="none"/>
<path d="M213.5 1411.3V1441.2M206.8 1411.3H220.2M206.8 1441.2H220.2" stroke="#5a5af2" stroke-width="1.3" fill="none"/>
<circle cx="213.5" cy="1398.1" r="3" fill="#0808e6"/>
<circle cx="213.5" cy="1433.9" r="3" fill="#0808e6"/>
<circle cx="213.5" cy="1448" r="3" fill="#0808e6"/>
<path d="M243.2 1568.6V1450.2H267.8V1568.6" stroke="#d4080e" stroke-width="2.6" fill="none"/>
<path d="M255.5 1440.7V1456.7M248.8 1440.7H262.2M248.8 1456.7H262.2" stroke="#d4080e" stroke-width="1.3" fill="none"/>
<rect x="252.3" y="1430.5" width="6.4" height="6.4" fill="#d4080e"/>
<rect x="252.3" y="1450.2" width="6.4" height="6.4" fill="#d4080e"/>
<rect x="252.3" y="1457.2" width="6.4" height="6.4" fill="#d4080e"/>
<path d="M285.2 1568.6V1425.9H309.8V1568.6" stroke="#68be28" stroke-width="2.6" fill="none"/>
<path d="M297.5 1401.2V1448M290.8 1401.2H304.2M290.8 1448H304.2" stroke="#68be28" stroke-width="1.3" fill="none"/>
<path d="M297.5 1375.8L300.9 1381.6L294.1 1381.6Z" fill="#68be28"/>
<path d="M297.5 1443.4L300.9 1449.2L294.1 1449.2Z" fill="#68be28"/>
<path d="M297.5 1448.4L300.9 1454.2L294.1 1454.2Z" fill="#68be28"/>
<path d="M354.9 1568.6V1427.8H379.5V1568.6" stroke="#5a5af2" stroke-width="2.6" fill="none"/>
<path d="M367.2 1408.2V1444.3M360.5 1408.2H373.9M360.5 1444.3H373.9" stroke="#5a5af2" stroke-width="1.3" fill="none"/>
<circle cx="367.2" cy="1404.9" r="3" fill="#0808e6"/>
<circle cx="367.2" cy="1412.2" r="3" fill="#0808e6"/>
<circle cx="367.2" cy="1462.4" r="3" fill="#0808e6"/>
<path d="M396.7 1568.6V1441.3H421.3V1568.6" stroke="#d4080e" stroke-width="2.6" fill="none"/>
<path d="M409 1423.2V1455.7M402.3 1423.2H415.7M402.3 1455.7H415.7" stroke="#d4080e" stroke-width="1.3" fill="none"/>
<rect x="405.8" y="1405" width="6.4" height="6.4" fill="#d4080e"/>
<rect x="405.8" y="1445.1" width="6.4" height="6.4" fill="#d4080e"/>
<rect x="405.8" y="1460.7" width="6.4" height="6.4" fill="#d4080e"/>
<path d="M438.8 1568.6V1378.1H463.4V1568.6" stroke="#68be28" stroke-width="2.6" fill="none"/>
<path d="M451.1 1359.5V1393.2M444.4 1359.5H457.8M444.4 1393.2H457.8" stroke="#68be28" stroke-width="1.3" fill="none"/>
<path d="M451.1 1350.7L454.5 1356.5L447.7 1356.5Z" fill="#68be28"/>
<path d="M451.1 1364.8L454.5 1370.6L447.7 1370.6Z" fill="#68be28"/>
<path d="M451.1 1406.6L454.5 1412.4L447.7 1412.4Z" fill="#68be28"/>
<path d="M508.6 1568.6V1427.8H533.2V1568.6" stroke="#5a5af2" stroke-width="2.6" fill="none"/>
<path d="M520.9 1406.9V1445.6M514.2 1406.9H527.6M514.2 1445.6H527.6" stroke="#5a5af2" stroke-width="1.3" fill="none"/>
<circle cx="520.9" cy="1387.7" r="3" fill="#0808e6"/>
<circle cx="520.9" cy="1440.3" r="3" fill="#0808e6"/>
<circle cx="520.9" cy="1450.7" r="3" fill="#0808e6"/>
<path d="M550.4 1568.6V1523.8H575.1V1568.6" stroke="#d4080e" stroke-width="2.6" fill="none"/>
<path d="M562.8 1519.4V1526.5M556.1 1519.4H569.5M556.1 1526.5H569.5" stroke="#d4080e" stroke-width="1.3" fill="none"/>
<rect x="559.6" y="1512.5" width="6.4" height="6.4" fill="#d4080e"/>
<rect x="549.1" y="1524.7" width="6.4" height="6.4" fill="#d4080e"/>
<rect x="570.6" y="1521.4" width="6.4" height="6.4" fill="#d4080e"/>
<path d="M592.5 1568.6V1449.3H617.2V1568.6" stroke="#68be28" stroke-width="2.6" fill="none"/>
<path d="M604.9 1438.5V1457M598.2 1438.5H611.6M598.2 1457H611.6" stroke="#68be28" stroke-width="1.3" fill="none"/>
<path d="M604.9 1427.6L608.3 1433.4L601.5 1433.4Z" fill="#68be28"/>
<path d="M604.9 1446.8L608.3 1452.6L601.5 1452.6Z" fill="#68be28"/>
<path d="M604.9 1461.4L608.3 1467.2L601.5 1467.2Z" fill="#68be28"/>
<path d="M185.5 1281.9V1568.6M173.5 1568.6H634.8M185.5 1497.2h-12M185.5 1425.9h-12M185.5 1354.5h-12M185.5 1283.2h-12M255.8 1568.6v11.5M408.6 1568.6v11.5M562.6 1568.6v11.5" stroke="#000" stroke-width="2.6" fill="none"/>
<text class="s" x="169" y="1576.2" font-size="21" text-anchor="end">0.0</text>
<text class="s" x="169" y="1504.8" font-size="21" text-anchor="end">0.5</text>
<text class="s" x="169" y="1433.5" font-size="21" text-anchor="end">1.0</text>
<text class="s" x="169" y="1362.1" font-size="21" text-anchor="end">1.5</text>
<text class="s" x="169" y="1290.8" font-size="21" text-anchor="end">2.0</text>
<text class="s" font-size="25.5" text-anchor="middle" textLength="201" lengthAdjust="spacingAndGlyphs" transform="translate(110 1426) rotate(-90)">Relative mRNA level</text>
<text class="s" x="255.8" y="1602" font-size="21.7" text-anchor="middle">Rasa1</text>
<text class="s" x="408.4" y="1602" font-size="21.7" text-anchor="middle">Sipa1</text>
<text class="s" x="562.6" y="1602" font-size="21.7" text-anchor="middle">Rap1GAP</text>
<text class="s" x="450.6" y="1342" font-size="15.5" text-anchor="middle">#</text>
<text class="s" x="605.8" y="1415.7" font-size="15.5" text-anchor="middle" textLength="17.5" lengthAdjust="spacingAndGlyphs">##</text>
<text class="s" x="563.9" y="1511.5" font-size="24" text-anchor="middle">**</text>
<circle cx="665.5" cy="1303" r="3" fill="#0808e6"/>
<text class="s" x="699.2" y="1310.8" font-size="23.5">Control</text>
<rect x="662.3" y="1338" width="6.4" height="6.4" fill="#d4080e"/>
<text class="s" x="699.2" y="1349" font-size="23.5">CUMS</text>
<path d="M665.5 1377.1L668.9 1382.9L662.1 1382.9Z" fill="#68be28"/>
<text class="s" x="699.2" y="1387.8" font-size="23.5">CUMS+CLM</text>
<path d="M1063.8 1568.4V1427.4H1088.8V1568.4" stroke="#5a5af2" stroke-width="2.6" fill="none"/>
<path d="M1076.3 1412.4V1439.8M1069.6 1412.4H1083M1069.6 1439.8H1083" stroke="#5a5af2" stroke-width="1.3" fill="none"/>
<circle cx="1076.3" cy="1399.3" r="3" fill="#0808e6"/>
<circle cx="1065.6" cy="1440.3" r="3" fill="#0808e6"/>
<circle cx="1087.1" cy="1438.8" r="3" fill="#0808e6"/>
<path d="M1106.2 1568.4V1452.3H1131.2V1568.4" stroke="#d4080e" stroke-width="2.6" fill="none"/>
<path d="M1118.7 1437.5V1465M1112 1437.5H1125.4M1112 1465H1125.4" stroke="#d4080e" stroke-width="1.3" fill="none"/>
<rect x="1115.5" y="1430.6" width="6.4" height="6.4" fill="#d4080e"/>
<rect x="1115.5" y="1438.8" width="6.4" height="6.4" fill="#d4080e"/>
<rect x="1115.5" y="1475.7" width="6.4" height="6.4" fill="#d4080e"/>
<path d="M1148.5 1568.4V1420.8H1173.4V1568.4" stroke="#68be28" stroke-width="2.6" fill="none"/>
<path d="M1160.9 1404.4V1434.8M1154.2 1404.4H1167.6M1154.2 1434.8H1167.6" stroke="#68be28" stroke-width="1.3" fill="none"/>
<path d="M1160.9 1390.7L1164.3 1396.5L1157.5 1396.5Z" fill="#68be28"/>
<path d="M1160.9 1418.3L1164.3 1424.1L1157.5 1424.1Z" fill="#68be28"/>
<path d="M1160.9 1443.6L1164.3 1449.4L1157.5 1449.4Z" fill="#68be28"/>
<path d="M1217.8 1568.4V1427.4H1242.8V1568.4" stroke="#5a5af2" stroke-width="2.6" fill="none"/>
<path d="M1230.3 1409.3V1443M1223.6 1409.3H1237M1223.6 1443H1237" stroke="#5a5af2" stroke-width="1.3" fill="none"/>
<circle cx="1230.3" cy="1398.2" r="3" fill="#0808e6"/>
<circle cx="1230.3" cy="1423.5" r="3" fill="#0808e6"/>
<circle cx="1230.3" cy="1457.3" r="3" fill="#0808e6"/>
<path d="M1259.5 1568.4V1374.5H1284.5V1568.4" stroke="#d4080e" stroke-width="2.6" fill="none"/>
<path d="M1272 1365.8V1381.1M1265.3 1365.8H1278.7M1265.3 1381.1H1278.7" stroke="#d4080e" stroke-width="1.3" fill="none"/>
<rect x="1268.8" y="1356.7" width="6.4" height="6.4" fill="#d4080e"/>
<rect x="1268.8" y="1371" width="6.4" height="6.4" fill="#d4080e"/>
<rect x="1268.8" y="1381.9" width="6.4" height="6.4" fill="#d4080e"/>
<path d="M1301.2 1568.4V1456.9H1326.2V1568.4" stroke="#68be28" stroke-width="2.6" fill="none"/>
<path d="M1313.7 1448.7V1463.7M1307 1448.7H1320.4M1307 1463.7H1320.4" stroke="#68be28" stroke-width="1.3" fill="none"/>
<path d="M1313.7 1439.7L1317.1 1445.5L1310.3 1445.5Z" fill="#68be28"/>
<path d="M1313.7 1455.5L1317.1 1461.3L1310.3 1461.3Z" fill="#68be28"/>
<path d="M1313.7 1465.8L1317.1 1471.6L1310.3 1471.6Z" fill="#68be28"/>
<path d="M1371.3 1568.4V1427.8H1396.2V1568.4" stroke="#5a5af2" stroke-width="2.6" fill="none"/>
<path d="M1383.8 1401.6V1451.2M1377.1 1401.6H1390.5M1377.1 1451.2H1390.5" stroke="#5a5af2" stroke-width="1.3" fill="none"/>
<circle cx="1383.8" cy="1393.6" r="3" fill="#0808e6"/>
<circle cx="1383.8" cy="1410.7" r="3" fill="#0808e6"/>
<circle cx="1383.8" cy="1475.1" r="3" fill="#0808e6"/>
<path d="M1413.1 1568.4V1421.4H1438V1568.4" stroke="#d4080e" stroke-width="2.6" fill="none"/>
<path d="M1425.6 1401.6V1437.8M1418.9 1401.6H1432.3M1418.9 1437.8H1432.3" stroke="#d4080e" stroke-width="1.3" fill="none"/>
<rect x="1422.4" y="1388.7" width="6.4" height="6.4" fill="#d4080e"/>
<rect x="1422.4" y="1410.2" width="6.4" height="6.4" fill="#d4080e"/>
<rect x="1422.4" y="1450.1" width="6.4" height="6.4" fill="#d4080e"/>
<path d="M1455.5 1568.4V1439.9H1480.5V1568.4" stroke="#68be28" stroke-width="2.6" fill="none"/>
<path d="M1468 1418.4V1459M1461.3 1418.4H1474.7M1461.3 1459H1474.7" stroke="#68be28" stroke-width="1.3" fill="none"/>
<path d="M1468 1397L1471.4 1402.8L1464.6 1402.8Z" fill="#68be28"/>
<path d="M1468 1449.4L1471.4 1455.2L1464.6 1455.2Z" fill="#68be28"/>
<path d="M1468 1462.1L1471.4 1467.9L1464.6 1467.9Z" fill="#68be28"/>
<path d="M1048.4 1282.2V1568.4M1036.4 1568.4H1497.2M1048.4 1497.2h-12M1048.4 1426h-12M1048.4 1354.7h-12M1048.4 1283.5h-12M1118.6 1568.4v11.5M1271.4 1568.4v11.5M1425.1 1568.4v11.5" stroke="#000" stroke-width="2.6" fill="none"/>
<text class="s" x="1032" y="1576" font-size="21" text-anchor="end">0.0</text>
<text class="s" x="1032" y="1504.7" font-size="21" text-anchor="end">0.5</text>
<text class="s" x="1032" y="1433.5" font-size="21" text-anchor="end">1.0</text>
<text class="s" x="1032" y="1362.3" font-size="21" text-anchor="end">1.5</text>
<text class="s" x="1032" y="1291.1" font-size="21" text-anchor="end">2.0</text>
<text class="s" font-size="25.5" text-anchor="middle" textLength="201" lengthAdjust="spacingAndGlyphs" transform="translate(972 1425.8) rotate(-90)">Relative mRNA level</text>
<text class="s" x="1119" y="1602" font-size="22" text-anchor="middle">Rapgef3</text>
<text class="s" x="1271.8" y="1602" font-size="22" text-anchor="middle">Rapgef4</text>
<text class="s" x="1425.6" y="1602" font-size="22" text-anchor="middle">Rasgrp2</text>
<text class="s" x="1313.6" y="1435" font-size="15.5" text-anchor="middle" textLength="17.5" lengthAdjust="spacingAndGlyphs">##</text>
<circle cx="1528.2" cy="1302.9" r="3" fill="#0808e6"/>
<text class="s" x="1562.3" y="1310.4" font-size="23.6">Control</text>
<rect x="1525" y="1338.2" width="6.4" height="6.4" fill="#d4080e"/>
<text class="s" x="1562.3" y="1348.9" font-size="23.6">CUMS</text>
<path d="M1528.2 1377.3L1531.6 1383.1L1524.8 1383.1Z" fill="#68be28"/>
<text class="s" x="1562.3" y="1387.7" font-size="23.6">CUMS+CLM</text>
<path d="M1112 1918.2V1746.9H1146.8V1918.2" stroke="#1414f0" stroke-width="2.7" fill="none"/>
<path d="M1129.4 1706.1V1785.8M1120 1706.1H1138.9M1120 1785.8H1138.9" stroke="#1414f0" stroke-width="1.3" fill="none"/>
<circle cx="1129.4" cy="1703.5" r="2.8" fill="#1414f0"/>
<circle cx="1129.4" cy="1751.5" r="2.8" fill="#1414f0"/>
<circle cx="1129.4" cy="1783.3" r="2.8" fill="#1414f0"/>
<path d="M1169 1918.2V1832.3H1203.8V1918.2" stroke="#d80c10" stroke-width="2.7" fill="none"/>
<path d="M1186.4 1822.8V1839.9M1177 1822.8H1195.9M1177 1839.9H1195.9" stroke="#d80c10" stroke-width="1.3" fill="none"/>
<rect x="1183.5" y="1819.8" width="5.9" height="5.9" fill="#d80c10"/>
<rect x="1183.5" y="1828.6" width="5.9" height="5.9" fill="#d80c10"/>
<rect x="1183.5" y="1836.9" width="5.9" height="5.9" fill="#d80c10"/>
<path d="M1225.7 1918.2V1779.4H1260.5V1918.2" stroke="#66bc2c" stroke-width="2.7" fill="none"/>
<path d="M1243.1 1767.9V1787.3M1233.6 1767.9H1252.5M1233.6 1787.3H1252.5" stroke="#66bc2c" stroke-width="1.3" fill="none"/>
<circle cx="1243.1" cy="1773.1" r="2.8" fill="#66bc2c"/>
<circle cx="1255.8" cy="1771.2" r="2.8" fill="#66bc2c"/>
<circle cx="1243.1" cy="1789.7" r="2.8" fill="#66bc2c"/>
<path d="M1091.2 1657.5V1918.2M1078.6 1918.2H1283.4M1091.2 1831.8h-12.6M1091.2 1745.3h-12.6M1091.2 1658.8h-12.6M1129.2 1918.2v10.7M1186.1 1918.2v10.7M1242.7 1918.2v10.7" stroke="#000" stroke-width="2.7" fill="none"/>
<text class="s" font-size="19.3" text-anchor="end" transform="translate(1073.7 1925.1) scale(1.17 1)">0.0</text>
<text class="s" font-size="19.3" text-anchor="end" transform="translate(1073.7 1838.7) scale(1.17 1)">0.5</text>
<text class="s" font-size="19.3" text-anchor="end" transform="translate(1073.7 1752.2) scale(1.17 1)">1.0</text>
<text class="s" font-size="19.3" text-anchor="end" transform="translate(1073.7 1665.8) scale(1.17 1)">1.5</text>
<text class="s" font-size="26.5" text-anchor="middle" textLength="301" lengthAdjust="spacingAndGlyphs" transform="translate(1028 1789.4) rotate(-90)">Relative expression of Rap1GAP</text>
<path d="M1457.8 1912.4V1810.2H1493V1912.4" stroke="#1414f0" stroke-width="2.7" fill="none"/>
<path d="M1475.4 1791V1827M1466 1791H1484.9M1466 1827H1484.9" stroke="#1414f0" stroke-width="1.3" fill="none"/>
<circle cx="1475.4" cy="1788.4" r="2.8" fill="#1414f0"/>
<circle cx="1475.4" cy="1815.6" r="2.8" fill="#1414f0"/>
<circle cx="1475.4" cy="1822" r="2.8" fill="#1414f0"/>
<path d="M1514.7 1912.4V1699.2H1549.9V1912.4" stroke="#d80c10" stroke-width="2.7" fill="none"/>
<path d="M1532.3 1679.4V1716.9M1522.8 1679.4H1541.8M1522.8 1716.9H1541.8" stroke="#d80c10" stroke-width="1.3" fill="none"/>
<rect x="1529.4" y="1679.4" width="5.9" height="5.9" fill="#d80c10"/>
<rect x="1529.4" y="1690.6" width="5.9" height="5.9" fill="#d80c10"/>
<rect x="1529.4" y="1716.6" width="5.9" height="5.9" fill="#d80c10"/>
<path d="M1571.6 1912.4V1794.3H1606.8V1912.4" stroke="#66bc2c" stroke-width="2.7" fill="none"/>
<path d="M1589.2 1776.8V1809.3M1579.8 1776.8H1598.7M1579.8 1809.3H1598.7" stroke="#66bc2c" stroke-width="1.3" fill="none"/>
<circle cx="1589.2" cy="1779.7" r="2.8" fill="#66bc2c"/>
<circle cx="1589.2" cy="1789" r="2.8" fill="#66bc2c"/>
<circle cx="1589.2" cy="1811.3" r="2.8" fill="#66bc2c"/>
<path d="M1437.6 1651.8V1912.4M1424.8 1912.4H1629.2M1437.6 1860.6h-12.8M1437.6 1808.7h-12.8M1437.6 1756.9h-12.8M1437.6 1705h-12.8M1437.6 1653.2h-12.8M1475.2 1912.4v11.3M1531.9 1912.4v11.3M1589.3 1912.4v11.3" stroke="#000" stroke-width="2.7" fill="none"/>
<text class="s" font-size="19.3" text-anchor="end" transform="translate(1419.9 1919.3) scale(1.17 1)">0.0</text>
<text class="s" font-size="19.3" text-anchor="end" transform="translate(1419.9 1867.5) scale(1.17 1)">0.5</text>
<text class="s" font-size="19.3" text-anchor="end" transform="translate(1419.9 1815.6) scale(1.17 1)">1.0</text>
<text class="s" font-size="19.3" text-anchor="end" transform="translate(1419.9 1763.8) scale(1.17 1)">1.5</text>
<text class="s" font-size="19.3" text-anchor="end" transform="translate(1419.9 1711.9) scale(1.17 1)">2.0</text>
<text class="s" font-size="19.3" text-anchor="end" transform="translate(1419.9 1660.1) scale(1.17 1)">2.5</text>
<text class="s" font-size="26.5" text-anchor="middle" textLength="241" lengthAdjust="spacingAndGlyphs" transform="translate(1374 1783) rotate(-90)">Relative level of p-ERK1/2</text>
<text class="s" font-size="20" text-anchor="end" transform="translate(1139 1941) scale(1.2 1) rotate(-45)">Control</text>
<text class="s" font-size="20" text-anchor="end" transform="translate(1190 1942) scale(1.2 1) rotate(-45)">CUMS</text>
<text class="s" font-size="20" text-anchor="end" transform="translate(1251 1941) scale(1.2 1) rotate(-45)">CUMS+CLM</text>
<text class="s" font-size="20" text-anchor="end" transform="translate(1484 1937) scale(1.2 1) rotate(-45)">Control</text>
<text class="s" font-size="20" text-anchor="end" transform="translate(1535 1938) scale(1.2 1) rotate(-45)">CUMS</text>
<text class="s" font-size="20" text-anchor="end" transform="translate(1596 1936) scale(1.2 1) rotate(-45)">CUMS+CLM</text>
<text class="s" x="1188.2" y="1823.5" font-size="28" text-anchor="middle" letter-spacing="2.5">**</text>
<text class="s" x="1246" y="1761.5" font-size="17" text-anchor="middle" textLength="24.3" lengthAdjust="spacingAndGlyphs">##</text>
<text class="s" x="1531.9" y="1683" font-size="28" text-anchor="middle" letter-spacing="2.5">**</text>
<text class="s" x="1591.7" y="1767.5" font-size="17" text-anchor="middle" textLength="25" lengthAdjust="spacingAndGlyphs">##</text>
<defs>
<filter id="b1" x="-20%" y="-50%" width="140%" height="200%"><feGaussianBlur stdDeviation="3.2 1.9"/></filter>
<filter id="b2" x="-20%" y="-50%" width="140%" height="200%"><feGaussianBlur stdDeviation="3 2.2"/></filter>
<filter id="b3" x="-30%" y="-30%" width="160%" height="160%"><feGaussianBlur stdDeviation="5 4"/></filter>
<filter id="b4" x="-20%" y="-50%" width="140%" height="200%"><feGaussianBlur stdDeviation="2.2 1.6"/></filter>
<linearGradient id="bg1" x1="0" y1="0" x2="1" y2="0.2"><stop offset="0" stop-color="#dadada"/><stop offset="0.35" stop-color="#e8e8e8"/><stop offset="1" stop-color="#efefef"/></linearGradient>
<linearGradient id="bg3" x1="0" y1="0" x2="1" y2="0"><stop offset="0" stop-color="#8c8c8c"/><stop offset="0.63" stop-color="#909090"/><stop offset="0.7" stop-color="#b0b0b0"/><stop offset="1" stop-color="#b2b2b2"/></linearGradient>
<linearGradient id="bg2" x1="0" y1="0" x2="0" y2="1"><stop offset="0" stop-color="#bdbdbd"/><stop offset="0.15" stop-color="#c9c9c9"/><stop offset="0.85" stop-color="#cdcdcd"/><stop offset="1" stop-color="#bcbcbc"/></linearGradient>
<clipPath id="c1"><rect x="238.7" y="1696.8" width="524.5" height="53.4"/></clipPath>
<clipPath id="c2"><rect x="238.7" y="1767.3" width="524.5" height="54.3"/></clipPath>
<clipPath id="c3"><rect x="238.7" y="1834.9" width="524.5" height="55.6"/></clipPath>
<clipPath id="c4"><rect x="238.7" y="1903.8" width="524.5" height="55.9"/></clipPath>
</defs>
<text class="s" x="310" y="1667.3" font-size="26.5" text-anchor="middle">Control</text>
<path d="M247.7 1681.9H397" stroke="#000" stroke-width="3" stroke-linecap="round"/>
<text class="s" x="496" y="1667.3" font-size="26.5" text-anchor="middle">CUMS</text>
<path d="M421.5 1681.9H570.8" stroke="#000" stroke-width="3" stroke-linecap="round"/>
<text class="s" x="677" y="1667.3" font-size="26.5" text-anchor="middle">CUMS+CLM</text>
<path d="M594.7 1681.9H744.3" stroke="#000" stroke-width="3" stroke-linecap="round"/>
<text class="s" x="225.7" y="1736.5" font-size="26.4" text-anchor="end">Rap1GAP</text>
<text class="s" x="225.7" y="1804.2" font-size="26.4" text-anchor="end">ERK1/2</text>
<text class="s" x="225.7" y="1871.9" font-size="26.4" text-anchor="end">p-ERK1/2</text>
<text class="s" x="225.7" y="1940.5" font-size="26.4" text-anchor="end">GAPDH</text>
<g clip-path="url(#c1)">
<rect x="238.7" y="1696.8" width="524.5" height="53.4" fill="url(#bg1)"/>
<g filter="url(#b1)">
<rect x="246.5" y="1723.2" width="54" height="14.5" rx="7.2" fill="#000"/>
<rect x="304.9" y="1721.3" width="52" height="19" rx="9.5" fill="#000"/>
<rect x="362.7" y="1724" width="48" height="11" rx="5.5" fill="#000"/>
<rect x="419.5" y="1724.2" width="48" height="7.5" rx="3.8" fill="#1c1c1c" fill-opacity="0.9"/>
<rect x="476" y="1723.5" width="48" height="7.5" rx="3.8" fill="#1c1c1c" fill-opacity="0.9"/>
<rect x="531.9" y="1723.8" width="48" height="7" rx="3.5" fill="#1c1c1c" fill-opacity="0.85"/>
<rect x="589.3" y="1722.5" width="48" height="9" rx="4.5" fill="#080808"/>
<rect x="646.7" y="1722.3" width="48" height="8.5" rx="4.2" fill="#0a0a0a"/>
<rect x="704.1" y="1721.5" width="48" height="9" rx="4.5" fill="#040404"/>
<rect x="253.5" y="1741" width="40" height="8" rx="4" fill="#888" fill-opacity="0.3"/>
<rect x="308.9" y="1743" width="44" height="8" rx="4" fill="#666" fill-opacity="0.5"/>
<rect x="367.7" y="1741.5" width="38" height="7" rx="3.5" fill="#999" fill-opacity="0.3"/>
<rect x="244" y="1704" width="36" height="16" rx="8" fill="#888" fill-opacity="0.4"/>
<rect x="248" y="1717" width="16" height="10" rx="5" fill="#222" fill-opacity="0.7"/>
<rect x="625" y="1724" width="18" height="9" rx="4.5" fill="#000" fill-opacity="0.9"/>
<rect x="732" y="1720" width="20" height="10" rx="5" fill="#000"/>
</g></g>
<rect x="238.7" y="1696.8" width="524.5" height="53.4" fill="none" stroke="#000" stroke-width="1.6"/>
<g clip-path="url(#c2)">
<rect x="238.7" y="1767.3" width="524.5" height="54.3" fill="url(#bg2)"/>
<g filter="url(#b3)">
<rect x="251.5" y="1776" width="44" height="34" rx="6" fill="#484848" fill-opacity="0.9"/>
<rect x="308.9" y="1776" width="44" height="34" rx="6" fill="#484848" fill-opacity="0.9"/>
<rect x="364.7" y="1776" width="44" height="34" rx="6" fill="#484848" fill-opacity="0.9"/>
<rect x="421.5" y="1776" width="44" height="34" rx="6" fill="#484848" fill-opacity="0.9"/>
<rect x="478" y="1776" width="44" height="34" rx="6" fill="#484848" fill-opacity="0.9"/>
<rect x="533.9" y="1776" width="44" height="34" rx="6" fill="#484848" fill-opacity="0.9"/>
<rect x="591.3" y="1776" width="44" height="34" rx="6" fill="#484848" fill-opacity="0.9"/>
<rect x="648.7" y="1776" width="44" height="34" rx="6" fill="#484848" fill-opacity="0.9"/>
<rect x="706.1" y="1776" width="44" height="34" rx="6" fill="#484848" fill-opacity="0.9"/>
</g><g filter="url(#b1)">
<rect x="251" y="1778.5" width="45" height="9.5" rx="4.8" fill="#0c0c0c" fill-opacity="0.8"/>
<rect x="251" y="1795.6" width="45" height="10" rx="5" fill="#080808" fill-opacity="0.8500000000000001"/>
<rect x="308.4" y="1778.5" width="45" height="9.5" rx="4.8" fill="#0c0c0c" fill-opacity="0.85"/>
<rect x="308.4" y="1795.6" width="45" height="10" rx="5" fill="#080808" fill-opacity="0.9"/>
<rect x="364.2" y="1778.5" width="45" height="9.5" rx="4.8" fill="#0c0c0c" fill-opacity="0.75"/>
<rect x="364.2" y="1795.6" width="45" height="10" rx="5" fill="#080808" fill-opacity="0.8"/>
<rect x="421" y="1778.5" width="45" height="9.5" rx="4.8" fill="#0c0c0c" fill-opacity="0.9"/>
<rect x="421" y="1795.6" width="45" height="10" rx="5" fill="#080808" fill-opacity="0.9500000000000001"/>
<rect x="477.5" y="1778.5" width="45" height="9.5" rx="4.8" fill="#0c0c0c" fill-opacity="0.88"/>
<rect x="477.5" y="1795.6" width="45" height="10" rx="5" fill="#080808" fill-opacity="0.93"/>
<rect x="533.4" y="1778.5" width="45" height="9.5" rx="4.8" fill="#0c0c0c" fill-opacity="0.92"/>
<rect x="533.4" y="1795.6" width="45" height="10" rx="5" fill="#080808" fill-opacity="0.9700000000000001"/>
<rect x="590.8" y="1778.5" width="45" height="9.5" rx="4.8" fill="#0c0c0c" fill-opacity="0.92"/>
<rect x="590.8" y="1795.6" width="45" height="10" rx="5" fill="#080808" fill-opacity="0.9700000000000001"/>
<rect x="648.2" y="1778.5" width="45" height="9.5" rx="4.8" fill="#0c0c0c" fill-opacity="0.88"/>
<rect x="648.2" y="1795.6" width="45" height="10" rx="5" fill="#080808" fill-opacity="0.93"/>
<rect x="705.6" y="1778.5" width="45" height="9.5" rx="4.8" fill="#0c0c0c"/>
<rect x="705.6" y="1795.6" width="45" height="10" rx="5" fill="#080808"/>
</g></g>
<rect x="238.7" y="1767.3" width="524.5" height="54.3" fill="none" stroke="#000" stroke-width="1.6"/>
<g clip-path="url(#c3)">
<rect x="238.7" y="1834.9" width="524.5" height="55.6" fill="url(#bg3)"/>
<g filter="url(#b3)">
<rect x="252.5" y="1848" width="42" height="52" rx="4" fill="#505050" fill-opacity="0.7"/>
<rect x="309.9" y="1848" width="42" height="52" rx="4" fill="#484848" fill-opacity="0.78"/>
<rect x="365.7" y="1848" width="42" height="52" rx="4" fill="#525252" fill-opacity="0.68"/>
<rect x="422.5" y="1848" width="42" height="52" rx="4" fill="#141414" fill-opacity="0.92"/>
<rect x="479" y="1848" width="42" height="52" rx="4" fill="#2a2a2a" fill-opacity="0.85"/>
<rect x="534.9" y="1848" width="42" height="52" rx="4" fill="#262626" fill-opacity="0.88"/>
<rect x="592.3" y="1848" width="42" height="52" rx="4" fill="#8a8a8a" fill-opacity="0.5"/>
<rect x="649.7" y="1848" width="42" height="52" rx="4" fill="#7c7c7c" fill-opacity="0.6"/>
<rect x="707.1" y="1848" width="42" height="52" rx="4" fill="#747474" fill-opacity="0.62"/>
</g><g filter="url(#b2)">
<rect x="253.5" y="1851" width="40" height="7" rx="3.5" fill="#1a1a1a" fill-opacity="0.25"/>
<rect x="253.5" y="1866" width="40" height="7" rx="3.5" fill="#1a1a1a" fill-opacity="0.2"/>
<rect x="310.9" y="1851" width="40" height="7" rx="3.5" fill="#1a1a1a" fill-opacity="0.3"/>
<rect x="310.9" y="1866" width="40" height="7" rx="3.5" fill="#1a1a1a" fill-opacity="0.24"/>
<rect x="366.7" y="1851" width="40" height="7" rx="3.5" fill="#1a1a1a" fill-opacity="0.2"/>
<rect x="366.7" y="1866" width="40" height="7" rx="3.5" fill="#1a1a1a" fill-opacity="0.16000000000000003"/>
<rect x="423.5" y="1851" width="40" height="7" rx="3.5" fill="#1a1a1a" fill-opacity="0.6"/>
<rect x="423.5" y="1866" width="40" height="7" rx="3.5" fill="#1a1a1a" fill-opacity="0.48"/>
<rect x="480" y="1851" width="40" height="7" rx="3.5" fill="#1a1a1a" fill-opacity="0.4"/>
<rect x="480" y="1866" width="40" height="7" rx="3.5" fill="#1a1a1a" fill-opacity="0.32000000000000006"/>
<rect x="535.9" y="1851" width="40" height="7" rx="3.5" fill="#1a1a1a" fill-opacity="0.45"/>
<rect x="535.9" y="1866" width="40" height="7" rx="3.5" fill="#1a1a1a" fill-opacity="0.36000000000000004"/>
<rect x="593.3" y="1851" width="40" height="7" rx="3.5" fill="#1a1a1a" fill-opacity="0.1"/>
<rect x="593.3" y="1866" width="40" height="7" rx="3.5" fill="#1a1a1a" fill-opacity="0.08000000000000002"/>
<rect x="650.7" y="1851" width="40" height="7" rx="3.5" fill="#1a1a1a" fill-opacity="0.18"/>
<rect x="650.7" y="1866" width="40" height="7" rx="3.5" fill="#1a1a1a" fill-opacity="0.144"/>
<rect x="708.1" y="1851" width="40" height="7" rx="3.5" fill="#1a1a1a" fill-opacity="0.2"/>
<rect x="708.1" y="1866" width="40" height="7" rx="3.5" fill="#1a1a1a" fill-opacity="0.16000000000000003"/>
</g></g>
<rect x="238.7" y="1834.9" width="524.5" height="55.6" fill="none" stroke="#000" stroke-width="1.6"/>
<g clip-path="url(#c4)">
<rect x="238.7" y="1903.8" width="524.5" height="55.9" fill="#f1f1f1"/>
<g filter="url(#b4)">
<rect x="252.5" y="1924.1" width="45" height="13" rx="6.5" fill="#000"/>
<rect x="308.4" y="1922.3" width="45" height="16.5" rx="8.2" fill="#000"/>
<rect x="365.1" y="1924.3" width="42" height="12.5" rx="6.2" fill="#000"/>
<rect x="419.2" y="1922.8" width="45" height="15.5" rx="7.8" fill="#000"/>
<rect x="476.5" y="1923.1" width="44" height="15" rx="7.5" fill="#000"/>
<rect x="530.8" y="1922.1" width="47" height="17" rx="8.5" fill="#000"/>
<rect x="589.2" y="1923.3" width="42" height="14.5" rx="7.2" fill="#000"/>
<rect x="644.5" y="1922.8" width="45" height="15.5" rx="7.8" fill="#000"/>
<rect x="701.5" y="1923.8" width="44" height="13.5" rx="6.8" fill="#000"/>
</g></g>
<rect x="238.7" y="1903.8" width="524.5" height="55.9" fill="none" stroke="#000" stroke-width="1.6"/>
<text class="s" font-size="47.4" font-weight="bold" transform="translate(2 36.9) scale(1 1.062)">A</text>
<text class="s" font-size="47.4" font-weight="bold" transform="translate(492 36.9) scale(1 1.062)">B</text>
<text class="s" font-size="47.4" font-weight="bold" transform="translate(1047.3 36.8) scale(1 1.062)">C</text>
<text class="s" font-size="47.4" font-weight="bold" transform="translate(2.2 655) scale(1 1.062)">D</text>
<text class="s" font-size="47.4" font-weight="bold" transform="translate(648.9 655) scale(1 1.062)">E</text>
<text class="s" font-size="47.4" font-weight="bold" transform="translate(1331.5 655) scale(1 1.062)">F</text>
<text class="s" font-size="47.4" font-weight="bold" transform="translate(2.9 1273.4) scale(1 1.062)">G</text>
<text class="s" font-size="47.4" font-weight="bold" transform="translate(874 1273.6) scale(1 1.062)">H</text>
<text class="s" font-size="47.4" font-weight="bold" transform="translate(2 1667) scale(1 1.062)">I</text>
<text class="s" font-size="47.4" font-weight="bold" transform="translate(876.2 1667.2) scale(1 1.062)">J</text>
</svg>
</body></html>
